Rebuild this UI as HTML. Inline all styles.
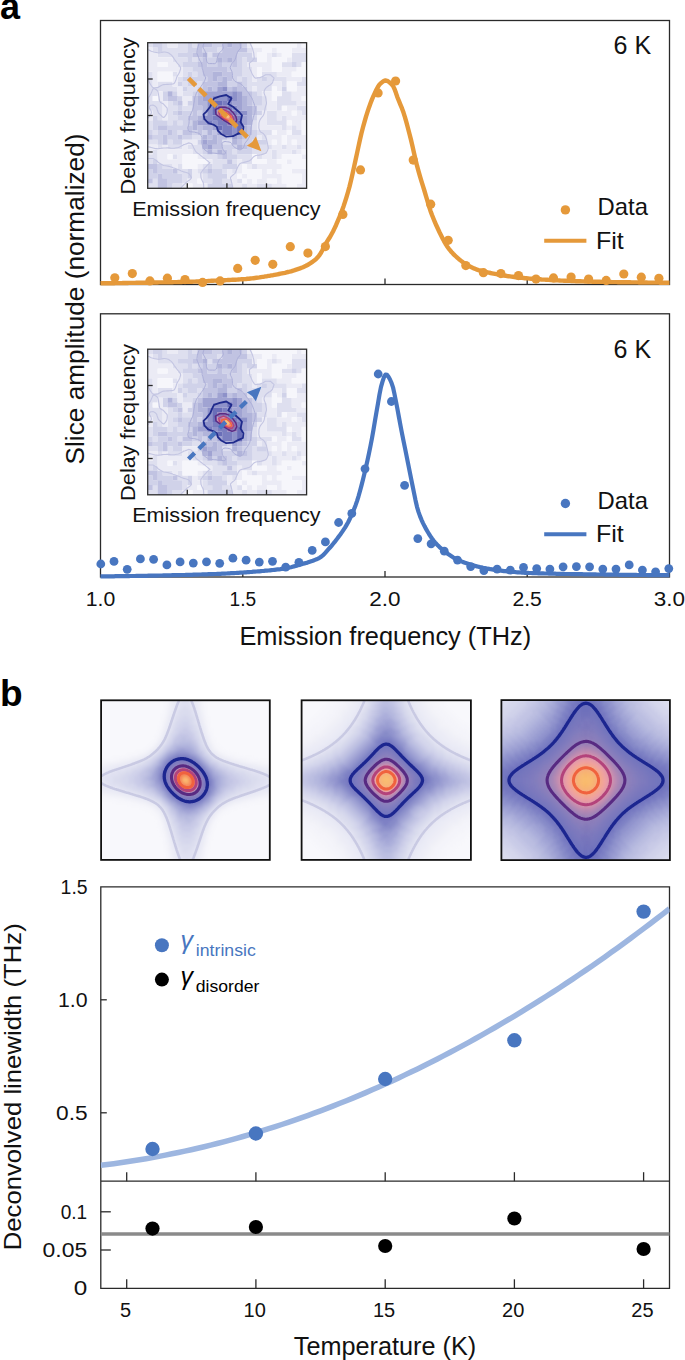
<!DOCTYPE html>
<html><head><meta charset="utf-8"><style>
html,body{margin:0;padding:0;background:#fff;}
svg{display:block;font-family:'Liberation Sans', sans-serif;}
</style></head><body>
<svg width="685" height="1360" viewBox="0 0 685 1360">
<defs>
<g id="hm">
<path d="M0.00 0.00h5.02v4.90h-5.02zM14.90 0.00h5.02v4.90h-5.02zM29.79 0.00h5.02v4.90h-5.02zM34.76 0.00h5.02v4.90h-5.02zM44.69 0.00h5.02v4.90h-5.02zM4.97 4.85h5.02v4.90h-5.02zM14.90 4.85h5.02v4.90h-5.02zM19.86 4.85h5.02v4.90h-5.02zM24.83 4.85h5.02v4.90h-5.02zM29.79 4.85h5.02v4.90h-5.02zM34.76 4.85h5.02v4.90h-5.02zM69.52 4.85h5.02v4.90h-5.02zM99.31 4.85h5.02v4.90h-5.02zM9.93 9.71h5.02v4.90h-5.02zM14.90 9.71h5.02v4.90h-5.02zM19.86 9.71h5.02v4.90h-5.02zM24.83 9.71h5.02v4.90h-5.02zM59.59 9.71h5.02v4.90h-5.02zM124.14 9.71h5.02v4.90h-5.02zM144.00 9.71h5.02v4.90h-5.02zM148.97 9.71h5.02v4.90h-5.02zM153.93 9.71h5.02v4.90h-5.02zM24.83 14.56h5.02v4.90h-5.02zM29.79 14.56h5.02v4.90h-5.02zM34.76 14.56h5.02v4.90h-5.02zM44.69 14.56h5.02v4.90h-5.02zM94.35 14.56h5.02v4.90h-5.02zM144.00 14.56h5.02v4.90h-5.02zM148.97 14.56h5.02v4.90h-5.02zM153.93 14.56h5.02v4.90h-5.02zM29.79 19.41h5.02v4.90h-5.02zM94.35 19.41h5.02v4.90h-5.02zM134.07 19.41h5.02v4.90h-5.02zM139.04 19.41h5.02v4.90h-5.02zM148.97 19.41h5.02v4.90h-5.02zM34.76 24.27h5.02v4.90h-5.02zM39.73 24.27h5.02v4.90h-5.02zM94.35 24.27h5.02v4.90h-5.02zM99.31 24.27h5.02v4.90h-5.02zM0.00 29.12h5.02v4.90h-5.02zM24.83 29.12h5.02v4.90h-5.02zM34.76 29.12h5.02v4.90h-5.02zM44.69 29.12h5.02v4.90h-5.02zM94.35 29.12h5.02v4.90h-5.02zM99.31 29.12h5.02v4.90h-5.02zM114.21 29.12h5.02v4.90h-5.02zM119.18 29.12h5.02v4.90h-5.02zM124.14 29.12h5.02v4.90h-5.02zM0.00 33.97h5.02v4.90h-5.02zM29.79 33.97h5.02v4.90h-5.02zM89.38 33.97h5.02v4.90h-5.02zM99.31 33.97h5.02v4.90h-5.02zM109.24 33.97h5.02v4.90h-5.02zM119.18 33.97h5.02v4.90h-5.02zM124.14 33.97h5.02v4.90h-5.02zM129.11 33.97h5.02v4.90h-5.02zM134.07 33.97h5.02v4.90h-5.02zM153.93 33.97h5.02v4.90h-5.02zM0.00 38.83h5.02v4.90h-5.02zM9.93 38.83h5.02v4.90h-5.02zM14.90 38.83h5.02v4.90h-5.02zM19.86 38.83h5.02v4.90h-5.02zM34.76 38.83h5.02v4.90h-5.02zM49.66 38.83h5.02v4.90h-5.02zM99.31 38.83h5.02v4.90h-5.02zM104.28 38.83h5.02v4.90h-5.02zM109.24 38.83h5.02v4.90h-5.02zM114.21 38.83h5.02v4.90h-5.02zM119.18 38.83h5.02v4.90h-5.02zM134.07 38.83h5.02v4.90h-5.02zM148.97 38.83h5.02v4.90h-5.02zM153.93 38.83h5.02v4.90h-5.02zM0.00 43.68h5.02v4.90h-5.02zM4.97 43.68h5.02v4.90h-5.02zM9.93 43.68h5.02v4.90h-5.02zM14.90 43.68h5.02v4.90h-5.02zM19.86 43.68h5.02v4.90h-5.02zM24.83 43.68h5.02v4.90h-5.02zM39.73 43.68h5.02v4.90h-5.02zM44.69 43.68h5.02v4.90h-5.02zM99.31 43.68h5.02v4.90h-5.02zM109.24 43.68h5.02v4.90h-5.02zM114.21 43.68h5.02v4.90h-5.02zM119.18 43.68h5.02v4.90h-5.02zM0.00 48.53h5.02v4.90h-5.02zM4.97 48.53h5.02v4.90h-5.02zM34.76 48.53h5.02v4.90h-5.02zM39.73 48.53h5.02v4.90h-5.02zM109.24 48.53h5.02v4.90h-5.02zM134.07 48.53h5.02v4.90h-5.02zM139.04 48.53h5.02v4.90h-5.02zM0.00 53.39h5.02v4.90h-5.02zM114.21 53.39h5.02v4.90h-5.02zM129.11 53.39h5.02v4.90h-5.02zM134.07 53.39h5.02v4.90h-5.02zM139.04 53.39h5.02v4.90h-5.02zM0.00 58.24h5.02v4.90h-5.02zM4.97 58.24h5.02v4.90h-5.02zM9.93 58.24h5.02v4.90h-5.02zM19.86 58.24h5.02v4.90h-5.02zM114.21 58.24h5.02v4.90h-5.02zM129.11 58.24h5.02v4.90h-5.02zM134.07 58.24h5.02v4.90h-5.02zM139.04 58.24h5.02v4.90h-5.02zM144.00 58.24h5.02v4.90h-5.02zM0.00 63.09h5.02v4.90h-5.02zM4.97 63.09h5.02v4.90h-5.02zM9.93 63.09h5.02v4.90h-5.02zM19.86 63.09h5.02v4.90h-5.02zM24.83 63.09h5.02v4.90h-5.02zM34.76 63.09h5.02v4.90h-5.02zM39.73 63.09h5.02v4.90h-5.02zM109.24 63.09h5.02v4.90h-5.02zM114.21 63.09h5.02v4.90h-5.02zM129.11 63.09h5.02v4.90h-5.02zM148.97 63.09h5.02v4.90h-5.02zM153.93 63.09h5.02v4.90h-5.02zM4.97 67.95h5.02v4.90h-5.02zM9.93 67.95h5.02v4.90h-5.02zM19.86 67.95h5.02v4.90h-5.02zM119.18 67.95h5.02v4.90h-5.02zM124.14 67.95h5.02v4.90h-5.02zM153.93 67.95h5.02v4.90h-5.02zM9.93 72.80h5.02v4.90h-5.02zM19.86 72.80h5.02v4.90h-5.02zM24.83 72.80h5.02v4.90h-5.02zM119.18 72.80h5.02v4.90h-5.02zM124.14 72.80h5.02v4.90h-5.02zM134.07 72.80h5.02v4.90h-5.02zM0.00 77.65h5.02v4.90h-5.02zM19.86 77.65h5.02v4.90h-5.02zM29.79 77.65h5.02v4.90h-5.02zM104.28 77.65h5.02v4.90h-5.02zM119.18 77.65h5.02v4.90h-5.02zM124.14 77.65h5.02v4.90h-5.02zM129.11 77.65h5.02v4.90h-5.02zM134.07 77.65h5.02v4.90h-5.02zM0.00 82.51h5.02v4.90h-5.02zM104.28 82.51h5.02v4.90h-5.02zM134.07 82.51h5.02v4.90h-5.02zM144.00 82.51h5.02v4.90h-5.02zM4.97 87.36h5.02v4.90h-5.02zM29.79 87.36h5.02v4.90h-5.02zM109.24 87.36h5.02v4.90h-5.02zM114.21 87.36h5.02v4.90h-5.02zM119.18 87.36h5.02v4.90h-5.02zM144.00 87.36h5.02v4.90h-5.02zM148.97 87.36h5.02v4.90h-5.02zM44.69 92.21h5.02v4.90h-5.02zM49.66 92.21h5.02v4.90h-5.02zM114.21 92.21h5.02v4.90h-5.02zM0.00 97.07h5.02v4.90h-5.02zM4.97 97.07h5.02v4.90h-5.02zM19.86 97.07h5.02v4.90h-5.02zM74.48 97.07h5.02v4.90h-5.02zM79.45 97.07h5.02v4.90h-5.02zM104.28 97.07h5.02v4.90h-5.02zM9.93 101.92h5.02v4.90h-5.02zM19.86 101.92h5.02v4.90h-5.02zM24.83 101.92h5.02v4.90h-5.02zM29.79 101.92h5.02v4.90h-5.02zM39.73 101.92h5.02v4.90h-5.02zM44.69 101.92h5.02v4.90h-5.02zM49.66 101.92h5.02v4.90h-5.02zM104.28 101.92h5.02v4.90h-5.02zM109.24 101.92h5.02v4.90h-5.02zM114.21 101.92h5.02v4.90h-5.02zM119.18 101.92h5.02v4.90h-5.02zM134.07 101.92h5.02v4.90h-5.02zM148.97 101.92h5.02v4.90h-5.02zM4.97 106.77h5.02v4.90h-5.02zM44.69 106.77h5.02v4.90h-5.02zM49.66 106.77h5.02v4.90h-5.02zM84.42 106.77h5.02v4.90h-5.02zM104.28 106.77h5.02v4.90h-5.02zM109.24 106.77h5.02v4.90h-5.02zM114.21 106.77h5.02v4.90h-5.02zM124.14 106.77h5.02v4.90h-5.02zM144.00 106.77h5.02v4.90h-5.02zM0.00 111.63h5.02v4.90h-5.02zM4.97 111.63h5.02v4.90h-5.02zM24.83 111.63h5.02v4.90h-5.02zM54.62 111.63h5.02v4.90h-5.02zM59.59 111.63h5.02v4.90h-5.02zM64.55 111.63h5.02v4.90h-5.02zM89.38 111.63h5.02v4.90h-5.02zM94.35 111.63h5.02v4.90h-5.02zM99.31 111.63h5.02v4.90h-5.02zM109.24 111.63h5.02v4.90h-5.02zM124.14 111.63h5.02v4.90h-5.02zM0.00 116.48h5.02v4.90h-5.02zM64.55 116.48h5.02v4.90h-5.02zM69.52 116.48h5.02v4.90h-5.02zM74.48 116.48h5.02v4.90h-5.02zM84.42 116.48h5.02v4.90h-5.02zM94.35 116.48h5.02v4.90h-5.02zM99.31 116.48h5.02v4.90h-5.02zM14.90 121.33h5.02v4.90h-5.02zM19.86 121.33h5.02v4.90h-5.02zM29.79 121.33h5.02v4.90h-5.02zM54.62 121.33h5.02v4.90h-5.02zM64.55 121.33h5.02v4.90h-5.02zM69.52 121.33h5.02v4.90h-5.02zM104.28 121.33h5.02v4.90h-5.02zM29.79 126.19h5.02v4.90h-5.02zM34.76 126.19h5.02v4.90h-5.02zM49.66 126.19h5.02v4.90h-5.02zM74.48 126.19h5.02v4.90h-5.02zM84.42 126.19h5.02v4.90h-5.02zM34.76 131.04h5.02v4.90h-5.02zM54.62 131.04h5.02v4.90h-5.02zM4.97 135.89h5.02v4.90h-5.02zM34.76 135.89h5.02v4.90h-5.02zM54.62 135.89h5.02v4.90h-5.02zM59.59 135.89h5.02v4.90h-5.02zM74.48 135.89h5.02v4.90h-5.02zM79.45 135.89h5.02v4.90h-5.02zM89.38 135.89h5.02v4.90h-5.02zM0.00 140.75h5.02v4.90h-5.02zM4.97 140.75h5.02v4.90h-5.02zM24.83 140.75h5.02v4.90h-5.02zM29.79 140.75h5.02v4.90h-5.02zM94.35 140.75h5.02v4.90h-5.02zM109.24 140.75h5.02v4.90h-5.02zM114.21 140.75h5.02v4.90h-5.02zM119.18 140.75h5.02v4.90h-5.02z" fill="#dedfef"/>
<path d="M4.97 0.00h5.02v4.90h-5.02zM9.93 0.00h5.02v4.90h-5.02zM39.73 0.00h5.02v4.90h-5.02zM64.55 0.00h5.02v4.90h-5.02zM69.52 0.00h5.02v4.90h-5.02zM94.35 0.00h5.02v4.90h-5.02zM9.93 4.85h5.02v4.90h-5.02zM39.73 4.85h5.02v4.90h-5.02zM44.69 4.85h5.02v4.90h-5.02zM54.62 4.85h5.02v4.90h-5.02zM59.59 4.85h5.02v4.90h-5.02zM64.55 4.85h5.02v4.90h-5.02zM29.79 9.71h5.02v4.90h-5.02zM34.76 9.71h5.02v4.90h-5.02zM39.73 9.71h5.02v4.90h-5.02zM89.38 9.71h5.02v4.90h-5.02zM94.35 9.71h5.02v4.90h-5.02zM99.31 9.71h5.02v4.90h-5.02zM39.73 14.56h5.02v4.90h-5.02zM49.66 14.56h5.02v4.90h-5.02zM59.59 14.56h5.02v4.90h-5.02zM64.55 14.56h5.02v4.90h-5.02zM89.38 14.56h5.02v4.90h-5.02zM99.31 14.56h5.02v4.90h-5.02zM104.28 14.56h5.02v4.90h-5.02zM34.76 19.41h5.02v4.90h-5.02zM39.73 19.41h5.02v4.90h-5.02zM44.69 19.41h5.02v4.90h-5.02zM59.59 19.41h5.02v4.90h-5.02zM64.55 19.41h5.02v4.90h-5.02zM74.48 19.41h5.02v4.90h-5.02zM79.45 19.41h5.02v4.90h-5.02zM89.38 19.41h5.02v4.90h-5.02zM144.00 19.41h5.02v4.90h-5.02zM44.69 24.27h5.02v4.90h-5.02zM49.66 24.27h5.02v4.90h-5.02zM79.45 24.27h5.02v4.90h-5.02zM84.42 24.27h5.02v4.90h-5.02zM89.38 24.27h5.02v4.90h-5.02zM39.73 29.12h5.02v4.90h-5.02zM49.66 29.12h5.02v4.90h-5.02zM84.42 29.12h5.02v4.90h-5.02zM89.38 29.12h5.02v4.90h-5.02zM34.76 33.97h5.02v4.90h-5.02zM39.73 33.97h5.02v4.90h-5.02zM44.69 33.97h5.02v4.90h-5.02zM49.66 33.97h5.02v4.90h-5.02zM54.62 33.97h5.02v4.90h-5.02zM84.42 33.97h5.02v4.90h-5.02zM94.35 33.97h5.02v4.90h-5.02zM114.21 33.97h5.02v4.90h-5.02zM29.79 38.83h5.02v4.90h-5.02zM39.73 38.83h5.02v4.90h-5.02zM44.69 38.83h5.02v4.90h-5.02zM79.45 38.83h5.02v4.90h-5.02zM84.42 38.83h5.02v4.90h-5.02zM94.35 38.83h5.02v4.90h-5.02zM34.76 43.68h5.02v4.90h-5.02zM49.66 43.68h5.02v4.90h-5.02zM134.07 43.68h5.02v4.90h-5.02zM14.90 48.53h5.02v4.90h-5.02zM24.83 48.53h5.02v4.90h-5.02zM44.69 48.53h5.02v4.90h-5.02zM104.28 48.53h5.02v4.90h-5.02zM14.90 53.39h5.02v4.90h-5.02zM29.79 53.39h5.02v4.90h-5.02zM104.28 53.39h5.02v4.90h-5.02zM109.24 53.39h5.02v4.90h-5.02zM24.83 58.24h5.02v4.90h-5.02zM39.73 58.24h5.02v4.90h-5.02zM104.28 58.24h5.02v4.90h-5.02zM109.24 58.24h5.02v4.90h-5.02zM29.79 63.09h5.02v4.90h-5.02zM24.83 67.95h5.02v4.90h-5.02zM34.76 67.95h5.02v4.90h-5.02zM39.73 67.95h5.02v4.90h-5.02zM49.66 67.95h5.02v4.90h-5.02zM109.24 67.95h5.02v4.90h-5.02zM4.97 72.80h5.02v4.90h-5.02zM29.79 72.80h5.02v4.90h-5.02zM34.76 72.80h5.02v4.90h-5.02zM104.28 72.80h5.02v4.90h-5.02zM4.97 77.65h5.02v4.90h-5.02zM9.93 77.65h5.02v4.90h-5.02zM14.90 77.65h5.02v4.90h-5.02zM24.83 77.65h5.02v4.90h-5.02zM34.76 77.65h5.02v4.90h-5.02zM39.73 77.65h5.02v4.90h-5.02zM4.97 82.51h5.02v4.90h-5.02zM19.86 82.51h5.02v4.90h-5.02zM24.83 82.51h5.02v4.90h-5.02zM29.79 82.51h5.02v4.90h-5.02zM34.76 82.51h5.02v4.90h-5.02zM0.00 87.36h5.02v4.90h-5.02zM9.93 87.36h5.02v4.90h-5.02zM14.90 87.36h5.02v4.90h-5.02zM24.83 87.36h5.02v4.90h-5.02zM44.69 87.36h5.02v4.90h-5.02zM54.62 87.36h5.02v4.90h-5.02zM104.28 87.36h5.02v4.90h-5.02zM4.97 92.21h5.02v4.90h-5.02zM9.93 92.21h5.02v4.90h-5.02zM19.86 92.21h5.02v4.90h-5.02zM24.83 92.21h5.02v4.90h-5.02zM34.76 92.21h5.02v4.90h-5.02zM39.73 92.21h5.02v4.90h-5.02zM79.45 92.21h5.02v4.90h-5.02zM99.31 92.21h5.02v4.90h-5.02zM104.28 92.21h5.02v4.90h-5.02zM9.93 97.07h5.02v4.90h-5.02zM24.83 97.07h5.02v4.90h-5.02zM29.79 97.07h5.02v4.90h-5.02zM49.66 97.07h5.02v4.90h-5.02zM94.35 97.07h5.02v4.90h-5.02zM99.31 97.07h5.02v4.90h-5.02zM109.24 97.07h5.02v4.90h-5.02zM114.21 97.07h5.02v4.90h-5.02zM74.48 101.92h5.02v4.90h-5.02zM79.45 101.92h5.02v4.90h-5.02zM84.42 101.92h5.02v4.90h-5.02zM99.31 101.92h5.02v4.90h-5.02zM54.62 106.77h5.02v4.90h-5.02zM64.55 106.77h5.02v4.90h-5.02zM79.45 106.77h5.02v4.90h-5.02zM89.38 106.77h5.02v4.90h-5.02zM94.35 106.77h5.02v4.90h-5.02zM99.31 106.77h5.02v4.90h-5.02zM69.52 111.63h5.02v4.90h-5.02zM79.45 111.63h5.02v4.90h-5.02zM84.42 111.63h5.02v4.90h-5.02zM4.97 116.48h5.02v4.90h-5.02zM9.93 121.33h5.02v4.90h-5.02zM59.59 121.33h5.02v4.90h-5.02zM74.48 121.33h5.02v4.90h-5.02zM79.45 121.33h5.02v4.90h-5.02zM84.42 121.33h5.02v4.90h-5.02zM0.00 126.19h5.02v4.90h-5.02zM9.93 126.19h5.02v4.90h-5.02zM14.90 126.19h5.02v4.90h-5.02zM19.86 126.19h5.02v4.90h-5.02zM39.73 126.19h5.02v4.90h-5.02zM54.62 126.19h5.02v4.90h-5.02zM64.55 126.19h5.02v4.90h-5.02zM69.52 126.19h5.02v4.90h-5.02zM0.00 131.04h5.02v4.90h-5.02zM4.97 131.04h5.02v4.90h-5.02zM14.90 131.04h5.02v4.90h-5.02zM19.86 131.04h5.02v4.90h-5.02zM24.83 131.04h5.02v4.90h-5.02zM29.79 131.04h5.02v4.90h-5.02zM39.73 131.04h5.02v4.90h-5.02zM59.59 131.04h5.02v4.90h-5.02zM64.55 131.04h5.02v4.90h-5.02zM69.52 131.04h5.02v4.90h-5.02zM74.48 131.04h5.02v4.90h-5.02zM19.86 135.89h5.02v4.90h-5.02zM24.83 135.89h5.02v4.90h-5.02zM29.79 135.89h5.02v4.90h-5.02zM64.55 135.89h5.02v4.90h-5.02zM69.52 135.89h5.02v4.90h-5.02zM19.86 140.75h5.02v4.90h-5.02zM59.59 140.75h5.02v4.90h-5.02zM64.55 140.75h5.02v4.90h-5.02zM69.52 140.75h5.02v4.90h-5.02zM74.48 140.75h5.02v4.90h-5.02zM79.45 140.75h5.02v4.90h-5.02z" fill="#d0d2e9"/>
<path d="M19.86 0.00h5.02v4.90h-5.02zM24.83 0.00h5.02v4.90h-5.02zM99.31 0.00h5.02v4.90h-5.02zM148.97 0.00h5.02v4.90h-5.02zM0.00 4.85h5.02v4.90h-5.02zM104.28 4.85h5.02v4.90h-5.02zM109.24 4.85h5.02v4.90h-5.02zM124.14 4.85h5.02v4.90h-5.02zM144.00 4.85h5.02v4.90h-5.02zM148.97 4.85h5.02v4.90h-5.02zM153.93 4.85h5.02v4.90h-5.02zM0.00 9.71h5.02v4.90h-5.02zM4.97 9.71h5.02v4.90h-5.02zM104.28 9.71h5.02v4.90h-5.02zM119.18 9.71h5.02v4.90h-5.02zM129.11 9.71h5.02v4.90h-5.02zM0.00 14.56h5.02v4.90h-5.02zM4.97 14.56h5.02v4.90h-5.02zM9.93 14.56h5.02v4.90h-5.02zM14.90 14.56h5.02v4.90h-5.02zM19.86 14.56h5.02v4.90h-5.02zM119.18 14.56h5.02v4.90h-5.02zM139.04 14.56h5.02v4.90h-5.02zM0.00 19.41h5.02v4.90h-5.02zM4.97 19.41h5.02v4.90h-5.02zM19.86 19.41h5.02v4.90h-5.02zM24.83 19.41h5.02v4.90h-5.02zM99.31 19.41h5.02v4.90h-5.02zM104.28 19.41h5.02v4.90h-5.02zM109.24 19.41h5.02v4.90h-5.02zM114.21 19.41h5.02v4.90h-5.02zM119.18 19.41h5.02v4.90h-5.02zM0.00 24.27h5.02v4.90h-5.02zM4.97 24.27h5.02v4.90h-5.02zM9.93 24.27h5.02v4.90h-5.02zM14.90 24.27h5.02v4.90h-5.02zM19.86 24.27h5.02v4.90h-5.02zM24.83 24.27h5.02v4.90h-5.02zM29.79 24.27h5.02v4.90h-5.02zM104.28 24.27h5.02v4.90h-5.02zM114.21 24.27h5.02v4.90h-5.02zM119.18 24.27h5.02v4.90h-5.02zM134.07 24.27h5.02v4.90h-5.02zM139.04 24.27h5.02v4.90h-5.02zM144.00 24.27h5.02v4.90h-5.02zM4.97 29.12h5.02v4.90h-5.02zM29.79 29.12h5.02v4.90h-5.02zM104.28 29.12h5.02v4.90h-5.02zM129.11 29.12h5.02v4.90h-5.02zM134.07 29.12h5.02v4.90h-5.02zM139.04 29.12h5.02v4.90h-5.02zM4.97 33.97h5.02v4.90h-5.02zM24.83 33.97h5.02v4.90h-5.02zM104.28 33.97h5.02v4.90h-5.02zM139.04 33.97h5.02v4.90h-5.02zM144.00 33.97h5.02v4.90h-5.02zM148.97 33.97h5.02v4.90h-5.02zM4.97 38.83h5.02v4.90h-5.02zM24.83 38.83h5.02v4.90h-5.02zM124.14 38.83h5.02v4.90h-5.02zM129.11 38.83h5.02v4.90h-5.02zM29.79 43.68h5.02v4.90h-5.02zM104.28 43.68h5.02v4.90h-5.02zM129.11 43.68h5.02v4.90h-5.02zM148.97 43.68h5.02v4.90h-5.02zM153.93 43.68h5.02v4.90h-5.02zM9.93 48.53h5.02v4.90h-5.02zM29.79 48.53h5.02v4.90h-5.02zM114.21 48.53h5.02v4.90h-5.02zM119.18 48.53h5.02v4.90h-5.02zM144.00 48.53h5.02v4.90h-5.02zM148.97 48.53h5.02v4.90h-5.02zM153.93 48.53h5.02v4.90h-5.02zM9.93 53.39h5.02v4.90h-5.02zM34.76 53.39h5.02v4.90h-5.02zM39.73 53.39h5.02v4.90h-5.02zM119.18 53.39h5.02v4.90h-5.02zM144.00 53.39h5.02v4.90h-5.02zM148.97 53.39h5.02v4.90h-5.02zM14.90 58.24h5.02v4.90h-5.02zM34.76 58.24h5.02v4.90h-5.02zM119.18 58.24h5.02v4.90h-5.02zM124.14 58.24h5.02v4.90h-5.02zM148.97 58.24h5.02v4.90h-5.02zM153.93 58.24h5.02v4.90h-5.02zM14.90 63.09h5.02v4.90h-5.02zM119.18 63.09h5.02v4.90h-5.02zM124.14 63.09h5.02v4.90h-5.02zM139.04 63.09h5.02v4.90h-5.02zM144.00 63.09h5.02v4.90h-5.02zM0.00 67.95h5.02v4.90h-5.02zM14.90 67.95h5.02v4.90h-5.02zM114.21 67.95h5.02v4.90h-5.02zM129.11 67.95h5.02v4.90h-5.02zM134.07 67.95h5.02v4.90h-5.02zM139.04 67.95h5.02v4.90h-5.02zM148.97 67.95h5.02v4.90h-5.02zM0.00 72.80h5.02v4.90h-5.02zM14.90 72.80h5.02v4.90h-5.02zM109.24 72.80h5.02v4.90h-5.02zM114.21 72.80h5.02v4.90h-5.02zM129.11 72.80h5.02v4.90h-5.02zM139.04 72.80h5.02v4.90h-5.02zM144.00 72.80h5.02v4.90h-5.02zM148.97 72.80h5.02v4.90h-5.02zM153.93 72.80h5.02v4.90h-5.02zM109.24 77.65h5.02v4.90h-5.02zM114.21 77.65h5.02v4.90h-5.02zM144.00 77.65h5.02v4.90h-5.02zM148.97 77.65h5.02v4.90h-5.02zM109.24 82.51h5.02v4.90h-5.02zM114.21 82.51h5.02v4.90h-5.02zM119.18 82.51h5.02v4.90h-5.02zM124.14 82.51h5.02v4.90h-5.02zM129.11 82.51h5.02v4.90h-5.02zM139.04 82.51h5.02v4.90h-5.02zM148.97 82.51h5.02v4.90h-5.02zM129.11 87.36h5.02v4.90h-5.02zM134.07 87.36h5.02v4.90h-5.02zM109.24 92.21h5.02v4.90h-5.02zM119.18 92.21h5.02v4.90h-5.02zM124.14 92.21h5.02v4.90h-5.02zM129.11 92.21h5.02v4.90h-5.02zM139.04 92.21h5.02v4.90h-5.02zM144.00 92.21h5.02v4.90h-5.02zM148.97 92.21h5.02v4.90h-5.02zM153.93 92.21h5.02v4.90h-5.02zM34.76 97.07h5.02v4.90h-5.02zM39.73 97.07h5.02v4.90h-5.02zM44.69 97.07h5.02v4.90h-5.02zM119.18 97.07h5.02v4.90h-5.02zM129.11 97.07h5.02v4.90h-5.02zM139.04 97.07h5.02v4.90h-5.02zM148.97 97.07h5.02v4.90h-5.02zM153.93 97.07h5.02v4.90h-5.02zM0.00 101.92h5.02v4.90h-5.02zM4.97 101.92h5.02v4.90h-5.02zM14.90 101.92h5.02v4.90h-5.02zM34.76 101.92h5.02v4.90h-5.02zM124.14 101.92h5.02v4.90h-5.02zM129.11 101.92h5.02v4.90h-5.02zM139.04 101.92h5.02v4.90h-5.02zM144.00 101.92h5.02v4.90h-5.02zM153.93 101.92h5.02v4.90h-5.02zM0.00 106.77h5.02v4.90h-5.02zM9.93 106.77h5.02v4.90h-5.02zM14.90 106.77h5.02v4.90h-5.02zM19.86 106.77h5.02v4.90h-5.02zM24.83 106.77h5.02v4.90h-5.02zM29.79 106.77h5.02v4.90h-5.02zM34.76 106.77h5.02v4.90h-5.02zM39.73 106.77h5.02v4.90h-5.02zM119.18 106.77h5.02v4.90h-5.02zM129.11 106.77h5.02v4.90h-5.02zM134.07 106.77h5.02v4.90h-5.02zM139.04 106.77h5.02v4.90h-5.02zM148.97 106.77h5.02v4.90h-5.02zM9.93 111.63h5.02v4.90h-5.02zM14.90 111.63h5.02v4.90h-5.02zM29.79 111.63h5.02v4.90h-5.02zM49.66 111.63h5.02v4.90h-5.02zM114.21 111.63h5.02v4.90h-5.02zM119.18 111.63h5.02v4.90h-5.02zM129.11 111.63h5.02v4.90h-5.02zM153.93 111.63h5.02v4.90h-5.02zM9.93 116.48h5.02v4.90h-5.02zM14.90 116.48h5.02v4.90h-5.02zM19.86 116.48h5.02v4.90h-5.02zM24.83 116.48h5.02v4.90h-5.02zM29.79 116.48h5.02v4.90h-5.02zM59.59 116.48h5.02v4.90h-5.02zM89.38 116.48h5.02v4.90h-5.02zM119.18 116.48h5.02v4.90h-5.02zM124.14 116.48h5.02v4.90h-5.02zM139.04 116.48h5.02v4.90h-5.02zM24.83 121.33h5.02v4.90h-5.02zM49.66 121.33h5.02v4.90h-5.02zM89.38 121.33h5.02v4.90h-5.02zM99.31 121.33h5.02v4.90h-5.02zM109.24 121.33h5.02v4.90h-5.02zM114.21 121.33h5.02v4.90h-5.02zM119.18 121.33h5.02v4.90h-5.02zM124.14 121.33h5.02v4.90h-5.02zM129.11 121.33h5.02v4.90h-5.02zM44.69 126.19h5.02v4.90h-5.02zM79.45 126.19h5.02v4.90h-5.02zM89.38 126.19h5.02v4.90h-5.02zM114.21 126.19h5.02v4.90h-5.02zM124.14 126.19h5.02v4.90h-5.02zM144.00 126.19h5.02v4.90h-5.02zM148.97 126.19h5.02v4.90h-5.02zM153.93 126.19h5.02v4.90h-5.02zM44.69 131.04h5.02v4.90h-5.02zM49.66 131.04h5.02v4.90h-5.02zM79.45 131.04h5.02v4.90h-5.02zM84.42 131.04h5.02v4.90h-5.02zM94.35 131.04h5.02v4.90h-5.02zM114.21 131.04h5.02v4.90h-5.02zM119.18 131.04h5.02v4.90h-5.02zM124.14 131.04h5.02v4.90h-5.02zM129.11 131.04h5.02v4.90h-5.02zM153.93 131.04h5.02v4.90h-5.02zM39.73 135.89h5.02v4.90h-5.02zM44.69 135.89h5.02v4.90h-5.02zM84.42 135.89h5.02v4.90h-5.02zM99.31 135.89h5.02v4.90h-5.02zM109.24 135.89h5.02v4.90h-5.02zM114.21 135.89h5.02v4.90h-5.02zM129.11 135.89h5.02v4.90h-5.02zM153.93 135.89h5.02v4.90h-5.02zM34.76 140.75h5.02v4.90h-5.02zM44.69 140.75h5.02v4.90h-5.02zM49.66 140.75h5.02v4.90h-5.02zM54.62 140.75h5.02v4.90h-5.02zM84.42 140.75h5.02v4.90h-5.02zM89.38 140.75h5.02v4.90h-5.02zM99.31 140.75h5.02v4.90h-5.02zM104.28 140.75h5.02v4.90h-5.02zM124.14 140.75h5.02v4.90h-5.02zM129.11 140.75h5.02v4.90h-5.02zM134.07 140.75h5.02v4.90h-5.02zM148.97 140.75h5.02v4.90h-5.02zM153.93 140.75h5.02v4.90h-5.02z" fill="#ebebf5"/>
<path d="M49.66 0.00h5.02v4.90h-5.02zM54.62 0.00h5.02v4.90h-5.02zM59.59 0.00h5.02v4.90h-5.02zM74.48 0.00h5.02v4.90h-5.02zM84.42 0.00h5.02v4.90h-5.02zM89.38 0.00h5.02v4.90h-5.02zM49.66 4.85h5.02v4.90h-5.02zM74.48 4.85h5.02v4.90h-5.02zM79.45 4.85h5.02v4.90h-5.02zM84.42 4.85h5.02v4.90h-5.02zM89.38 4.85h5.02v4.90h-5.02zM94.35 4.85h5.02v4.90h-5.02zM44.69 9.71h5.02v4.90h-5.02zM49.66 9.71h5.02v4.90h-5.02zM64.55 9.71h5.02v4.90h-5.02zM69.52 9.71h5.02v4.90h-5.02zM74.48 9.71h5.02v4.90h-5.02zM79.45 9.71h5.02v4.90h-5.02zM84.42 9.71h5.02v4.90h-5.02zM54.62 14.56h5.02v4.90h-5.02zM74.48 14.56h5.02v4.90h-5.02zM84.42 14.56h5.02v4.90h-5.02zM49.66 19.41h5.02v4.90h-5.02zM54.62 19.41h5.02v4.90h-5.02zM69.52 19.41h5.02v4.90h-5.02zM84.42 19.41h5.02v4.90h-5.02zM54.62 24.27h5.02v4.90h-5.02zM59.59 24.27h5.02v4.90h-5.02zM64.55 24.27h5.02v4.90h-5.02zM69.52 24.27h5.02v4.90h-5.02zM74.48 24.27h5.02v4.90h-5.02zM54.62 29.12h5.02v4.90h-5.02zM59.59 29.12h5.02v4.90h-5.02zM74.48 29.12h5.02v4.90h-5.02zM79.45 29.12h5.02v4.90h-5.02zM59.59 33.97h5.02v4.90h-5.02zM69.52 33.97h5.02v4.90h-5.02zM79.45 33.97h5.02v4.90h-5.02zM54.62 38.83h5.02v4.90h-5.02zM59.59 38.83h5.02v4.90h-5.02zM64.55 38.83h5.02v4.90h-5.02zM89.38 38.83h5.02v4.90h-5.02zM54.62 43.68h5.02v4.90h-5.02zM64.55 43.68h5.02v4.90h-5.02zM79.45 43.68h5.02v4.90h-5.02zM89.38 43.68h5.02v4.90h-5.02zM94.35 43.68h5.02v4.90h-5.02zM49.66 48.53h5.02v4.90h-5.02zM94.35 48.53h5.02v4.90h-5.02zM99.31 48.53h5.02v4.90h-5.02zM19.86 53.39h5.02v4.90h-5.02zM24.83 53.39h5.02v4.90h-5.02zM44.69 53.39h5.02v4.90h-5.02zM99.31 53.39h5.02v4.90h-5.02zM29.79 58.24h5.02v4.90h-5.02zM44.69 58.24h5.02v4.90h-5.02zM99.31 58.24h5.02v4.90h-5.02zM44.69 63.09h5.02v4.90h-5.02zM49.66 63.09h5.02v4.90h-5.02zM104.28 63.09h5.02v4.90h-5.02zM29.79 67.95h5.02v4.90h-5.02zM44.69 67.95h5.02v4.90h-5.02zM104.28 67.95h5.02v4.90h-5.02zM39.73 72.80h5.02v4.90h-5.02zM44.69 72.80h5.02v4.90h-5.02zM9.93 82.51h5.02v4.90h-5.02zM14.90 82.51h5.02v4.90h-5.02zM39.73 82.51h5.02v4.90h-5.02zM49.66 82.51h5.02v4.90h-5.02zM99.31 82.51h5.02v4.90h-5.02zM19.86 87.36h5.02v4.90h-5.02zM34.76 87.36h5.02v4.90h-5.02zM39.73 87.36h5.02v4.90h-5.02zM49.66 87.36h5.02v4.90h-5.02zM64.55 87.36h5.02v4.90h-5.02zM99.31 87.36h5.02v4.90h-5.02zM0.00 92.21h5.02v4.90h-5.02zM14.90 92.21h5.02v4.90h-5.02zM29.79 92.21h5.02v4.90h-5.02zM59.59 92.21h5.02v4.90h-5.02zM69.52 92.21h5.02v4.90h-5.02zM74.48 92.21h5.02v4.90h-5.02zM94.35 92.21h5.02v4.90h-5.02zM14.90 97.07h5.02v4.90h-5.02zM69.52 97.07h5.02v4.90h-5.02zM89.38 97.07h5.02v4.90h-5.02zM64.55 101.92h5.02v4.90h-5.02zM69.52 101.92h5.02v4.90h-5.02zM94.35 101.92h5.02v4.90h-5.02zM74.48 106.77h5.02v4.90h-5.02zM74.48 111.63h5.02v4.90h-5.02zM79.45 116.48h5.02v4.90h-5.02zM0.00 121.33h5.02v4.90h-5.02zM4.97 121.33h5.02v4.90h-5.02zM4.97 126.19h5.02v4.90h-5.02zM24.83 126.19h5.02v4.90h-5.02zM59.59 126.19h5.02v4.90h-5.02zM9.93 131.04h5.02v4.90h-5.02zM0.00 135.89h5.02v4.90h-5.02zM9.93 135.89h5.02v4.90h-5.02zM14.90 135.89h5.02v4.90h-5.02zM9.93 140.75h5.02v4.90h-5.02zM14.90 140.75h5.02v4.90h-5.02z" fill="#c1c3e2"/>
<path d="M79.45 0.00h5.02v4.90h-5.02zM54.62 9.71h5.02v4.90h-5.02zM69.52 14.56h5.02v4.90h-5.02zM79.45 14.56h5.02v4.90h-5.02zM64.55 29.12h5.02v4.90h-5.02zM69.52 29.12h5.02v4.90h-5.02zM64.55 33.97h5.02v4.90h-5.02zM74.48 33.97h5.02v4.90h-5.02zM69.52 38.83h5.02v4.90h-5.02zM74.48 38.83h5.02v4.90h-5.02zM59.59 43.68h5.02v4.90h-5.02zM84.42 43.68h5.02v4.90h-5.02zM19.86 48.53h5.02v4.90h-5.02zM49.66 53.39h5.02v4.90h-5.02zM94.35 53.39h5.02v4.90h-5.02zM49.66 58.24h5.02v4.90h-5.02zM54.62 58.24h5.02v4.90h-5.02zM94.35 58.24h5.02v4.90h-5.02zM54.62 63.09h5.02v4.90h-5.02zM94.35 63.09h5.02v4.90h-5.02zM99.31 63.09h5.02v4.90h-5.02zM54.62 67.95h5.02v4.90h-5.02zM99.31 67.95h5.02v4.90h-5.02zM49.66 72.80h5.02v4.90h-5.02zM99.31 72.80h5.02v4.90h-5.02zM44.69 77.65h5.02v4.90h-5.02zM99.31 77.65h5.02v4.90h-5.02zM44.69 82.51h5.02v4.90h-5.02zM54.62 82.51h5.02v4.90h-5.02zM59.59 82.51h5.02v4.90h-5.02zM94.35 82.51h5.02v4.90h-5.02zM59.59 87.36h5.02v4.90h-5.02zM94.35 87.36h5.02v4.90h-5.02zM54.62 92.21h5.02v4.90h-5.02zM64.55 92.21h5.02v4.90h-5.02zM89.38 92.21h5.02v4.90h-5.02zM59.59 97.07h5.02v4.90h-5.02zM64.55 97.07h5.02v4.90h-5.02zM84.42 97.07h5.02v4.90h-5.02zM54.62 101.92h5.02v4.90h-5.02zM89.38 101.92h5.02v4.90h-5.02zM59.59 106.77h5.02v4.90h-5.02zM69.52 106.77h5.02v4.90h-5.02z" fill="#b1b4da"/>
<path d="M104.28 0.00h5.02v4.90h-5.02zM109.24 0.00h5.02v4.90h-5.02zM114.21 0.00h5.02v4.90h-5.02zM119.18 0.00h5.02v4.90h-5.02zM124.14 0.00h5.02v4.90h-5.02zM129.11 0.00h5.02v4.90h-5.02zM134.07 0.00h5.02v4.90h-5.02zM139.04 0.00h5.02v4.90h-5.02zM144.00 0.00h5.02v4.90h-5.02zM153.93 0.00h5.02v4.90h-5.02zM114.21 4.85h5.02v4.90h-5.02zM119.18 4.85h5.02v4.90h-5.02zM129.11 4.85h5.02v4.90h-5.02zM134.07 4.85h5.02v4.90h-5.02zM139.04 4.85h5.02v4.90h-5.02zM109.24 9.71h5.02v4.90h-5.02zM114.21 9.71h5.02v4.90h-5.02zM134.07 9.71h5.02v4.90h-5.02zM139.04 9.71h5.02v4.90h-5.02zM109.24 14.56h5.02v4.90h-5.02zM114.21 14.56h5.02v4.90h-5.02zM124.14 14.56h5.02v4.90h-5.02zM129.11 14.56h5.02v4.90h-5.02zM134.07 14.56h5.02v4.90h-5.02zM9.93 19.41h5.02v4.90h-5.02zM14.90 19.41h5.02v4.90h-5.02zM124.14 19.41h5.02v4.90h-5.02zM129.11 19.41h5.02v4.90h-5.02zM153.93 19.41h5.02v4.90h-5.02zM109.24 24.27h5.02v4.90h-5.02zM124.14 24.27h5.02v4.90h-5.02zM129.11 24.27h5.02v4.90h-5.02zM148.97 24.27h5.02v4.90h-5.02zM153.93 24.27h5.02v4.90h-5.02zM9.93 29.12h5.02v4.90h-5.02zM14.90 29.12h5.02v4.90h-5.02zM19.86 29.12h5.02v4.90h-5.02zM109.24 29.12h5.02v4.90h-5.02zM144.00 29.12h5.02v4.90h-5.02zM148.97 29.12h5.02v4.90h-5.02zM153.93 29.12h5.02v4.90h-5.02zM9.93 33.97h5.02v4.90h-5.02zM14.90 33.97h5.02v4.90h-5.02zM19.86 33.97h5.02v4.90h-5.02zM139.04 38.83h5.02v4.90h-5.02zM144.00 38.83h5.02v4.90h-5.02zM124.14 43.68h5.02v4.90h-5.02zM139.04 43.68h5.02v4.90h-5.02zM144.00 43.68h5.02v4.90h-5.02zM124.14 48.53h5.02v4.90h-5.02zM129.11 48.53h5.02v4.90h-5.02zM4.97 53.39h5.02v4.90h-5.02zM124.14 53.39h5.02v4.90h-5.02zM153.93 53.39h5.02v4.90h-5.02zM134.07 63.09h5.02v4.90h-5.02zM144.00 67.95h5.02v4.90h-5.02zM139.04 77.65h5.02v4.90h-5.02zM153.93 77.65h5.02v4.90h-5.02zM153.93 82.51h5.02v4.90h-5.02zM124.14 87.36h5.02v4.90h-5.02zM139.04 87.36h5.02v4.90h-5.02zM153.93 87.36h5.02v4.90h-5.02zM134.07 92.21h5.02v4.90h-5.02zM124.14 97.07h5.02v4.90h-5.02zM134.07 97.07h5.02v4.90h-5.02zM144.00 97.07h5.02v4.90h-5.02zM153.93 106.77h5.02v4.90h-5.02zM19.86 111.63h5.02v4.90h-5.02zM34.76 111.63h5.02v4.90h-5.02zM39.73 111.63h5.02v4.90h-5.02zM44.69 111.63h5.02v4.90h-5.02zM104.28 111.63h5.02v4.90h-5.02zM134.07 111.63h5.02v4.90h-5.02zM139.04 111.63h5.02v4.90h-5.02zM144.00 111.63h5.02v4.90h-5.02zM148.97 111.63h5.02v4.90h-5.02zM34.76 116.48h5.02v4.90h-5.02zM39.73 116.48h5.02v4.90h-5.02zM44.69 116.48h5.02v4.90h-5.02zM49.66 116.48h5.02v4.90h-5.02zM54.62 116.48h5.02v4.90h-5.02zM104.28 116.48h5.02v4.90h-5.02zM109.24 116.48h5.02v4.90h-5.02zM114.21 116.48h5.02v4.90h-5.02zM129.11 116.48h5.02v4.90h-5.02zM134.07 116.48h5.02v4.90h-5.02zM144.00 116.48h5.02v4.90h-5.02zM148.97 116.48h5.02v4.90h-5.02zM153.93 116.48h5.02v4.90h-5.02zM34.76 121.33h5.02v4.90h-5.02zM39.73 121.33h5.02v4.90h-5.02zM44.69 121.33h5.02v4.90h-5.02zM94.35 121.33h5.02v4.90h-5.02zM134.07 121.33h5.02v4.90h-5.02zM139.04 121.33h5.02v4.90h-5.02zM144.00 121.33h5.02v4.90h-5.02zM148.97 121.33h5.02v4.90h-5.02zM153.93 121.33h5.02v4.90h-5.02zM94.35 126.19h5.02v4.90h-5.02zM99.31 126.19h5.02v4.90h-5.02zM104.28 126.19h5.02v4.90h-5.02zM109.24 126.19h5.02v4.90h-5.02zM119.18 126.19h5.02v4.90h-5.02zM129.11 126.19h5.02v4.90h-5.02zM134.07 126.19h5.02v4.90h-5.02zM139.04 126.19h5.02v4.90h-5.02zM89.38 131.04h5.02v4.90h-5.02zM99.31 131.04h5.02v4.90h-5.02zM104.28 131.04h5.02v4.90h-5.02zM109.24 131.04h5.02v4.90h-5.02zM134.07 131.04h5.02v4.90h-5.02zM139.04 131.04h5.02v4.90h-5.02zM144.00 131.04h5.02v4.90h-5.02zM148.97 131.04h5.02v4.90h-5.02zM49.66 135.89h5.02v4.90h-5.02zM94.35 135.89h5.02v4.90h-5.02zM104.28 135.89h5.02v4.90h-5.02zM119.18 135.89h5.02v4.90h-5.02zM124.14 135.89h5.02v4.90h-5.02zM134.07 135.89h5.02v4.90h-5.02zM139.04 135.89h5.02v4.90h-5.02zM144.00 135.89h5.02v4.90h-5.02zM148.97 135.89h5.02v4.90h-5.02zM39.73 140.75h5.02v4.90h-5.02zM139.04 140.75h5.02v4.90h-5.02zM144.00 140.75h5.02v4.90h-5.02z" fill="#f6f6fb"/>
<path d="M69.52 43.68h5.02v4.90h-5.02zM54.62 48.53h5.02v4.90h-5.02zM59.59 48.53h5.02v4.90h-5.02zM64.55 48.53h5.02v4.90h-5.02zM69.52 48.53h5.02v4.90h-5.02zM74.48 48.53h5.02v4.90h-5.02zM79.45 48.53h5.02v4.90h-5.02zM89.38 48.53h5.02v4.90h-5.02zM54.62 53.39h5.02v4.90h-5.02zM59.59 53.39h5.02v4.90h-5.02zM89.38 53.39h5.02v4.90h-5.02zM84.42 58.24h5.02v4.90h-5.02zM89.38 58.24h5.02v4.90h-5.02zM89.38 63.09h5.02v4.90h-5.02zM94.35 72.80h5.02v4.90h-5.02zM49.66 77.65h5.02v4.90h-5.02zM54.62 77.65h5.02v4.90h-5.02zM94.35 77.65h5.02v4.90h-5.02zM64.55 82.51h5.02v4.90h-5.02zM69.52 87.36h5.02v4.90h-5.02zM84.42 92.21h5.02v4.90h-5.02zM54.62 97.07h5.02v4.90h-5.02zM59.59 101.92h5.02v4.90h-5.02z" fill="#a0a3d2"/>
<path d="M74.48 43.68h5.02v4.90h-5.02zM84.42 48.53h5.02v4.90h-5.02zM64.55 53.39h5.02v4.90h-5.02zM69.52 53.39h5.02v4.90h-5.02zM74.48 53.39h5.02v4.90h-5.02zM84.42 53.39h5.02v4.90h-5.02zM59.59 58.24h5.02v4.90h-5.02zM79.45 58.24h5.02v4.90h-5.02zM59.59 63.09h5.02v4.90h-5.02zM84.42 63.09h5.02v4.90h-5.02zM59.59 67.95h5.02v4.90h-5.02zM89.38 67.95h5.02v4.90h-5.02zM94.35 67.95h5.02v4.90h-5.02zM54.62 72.80h5.02v4.90h-5.02zM59.59 72.80h5.02v4.90h-5.02zM64.55 77.65h5.02v4.90h-5.02zM84.42 82.51h5.02v4.90h-5.02zM84.42 87.36h5.02v4.90h-5.02z" fill="#8d91c9"/>
<path d="M79.45 53.39h5.02v4.90h-5.02zM64.55 58.24h5.02v4.90h-5.02zM69.52 58.24h5.02v4.90h-5.02zM64.55 63.09h5.02v4.90h-5.02zM64.55 67.95h5.02v4.90h-5.02zM89.38 77.65h5.02v4.90h-5.02zM69.52 82.51h5.02v4.90h-5.02zM89.38 82.51h5.02v4.90h-5.02zM89.38 87.36h5.02v4.90h-5.02z" fill="#6a6eb8"/>
<path d="M74.48 58.24h5.02v4.90h-5.02zM79.45 63.09h5.02v4.90h-5.02zM84.42 67.95h5.02v4.90h-5.02zM64.55 72.80h5.02v4.90h-5.02zM69.52 72.80h5.02v4.90h-5.02zM89.38 72.80h5.02v4.90h-5.02zM59.59 77.65h5.02v4.90h-5.02zM69.52 77.65h5.02v4.90h-5.02zM74.48 77.65h5.02v4.90h-5.02zM74.48 82.51h5.02v4.90h-5.02zM79.45 82.51h5.02v4.90h-5.02zM74.48 87.36h5.02v4.90h-5.02zM79.45 87.36h5.02v4.90h-5.02z" fill="#7a7ec0"/>
<path d="M69.52 63.09h5.02v4.90h-5.02zM74.48 63.09h5.02v4.90h-5.02zM79.45 67.95h5.02v4.90h-5.02zM84.42 72.80h5.02v4.90h-5.02zM79.45 77.65h5.02v4.90h-5.02zM84.42 77.65h5.02v4.90h-5.02z" fill="#8a76b4"/>
<path d="M69.52 67.95h5.02v4.90h-5.02zM74.48 67.95h5.02v4.90h-5.02z" fill="#c27a9c"/>
<path d="M74.48 72.80h5.02v4.90h-5.02zM79.45 72.80h5.02v4.90h-5.02z" fill="#ec8678"/>
<path d="M102.3 0.4L103.0 1.9L103.5 2.8L103.9 3.6L104.6 5.3L104.9 6.1L105.3 7.7L105.5 8.5L106.0 10.1L106.2 11.7L106.3 13.1L106.5 14.2L106.5 15.8L105.9 16.6L105.2 17.4L104.4 18.2L103.5 19.0L102.4 19.8L101.7 20.6L101.8 22.2L101.9 23.9L102.0 25.5L102.3 26.3L103.0 27.9L103.4 28.7L103.9 29.9L104.4 31.1L104.9 32.0L105.5 32.9L106.3 34.1L107.2 35.1L108.0 35.5L109.4 35.2L110.5 35.1L112.1 34.9L113.7 34.4L114.6 33.9L115.5 33.5L116.6 32.8L117.9 32.1L119.6 32.1L121.2 32.1L122.9 32.2L123.7 33.0L124.6 33.8L125.4 34.5L126.3 35.2L126.2 36.0L125.6 37.6L125.3 38.4L124.8 40.0L124.1 40.8L123.2 41.7L122.1 42.5L121.2 42.9L120.4 43.5L119.6 44.1L118.6 44.9L117.9 45.7L117.1 46.9L116.6 48.1L116.3 49.7L116.7 51.4L117.1 52.4L117.6 53.8L117.9 54.9L118.2 56.2L118.4 57.8L118.7 59.5L118.8 60.3L118.7 61.1L118.2 62.7L117.9 63.6L117.5 65.1L117.2 66.7L117.1 67.5L116.8 69.2L116.4 70.8L116.1 71.6L115.5 72.8L114.7 74.0L114.0 74.8L113.3 75.6L112.8 76.4L112.1 77.7L111.7 78.9L111.3 80.2L111.2 81.3L111.2 82.9L111.1 84.5L111.3 85.9L111.7 87.0L112.1 88.2L112.9 89.4L113.8 89.8L114.7 90.2L115.7 91.0L116.4 91.8L117.1 92.7L117.9 94.2L118.2 95.0L118.8 96.5L119.0 97.5L119.4 99.1L119.6 100.0L119.9 101.5L120.2 103.1L120.4 104.0L120.6 105.6L120.3 106.4L119.7 108.0L119.3 108.8L118.8 109.8L117.9 110.6L116.3 111.2L115.5 111.4L113.8 111.9L113.0 112.1L111.3 112.4L109.7 112.6L108.0 112.8L107.2 113.2L106.3 113.8L105.5 114.5L104.7 115.3L103.9 116.3L103.0 117.1L102.2 117.8L100.6 118.5L99.7 118.7L98.1 119.2L97.2 119.4L95.6 119.8L94.2 120.1L93.1 120.5L92.2 120.9L91.5 121.9L90.6 123.2L90.1 124.2L89.7 125.0L89.1 126.6L88.8 127.4L88.1 128.8L87.7 129.8L87.3 130.6L86.4 131.4L85.3 132.3L84.3 133.1L83.5 133.9L82.8 134.7L82.9 136.3L83.2 137.1L83.7 138.7L84.0 139.9L84.3 141.2L84.7 142.8L84.8 143.6L85.1 145.2" fill="none" stroke="#c3c5e2" stroke-width="1.1"/>
<path d="M0.4 36.1L0.8 37.6L1.2 38.7L1.9 40.0L2.3 40.8L2.9 41.9L3.7 43.1L4.5 44.1L5.3 44.9L6.2 45.4L7.9 45.0L9.1 44.9L10.3 44.8L11.4 44.1L12.6 43.3L13.7 42.7L14.5 42.4L16.1 41.9L17.8 41.8L19.4 41.7L20.3 41.7L21.9 41.6L23.6 41.4L25.2 41.3L26.3 40.8L27.0 40.0L27.7 38.6L28.1 37.6L28.6 36.1L28.8 35.2L29.4 33.7L29.9 32.8L30.4 32.0L31.0 31.1L31.8 29.5L32.1 28.7L32.6 27.1L32.9 26.3L32.8 24.7L32.3 23.9L31.8 23.1L31.0 21.9L30.2 21.1L29.4 20.1L28.6 19.1L27.9 18.2L27.3 17.4L26.7 16.6L26.1 15.5L25.2 14.2L24.6 13.3L23.8 12.5L22.9 11.7L21.9 11.0L21.1 10.3L20.3 10.0L18.6 9.6L17.0 9.3L16.1 9.3L15.3 9.4L13.7 9.8L12.0 10.1L11.2 10.2L10.0 10.1L8.7 9.8L7.0 9.5L5.9 9.3L4.6 8.9L3.5 8.5L2.1 7.8L1.2 7.4L0.4 6.9" fill="none" stroke="#c3c5e2" stroke-width="1.1"/>
<path d="M0.4 75.6L1.2 74.3L1.8 73.2L2.3 72.4L2.9 71.6L3.7 70.4L3.7 69.3L3.4 68.4L2.9 67.2L2.1 65.9L1.6 65.1L1.9 63.5L2.9 62.7L3.7 62.6L5.4 62.4L6.2 62.7L7.5 63.5L8.4 64.3L9.0 65.1L9.4 66.7L9.7 67.5L10.3 69.1L10.6 70.0L11.3 70.8L12.2 71.6L13.0 72.4L13.8 73.2L14.6 74.0L15.8 74.8L16.2 74.8L17.0 74.0L17.8 72.9L18.6 71.7L19.1 70.8L19.4 69.2L19.5 68.4L19.6 66.7L19.4 65.3L18.6 64.5L17.8 63.7L17.0 62.7L16.3 61.9L15.5 61.1L14.5 60.6L13.7 60.2L12.6 59.5L12.0 58.5L11.6 57.0L11.4 55.4L11.2 53.8L11.0 53.0L10.7 51.4L10.4 49.7L10.3 48.9L9.5 47.8L8.7 47.1L7.8 46.5L6.2 45.9L5.1 46.5L4.6 47.7L4.1 48.9L3.7 49.9L3.0 51.4L2.5 52.2L2.0 53.0L1.2 54.2L0.6 55.4L0.6 57.0L0.7 58.6L0.9 60.3L0.4 61.4" fill="none" stroke="#c3c5e2" stroke-width="1.1"/>
<path d="M56.1 145.2L56.0 143.6L55.9 142.2L55.8 141.2L55.4 139.5L54.9 138.7L54.2 137.2L53.8 136.3L53.4 135.4L53.2 133.9L53.1 132.3L53.1 130.6L53.4 129.8L54.2 128.8L55.0 127.7L55.9 126.6L56.5 125.8L57.3 125.0L58.1 124.2L58.8 123.4L59.6 122.5L60.5 121.7L61.3 120.9L62.2 120.1L61.1 119.3L60.2 118.5L59.3 117.7L58.3 116.9L57.5 116.2L56.7 115.5L55.9 115.0L55.0 114.4L54.0 113.6L52.9 112.8L52.0 112.0L51.1 111.2L50.1 110.6L49.2 110.0L48.4 109.1L47.6 108.0L47.1 107.2L46.7 106.4L45.9 105.0L45.5 103.9L45.1 103.1L44.3 101.7L43.4 100.7L42.6 100.5L41.0 100.2L39.5 100.7L38.5 101.2L37.5 101.5L36.0 101.9L35.2 102.5L34.1 103.1L32.7 103.9L31.9 104.3L30.7 104.8L29.4 105.0L27.7 105.3L26.5 105.6L25.2 105.6L24.4 105.5L22.8 105.4L21.1 105.2L19.4 105.2L17.8 105.3L16.1 105.3L14.5 105.4L13.4 105.6L12.0 105.8L10.3 106.1L8.7 105.9L7.0 105.7L6.2 105.5L4.6 105.1L3.5 104.8L2.1 104.4L0.4 104.0" fill="none" stroke="#c3c5e2" stroke-width="1.1"/>
<path d="M0.4 115.8L2.1 115.8L3.7 115.8L5.4 115.8L6.2 116.2L7.3 116.9L8.4 117.7L9.4 118.5L10.2 119.3L11.1 120.1L12.0 120.6L12.8 121.1L14.0 121.7L15.3 122.5L16.1 122.8L17.8 123.0L19.4 123.3L20.3 123.4L21.9 123.8L23.2 124.2L24.4 124.6L25.2 125.0L26.9 125.6L27.7 125.9L29.4 126.5L30.2 126.8L31.6 127.4L32.7 127.9L33.5 128.3L35.2 128.9L36.0 129.2L37.7 129.6L38.5 129.8L40.1 130.4L41.0 130.8L41.8 131.7L42.6 132.9L43.2 133.9L43.7 134.7L43.4 135.8L42.6 136.6L41.8 137.3L40.9 137.9L39.8 138.7L38.9 139.5L38.1 140.3L37.2 141.2L36.3 142.0L35.4 142.8L34.6 143.6L33.9 144.4L33.1 145.2" fill="none" stroke="#c3c5e2" stroke-width="1.1"/>
<path d="M92.5 0.4L92.6 2.0L92.7 3.6L92.9 5.3L92.3 6.3L91.5 7.0L90.6 8.1L89.9 9.3L89.6 10.1L89.0 11.6L88.7 12.5L88.2 14.2L88.0 15.0L87.5 16.6L87.1 17.4L86.5 18.3L85.7 19.2L84.8 19.9L84.0 21.0L83.5 22.2L83.2 23.1L82.5 24.7L82.9 26.3L83.4 27.1L84.0 28.5L84.4 29.5L84.7 31.1L84.7 32.8L84.8 34.4L84.8 35.2L85.7 36.6L86.4 37.6L87.2 38.4L88.1 39.1L89.0 39.5L90.0 40.0L91.5 40.5L92.4 40.8L93.6 41.7L94.6 42.5L95.5 43.3L96.2 44.1L96.8 44.9L97.4 45.7L98.1 46.6L98.9 47.7L99.7 48.8L100.5 49.7L101.1 50.6L101.6 51.4L102.2 52.5L103.0 53.7L103.7 54.6L104.2 55.4L104.7 56.6L105.2 57.8L105.5 58.8L106.1 60.3L106.4 61.1L106.9 62.7L107.2 63.5L107.6 65.1L107.5 66.7L107.3 68.4L107.2 69.8L106.9 70.8L106.3 72.4L106.1 73.2L105.6 74.8L105.4 75.6L105.0 77.2L104.7 78.4L104.4 79.7L104.1 81.3L103.9 82.4L103.6 83.7L103.3 85.3L103.2 87.0L103.1 88.6L103.0 89.4L102.8 91.0L102.2 92.6L102.0 93.4L101.4 94.7L100.7 95.9L100.2 96.7L99.7 97.5L98.9 98.5L98.1 99.5L97.2 100.7L97.0 101.5L96.6 103.1L96.2 103.9L95.6 105.1L94.8 105.9L93.9 106.4L92.4 107.2L92.2 107.2L90.6 106.6L89.8 106.2L88.6 105.6L87.3 104.9L86.5 104.3L85.7 103.6L84.8 102.5L84.2 101.5L83.9 100.7L83.1 99.9L81.5 99.3L79.9 99.1L79.0 99.0L77.4 98.8L76.1 99.1L74.9 99.8L74.3 100.7L74.4 102.3L74.5 103.9L74.8 105.6L75.1 106.4L75.7 107.6L76.6 108.3L77.4 109.1L78.1 110.4L77.2 111.2L75.7 111.4L74.1 111.3L73.0 111.2L71.6 111.1L69.9 110.9L68.3 110.6L66.6 110.5L65.8 110.4L64.1 110.3L62.5 110.2L60.8 109.7L60.0 109.1L59.2 108.6L58.3 108.0L57.2 107.2L56.3 106.4L55.6 105.6L55.0 104.0L54.8 103.1L54.4 101.5L54.2 100.7L54.1 99.1L54.2 97.5L54.2 96.7L54.3 95.0L54.0 94.2L53.4 92.9L52.7 91.8L51.9 91.0L50.9 90.5L49.9 90.2L48.4 89.9L46.8 89.4L45.9 89.3L44.3 89.2L42.6 89.0L41.3 88.6L40.7 87.8L40.2 86.1L39.9 85.3L40.2 84.5L40.7 82.9L41.0 82.0L41.3 80.5L41.4 78.9L41.5 77.2L41.6 75.6L41.8 74.8L42.3 73.2L42.6 72.4L43.3 70.8L43.6 70.0L44.3 68.7L44.8 67.5L45.1 66.5L45.5 65.1L45.8 63.5L45.9 62.5L46.1 61.1L46.4 59.5L46.7 57.8L46.8 57.0L47.0 55.4L47.5 53.8L47.8 53.0L48.3 51.4L48.6 50.6L49.2 49.4L50.1 48.1L50.7 47.3L51.3 46.5L52.0 45.7L52.6 44.9L53.4 43.5L54.1 42.5L54.7 41.7L55.4 40.8L56.0 40.0L56.7 38.4L57.1 37.6L57.5 36.6L58.0 35.2L57.5 34.1L56.9 32.8L56.5 32.0L55.9 30.6L55.6 29.5L55.2 27.9L55.0 27.1L54.5 25.5L54.4 23.9L54.2 22.2L54.1 21.4L53.4 19.8L53.0 19.0L52.4 18.2L51.7 17.2L51.3 15.8L50.9 14.9L50.3 13.3L49.9 12.5L49.3 10.9L49.2 10.1L49.3 9.3L49.5 7.7L49.7 6.1L50.1 4.6L50.4 3.6L50.9 2.0L51.3 1.2" fill="none" stroke="#abaed8" stroke-width="1.0"/>
<path d="M56.5 0.4L55.9 1.6L55.5 2.8L55.3 4.4L55.9 6.0L56.6 6.9L57.0 7.7L57.5 8.9L57.9 10.1L58.1 11.7L58.3 13.3L58.4 14.2L58.6 15.8L58.8 17.4L59.2 19.0L59.5 19.8L60.5 20.6L61.7 20.9L63.3 20.9L65.0 20.9L66.6 21.0L67.7 20.6L68.6 19.8L69.1 18.2L69.3 17.4L69.5 15.8L69.9 14.2L70.2 13.3L70.8 11.9L71.2 10.9L71.7 10.1L72.7 9.3L73.5 8.5L74.2 7.7L74.9 6.6L75.6 5.3L75.3 3.6L75.0 2.0L74.9 1.2" fill="none" stroke="#abaed8" stroke-width="1.0"/>
<path d="M77.7 71.2L80.0 71.7L81.5 74.1L80.5 75.5L78.6 74.1Z" fill="#fbc27a" stroke="#fbc27a" stroke-width="1" stroke-linejoin="round"/>
<path d="M73.9 70.8L78.6 69.8L82.4 72.7L84.3 76.5L81.5 78.4L76.7 76.0L74.3 73.6Z" fill="none" stroke="#f2643f" stroke-width="1.3" stroke-linejoin="round"/>
<path d="M71.0 68.9L75.8 67.0L80.5 68.9L84.3 72.7L86.2 76.5L84.3 79.3L79.6 78.4L74.8 75.5L72.0 72.7Z" fill="none" stroke="#b4417a" stroke-width="1.3" stroke-linejoin="round"/>
<path d="M67.7 67.0L72.0 64.6L77.7 64.6L81.5 66.0L85.3 69.8L88.1 73.6L89.1 77.4L87.2 81.2L84.3 82.2L80.5 80.3L75.8 77.4L72.0 74.6L68.2 71.7Z" fill="none" stroke="#5b2a84" stroke-width="1.4" stroke-linejoin="round"/>
<path d="M78.6 52.3L83.8 55.6L80.5 61.3L85.3 64.1L91.9 69.8L94.3 72.7L92.8 79.3L95.7 84.1L95.2 88.8L90.9 90.7L85.3 93.5L78.6 94.0L73.9 91.6L70.1 87.8L69.1 84.1L66.3 82.2L60.6 80.3L56.8 76.5L55.8 71.7L58.7 68.9L62.5 64.1L64.4 59.4L66.3 55.6L72.0 53.7Z" fill="none" stroke="#1f2a8c" stroke-width="1.8" stroke-linejoin="round"/>
</g>
</defs>
<rect x="100.5" y="20.5" width="569.0" height="264.0" fill="none" stroke="#2a2a2a" stroke-width="1.3"/>
<line x1="242.8" y1="284.5" x2="242.8" y2="278.5" stroke="#2a2a2a" stroke-width="1.3"/>
<line x1="385" y1="284.5" x2="385" y2="278.5" stroke="#2a2a2a" stroke-width="1.3"/>
<line x1="527.2" y1="284.5" x2="527.2" y2="278.5" stroke="#2a2a2a" stroke-width="1.3"/>
<rect x="100.5" y="313.8" width="569.0" height="263.2" fill="none" stroke="#2a2a2a" stroke-width="1.3"/>
<line x1="242.8" y1="577.0" x2="242.8" y2="571.0" stroke="#2a2a2a" stroke-width="1.3"/>
<line x1="385" y1="577.0" x2="385" y2="571.0" stroke="#2a2a2a" stroke-width="1.3"/>
<line x1="527.2" y1="577.0" x2="527.2" y2="571.0" stroke="#2a2a2a" stroke-width="1.3"/>
<path d="M100.5 283.3 L102 283.3 L103.5 283.3 L105 283.3 L106.5 283.2 L108 283.2 L109.5 283.2 L111 283.2 L112.5 283.2 L114 283.2 L115.5 283.1 L117 283.1 L118.5 283.1 L120 283.1 L121.5 283.1 L123 283 L124.5 283 L126 283 L127.5 283 L129 282.9 L130.5 282.9 L132 282.9 L133.5 282.9 L135 282.9 L136.5 282.8 L138 282.8 L139.5 282.8 L141 282.8 L142.5 282.7 L144 282.7 L145.5 282.7 L147 282.7 L148.5 282.6 L150 282.6 L151.5 282.6 L153 282.5 L154.5 282.5 L156 282.5 L157.5 282.5 L159 282.4 L160.5 282.4 L162 282.4 L163.5 282.4 L165 282.3 L166.5 282.3 L168 282.3 L169.5 282.2 L171 282.2 L172.5 282.2 L174 282.1 L175.5 282.1 L177 282.1 L178.5 282 L180 282 L181.5 282 L183 281.9 L184.5 281.9 L186 281.8 L187.5 281.8 L189 281.8 L190.5 281.7 L192 281.7 L193.5 281.6 L195 281.6 L196.5 281.5 L198 281.5 L199.5 281.4 L201 281.4 L202.5 281.3 L204 281.2 L205.5 281.1 L207 281.1 L208.5 281 L210 280.9 L211.5 280.8 L213 280.7 L214.5 280.6 L216 280.6 L217.5 280.5 L219 280.4 L220.5 280.3 L222 280.3 L223.5 280.2 L225 280.2 L226.5 280.1 L228 280 L229.5 280 L231 279.9 L232.5 279.8 L234 279.8 L235.5 279.7 L237 279.6 L238.5 279.5 L240 279.4 L241.5 279.3 L243 279.2 L244.5 279.1 L246 279 L247.5 278.8 L249 278.7 L250.5 278.5 L252 278.4 L253.5 278.2 L255 278 L256.5 277.8 L258 277.6 L259.5 277.4 L261 277.1 L262.5 276.9 L264 276.7 L265.5 276.4 L267 276.2 L268.5 275.9 L270 275.7 L271.5 275.4 L273 275.2 L274.5 274.9 L276 274.6 L277.5 274.3 L279 274 L280.5 273.7 L282 273.4 L283.5 273.1 L285 272.8 L286.5 272.4 L288 272 L289.5 271.7 L291 271.3 L292.5 270.8 L294 270.4 L295.5 269.9 L297 269.4 L298.5 268.9 L300 268.4 L301.5 267.8 L303 267.2 L304.5 266.5 L306 265.8 L307.5 265 L309 264.1 L310.5 263.2 L312 262.2 L313.5 261.1 L315 260 L316.5 258.6 L318 257 L319.5 255.1 L321 252.8 L322.5 250 L324 246.9 L325.5 244.1 L327 241.6 L328.5 239.3 L330 237 L331.5 234.3 L333 231.5 L334.5 228.4 L336 225.2 L337.5 221.7 L339 218.2 L340.5 214.4 L342 210.5 L343.5 206.4 L345 201.9 L346.5 197.1 L348 192 L349.5 186.6 L351 180.5 L352.5 174 L354 167.1 L355.5 160.2 L357 153.4 L358.5 146.4 L360 139.5 L361.5 133 L363 127.2 L364.5 121.8 L366 116.6 L367.5 111.9 L369 107.4 L370.5 103.3 L372 99.4 L373.5 95.9 L375 92.7 L376.5 89.5 L378 86.7 L379.5 84.5 L381 83.1 L382.5 81.8 L384 80.9 L385.5 80.5 L387 80.8 L388.5 81.6 L390 82.8 L391.5 84.2 L393 85.9 L394.5 89 L396 93.1 L397.5 97.5 L399 101.2 L400.5 104.8 L402 108.4 L403.5 112.6 L405 117.3 L406.5 122.6 L408 128.2 L409.5 134 L411 139.9 L412.5 146.2 L414 152.9 L415.5 159.6 L417 165.7 L418.5 171.2 L420 176.3 L421.5 181.3 L423 186.1 L424.5 191 L426 196.1 L427.5 201.2 L429 206.3 L430.5 210.9 L432 215 L433.5 218.8 L435 222.4 L436.5 225.8 L438 229 L439.5 232.2 L441 235.2 L442.5 238.2 L444 241.1 L445.5 243.8 L447 246.2 L448.5 248.3 L450 250.2 L451.5 252 L453 253.6 L454.5 255.1 L456 256.5 L457.5 257.9 L459 259.2 L460.5 260.4 L462 261.6 L463.5 262.7 L465 263.8 L466.5 264.7 L468 265.5 L469.5 266.3 L471 267 L472.5 267.7 L474 268.4 L475.5 269 L477 269.6 L478.5 270.1 L480 270.5 L481.5 270.9 L483 271.3 L484.5 271.6 L486 272 L487.5 272.3 L489 272.6 L490.5 273 L492 273.3 L493.5 273.6 L495 273.9 L496.5 274.2 L498 274.5 L499.5 274.7 L501 275 L502.5 275.3 L504 275.5 L505.5 275.7 L507 276 L508.5 276.2 L510 276.4 L511.5 276.6 L513 276.8 L514.5 277 L516 277.2 L517.5 277.4 L519 277.5 L520.5 277.7 L522 277.9 L523.5 278 L525 278.2 L526.5 278.3 L528 278.4 L529.5 278.6 L531 278.7 L532.5 278.8 L534 278.9 L535.5 279 L537 279.1 L538.5 279.2 L540 279.3 L541.5 279.5 L543 279.6 L544.5 279.6 L546 279.7 L547.5 279.8 L549 279.9 L550.5 280 L552 280.1 L553.5 280.2 L555 280.3 L556.5 280.3 L558 280.4 L559.5 280.5 L561 280.6 L562.5 280.6 L564 280.7 L565.5 280.8 L567 280.8 L568.5 280.9 L570 280.9 L571.5 281 L573 281.1 L574.5 281.1 L576 281.2 L577.5 281.2 L579 281.3 L580.5 281.3 L582 281.4 L583.5 281.4 L585 281.5 L586.5 281.5 L588 281.5 L589.5 281.6 L591 281.6 L592.5 281.7 L594 281.7 L595.5 281.7 L597 281.8 L598.5 281.8 L600 281.8 L601.5 281.9 L603 281.9 L604.5 281.9 L606 282 L607.5 282 L609 282 L610.5 282 L612 282.1 L613.5 282.1 L615 282.1 L616.5 282.1 L618 282.2 L619.5 282.2 L621 282.2 L622.5 282.2 L624 282.3 L625.5 282.3 L627 282.3 L628.5 282.3 L630 282.3 L631.5 282.4 L633 282.4 L634.5 282.4 L636 282.4 L637.5 282.4 L639 282.5 L640.5 282.5 L642 282.5 L643.5 282.5 L645 282.5 L646.5 282.5 L648 282.6 L649.5 282.6 L651 282.6 L652.5 282.6 L654 282.6 L655.5 282.6 L657 282.6 L658.5 282.6 L660 282.7 L661.5 282.7 L663 282.7 L664.5 282.7 L666 282.7 L667.5 282.7 L669 282.7 L669.5 282.7" fill="none" stroke="#E5993A" stroke-width="4.4" stroke-linejoin="round" stroke-linecap="butt" />
<circle cx="114.8" cy="277.8" r="4.6" fill="#E5993A"/>
<circle cx="132.3" cy="273.6" r="4.6" fill="#E5993A"/>
<circle cx="149.9" cy="280.9" r="4.6" fill="#E5993A"/>
<circle cx="167.4" cy="278.2" r="4.6" fill="#E5993A"/>
<circle cx="185" cy="279.6" r="4.6" fill="#E5993A"/>
<circle cx="202.6" cy="282.4" r="4.6" fill="#E5993A"/>
<circle cx="220.1" cy="280.9" r="4.6" fill="#E5993A"/>
<circle cx="237.7" cy="268.4" r="4.6" fill="#E5993A"/>
<circle cx="255.2" cy="260.3" r="4.6" fill="#E5993A"/>
<circle cx="272.8" cy="264.3" r="4.6" fill="#E5993A"/>
<circle cx="290.3" cy="246.7" r="4.6" fill="#E5993A"/>
<circle cx="307.9" cy="253.1" r="4.6" fill="#E5993A"/>
<circle cx="325.4" cy="246.6" r="4.6" fill="#E5993A"/>
<circle cx="342.9" cy="214.4" r="4.6" fill="#E5993A"/>
<circle cx="360.5" cy="169.9" r="4.6" fill="#E5993A"/>
<circle cx="378.1" cy="92.9" r="4.6" fill="#E5993A"/>
<circle cx="395.6" cy="81" r="4.6" fill="#E5993A"/>
<circle cx="413.2" cy="160.1" r="4.6" fill="#E5993A"/>
<circle cx="430.7" cy="204.2" r="4.6" fill="#E5993A"/>
<circle cx="448.2" cy="240.3" r="4.6" fill="#E5993A"/>
<circle cx="465.8" cy="265.6" r="4.6" fill="#E5993A"/>
<circle cx="483.4" cy="272.7" r="4.6" fill="#E5993A"/>
<circle cx="500.9" cy="273.6" r="4.6" fill="#E5993A"/>
<circle cx="518.5" cy="275.6" r="4.6" fill="#E5993A"/>
<circle cx="536" cy="279.1" r="4.6" fill="#E5993A"/>
<circle cx="553.5" cy="277.9" r="4.6" fill="#E5993A"/>
<circle cx="571.1" cy="277.1" r="4.6" fill="#E5993A"/>
<circle cx="588.6" cy="279.1" r="4.6" fill="#E5993A"/>
<circle cx="606.2" cy="280.4" r="4.6" fill="#E5993A"/>
<circle cx="623.8" cy="274" r="4.6" fill="#E5993A"/>
<circle cx="641.3" cy="277.2" r="4.6" fill="#E5993A"/>
<circle cx="658.9" cy="278.3" r="4.6" fill="#E5993A"/>
<path d="M100.5 576.4 L102 576.4 L103.5 576.4 L105 576.4 L106.5 576.3 L108 576.3 L109.5 576.3 L111 576.3 L112.5 576.3 L114 576.3 L115.5 576.2 L117 576.2 L118.5 576.2 L120 576.2 L121.5 576.2 L123 576.1 L124.5 576.1 L126 576.1 L127.5 576.1 L129 576.1 L130.5 576 L132 576 L133.5 576 L135 576 L136.5 575.9 L138 575.9 L139.5 575.9 L141 575.9 L142.5 575.8 L144 575.8 L145.5 575.8 L147 575.8 L148.5 575.7 L150 575.7 L151.5 575.7 L153 575.6 L154.5 575.6 L156 575.6 L157.5 575.6 L159 575.5 L160.5 575.5 L162 575.5 L163.5 575.4 L165 575.4 L166.5 575.4 L168 575.3 L169.5 575.3 L171 575.3 L172.5 575.2 L174 575.2 L175.5 575.2 L177 575.1 L178.5 575.1 L180 575.1 L181.5 575 L183 575 L184.5 575 L186 574.9 L187.5 574.9 L189 574.8 L190.5 574.8 L192 574.8 L193.5 574.7 L195 574.7 L196.5 574.6 L198 574.6 L199.5 574.5 L201 574.5 L202.5 574.4 L204 574.4 L205.5 574.3 L207 574.3 L208.5 574.2 L210 574.2 L211.5 574.1 L213 574.1 L214.5 574 L216 574 L217.5 573.9 L219 573.8 L220.5 573.8 L222 573.7 L223.5 573.6 L225 573.6 L226.5 573.5 L228 573.4 L229.5 573.3 L231 573.2 L232.5 573.2 L234 573.1 L235.5 573 L237 572.9 L238.5 572.8 L240 572.7 L241.5 572.6 L243 572.5 L244.5 572.4 L246 572.3 L247.5 572.2 L249 572.1 L250.5 572 L252 571.9 L253.5 571.7 L255 571.6 L256.5 571.5 L258 571.4 L259.5 571.3 L261 571.1 L262.5 571 L264 570.9 L265.5 570.7 L267 570.6 L268.5 570.5 L270 570.3 L271.5 570.1 L273 570 L274.5 569.8 L276 569.6 L277.5 569.4 L279 569.3 L280.5 569.1 L282 568.8 L283.5 568.6 L285 568.4 L286.5 568.1 L288 567.9 L289.5 567.5 L291 567.2 L292.5 566.8 L294 566.4 L295.5 566 L297 565.6 L298.5 565.1 L300 564.7 L301.5 564.3 L303 563.8 L304.5 563.4 L306 563 L307.5 562.6 L309 562.1 L310.5 561.6 L312 561.1 L313.5 560.5 L315 559.9 L316.5 559.3 L318 558.6 L319.5 557.8 L321 556.9 L322.5 555.7 L324 554.2 L325.5 552.6 L327 550.9 L328.5 549.2 L330 547.5 L331.5 545.8 L333 544 L334.5 542.2 L336 540.2 L337.5 538.3 L339 536.2 L340.5 534.2 L342 532.1 L343.5 529.9 L345 527.6 L346.5 525.1 L348 522.5 L349.5 519.5 L351 516.4 L352.5 513 L354 509.3 L355.5 505.4 L357 501.1 L358.5 496.3 L360 491 L361.5 485.4 L363 479.4 L364.5 473.3 L366 467 L367.5 460.3 L369 453.3 L370.5 445.9 L372 438.2 L373.5 429.6 L375 420.7 L376.5 411.9 L378 403.3 L379.5 394.4 L381 386.9 L382.5 381.6 L384 377.1 L385.5 374.5 L387 374.8 L388.5 376.7 L390 379.5 L391.5 382.8 L393 387.3 L394.5 394.1 L396 401.6 L397.5 409.3 L399 417.5 L400.5 425.7 L402 433.3 L403.5 440.8 L405 448.2 L406.5 455.6 L408 463.1 L409.5 470.7 L411 478.2 L412.5 485.5 L414 492.8 L415.5 500.2 L417 506.8 L418.5 511.9 L420 516.1 L421.5 519.8 L423 523.1 L424.5 526.1 L426 528.9 L427.5 531.5 L429 534 L430.5 536.3 L432 538.5 L433.5 540.5 L435 542.3 L436.5 544 L438 545.6 L439.5 547.1 L441 548.4 L442.5 549.7 L444 550.9 L445.5 552.1 L447 553.2 L448.5 554.3 L450 555.3 L451.5 556.3 L453 557.3 L454.5 558.1 L456 559 L457.5 559.7 L459 560.4 L460.5 561 L462 561.6 L463.5 562.2 L465 562.8 L466.5 563.3 L468 563.8 L469.5 564.3 L471 564.7 L472.5 565.1 L474 565.6 L475.5 566 L477 566.4 L478.5 566.7 L480 567.1 L481.5 567.4 L483 567.8 L484.5 568.1 L486 568.4 L487.5 568.7 L489 568.9 L490.5 569.2 L492 569.4 L493.5 569.7 L495 569.9 L496.5 570.1 L498 570.3 L499.5 570.5 L501 570.7 L502.5 570.9 L504 571.1 L505.5 571.2 L507 571.4 L508.5 571.5 L510 571.6 L511.5 571.8 L513 571.9 L514.5 572 L516 572.2 L517.5 572.3 L519 572.4 L520.5 572.5 L522 572.6 L523.5 572.7 L525 572.8 L526.5 572.8 L528 572.9 L529.5 573 L531 573 L532.5 573.1 L534 573.1 L535.5 573.2 L537 573.2 L538.5 573.3 L540 573.3 L541.5 573.4 L543 573.4 L544.5 573.5 L546 573.5 L547.5 573.5 L549 573.6 L550.5 573.6 L552 573.7 L553.5 573.7 L555 573.7 L556.5 573.8 L558 573.8 L559.5 573.8 L561 573.9 L562.5 573.9 L564 573.9 L565.5 574 L567 574 L568.5 574 L570 574 L571.5 574.1 L573 574.1 L574.5 574.1 L576 574.1 L577.5 574.2 L579 574.2 L580.5 574.2 L582 574.2 L583.5 574.3 L585 574.3 L586.5 574.3 L588 574.3 L589.5 574.4 L591 574.4 L592.5 574.4 L594 574.4 L595.5 574.4 L597 574.5 L598.5 574.5 L600 574.5 L601.5 574.5 L603 574.5 L604.5 574.6 L606 574.6 L607.5 574.6 L609 574.6 L610.5 574.6 L612 574.7 L613.5 574.7 L615 574.7 L616.5 574.7 L618 574.7 L619.5 574.8 L621 574.8 L622.5 574.8 L624 574.8 L625.5 574.8 L627 574.8 L628.5 574.9 L630 574.9 L631.5 574.9 L633 574.9 L634.5 574.9 L636 574.9 L637.5 575 L639 575 L640.5 575 L642 575 L643.5 575 L645 575 L646.5 575 L648 575.1 L649.5 575.1 L651 575.1 L652.5 575.1 L654 575.1 L655.5 575.1 L657 575.1 L658.5 575.1 L660 575.1 L661.5 575.2 L663 575.2 L664.5 575.2 L666 575.2 L667.5 575.2 L669 575.2 L669.5 575.2" fill="none" stroke="#4876C0" stroke-width="4.2" stroke-linejoin="round" stroke-linecap="butt" />
<circle cx="100.8" cy="564" r="4.4" fill="#4876C0"/>
<circle cx="114" cy="561.4" r="4.4" fill="#4876C0"/>
<circle cx="127.2" cy="569.3" r="4.4" fill="#4876C0"/>
<circle cx="140.4" cy="558.9" r="4.4" fill="#4876C0"/>
<circle cx="153.6" cy="559.3" r="4.4" fill="#4876C0"/>
<circle cx="166.9" cy="564.9" r="4.4" fill="#4876C0"/>
<circle cx="180.1" cy="561.9" r="4.4" fill="#4876C0"/>
<circle cx="193.3" cy="563.1" r="4.4" fill="#4876C0"/>
<circle cx="206.5" cy="561.8" r="4.4" fill="#4876C0"/>
<circle cx="219.7" cy="563.3" r="4.4" fill="#4876C0"/>
<circle cx="232.9" cy="558.2" r="4.4" fill="#4876C0"/>
<circle cx="246.1" cy="560.2" r="4.4" fill="#4876C0"/>
<circle cx="259.3" cy="562.1" r="4.4" fill="#4876C0"/>
<circle cx="272.5" cy="561.3" r="4.4" fill="#4876C0"/>
<circle cx="285.7" cy="567.2" r="4.4" fill="#4876C0"/>
<circle cx="298.9" cy="562.3" r="4.4" fill="#4876C0"/>
<circle cx="312.2" cy="550.4" r="4.4" fill="#4876C0"/>
<circle cx="325.4" cy="541.9" r="4.4" fill="#4876C0"/>
<circle cx="338.6" cy="522.5" r="4.4" fill="#4876C0"/>
<circle cx="351.8" cy="513.4" r="4.4" fill="#4876C0"/>
<circle cx="365" cy="468.8" r="4.4" fill="#4876C0"/>
<circle cx="378.2" cy="374" r="4.4" fill="#4876C0"/>
<circle cx="391.4" cy="401.5" r="4.4" fill="#4876C0"/>
<circle cx="404.6" cy="485.3" r="4.4" fill="#4876C0"/>
<circle cx="417.8" cy="538.6" r="4.4" fill="#4876C0"/>
<circle cx="431.1" cy="543.8" r="4.4" fill="#4876C0"/>
<circle cx="444.3" cy="551.2" r="4.4" fill="#4876C0"/>
<circle cx="457.5" cy="560.1" r="4.4" fill="#4876C0"/>
<circle cx="470.7" cy="566.6" r="4.4" fill="#4876C0"/>
<circle cx="483.9" cy="570.6" r="4.4" fill="#4876C0"/>
<circle cx="497.1" cy="569.2" r="4.4" fill="#4876C0"/>
<circle cx="510.3" cy="570.1" r="4.4" fill="#4876C0"/>
<circle cx="523.5" cy="567.4" r="4.4" fill="#4876C0"/>
<circle cx="536.7" cy="568.6" r="4.4" fill="#4876C0"/>
<circle cx="549.9" cy="569.1" r="4.4" fill="#4876C0"/>
<circle cx="563.1" cy="566.8" r="4.4" fill="#4876C0"/>
<circle cx="576.4" cy="566.6" r="4.4" fill="#4876C0"/>
<circle cx="589.6" cy="566.8" r="4.4" fill="#4876C0"/>
<circle cx="602.8" cy="569.1" r="4.4" fill="#4876C0"/>
<circle cx="616" cy="569.1" r="4.4" fill="#4876C0"/>
<circle cx="629.2" cy="564.9" r="4.4" fill="#4876C0"/>
<circle cx="642.4" cy="570.1" r="4.4" fill="#4876C0"/>
<circle cx="655.6" cy="571.8" r="4.4" fill="#4876C0"/>
<circle cx="668.8" cy="568.6" r="4.4" fill="#4876C0"/>
<g transform="translate(147.7 42.7)"><use href="#hm"/></g>
<rect x="147.7" y="42.7" width="158.9" height="145.6" fill="none" stroke="#2a2a2a" stroke-width="1.3"/>
<line x1="147.7" y1="79" x2="152.7" y2="79" stroke="#2a2a2a" stroke-width="1.3"/>
<line x1="147.7" y1="115.5" x2="152.7" y2="115.5" stroke="#2a2a2a" stroke-width="1.3"/>
<line x1="147.7" y1="152" x2="152.7" y2="152" stroke="#2a2a2a" stroke-width="1.3"/>
<line x1="187.3" y1="188.3" x2="187.3" y2="183.3" stroke="#2a2a2a" stroke-width="1.3"/>
<line x1="226.9" y1="188.3" x2="226.9" y2="183.3" stroke="#2a2a2a" stroke-width="1.3"/>
<line x1="266.5" y1="188.3" x2="266.5" y2="183.3" stroke="#2a2a2a" stroke-width="1.3"/>
<text transform="translate(135.2 115.9) rotate(-90)" font-size="21" text-anchor="middle" fill="#111" textLength="157" lengthAdjust="spacingAndGlyphs">Delay frequency</text>
<text x="226.4" y="215.6" font-size="20.5" text-anchor="middle" fill="#111" textLength="188.5" lengthAdjust="spacingAndGlyphs" >Emission frequency</text>
<line x1="188.5" y1="78.4" x2="247.9" y2="137.8" stroke="#E5993A" stroke-width="4.6" stroke-dasharray="10.2 4.4"/>
<path d="M261.4 151.2 L246.8 145.7 L252.1 141.9 L255.9 136.6Z" fill="#E5993A"/>
<g transform="translate(147.7 349.2)"><use href="#hm"/></g>
<rect x="147.7" y="349.2" width="158.9" height="145.6" fill="none" stroke="#2a2a2a" stroke-width="1.3"/>
<line x1="147.7" y1="385.5" x2="152.7" y2="385.5" stroke="#2a2a2a" stroke-width="1.3"/>
<line x1="147.7" y1="422" x2="152.7" y2="422" stroke="#2a2a2a" stroke-width="1.3"/>
<line x1="147.7" y1="458.5" x2="152.7" y2="458.5" stroke="#2a2a2a" stroke-width="1.3"/>
<line x1="187.3" y1="494.8" x2="187.3" y2="489.8" stroke="#2a2a2a" stroke-width="1.3"/>
<line x1="226.9" y1="494.8" x2="226.9" y2="489.8" stroke="#2a2a2a" stroke-width="1.3"/>
<line x1="266.5" y1="494.8" x2="266.5" y2="489.8" stroke="#2a2a2a" stroke-width="1.3"/>
<text transform="translate(135.2 422.4) rotate(-90)" font-size="21" text-anchor="middle" fill="#111" textLength="157" lengthAdjust="spacingAndGlyphs">Delay frequency</text>
<text x="226.4" y="522.1" font-size="20.5" text-anchor="middle" fill="#111" textLength="188.5" lengthAdjust="spacingAndGlyphs" >Emission frequency</text>
<line x1="188.5" y1="459" x2="248.1" y2="399.8" stroke="#4876C0" stroke-width="4.3" stroke-dasharray="8.6 6.0"/>
<path d="M261.4 386.7 L255.8 401.2 L252 396 L246.8 392.2Z" fill="#4876C0"/>
<text x="613.6" y="54.2" font-size="25" text-anchor="start" fill="#111" textLength="37.6" lengthAdjust="spacingAndGlyphs" >6 K</text>
<text x="613.6" y="358" font-size="25" text-anchor="start" fill="#111" textLength="37.6" lengthAdjust="spacingAndGlyphs" >6 K</text>
<circle cx="565.4" cy="209.9" r="4.7" fill="#E5993A"/>
<text x="597.6" y="215.4" font-size="24" text-anchor="start" fill="#111" textLength="50.3" lengthAdjust="spacingAndGlyphs" >Data</text>
<line x1="544.2" y1="240.7" x2="586.4" y2="240.7" stroke="#E5993A" stroke-width="4"/>
<text x="596" y="248.7" font-size="24" text-anchor="start" fill="#111" textLength="27.8" lengthAdjust="spacingAndGlyphs" >Fit</text>
<circle cx="565.4" cy="503.5" r="4.7" fill="#4876C0"/>
<text x="597.6" y="509" font-size="24" text-anchor="start" fill="#111" textLength="50.3" lengthAdjust="spacingAndGlyphs" >Data</text>
<line x1="544.2" y1="534.3" x2="586.4" y2="534.3" stroke="#4876C0" stroke-width="4"/>
<text x="596" y="542.3" font-size="24" text-anchor="start" fill="#111" textLength="27.8" lengthAdjust="spacingAndGlyphs" >Fit</text>
<text x="100.5" y="605.5" font-size="20" text-anchor="middle" fill="#111" textLength="29.5" lengthAdjust="spacingAndGlyphs" >1.0</text>
<text x="242.8" y="605.5" font-size="20" text-anchor="middle" fill="#111" textLength="26.6" lengthAdjust="spacingAndGlyphs" >1.5</text>
<text x="385" y="605.5" font-size="20" text-anchor="middle" fill="#111" textLength="31.3" lengthAdjust="spacingAndGlyphs" >2.0</text>
<text x="527.2" y="605.5" font-size="20" text-anchor="middle" fill="#111" textLength="29.3" lengthAdjust="spacingAndGlyphs" >2.5</text>
<text x="669.5" y="605.5" font-size="20" text-anchor="middle" fill="#111" textLength="31.3" lengthAdjust="spacingAndGlyphs" >3.0</text>
<text x="385.3" y="645.3" font-size="25" text-anchor="middle" fill="#111" textLength="291.8" lengthAdjust="spacingAndGlyphs" >Emission frequency (THz)</text>
<text transform="translate(84 299.0) rotate(-90)" font-size="26" text-anchor="middle" fill="#111" textLength="331" lengthAdjust="spacingAndGlyphs">Slice amplitude (normalized)</text>
<text x="0" y="18.6" font-size="36" font-weight="bold" fill="#000">a</text>
<text x="0" y="705.6" font-size="37" font-weight="bold" fill="#000">b</text>
<filter id="bbl" x="-5%" y="-5%" width="110%" height="110%"><feGaussianBlur stdDeviation="1.6"/></filter>
<clipPath id="bc0"><rect x="101.1" y="700.3" width="168.7" height="159.6"/></clipPath>
<g clip-path="url(#bc0)"><g filter="url(#bbl)" transform="translate(95.1 694.3)">
<path d="M0 0h72.3v3.3h-72.3zM108 0h75.3v3.3h-75.3zM0 3h69.3v3.3h-69.3zM111 3h72.3v3.3h-72.3zM0 6h69.3v3.3h-69.3zM111 6h72.3v3.3h-72.3zM0 9h69.3v3.3h-69.3zM111 9h72.3v3.3h-72.3zM0 12h69.3v3.3h-69.3zM111 12h72.3v3.3h-72.3zM0 15h69.3v3.3h-69.3zM111 15h72.3v3.3h-72.3zM0 18h66.3v3.3h-66.3zM111 18h72.3v3.3h-72.3zM0 21h66.3v3.3h-66.3zM114 21h69.3v3.3h-69.3zM0 24h66.3v3.3h-66.3zM114 24h69.3v3.3h-69.3zM0 27h66.3v3.3h-66.3zM114 27h69.3v3.3h-69.3zM0 30h63.3v3.3h-63.3zM114 30h69.3v3.3h-69.3zM0 33h63.3v3.3h-63.3zM117 33h66.3v3.3h-66.3zM0 36h63.3v3.3h-63.3zM117 36h66.3v3.3h-66.3zM0 39h60.3v3.3h-60.3zM117 39h66.3v3.3h-66.3zM0 42h60.3v3.3h-60.3zM120 42h63.3v3.3h-63.3zM0 45h57.3v3.3h-57.3zM120 45h63.3v3.3h-63.3zM0 48h54.3v3.3h-54.3zM123 48h60.3v3.3h-60.3zM0 51h51.3v3.3h-51.3zM126 51h57.3v3.3h-57.3zM0 54h48.3v3.3h-48.3zM129 54h54.3v3.3h-54.3zM0 57h39.3v3.3h-39.3zM135 57h48.3v3.3h-48.3zM0 60h30.3v3.3h-30.3zM144 60h39.3v3.3h-39.3zM0 63h15.3v3.3h-15.3zM159 63h24.3v3.3h-24.3zM177 66h6.3v3.3h-6.3zM0 105h18.3v3.3h-18.3zM171 105h12.3v3.3h-12.3zM0 108h33.3v3.3h-33.3zM156 108h27.3v3.3h-27.3zM0 111h45.3v3.3h-45.3zM144 111h39.3v3.3h-39.3zM0 114h51.3v3.3h-51.3zM135 114h48.3v3.3h-48.3zM0 117h57.3v3.3h-57.3zM132 117h51.3v3.3h-51.3zM0 120h60.3v3.3h-60.3zM126 120h57.3v3.3h-57.3zM0 123h60.3v3.3h-60.3zM123 123h60.3v3.3h-60.3zM0 126h63.3v3.3h-63.3zM123 126h60.3v3.3h-60.3zM0 129h63.3v3.3h-63.3zM120 129h63.3v3.3h-63.3zM0 132h63.3v3.3h-63.3zM120 132h63.3v3.3h-63.3zM0 135h66.3v3.3h-66.3zM117 135h66.3v3.3h-66.3zM0 138h66.3v3.3h-66.3zM117 138h66.3v3.3h-66.3zM0 141h66.3v3.3h-66.3zM117 141h66.3v3.3h-66.3zM0 144h69.3v3.3h-69.3zM117 144h66.3v3.3h-66.3zM0 147h69.3v3.3h-69.3zM114 147h69.3v3.3h-69.3zM0 150h69.3v3.3h-69.3zM114 150h69.3v3.3h-69.3zM0 153h69.3v3.3h-69.3zM114 153h69.3v3.3h-69.3zM0 156h69.3v3.3h-69.3zM114 156h69.3v3.3h-69.3zM0 159h72.3v3.3h-72.3zM111 159h72.3v3.3h-72.3zM0 162h72.3v3.3h-72.3zM111 162h72.3v3.3h-72.3zM0 165h72.3v3.3h-72.3zM111 165h72.3v3.3h-72.3zM0 168h72.3v3.3h-72.3zM111 168h72.3v3.3h-72.3zM0 171h72.3v3.3h-72.3zM111 171h72.3v3.3h-72.3z" fill="#f8f8fc"/>
<path d="M72 0h3.3v3.3h-3.3zM105 0h3.3v3.3h-3.3zM72 3h3.3v3.3h-3.3zM105 3h3.3v3.3h-3.3zM69 15h3.3v3.3h-3.3zM108 15h3.3v3.3h-3.3zM69 18h3.3v3.3h-3.3zM108 18h3.3v3.3h-3.3zM66 27h3.3v3.3h-3.3zM66 30h3.3v3.3h-3.3zM111 30h3.3v3.3h-3.3zM111 33h3.3v3.3h-3.3zM63 36h3.3v3.3h-3.3zM63 39h3.3v3.3h-3.3zM114 39h3.3v3.3h-3.3zM114 42h3.3v3.3h-3.3zM60 45h3.3v3.3h-3.3zM57 48h3.3v3.3h-3.3zM117 48h3.3v3.3h-3.3zM54 51h3.3v3.3h-3.3zM51 54h3.3v3.3h-3.3zM45 57h3.3v3.3h-3.3zM126 57h3.3v3.3h-3.3zM36 60h3.3v3.3h-3.3zM39 60h3.3v3.3h-3.3zM132 60h3.3v3.3h-3.3zM135 60h3.3v3.3h-3.3zM24 63h3.3v3.3h-3.3zM27 63h3.3v3.3h-3.3zM144 63h3.3v3.3h-3.3zM147 63h3.3v3.3h-3.3zM9 66h6.3v3.3h-6.3zM15 66h3.3v3.3h-3.3zM156 66h3.3v3.3h-3.3zM159 66h6.3v3.3h-6.3zM0 69h3.3v3.3h-3.3zM174 69h3.3v3.3h-3.3zM177 69h6.3v3.3h-6.3zM0 99h3.3v3.3h-3.3zM12 102h6.3v3.3h-6.3zM18 102h3.3v3.3h-3.3zM168 102h3.3v3.3h-3.3zM171 102h6.3v3.3h-6.3zM30 105h3.3v3.3h-3.3zM33 105h3.3v3.3h-3.3zM153 105h3.3v3.3h-3.3zM156 105h3.3v3.3h-3.3zM42 108h3.3v3.3h-3.3zM144 108h3.3v3.3h-3.3zM51 111h3.3v3.3h-3.3zM135 111h3.3v3.3h-3.3zM129 114h3.3v3.3h-3.3zM63 123h3.3v3.3h-3.3zM120 123h3.3v3.3h-3.3zM117 126h3.3v3.3h-3.3zM66 132h3.3v3.3h-3.3zM66 135h3.3v3.3h-3.3zM114 135h3.3v3.3h-3.3zM69 144h3.3v3.3h-3.3zM111 144h3.3v3.3h-3.3zM69 147h3.3v3.3h-3.3zM111 147h3.3v3.3h-3.3zM72 159h3.3v3.3h-3.3zM108 159h3.3v3.3h-3.3zM72 162h3.3v3.3h-3.3zM108 162h3.3v3.3h-3.3z" fill="#f4f4fa"/>
<path d="M75 0h3.3v3.3h-3.3zM102 0h3.3v3.3h-3.3zM72 12h3.3v3.3h-3.3zM72 15h3.3v3.3h-3.3zM105 15h3.3v3.3h-3.3zM108 27h3.3v3.3h-3.3zM66 36h3.3v3.3h-3.3zM111 39h3.3v3.3h-3.3zM60 48h3.3v3.3h-3.3zM54 54h3.3v3.3h-3.3zM135 63h3.3v3.3h-3.3zM24 66h3.3v3.3h-3.3zM147 66h3.3v3.3h-3.3zM9 69h3.3v3.3h-3.3zM162 69h3.3v3.3h-3.3zM177 72h3.3v3.3h-3.3zM12 99h3.3v3.3h-3.3zM171 99h3.3v3.3h-3.3zM27 102h3.3v3.3h-3.3zM159 102h3.3v3.3h-3.3zM39 105h3.3v3.3h-3.3zM147 105h3.3v3.3h-3.3zM117 123h3.3v3.3h-3.3zM66 126h3.3v3.3h-3.3zM114 129h3.3v3.3h-3.3zM69 135h3.3v3.3h-3.3zM111 138h3.3v3.3h-3.3zM72 147h3.3v3.3h-3.3zM108 150h3.3v3.3h-3.3zM75 162h3.3v3.3h-3.3zM105 162h3.3v3.3h-3.3z" fill="#f1f1f8"/>
<path d="M78 0h3.3v3.3h-3.3zM75 9h3.3v3.3h-3.3zM102 9h3.3v3.3h-3.3zM75 12h3.3v3.3h-3.3zM102 12h3.3v3.3h-3.3zM72 21h3.3v3.3h-3.3zM105 24h3.3v3.3h-3.3zM69 33h3.3v3.3h-3.3zM108 36h3.3v3.3h-3.3zM111 45h3.3v3.3h-3.3zM60 51h3.3v3.3h-3.3zM114 51h3.3v3.3h-3.3zM57 54h3.3v3.3h-3.3zM48 60h3.3v3.3h-3.3zM123 60h3.3v3.3h-3.3zM141 66h3.3v3.3h-3.3zM21 69h3.3v3.3h-3.3zM153 69h3.3v3.3h-3.3zM9 72h3.3v3.3h-3.3zM165 72h3.3v3.3h-3.3zM177 75h3.3v3.3h-3.3zM0 93h3.3v3.3h-3.3zM9 96h6.3v3.3h-6.3zM174 96h3.3v3.3h-3.3zM24 99h3.3v3.3h-3.3zM162 99h3.3v3.3h-3.3zM36 102h3.3v3.3h-3.3zM150 102h3.3v3.3h-3.3zM54 108h3.3v3.3h-3.3zM132 108h3.3v3.3h-3.3zM126 111h3.3v3.3h-3.3zM66 120h3.3v3.3h-3.3zM117 120h3.3v3.3h-3.3zM69 129h3.3v3.3h-3.3zM111 132h3.3v3.3h-3.3zM108 141h3.3v3.3h-3.3zM75 153h3.3v3.3h-3.3zM105 153h3.3v3.3h-3.3zM102 162h3.3v3.3h-3.3zM78 165h3.3v3.3h-3.3zM102 165h3.3v3.3h-3.3z" fill="#ececf6"/>
<path d="M81 0h3.3v3.3h-3.3zM96 0h3.3v3.3h-3.3zM78 9h3.3v3.3h-3.3zM99 9h3.3v3.3h-3.3zM75 21h3.3v3.3h-3.3zM102 21h3.3v3.3h-3.3zM72 30h3.3v3.3h-3.3zM105 33h3.3v3.3h-3.3zM69 39h3.3v3.3h-3.3zM108 42h3.3v3.3h-3.3zM66 45h3.3v3.3h-3.3zM39 66h3.3v3.3h-3.3zM30 69h3.3v3.3h-3.3zM144 69h3.3v3.3h-3.3zM18 72h3.3v3.3h-3.3zM153 72h3.3v3.3h-3.3zM9 75h3.3v3.3h-3.3zM165 75h3.3v3.3h-3.3zM0 78h3.3v3.3h-3.3zM174 78h3.3v3.3h-3.3zM180 81h3.3v3.3h-3.3zM0 90h6.3v3.3h-6.3zM180 90h3.3v3.3h-3.3zM9 93h6.3v3.3h-6.3zM171 93h3.3v3.3h-3.3zM21 96h3.3v3.3h-3.3zM162 96h3.3v3.3h-3.3zM33 99h3.3v3.3h-3.3zM153 99h3.3v3.3h-3.3zM42 102h3.3v3.3h-3.3zM51 105h3.3v3.3h-3.3zM135 105h3.3v3.3h-3.3zM120 114h3.3v3.3h-3.3zM66 117h3.3v3.3h-3.3zM117 117h3.3v3.3h-3.3zM69 123h3.3v3.3h-3.3zM72 132h3.3v3.3h-3.3zM108 135h3.3v3.3h-3.3zM75 144h3.3v3.3h-3.3zM105 144h3.3v3.3h-3.3zM78 153h3.3v3.3h-3.3zM102 153h3.3v3.3h-3.3zM99 162h3.3v3.3h-3.3zM81 165h3.3v3.3h-3.3zM99 165h3.3v3.3h-3.3zM84 171h3.3v3.3h-3.3zM96 171h3.3v3.3h-3.3z" fill="#e7e8f4"/>
<path d="M84 0h12.3v3.3h-12.3zM84 3h3.3v3.3h-3.3zM93 3h3.3v3.3h-3.3zM84 6h3.3v3.3h-3.3zM93 6h3.3v3.3h-3.3zM81 9h3.3v3.3h-3.3zM96 9h3.3v3.3h-3.3zM81 12h3.3v3.3h-3.3zM96 12h3.3v3.3h-3.3zM78 15h3.3v3.3h-3.3zM78 18h3.3v3.3h-3.3zM99 18h3.3v3.3h-3.3zM75 27h3.3v3.3h-3.3zM102 27h3.3v3.3h-3.3zM72 36h3.3v3.3h-3.3zM105 36h3.3v3.3h-3.3zM105 39h3.3v3.3h-3.3zM69 42h3.3v3.3h-3.3zM108 45h3.3v3.3h-3.3zM66 48h3.3v3.3h-3.3zM63 51h3.3v3.3h-3.3zM114 57h3.3v3.3h-3.3zM54 60h3.3v3.3h-3.3zM117 60h3.3v3.3h-3.3zM42 66h3.3v3.3h-3.3zM129 66h3.3v3.3h-3.3zM33 69h6.3v3.3h-6.3zM138 69h3.3v3.3h-3.3zM24 72h6.3v3.3h-6.3zM147 72h3.3v3.3h-3.3zM15 75h6.3v3.3h-6.3zM156 75h6.3v3.3h-6.3zM9 78h6.3v3.3h-6.3zM165 78h6.3v3.3h-6.3zM3 81h6.3v3.3h-6.3zM171 81h6.3v3.3h-6.3zM3 84h6.3v3.3h-6.3zM171 84h9.3v3.3h-9.3zM3 87h9.3v3.3h-9.3zM171 87h9.3v3.3h-9.3zM9 90h6.3v3.3h-6.3zM168 90h6.3v3.3h-6.3zM18 93h6.3v3.3h-6.3zM162 93h6.3v3.3h-6.3zM27 96h6.3v3.3h-6.3zM153 96h6.3v3.3h-6.3zM39 99h3.3v3.3h-3.3zM147 99h3.3v3.3h-3.3zM48 102h3.3v3.3h-3.3zM138 102h3.3v3.3h-3.3zM54 105h3.3v3.3h-3.3zM60 108h3.3v3.3h-3.3zM126 108h3.3v3.3h-3.3zM63 111h3.3v3.3h-3.3zM66 114h3.3v3.3h-3.3zM69 120h3.3v3.3h-3.3zM111 123h3.3v3.3h-3.3zM72 126h3.3v3.3h-3.3zM108 129h3.3v3.3h-3.3zM75 135h3.3v3.3h-3.3zM75 138h3.3v3.3h-3.3zM105 138h3.3v3.3h-3.3zM78 144h3.3v3.3h-3.3zM78 147h3.3v3.3h-3.3zM102 147h3.3v3.3h-3.3zM81 153h3.3v3.3h-3.3zM99 153h3.3v3.3h-3.3zM81 156h3.3v3.3h-3.3zM99 156h3.3v3.3h-3.3zM84 162h3.3v3.3h-3.3zM96 162h3.3v3.3h-3.3zM84 165h6.3v3.3h-6.3zM93 165h6.3v3.3h-6.3zM87 168h9.3v3.3h-9.3zM87 171h9.3v3.3h-9.3z" fill="#e4e5f3"/>
<path d="M99 0h3.3v3.3h-3.3zM78 3h3.3v3.3h-3.3zM99 3h3.3v3.3h-3.3zM75 15h3.3v3.3h-3.3zM102 15h3.3v3.3h-3.3zM72 24h3.3v3.3h-3.3zM105 27h3.3v3.3h-3.3zM66 42h3.3v3.3h-3.3zM63 48h3.3v3.3h-3.3zM54 57h3.3v3.3h-3.3zM42 63h3.3v3.3h-3.3zM129 63h3.3v3.3h-3.3zM33 66h3.3v3.3h-3.3zM138 66h3.3v3.3h-3.3zM24 69h3.3v3.3h-3.3zM150 69h3.3v3.3h-3.3zM12 72h3.3v3.3h-3.3zM162 72h3.3v3.3h-3.3zM0 75h6.3v3.3h-6.3zM174 75h3.3v3.3h-3.3zM3 93h3.3v3.3h-3.3zM180 93h3.3v3.3h-3.3zM15 96h3.3v3.3h-3.3zM168 96h6.3v3.3h-6.3zM27 99h3.3v3.3h-3.3zM159 99h3.3v3.3h-3.3zM39 102h3.3v3.3h-3.3zM147 102h3.3v3.3h-3.3zM48 105h3.3v3.3h-3.3zM138 105h3.3v3.3h-3.3zM60 111h3.3v3.3h-3.3zM63 114h3.3v3.3h-3.3zM114 123h3.3v3.3h-3.3zM69 126h3.3v3.3h-3.3zM72 138h3.3v3.3h-3.3zM108 138h3.3v3.3h-3.3zM75 150h3.3v3.3h-3.3zM105 150h3.3v3.3h-3.3zM102 159h3.3v3.3h-3.3zM78 162h3.3v3.3h-3.3zM81 171h3.3v3.3h-3.3zM99 171h3.3v3.3h-3.3z" fill="#eaebf6"/>
<path d="M69 3h3.3v3.3h-3.3zM108 3h3.3v3.3h-3.3zM69 6h3.3v3.3h-3.3zM66 18h3.3v3.3h-3.3zM111 21h3.3v3.3h-3.3zM63 30h3.3v3.3h-3.3zM114 33h3.3v3.3h-3.3zM60 39h3.3v3.3h-3.3zM117 42h3.3v3.3h-3.3zM57 45h3.3v3.3h-3.3zM54 48h3.3v3.3h-3.3zM120 48h3.3v3.3h-3.3zM51 51h3.3v3.3h-3.3zM123 51h3.3v3.3h-3.3zM126 54h3.3v3.3h-3.3zM39 57h3.3v3.3h-3.3zM132 57h3.3v3.3h-3.3zM30 60h3.3v3.3h-3.3zM141 60h3.3v3.3h-3.3zM15 63h3.3v3.3h-3.3zM156 63h3.3v3.3h-3.3zM0 66h3.3v3.3h-3.3zM171 66h6.3v3.3h-6.3zM0 102h6.3v3.3h-6.3zM18 105h3.3v3.3h-3.3zM168 105h3.3v3.3h-3.3zM33 108h3.3v3.3h-3.3zM153 108h3.3v3.3h-3.3zM141 111h3.3v3.3h-3.3zM51 114h3.3v3.3h-3.3zM129 117h3.3v3.3h-3.3zM60 123h3.3v3.3h-3.3zM120 126h3.3v3.3h-3.3zM63 132h3.3v3.3h-3.3zM66 141h3.3v3.3h-3.3zM114 144h3.3v3.3h-3.3zM69 156h3.3v3.3h-3.3zM111 156h3.3v3.3h-3.3zM108 171h3.3v3.3h-3.3z" fill="#f7f7fc"/>
<path d="M75 3h3.3v3.3h-3.3zM102 3h3.3v3.3h-3.3zM72 18h3.3v3.3h-3.3zM105 18h3.3v3.3h-3.3zM69 27h3.3v3.3h-3.3zM108 30h3.3v3.3h-3.3zM114 48h3.3v3.3h-3.3zM117 54h3.3v3.3h-3.3zM51 57h3.3v3.3h-3.3zM45 60h3.3v3.3h-3.3zM126 60h3.3v3.3h-3.3zM36 63h3.3v3.3h-3.3zM27 66h3.3v3.3h-3.3zM144 66h3.3v3.3h-3.3zM12 69h6.3v3.3h-6.3zM159 69h3.3v3.3h-3.3zM0 72h3.3v3.3h-3.3zM171 72h6.3v3.3h-6.3zM0 96h6.3v3.3h-6.3zM180 96h3.3v3.3h-3.3zM15 99h6.3v3.3h-6.3zM168 99h3.3v3.3h-3.3zM30 102h3.3v3.3h-3.3zM156 102h3.3v3.3h-3.3zM42 105h3.3v3.3h-3.3zM144 105h3.3v3.3h-3.3zM51 108h3.3v3.3h-3.3zM135 108h3.3v3.3h-3.3zM57 111h3.3v3.3h-3.3zM129 111h3.3v3.3h-3.3zM60 114h3.3v3.3h-3.3zM63 117h3.3v3.3h-3.3zM66 123h3.3v3.3h-3.3zM111 135h3.3v3.3h-3.3zM72 144h3.3v3.3h-3.3zM108 147h3.3v3.3h-3.3zM75 159h3.3v3.3h-3.3zM105 159h3.3v3.3h-3.3zM102 171h3.3v3.3h-3.3z" fill="#eff0f7"/>
<path d="M81 3h3.3v3.3h-3.3zM96 3h3.3v3.3h-3.3zM81 6h3.3v3.3h-3.3zM96 6h3.3v3.3h-3.3zM78 12h3.3v3.3h-3.3zM99 12h3.3v3.3h-3.3zM99 15h3.3v3.3h-3.3zM75 24h3.3v3.3h-3.3zM102 24h3.3v3.3h-3.3zM72 33h3.3v3.3h-3.3zM111 51h3.3v3.3h-3.3zM60 54h3.3v3.3h-3.3zM57 57h3.3v3.3h-3.3zM48 63h3.3v3.3h-3.3zM123 63h3.3v3.3h-3.3zM132 66h3.3v3.3h-3.3zM141 69h3.3v3.3h-3.3zM21 72h3.3v3.3h-3.3zM150 72h3.3v3.3h-3.3zM12 75h3.3v3.3h-3.3zM162 75h3.3v3.3h-3.3zM3 78h6.3v3.3h-6.3zM171 78h3.3v3.3h-3.3zM0 81h3.3v3.3h-3.3zM177 81h3.3v3.3h-3.3zM0 84h3.3v3.3h-3.3zM180 84h3.3v3.3h-3.3zM0 87h3.3v3.3h-3.3zM180 87h3.3v3.3h-3.3zM6 90h3.3v3.3h-3.3zM174 90h6.3v3.3h-6.3zM15 93h3.3v3.3h-3.3zM168 93h3.3v3.3h-3.3zM24 96h3.3v3.3h-3.3zM159 96h3.3v3.3h-3.3zM36 99h3.3v3.3h-3.3zM150 99h3.3v3.3h-3.3zM45 102h3.3v3.3h-3.3zM141 102h3.3v3.3h-3.3zM132 105h3.3v3.3h-3.3zM123 111h3.3v3.3h-3.3zM114 120h3.3v3.3h-3.3zM111 126h3.3v3.3h-3.3zM72 129h3.3v3.3h-3.3zM108 132h3.3v3.3h-3.3zM75 141h3.3v3.3h-3.3zM105 141h3.3v3.3h-3.3zM78 150h3.3v3.3h-3.3zM102 150h3.3v3.3h-3.3zM81 159h3.3v3.3h-3.3zM99 159h3.3v3.3h-3.3zM81 162h3.3v3.3h-3.3zM84 168h3.3v3.3h-3.3zM96 168h3.3v3.3h-3.3z" fill="#e6e6f4"/>
<path d="M87 3h6.3v3.3h-6.3zM87 6h6.3v3.3h-6.3zM84 9h12.3v3.3h-12.3zM84 12h3.3v3.3h-3.3zM93 12h3.3v3.3h-3.3zM81 15h3.3v3.3h-3.3zM96 15h3.3v3.3h-3.3zM81 18h3.3v3.3h-3.3zM96 18h3.3v3.3h-3.3zM78 21h3.3v3.3h-3.3zM99 21h3.3v3.3h-3.3zM78 24h3.3v3.3h-3.3zM99 24h3.3v3.3h-3.3zM99 27h3.3v3.3h-3.3zM75 30h3.3v3.3h-3.3zM102 30h3.3v3.3h-3.3zM75 33h3.3v3.3h-3.3zM102 33h3.3v3.3h-3.3zM72 39h3.3v3.3h-3.3zM105 42h3.3v3.3h-3.3zM69 45h3.3v3.3h-3.3zM108 48h3.3v3.3h-3.3zM111 54h3.3v3.3h-3.3zM51 63h3.3v3.3h-3.3zM120 63h3.3v3.3h-3.3zM45 66h3.3v3.3h-3.3zM126 66h3.3v3.3h-3.3zM39 69h3.3v3.3h-3.3zM132 69h6.3v3.3h-6.3zM30 72h6.3v3.3h-6.3zM141 72h6.3v3.3h-6.3zM21 75h9.3v3.3h-9.3zM150 75h6.3v3.3h-6.3zM15 78h9.3v3.3h-9.3zM156 78h9.3v3.3h-9.3zM9 81h9.3v3.3h-9.3zM162 81h9.3v3.3h-9.3zM9 84h9.3v3.3h-9.3zM165 84h6.3v3.3h-6.3zM12 87h6.3v3.3h-6.3zM162 87h9.3v3.3h-9.3zM15 90h9.3v3.3h-9.3zM159 90h9.3v3.3h-9.3zM24 93h6.3v3.3h-6.3zM156 93h6.3v3.3h-6.3zM33 96h6.3v3.3h-6.3zM147 96h6.3v3.3h-6.3zM42 99h6.3v3.3h-6.3zM141 99h6.3v3.3h-6.3zM51 102h3.3v3.3h-3.3zM135 102h3.3v3.3h-3.3zM57 105h3.3v3.3h-3.3zM129 105h3.3v3.3h-3.3zM63 108h3.3v3.3h-3.3zM123 108h3.3v3.3h-3.3zM120 111h3.3v3.3h-3.3zM117 114h3.3v3.3h-3.3zM69 117h3.3v3.3h-3.3zM114 117h3.3v3.3h-3.3zM72 123h3.3v3.3h-3.3zM108 126h3.3v3.3h-3.3zM75 132h3.3v3.3h-3.3zM105 132h3.3v3.3h-3.3zM105 135h3.3v3.3h-3.3zM78 138h3.3v3.3h-3.3zM78 141h3.3v3.3h-3.3zM102 141h3.3v3.3h-3.3zM102 144h3.3v3.3h-3.3zM81 147h3.3v3.3h-3.3zM99 147h3.3v3.3h-3.3zM81 150h3.3v3.3h-3.3zM99 150h3.3v3.3h-3.3zM84 153h3.3v3.3h-3.3zM96 153h3.3v3.3h-3.3zM84 156h3.3v3.3h-3.3zM93 156h6.3v3.3h-6.3zM84 159h15.3v3.3h-15.3zM87 162h9.3v3.3h-9.3zM90 165h3.3v3.3h-3.3z" fill="#dfe0f1"/>
<path d="M72 6h3.3v3.3h-3.3zM105 6h3.3v3.3h-3.3zM69 21h3.3v3.3h-3.3zM108 21h3.3v3.3h-3.3zM120 54h3.3v3.3h-3.3zM48 57h3.3v3.3h-3.3zM30 63h3.3v3.3h-3.3zM141 63h3.3v3.3h-3.3zM18 66h3.3v3.3h-3.3zM153 66h3.3v3.3h-3.3zM3 69h3.3v3.3h-3.3zM168 69h6.3v3.3h-6.3zM3 99h6.3v3.3h-6.3zM180 99h3.3v3.3h-3.3zM21 102h3.3v3.3h-3.3zM165 102h3.3v3.3h-3.3zM45 108h3.3v3.3h-3.3zM141 108h3.3v3.3h-3.3zM132 111h3.3v3.3h-3.3zM57 114h3.3v3.3h-3.3zM60 117h3.3v3.3h-3.3zM123 117h3.3v3.3h-3.3zM66 129h3.3v3.3h-3.3zM114 132h3.3v3.3h-3.3zM69 141h3.3v3.3h-3.3zM111 141h3.3v3.3h-3.3zM108 153h3.3v3.3h-3.3zM72 156h3.3v3.3h-3.3zM108 156h3.3v3.3h-3.3zM105 168h3.3v3.3h-3.3zM75 171h3.3v3.3h-3.3zM105 171h3.3v3.3h-3.3z" fill="#f3f3f9"/>
<path d="M75 6h3.3v3.3h-3.3zM102 6h3.3v3.3h-3.3zM105 21h3.3v3.3h-3.3zM69 30h3.3v3.3h-3.3zM108 33h3.3v3.3h-3.3zM66 39h3.3v3.3h-3.3zM111 42h3.3v3.3h-3.3zM63 45h3.3v3.3h-3.3zM120 57h3.3v3.3h-3.3zM39 63h3.3v3.3h-3.3zM132 63h3.3v3.3h-3.3zM30 66h3.3v3.3h-3.3zM18 69h3.3v3.3h-3.3zM156 69h3.3v3.3h-3.3zM3 72h6.3v3.3h-6.3zM168 72h3.3v3.3h-3.3zM180 75h3.3v3.3h-3.3zM6 96h3.3v3.3h-3.3zM177 96h3.3v3.3h-3.3zM21 99h3.3v3.3h-3.3zM165 99h3.3v3.3h-3.3zM33 102h3.3v3.3h-3.3zM153 102h3.3v3.3h-3.3zM45 105h3.3v3.3h-3.3zM141 105h3.3v3.3h-3.3zM123 114h3.3v3.3h-3.3zM120 117h3.3v3.3h-3.3zM114 126h3.3v3.3h-3.3zM69 132h3.3v3.3h-3.3zM72 141h3.3v3.3h-3.3zM108 144h3.3v3.3h-3.3zM75 156h3.3v3.3h-3.3zM105 156h3.3v3.3h-3.3zM78 168h3.3v3.3h-3.3zM102 168h3.3v3.3h-3.3zM78 171h3.3v3.3h-3.3z" fill="#eeeef7"/>
<path d="M78 6h3.3v3.3h-3.3zM99 6h3.3v3.3h-3.3zM75 18h3.3v3.3h-3.3zM102 18h3.3v3.3h-3.3zM72 27h3.3v3.3h-3.3zM105 30h3.3v3.3h-3.3zM69 36h3.3v3.3h-3.3zM108 39h3.3v3.3h-3.3zM111 48h3.3v3.3h-3.3zM114 54h3.3v3.3h-3.3zM117 57h3.3v3.3h-3.3zM51 60h3.3v3.3h-3.3zM120 60h3.3v3.3h-3.3zM45 63h3.3v3.3h-3.3zM126 63h3.3v3.3h-3.3zM36 66h3.3v3.3h-3.3zM135 66h3.3v3.3h-3.3zM27 69h3.3v3.3h-3.3zM147 69h3.3v3.3h-3.3zM15 72h3.3v3.3h-3.3zM156 72h6.3v3.3h-6.3zM6 75h3.3v3.3h-3.3zM168 75h6.3v3.3h-6.3zM177 78h6.3v3.3h-6.3zM6 93h3.3v3.3h-3.3zM174 93h6.3v3.3h-6.3zM18 96h3.3v3.3h-3.3zM165 96h3.3v3.3h-3.3zM30 99h3.3v3.3h-3.3zM156 99h3.3v3.3h-3.3zM144 102h3.3v3.3h-3.3zM57 108h3.3v3.3h-3.3zM129 108h3.3v3.3h-3.3zM111 129h3.3v3.3h-3.3zM72 135h3.3v3.3h-3.3zM75 147h3.3v3.3h-3.3zM105 147h3.3v3.3h-3.3zM78 156h3.3v3.3h-3.3zM102 156h3.3v3.3h-3.3zM78 159h3.3v3.3h-3.3zM81 168h3.3v3.3h-3.3zM99 168h3.3v3.3h-3.3z" fill="#e9eaf5"/>
<path d="M108 6h3.3v3.3h-3.3zM69 9h3.3v3.3h-3.3zM108 9h3.3v3.3h-3.3zM66 21h3.3v3.3h-3.3zM111 24h3.3v3.3h-3.3zM63 33h3.3v3.3h-3.3zM114 36h3.3v3.3h-3.3zM48 54h3.3v3.3h-3.3zM18 63h3.3v3.3h-3.3zM153 63h3.3v3.3h-3.3zM3 66h3.3v3.3h-3.3zM168 66h3.3v3.3h-3.3zM6 102h3.3v3.3h-3.3zM180 102h3.3v3.3h-3.3zM21 105h3.3v3.3h-3.3zM162 105h6.3v3.3h-6.3zM36 108h3.3v3.3h-3.3zM150 108h3.3v3.3h-3.3zM45 111h3.3v3.3h-3.3zM132 114h3.3v3.3h-3.3zM63 129h3.3v3.3h-3.3zM117 132h3.3v3.3h-3.3zM66 138h3.3v3.3h-3.3zM114 141h3.3v3.3h-3.3zM69 153h3.3v3.3h-3.3zM111 153h3.3v3.3h-3.3zM108 168h3.3v3.3h-3.3zM72 171h3.3v3.3h-3.3z" fill="#f6f6fb"/>
<path d="M72 9h3.3v3.3h-3.3zM105 9h3.3v3.3h-3.3zM105 12h3.3v3.3h-3.3zM69 24h3.3v3.3h-3.3zM108 24h3.3v3.3h-3.3zM66 33h3.3v3.3h-3.3zM111 36h3.3v3.3h-3.3zM63 42h3.3v3.3h-3.3zM114 45h3.3v3.3h-3.3zM57 51h3.3v3.3h-3.3zM117 51h3.3v3.3h-3.3zM123 57h3.3v3.3h-3.3zM42 60h3.3v3.3h-3.3zM129 60h3.3v3.3h-3.3zM33 63h3.3v3.3h-3.3zM138 63h3.3v3.3h-3.3zM21 66h3.3v3.3h-3.3zM150 66h3.3v3.3h-3.3zM6 69h3.3v3.3h-3.3zM165 69h3.3v3.3h-3.3zM180 72h3.3v3.3h-3.3zM9 99h3.3v3.3h-3.3zM174 99h6.3v3.3h-6.3zM24 102h3.3v3.3h-3.3zM162 102h3.3v3.3h-3.3zM36 105h3.3v3.3h-3.3zM150 105h3.3v3.3h-3.3zM48 108h3.3v3.3h-3.3zM138 108h3.3v3.3h-3.3zM54 111h3.3v3.3h-3.3zM126 114h3.3v3.3h-3.3zM63 120h3.3v3.3h-3.3zM120 120h3.3v3.3h-3.3zM69 138h3.3v3.3h-3.3zM72 150h3.3v3.3h-3.3zM72 153h3.3v3.3h-3.3zM75 165h3.3v3.3h-3.3zM105 165h3.3v3.3h-3.3zM75 168h3.3v3.3h-3.3z" fill="#f2f2f8"/>
<path d="M69 12h3.3v3.3h-3.3zM108 12h3.3v3.3h-3.3zM66 24h3.3v3.3h-3.3zM111 27h3.3v3.3h-3.3zM60 42h3.3v3.3h-3.3zM117 45h3.3v3.3h-3.3zM120 51h3.3v3.3h-3.3zM123 54h3.3v3.3h-3.3zM42 57h3.3v3.3h-3.3zM129 57h3.3v3.3h-3.3zM33 60h3.3v3.3h-3.3zM138 60h3.3v3.3h-3.3zM21 63h3.3v3.3h-3.3zM150 63h3.3v3.3h-3.3zM6 66h3.3v3.3h-3.3zM165 66h3.3v3.3h-3.3zM9 102h3.3v3.3h-3.3zM177 102h3.3v3.3h-3.3zM24 105h6.3v3.3h-6.3zM159 105h3.3v3.3h-3.3zM39 108h3.3v3.3h-3.3zM147 108h3.3v3.3h-3.3zM48 111h3.3v3.3h-3.3zM138 111h3.3v3.3h-3.3zM54 114h3.3v3.3h-3.3zM57 117h3.3v3.3h-3.3zM126 117h3.3v3.3h-3.3zM60 120h3.3v3.3h-3.3zM123 120h3.3v3.3h-3.3zM63 126h3.3v3.3h-3.3zM117 129h3.3v3.3h-3.3zM114 138h3.3v3.3h-3.3zM69 150h3.3v3.3h-3.3zM111 150h3.3v3.3h-3.3zM72 165h3.3v3.3h-3.3zM108 165h3.3v3.3h-3.3zM72 168h3.3v3.3h-3.3z" fill="#f5f5fa"/>
<path d="M87 12h6.3v3.3h-6.3zM84 15h12.3v3.3h-12.3zM84 18h12.3v3.3h-12.3zM81 21h6.3v3.3h-6.3zM93 21h6.3v3.3h-6.3zM81 24h3.3v3.3h-3.3zM96 24h3.3v3.3h-3.3zM78 27h3.3v3.3h-3.3zM96 27h3.3v3.3h-3.3zM78 30h3.3v3.3h-3.3zM99 30h3.3v3.3h-3.3zM99 33h3.3v3.3h-3.3zM75 36h3.3v3.3h-3.3zM102 36h3.3v3.3h-3.3zM102 39h3.3v3.3h-3.3zM72 42h3.3v3.3h-3.3zM105 45h3.3v3.3h-3.3zM69 48h3.3v3.3h-3.3zM105 48h3.3v3.3h-3.3zM66 51h3.3v3.3h-3.3zM108 51h3.3v3.3h-3.3zM63 54h3.3v3.3h-3.3zM60 57h3.3v3.3h-3.3zM111 57h3.3v3.3h-3.3zM57 60h3.3v3.3h-3.3zM114 60h3.3v3.3h-3.3zM54 63h3.3v3.3h-3.3zM117 63h3.3v3.3h-3.3zM48 66h3.3v3.3h-3.3zM123 66h3.3v3.3h-3.3zM42 69h6.3v3.3h-6.3zM129 69h3.3v3.3h-3.3zM36 72h6.3v3.3h-6.3zM135 72h6.3v3.3h-6.3zM30 75h6.3v3.3h-6.3zM141 75h9.3v3.3h-9.3zM24 78h6.3v3.3h-6.3zM150 78h6.3v3.3h-6.3zM18 81h9.3v3.3h-9.3zM153 81h9.3v3.3h-9.3zM18 84h6.3v3.3h-6.3zM156 84h9.3v3.3h-9.3zM18 87h9.3v3.3h-9.3zM156 87h6.3v3.3h-6.3zM24 90h6.3v3.3h-6.3zM153 90h6.3v3.3h-6.3zM30 93h6.3v3.3h-6.3zM147 93h9.3v3.3h-9.3zM39 96h6.3v3.3h-6.3zM141 96h6.3v3.3h-6.3zM48 99h3.3v3.3h-3.3zM135 99h6.3v3.3h-6.3zM54 102h3.3v3.3h-3.3zM129 102h6.3v3.3h-6.3zM60 105h3.3v3.3h-3.3zM126 105h3.3v3.3h-3.3zM66 111h3.3v3.3h-3.3zM69 114h3.3v3.3h-3.3zM72 120h3.3v3.3h-3.3zM111 120h3.3v3.3h-3.3zM108 123h3.3v3.3h-3.3zM75 126h3.3v3.3h-3.3zM75 129h3.3v3.3h-3.3zM105 129h3.3v3.3h-3.3zM78 132h3.3v3.3h-3.3zM78 135h3.3v3.3h-3.3zM102 135h3.3v3.3h-3.3zM102 138h3.3v3.3h-3.3zM81 141h3.3v3.3h-3.3zM99 141h3.3v3.3h-3.3zM81 144h3.3v3.3h-3.3zM99 144h3.3v3.3h-3.3zM84 147h3.3v3.3h-3.3zM96 147h3.3v3.3h-3.3zM84 150h15.3v3.3h-15.3zM87 153h9.3v3.3h-9.3zM87 156h6.3v3.3h-6.3z" fill="#dadcee"/>
<path d="M87 21h6.3v3.3h-6.3zM84 24h12.3v3.3h-12.3zM81 27h6.3v3.3h-6.3zM93 27h3.3v3.3h-3.3zM81 30h3.3v3.3h-3.3zM96 30h3.3v3.3h-3.3zM78 33h3.3v3.3h-3.3zM96 33h3.3v3.3h-3.3zM78 36h3.3v3.3h-3.3zM99 36h3.3v3.3h-3.3zM75 39h3.3v3.3h-3.3zM99 39h3.3v3.3h-3.3zM75 42h3.3v3.3h-3.3zM102 42h3.3v3.3h-3.3zM72 45h3.3v3.3h-3.3zM102 45h3.3v3.3h-3.3zM105 51h3.3v3.3h-3.3zM66 54h3.3v3.3h-3.3zM108 54h3.3v3.3h-3.3zM63 57h3.3v3.3h-3.3zM60 60h3.3v3.3h-3.3zM51 66h3.3v3.3h-3.3zM120 66h3.3v3.3h-3.3zM48 69h3.3v3.3h-3.3zM123 69h6.3v3.3h-6.3zM42 72h3.3v3.3h-3.3zM132 72h3.3v3.3h-3.3zM36 75h3.3v3.3h-3.3zM138 75h3.3v3.3h-3.3zM30 78h6.3v3.3h-6.3zM144 78h6.3v3.3h-6.3zM27 81h6.3v3.3h-6.3zM147 81h6.3v3.3h-6.3zM24 84h9.3v3.3h-9.3zM150 84h6.3v3.3h-6.3zM27 87h6.3v3.3h-6.3zM150 87h6.3v3.3h-6.3zM30 90h9.3v3.3h-9.3zM147 90h6.3v3.3h-6.3zM36 93h6.3v3.3h-6.3zM141 93h6.3v3.3h-6.3zM45 96h3.3v3.3h-3.3zM138 96h3.3v3.3h-3.3zM51 99h3.3v3.3h-3.3zM132 99h3.3v3.3h-3.3zM57 102h3.3v3.3h-3.3zM63 105h3.3v3.3h-3.3zM123 105h3.3v3.3h-3.3zM66 108h3.3v3.3h-3.3zM120 108h3.3v3.3h-3.3zM69 111h3.3v3.3h-3.3zM117 111h3.3v3.3h-3.3zM114 114h3.3v3.3h-3.3zM72 117h3.3v3.3h-3.3zM111 117h3.3v3.3h-3.3zM108 120h3.3v3.3h-3.3zM75 123h3.3v3.3h-3.3zM105 126h3.3v3.3h-3.3zM78 129h3.3v3.3h-3.3zM102 132h3.3v3.3h-3.3zM81 135h3.3v3.3h-3.3zM99 135h3.3v3.3h-3.3zM81 138h3.3v3.3h-3.3zM99 138h3.3v3.3h-3.3zM84 141h3.3v3.3h-3.3zM96 141h3.3v3.3h-3.3zM84 144h15.3v3.3h-15.3zM87 147h9.3v3.3h-9.3z" fill="#d5d7ec"/>
<path d="M87 27h6.3v3.3h-6.3zM84 30h12.3v3.3h-12.3zM81 33h6.3v3.3h-6.3zM93 33h3.3v3.3h-3.3zM81 36h3.3v3.3h-3.3zM96 36h3.3v3.3h-3.3zM78 39h3.3v3.3h-3.3zM99 42h3.3v3.3h-3.3zM75 45h3.3v3.3h-3.3zM72 48h3.3v3.3h-3.3zM102 48h3.3v3.3h-3.3zM69 51h3.3v3.3h-3.3zM105 54h3.3v3.3h-3.3zM108 57h3.3v3.3h-3.3zM111 60h3.3v3.3h-3.3zM57 63h3.3v3.3h-3.3zM114 63h3.3v3.3h-3.3zM54 66h3.3v3.3h-3.3zM117 66h3.3v3.3h-3.3zM51 69h3.3v3.3h-3.3zM45 72h3.3v3.3h-3.3zM126 72h6.3v3.3h-6.3zM39 75h6.3v3.3h-6.3zM132 75h6.3v3.3h-6.3zM36 78h6.3v3.3h-6.3zM138 78h6.3v3.3h-6.3zM33 81h6.3v3.3h-6.3zM141 81h6.3v3.3h-6.3zM33 84h6.3v3.3h-6.3zM144 84h6.3v3.3h-6.3zM33 87h6.3v3.3h-6.3zM144 87h6.3v3.3h-6.3zM39 90h3.3v3.3h-3.3zM141 90h6.3v3.3h-6.3zM42 93h6.3v3.3h-6.3zM138 93h3.3v3.3h-3.3zM48 96h6.3v3.3h-6.3zM132 96h6.3v3.3h-6.3zM54 99h6.3v3.3h-6.3zM129 99h3.3v3.3h-3.3zM60 102h3.3v3.3h-3.3zM126 102h3.3v3.3h-3.3zM72 114h3.3v3.3h-3.3zM75 120h3.3v3.3h-3.3zM78 123h3.3v3.3h-3.3zM105 123h3.3v3.3h-3.3zM78 126h3.3v3.3h-3.3zM102 126h3.3v3.3h-3.3zM81 129h3.3v3.3h-3.3zM102 129h3.3v3.3h-3.3zM81 132h3.3v3.3h-3.3zM99 132h3.3v3.3h-3.3zM84 135h3.3v3.3h-3.3zM96 135h3.3v3.3h-3.3zM84 138h15.3v3.3h-15.3zM87 141h9.3v3.3h-9.3z" fill="#d0d2ea"/>
<path d="M87 33h6.3v3.3h-6.3zM84 36h12.3v3.3h-12.3zM81 39h3.3v3.3h-3.3zM93 39h6.3v3.3h-6.3zM78 42h3.3v3.3h-3.3zM96 42h3.3v3.3h-3.3zM99 45h3.3v3.3h-3.3zM75 48h3.3v3.3h-3.3zM72 51h3.3v3.3h-3.3zM102 51h3.3v3.3h-3.3zM69 54h3.3v3.3h-3.3zM66 57h3.3v3.3h-3.3zM63 60h3.3v3.3h-3.3zM108 60h3.3v3.3h-3.3zM60 63h3.3v3.3h-3.3zM111 63h3.3v3.3h-3.3zM57 66h3.3v3.3h-3.3zM114 66h3.3v3.3h-3.3zM54 69h3.3v3.3h-3.3zM120 69h3.3v3.3h-3.3zM48 72h3.3v3.3h-3.3zM123 72h3.3v3.3h-3.3zM45 75h3.3v3.3h-3.3zM129 75h3.3v3.3h-3.3zM42 78h3.3v3.3h-3.3zM132 78h6.3v3.3h-6.3zM39 81h6.3v3.3h-6.3zM135 81h6.3v3.3h-6.3zM39 84h6.3v3.3h-6.3zM138 84h6.3v3.3h-6.3zM39 87h6.3v3.3h-6.3zM138 87h6.3v3.3h-6.3zM42 90h6.3v3.3h-6.3zM135 90h6.3v3.3h-6.3zM48 93h3.3v3.3h-3.3zM132 93h6.3v3.3h-6.3zM54 96h3.3v3.3h-3.3zM129 96h3.3v3.3h-3.3zM126 99h3.3v3.3h-3.3zM63 102h3.3v3.3h-3.3zM123 102h3.3v3.3h-3.3zM66 105h3.3v3.3h-3.3zM120 105h3.3v3.3h-3.3zM69 108h3.3v3.3h-3.3zM117 108h3.3v3.3h-3.3zM72 111h3.3v3.3h-3.3zM114 111h3.3v3.3h-3.3zM111 114h3.3v3.3h-3.3zM75 117h3.3v3.3h-3.3zM108 117h3.3v3.3h-3.3zM78 120h3.3v3.3h-3.3zM105 120h3.3v3.3h-3.3zM102 123h3.3v3.3h-3.3zM81 126h3.3v3.3h-3.3zM99 126h3.3v3.3h-3.3zM84 129h3.3v3.3h-3.3zM96 129h6.3v3.3h-6.3zM84 132h15.3v3.3h-15.3zM87 135h9.3v3.3h-9.3z" fill="#c9cbe7"/>
<path d="M84 39h9.3v3.3h-9.3zM81 42h6.3v3.3h-6.3zM90 42h6.3v3.3h-6.3zM78 45h6.3v3.3h-6.3zM96 45h3.3v3.3h-3.3zM99 48h3.3v3.3h-3.3zM102 54h3.3v3.3h-3.3zM105 57h3.3v3.3h-3.3zM117 69h3.3v3.3h-3.3zM51 72h3.3v3.3h-3.3zM120 72h3.3v3.3h-3.3zM48 75h3.3v3.3h-3.3zM126 75h3.3v3.3h-3.3zM45 78h6.3v3.3h-6.3zM129 78h3.3v3.3h-3.3zM45 81h3.3v3.3h-3.3zM132 81h3.3v3.3h-3.3zM45 84h3.3v3.3h-3.3zM132 84h6.3v3.3h-6.3zM45 87h3.3v3.3h-3.3zM132 87h6.3v3.3h-6.3zM48 90h3.3v3.3h-3.3zM132 90h3.3v3.3h-3.3zM51 93h6.3v3.3h-6.3zM129 93h3.3v3.3h-3.3zM57 96h3.3v3.3h-3.3zM126 96h3.3v3.3h-3.3zM60 99h3.3v3.3h-3.3zM123 99h3.3v3.3h-3.3zM120 102h3.3v3.3h-3.3zM75 114h3.3v3.3h-3.3zM78 117h3.3v3.3h-3.3zM105 117h3.3v3.3h-3.3zM102 120h3.3v3.3h-3.3zM81 123h3.3v3.3h-3.3zM99 123h3.3v3.3h-3.3zM84 126h6.3v3.3h-6.3zM96 126h3.3v3.3h-3.3zM87 129h9.3v3.3h-9.3z" fill="#c2c4e4"/>
<path d="M87 42h3.3v3.3h-3.3zM84 45h12.3v3.3h-12.3zM78 48h6.3v3.3h-6.3zM96 48h3.3v3.3h-3.3zM75 51h3.3v3.3h-3.3zM99 51h3.3v3.3h-3.3zM72 54h3.3v3.3h-3.3zM69 57h3.3v3.3h-3.3zM102 57h3.3v3.3h-3.3zM66 60h3.3v3.3h-3.3zM105 60h3.3v3.3h-3.3zM63 63h3.3v3.3h-3.3zM108 63h3.3v3.3h-3.3zM60 66h3.3v3.3h-3.3zM111 66h3.3v3.3h-3.3zM57 69h3.3v3.3h-3.3zM114 69h3.3v3.3h-3.3zM54 72h3.3v3.3h-3.3zM51 75h3.3v3.3h-3.3zM123 75h3.3v3.3h-3.3zM51 78h3.3v3.3h-3.3zM126 78h3.3v3.3h-3.3zM48 81h3.3v3.3h-3.3zM129 81h3.3v3.3h-3.3zM48 84h3.3v3.3h-3.3zM129 84h3.3v3.3h-3.3zM48 87h6.3v3.3h-6.3zM129 87h3.3v3.3h-3.3zM51 90h3.3v3.3h-3.3zM129 90h3.3v3.3h-3.3zM57 93h3.3v3.3h-3.3zM126 93h3.3v3.3h-3.3zM60 96h3.3v3.3h-3.3zM63 99h3.3v3.3h-3.3zM66 102h3.3v3.3h-3.3zM69 105h3.3v3.3h-3.3zM117 105h3.3v3.3h-3.3zM72 108h3.3v3.3h-3.3zM114 108h3.3v3.3h-3.3zM75 111h3.3v3.3h-3.3zM111 111h3.3v3.3h-3.3zM78 114h3.3v3.3h-3.3zM108 114h3.3v3.3h-3.3zM81 120h3.3v3.3h-3.3zM99 120h3.3v3.3h-3.3zM84 123h6.3v3.3h-6.3zM93 123h6.3v3.3h-6.3zM90 126h6.3v3.3h-6.3z" fill="#bbbee1"/>
<path d="M84 48h12.3v3.3h-12.3zM78 51h3.3v3.3h-3.3zM96 51h3.3v3.3h-3.3zM75 54h3.3v3.3h-3.3zM99 54h3.3v3.3h-3.3zM60 69h3.3v3.3h-3.3zM57 72h3.3v3.3h-3.3zM117 72h3.3v3.3h-3.3zM54 75h3.3v3.3h-3.3zM120 75h3.3v3.3h-3.3zM54 78h3.3v3.3h-3.3zM123 78h3.3v3.3h-3.3zM51 81h3.3v3.3h-3.3zM126 81h3.3v3.3h-3.3zM51 84h3.3v3.3h-3.3zM126 84h3.3v3.3h-3.3zM54 87h3.3v3.3h-3.3zM126 87h3.3v3.3h-3.3zM54 90h3.3v3.3h-3.3zM126 90h3.3v3.3h-3.3zM123 93h3.3v3.3h-3.3zM123 96h3.3v3.3h-3.3zM120 99h3.3v3.3h-3.3zM117 102h3.3v3.3h-3.3zM108 111h3.3v3.3h-3.3zM105 114h3.3v3.3h-3.3zM81 117h3.3v3.3h-3.3zM102 117h3.3v3.3h-3.3zM84 120h15.3v3.3h-15.3zM90 123h3.3v3.3h-3.3z" fill="#b4b7de"/>
<path d="M81 51h15.3v3.3h-15.3zM78 54h3.3v3.3h-3.3zM96 54h3.3v3.3h-3.3zM72 57h3.3v3.3h-3.3zM99 57h3.3v3.3h-3.3zM69 60h3.3v3.3h-3.3zM102 60h3.3v3.3h-3.3zM66 63h3.3v3.3h-3.3zM105 63h3.3v3.3h-3.3zM63 66h3.3v3.3h-3.3zM108 66h3.3v3.3h-3.3zM111 69h3.3v3.3h-3.3zM114 72h3.3v3.3h-3.3zM57 75h3.3v3.3h-3.3zM117 75h3.3v3.3h-3.3zM120 78h3.3v3.3h-3.3zM54 81h3.3v3.3h-3.3zM123 81h3.3v3.3h-3.3zM54 84h3.3v3.3h-3.3zM123 84h3.3v3.3h-3.3zM57 87h3.3v3.3h-3.3zM123 87h3.3v3.3h-3.3zM57 90h3.3v3.3h-3.3zM123 90h3.3v3.3h-3.3zM60 93h3.3v3.3h-3.3zM63 96h3.3v3.3h-3.3zM120 96h3.3v3.3h-3.3zM66 99h3.3v3.3h-3.3zM69 102h3.3v3.3h-3.3zM72 105h3.3v3.3h-3.3zM114 105h3.3v3.3h-3.3zM75 108h3.3v3.3h-3.3zM111 108h3.3v3.3h-3.3zM78 111h3.3v3.3h-3.3zM81 114h3.3v3.3h-3.3zM102 114h3.3v3.3h-3.3zM84 117h6.3v3.3h-6.3zM96 117h6.3v3.3h-6.3z" fill="#abaeda"/>
<path d="M81 54h3.3v3.3h-3.3zM90 54h6.3v3.3h-6.3zM75 57h3.3v3.3h-3.3zM96 57h3.3v3.3h-3.3zM63 69h3.3v3.3h-3.3zM60 72h3.3v3.3h-3.3zM57 78h3.3v3.3h-3.3zM117 78h3.3v3.3h-3.3zM57 81h3.3v3.3h-3.3zM120 81h3.3v3.3h-3.3zM57 84h3.3v3.3h-3.3zM120 84h3.3v3.3h-3.3zM120 87h3.3v3.3h-3.3zM60 90h3.3v3.3h-3.3zM120 90h3.3v3.3h-3.3zM63 93h3.3v3.3h-3.3zM120 93h3.3v3.3h-3.3zM66 96h3.3v3.3h-3.3zM117 99h3.3v3.3h-3.3zM114 102h3.3v3.3h-3.3zM78 108h3.3v3.3h-3.3zM108 108h3.3v3.3h-3.3zM81 111h3.3v3.3h-3.3zM105 111h3.3v3.3h-3.3zM84 114h3.3v3.3h-3.3zM99 114h3.3v3.3h-3.3zM90 117h6.3v3.3h-6.3z" fill="#a2a5d6"/>
<path d="M84 54h6.3v3.3h-6.3zM78 57h3.3v3.3h-3.3zM93 57h3.3v3.3h-3.3zM72 60h3.3v3.3h-3.3zM99 60h3.3v3.3h-3.3zM69 63h3.3v3.3h-3.3zM102 63h3.3v3.3h-3.3zM66 66h3.3v3.3h-3.3zM105 66h3.3v3.3h-3.3zM108 69h3.3v3.3h-3.3zM111 72h3.3v3.3h-3.3zM60 75h3.3v3.3h-3.3zM114 75h3.3v3.3h-3.3zM60 78h3.3v3.3h-3.3zM60 81h3.3v3.3h-3.3zM117 81h3.3v3.3h-3.3zM60 84h3.3v3.3h-3.3zM60 87h3.3v3.3h-3.3zM63 90h3.3v3.3h-3.3zM117 96h3.3v3.3h-3.3zM69 99h3.3v3.3h-3.3zM72 102h3.3v3.3h-3.3zM75 105h3.3v3.3h-3.3zM111 105h3.3v3.3h-3.3zM84 111h3.3v3.3h-3.3zM102 111h3.3v3.3h-3.3zM87 114h12.3v3.3h-12.3z" fill="#999cd1"/>
<path d="M81 57h12.3v3.3h-12.3zM75 60h3.3v3.3h-3.3zM96 60h3.3v3.3h-3.3zM66 69h3.3v3.3h-3.3zM63 72h3.3v3.3h-3.3zM63 75h3.3v3.3h-3.3zM111 75h3.3v3.3h-3.3zM114 78h3.3v3.3h-3.3zM117 84h3.3v3.3h-3.3zM63 87h3.3v3.3h-3.3zM117 87h3.3v3.3h-3.3zM117 90h3.3v3.3h-3.3zM66 93h3.3v3.3h-3.3zM117 93h3.3v3.3h-3.3zM69 96h3.3v3.3h-3.3zM114 99h3.3v3.3h-3.3zM111 102h3.3v3.3h-3.3zM78 105h3.3v3.3h-3.3zM108 105h3.3v3.3h-3.3zM81 108h3.3v3.3h-3.3zM105 108h3.3v3.3h-3.3zM87 111h3.3v3.3h-3.3zM99 111h3.3v3.3h-3.3z" fill="#9093cd"/>
<path d="M78 60h3.3v3.3h-3.3zM93 60h3.3v3.3h-3.3zM72 63h3.3v3.3h-3.3zM99 63h3.3v3.3h-3.3zM69 66h3.3v3.3h-3.3zM102 66h3.3v3.3h-3.3zM105 69h3.3v3.3h-3.3zM66 72h3.3v3.3h-3.3zM108 72h3.3v3.3h-3.3zM63 78h3.3v3.3h-3.3zM63 81h3.3v3.3h-3.3zM114 81h3.3v3.3h-3.3zM63 84h3.3v3.3h-3.3zM66 90h3.3v3.3h-3.3zM114 93h3.3v3.3h-3.3zM114 96h3.3v3.3h-3.3zM72 99h3.3v3.3h-3.3zM75 102h3.3v3.3h-3.3zM84 108h3.3v3.3h-3.3zM102 108h3.3v3.3h-3.3zM90 111h9.3v3.3h-9.3z" fill="#868ac8"/>
<path d="M81 60h12.3v3.3h-12.3zM75 63h3.3v3.3h-3.3zM96 63h3.3v3.3h-3.3zM72 66h3.3v3.3h-3.3zM99 66h3.3v3.3h-3.3zM69 69h3.3v3.3h-3.3zM66 75h3.3v3.3h-3.3zM108 75h3.3v3.3h-3.3zM111 78h3.3v3.3h-3.3zM114 84h3.3v3.3h-3.3zM66 87h3.3v3.3h-3.3zM114 87h3.3v3.3h-3.3zM114 90h3.3v3.3h-3.3zM69 93h3.3v3.3h-3.3zM72 96h3.3v3.3h-3.3zM75 99h3.3v3.3h-3.3zM111 99h3.3v3.3h-3.3zM78 102h3.3v3.3h-3.3zM108 102h3.3v3.3h-3.3zM81 105h3.3v3.3h-3.3zM105 105h3.3v3.3h-3.3zM87 108h6.3v3.3h-6.3zM96 108h6.3v3.3h-6.3z" fill="#7d80c4"/>
<path d="M78 63h3.3v3.3h-3.3zM93 63h3.3v3.3h-3.3zM102 69h3.3v3.3h-3.3zM69 72h3.3v3.3h-3.3zM105 72h3.3v3.3h-3.3zM66 78h3.3v3.3h-3.3zM66 81h3.3v3.3h-3.3zM111 81h3.3v3.3h-3.3zM66 84h3.3v3.3h-3.3zM111 84h3.3v3.3h-3.3zM69 90h3.3v3.3h-3.3zM111 93h3.3v3.3h-3.3zM111 96h3.3v3.3h-3.3zM108 99h3.3v3.3h-3.3zM84 105h3.3v3.3h-3.3zM102 105h3.3v3.3h-3.3zM93 108h3.3v3.3h-3.3z" fill="#7477c0"/>
<path d="M81 63h12.3v3.3h-12.3zM75 66h3.3v3.3h-3.3zM96 66h3.3v3.3h-3.3zM72 69h3.3v3.3h-3.3zM108 78h3.3v3.3h-3.3zM69 87h3.3v3.3h-3.3zM111 87h3.3v3.3h-3.3zM111 90h3.3v3.3h-3.3zM72 93h3.3v3.3h-3.3zM81 102h3.3v3.3h-3.3zM105 102h3.3v3.3h-3.3zM87 105h3.3v3.3h-3.3zM99 105h3.3v3.3h-3.3z" fill="#6a6ebb"/>
<path d="M78 66h3.3v3.3h-3.3zM93 66h3.3v3.3h-3.3zM69 78h3.3v3.3h-3.3zM69 81h3.3v3.3h-3.3zM108 81h3.3v3.3h-3.3zM102 102h3.3v3.3h-3.3z" fill="#7071bb"/>
<path d="M81 66h3.3v3.3h-3.3zM90 66h3.3v3.3h-3.3zM96 69h3.3v3.3h-3.3zM105 78h3.3v3.3h-3.3zM108 87h3.3v3.3h-3.3zM108 90h3.3v3.3h-3.3zM75 93h3.3v3.3h-3.3zM81 99h3.3v3.3h-3.3zM99 102h3.3v3.3h-3.3z" fill="#7674bb"/>
<path d="M84 66h6.3v3.3h-6.3zM72 87h3.3v3.3h-3.3zM78 96h3.3v3.3h-3.3zM87 102h3.3v3.3h-3.3z" fill="#7875bb"/>
<path d="M75 69h3.3v3.3h-3.3zM108 84h3.3v3.3h-3.3zM108 93h3.3v3.3h-3.3z" fill="#7473bb"/>
<path d="M78 69h3.3v3.3h-3.3zM72 78h3.3v3.3h-3.3zM72 84h3.3v3.3h-3.3zM102 99h3.3v3.3h-3.3zM90 102h6.3v3.3h-6.3z" fill="#7c77bb"/>
<path d="M81 69h3.3v3.3h-3.3zM102 78h3.3v3.3h-3.3zM105 84h3.3v3.3h-3.3zM78 93h3.3v3.3h-3.3zM81 96h3.3v3.3h-3.3zM99 99h3.3v3.3h-3.3z" fill="#847aba"/>
<path d="M84 69h6.3v3.3h-6.3zM78 72h3.3v3.3h-3.3zM75 87h3.3v3.3h-3.3zM96 99h3.3v3.3h-3.3z" fill="#897bb9"/>
<path d="M90 69h3.3v3.3h-3.3zM96 72h3.3v3.3h-3.3zM75 75h3.3v3.3h-3.3zM99 75h3.3v3.3h-3.3zM105 87h3.3v3.3h-3.3zM105 90h3.3v3.3h-3.3zM102 96h3.3v3.3h-3.3zM87 99h3.3v3.3h-3.3z" fill="#867ab9"/>
<path d="M93 69h3.3v3.3h-3.3zM75 72h3.3v3.3h-3.3zM72 81h3.3v3.3h-3.3zM105 81h3.3v3.3h-3.3zM84 99h3.3v3.3h-3.3z" fill="#7f78ba"/>
<path d="M99 69h3.3v3.3h-3.3zM69 75h3.3v3.3h-3.3zM105 75h3.3v3.3h-3.3zM75 96h3.3v3.3h-3.3zM78 99h3.3v3.3h-3.3z" fill="#6c6fbb"/>
<path d="M72 72h3.3v3.3h-3.3zM72 90h3.3v3.3h-3.3zM105 99h3.3v3.3h-3.3zM84 102h3.3v3.3h-3.3z" fill="#7272bb"/>
<path d="M81 72h3.3v3.3h-3.3zM81 93h3.3v3.3h-3.3z" fill="#9a80b5"/>
<path d="M84 72h3.3v3.3h-3.3zM102 87h3.3v3.3h-3.3zM87 96h3.3v3.3h-3.3z" fill="#aa83b2"/>
<path d="M87 72h3.3v3.3h-3.3zM78 87h3.3v3.3h-3.3zM96 96h3.3v3.3h-3.3z" fill="#ae84b1"/>
<path d="M90 72h3.3v3.3h-3.3z" fill="#a682b3"/>
<path d="M93 72h3.3v3.3h-3.3zM75 81h3.3v3.3h-3.3zM78 90h3.3v3.3h-3.3zM102 93h3.3v3.3h-3.3zM84 96h3.3v3.3h-3.3z" fill="#927eb7"/>
<path d="M99 72h3.3v3.3h-3.3zM72 75h3.3v3.3h-3.3zM102 75h3.3v3.3h-3.3zM105 96h3.3v3.3h-3.3zM96 102h3.3v3.3h-3.3z" fill="#7a76bb"/>
<path d="M102 72h3.3v3.3h-3.3zM69 84h3.3v3.3h-3.3zM108 96h3.3v3.3h-3.3zM90 105h9.3v3.3h-9.3z" fill="#6e70bb"/>
<path d="M78 75h3.3v3.3h-3.3zM96 75h3.3v3.3h-3.3zM99 78h3.3v3.3h-3.3zM102 84h3.3v3.3h-3.3zM102 90h3.3v3.3h-3.3z" fill="#a281b4"/>
<path d="M81 75h3.3v3.3h-3.3zM93 75h3.3v3.3h-3.3zM78 81h3.3v3.3h-3.3zM81 90h3.3v3.3h-3.3z" fill="#c78cad"/>
<path d="M84 75h3.3v3.3h-3.3zM90 75h3.3v3.3h-3.3zM96 93h3.3v3.3h-3.3z" fill="#df95a6"/>
<path d="M87 75h3.3v3.3h-3.3zM81 78h3.3v3.3h-3.3zM81 87h3.3v3.3h-3.3z" fill="#e89aa2"/>
<path d="M75 78h3.3v3.3h-3.3zM90 99h6.3v3.3h-6.3z" fill="#8c7cb8"/>
<path d="M78 78h3.3v3.3h-3.3z" fill="#b887af"/>
<path d="M84 78h3.3v3.3h-3.3z" fill="#f06840"/>
<path d="M87 78h3.3v3.3h-3.3zM84 87h3.3v3.3h-3.3z" fill="#f26f43"/>
<path d="M90 78h3.3v3.3h-3.3zM96 87h3.3v3.3h-3.3z" fill="#f16c42"/>
<path d="M93 78h3.3v3.3h-3.3zM96 81h3.3v3.3h-3.3z" fill="#ef8a7c"/>
<path d="M96 78h3.3v3.3h-3.3z" fill="#d18eab"/>
<path d="M81 81h3.3v3.3h-3.3zM81 84h3.3v3.3h-3.3z" fill="#ef8370"/>
<path d="M84 81h3.3v3.3h-3.3zM90 90h3.3v3.3h-3.3z" fill="#f37445"/>
<path d="M87 81h6.3v3.3h-6.3zM87 87h3.3v3.3h-3.3z" fill="#f7995c"/>
<path d="M93 81h3.3v3.3h-3.3z" fill="#f27244"/>
<path d="M99 81h3.3v3.3h-3.3zM78 84h3.3v3.3h-3.3zM84 93h3.3v3.3h-3.3z" fill="#c28aae"/>
<path d="M102 81h3.3v3.3h-3.3zM75 84h3.3v3.3h-3.3z" fill="#8e7db8"/>
<path d="M84 84h3.3v3.3h-3.3z" fill="#f37646"/>
<path d="M87 84h3.3v3.3h-3.3z" fill="#fab66b"/>
<path d="M90 84h3.3v3.3h-3.3z" fill="#fbc070"/>
<path d="M93 84h3.3v3.3h-3.3zM93 87h3.3v3.3h-3.3z" fill="#f69056"/>
<path d="M96 84h3.3v3.3h-3.3z" fill="#f06a41"/>
<path d="M99 84h3.3v3.3h-3.3z" fill="#dc94a8"/>
<path d="M90 87h3.3v3.3h-3.3z" fill="#f9ac66"/>
<path d="M99 87h3.3v3.3h-3.3z" fill="#e297a5"/>
<path d="M75 90h3.3v3.3h-3.3zM105 93h3.3v3.3h-3.3z" fill="#8279ba"/>
<path d="M84 90h3.3v3.3h-3.3zM90 93h3.3v3.3h-3.3z" fill="#ee9088"/>
<path d="M87 90h3.3v3.3h-3.3z" fill="#f16d42"/>
<path d="M93 90h3.3v3.3h-3.3z" fill="#f27144"/>
<path d="M96 90h3.3v3.3h-3.3z" fill="#f07658"/>
<path d="M99 90h3.3v3.3h-3.3z" fill="#d690aa"/>
<path d="M87 93h3.3v3.3h-3.3z" fill="#e599a4"/>
<path d="M93 93h3.3v3.3h-3.3z" fill="#ee9794"/>
<path d="M99 93h3.3v3.3h-3.3zM90 96h6.3v3.3h-6.3z" fill="#bd88ae"/>
<path d="M99 96h3.3v3.3h-3.3z" fill="#967fb6"/>
</g>
<path d="M99.1 778.9L99.3 778.3L99.6 777.8L100.1 777.2L100.6 776.8L101.1 776.3L101.8 775.8L102.6 775.3L103.1 775.0L103.6 774.7L104.3 774.3L105.1 773.9L105.6 773.7L106.4 773.3L107.1 773.0L107.6 772.8L108.6 772.4L109.1 772.1L110.0 771.8L110.6 771.6L111.3 771.3L112.1 771.0L112.6 770.8L113.6 770.4L114.1 770.3L115.1 769.9L115.6 769.7L116.6 769.4L117.1 769.2L118.1 768.9L118.6 768.7L119.6 768.4L120.1 768.2L121.1 767.9L121.6 767.7L122.6 767.4L123.1 767.2L124.1 766.9L124.6 766.7L125.6 766.4L126.1 766.2L127.1 765.9L127.6 765.7L128.6 765.4L129.1 765.2L130.1 764.9L130.6 764.7L131.6 764.4L132.1 764.2L133.1 763.8L133.6 763.7L134.6 763.3L135.1 763.1L136.0 762.8L136.6 762.6L137.3 762.3L138.1 762.0L138.6 761.8L139.6 761.4L140.1 761.2L141.1 760.8L141.6 760.6L142.2 760.3L143.1 759.9L143.6 759.7L144.4 759.3L145.1 758.9L145.6 758.7L146.3 758.3L147.1 757.8L147.6 757.5L148.1 757.2L148.8 756.8L149.6 756.3L150.1 755.9L150.6 755.6L151.1 755.2L151.6 754.8L152.2 754.3L152.9 753.8L153.4 753.3L154.0 752.8L154.6 752.3L155.1 751.8L155.6 751.3L156.1 750.8L156.6 750.3L157.1 749.8L157.6 749.3L158.1 748.8L158.5 748.3L158.9 747.8L159.4 747.3L159.8 746.8L160.2 746.3L160.6 745.8L161.1 745.1L161.6 744.4L162.0 743.8L162.3 743.3L162.7 742.8L163.1 742.1L163.6 741.3L163.8 740.8L164.1 740.3L164.6 739.4L164.9 738.8L165.1 738.3L165.6 737.3L165.8 736.8L166.1 736.2L166.5 735.3L166.7 734.8L167.1 733.8L167.3 733.3L167.6 732.5L167.9 731.8L168.1 731.2L168.4 730.3L168.6 729.8L169.0 728.8L169.2 728.3L169.5 727.3L169.7 726.8L170.0 725.8L170.2 725.3L170.5 724.3L170.7 723.8L171.0 722.8L171.2 722.3L171.5 721.3L171.7 720.8L172.0 719.8L172.2 719.3L172.5 718.3L172.7 717.8L173.0 716.8L173.2 716.3L173.5 715.3L173.7 714.8L174.0 713.8L174.2 713.3L174.5 712.3L174.7 711.8L175.1 710.8L175.2 710.3L175.6 709.3L175.8 708.8L176.1 707.8L176.3 707.3L176.6 706.5L176.8 705.8L177.1 705.1L177.4 704.3L177.6 703.8L178.0 702.8L178.2 702.3L178.6 701.5L178.9 700.8L179.1 700.3L179.6 699.3L179.9 698.8L180.1 698.3" fill="none" stroke="#c9cae3" stroke-width="2.6" stroke-linejoin="round"/>
<path d="M190.2 698.3L190.6 699.1L190.9 699.8L191.2 700.3L191.6 701.3L191.8 701.8L192.1 702.5L192.4 703.3L192.6 703.8L193.0 704.8L193.2 705.3L193.5 706.3L193.7 706.8L194.1 707.8L194.2 708.3L194.6 709.3L194.7 709.8L195.0 710.8L195.2 711.3L195.5 712.3L195.7 712.8L196.0 713.8L196.1 714.3L196.4 715.3L196.6 715.8L196.9 716.8L197.1 717.5L197.3 718.3L197.6 719.2L197.8 719.8L198.1 720.8L198.2 721.3L198.5 722.3L198.7 722.8L199.0 723.8L199.1 724.3L199.4 725.3L199.6 725.9L199.9 726.8L200.1 727.6L200.3 728.3L200.6 729.3L200.8 729.8L201.1 730.8L201.2 731.3L201.5 732.3L201.7 732.8L202.0 733.8L202.2 734.3L202.5 735.3L202.7 735.8L203.0 736.8L203.2 737.3L203.5 738.3L203.7 738.8L204.0 739.8L204.2 740.3L204.6 741.3L204.8 741.8L205.1 742.6L205.4 743.3L205.6 743.8L206.0 744.8L206.3 745.3L206.6 746.0L207.0 746.8L207.3 747.3L207.6 747.9L208.1 748.8L208.4 749.3L208.7 749.8L209.1 750.4L209.6 751.1L210.1 751.8L210.5 752.3L210.9 752.8L211.4 753.3L211.9 753.8L212.4 754.3L212.9 754.8L213.5 755.3L214.1 755.8L214.6 756.2L215.1 756.6L215.6 756.9L216.2 757.3L217.0 757.8L217.6 758.1L218.1 758.4L218.8 758.8L219.6 759.2L220.1 759.4L220.9 759.8L221.6 760.1L222.1 760.3L223.1 760.8L223.6 761.0L224.5 761.3L225.1 761.5L225.8 761.8L226.6 762.1L227.2 762.3L228.1 762.6L228.6 762.8L229.6 763.1L230.1 763.3L231.1 763.6L231.6 763.8L232.6 764.1L233.2 764.3L234.1 764.6L234.8 764.8L235.6 765.0L236.4 765.3L237.1 765.5L238.1 765.8L238.6 766.0L239.6 766.3L240.1 766.4L241.1 766.7L241.6 766.9L242.6 767.1L243.1 767.3L244.1 767.6L244.8 767.8L245.6 768.0L246.5 768.3L247.1 768.5L248.1 768.8L248.6 768.9L249.6 769.2L250.1 769.4L251.1 769.7L251.6 769.8L252.6 770.1L253.1 770.3L254.1 770.6L254.7 770.8L255.6 771.1L256.3 771.3L257.1 771.6L257.8 771.8L258.6 772.1L259.2 772.3L260.1 772.6L260.6 772.8L261.6 773.2L262.1 773.3L263.1 773.7L263.6 773.9L264.5 774.3L265.1 774.6L265.7 774.8L266.6 775.2L267.1 775.5L267.7 775.8L268.6 776.3L269.1 776.6L269.6 776.9L270.2 777.3L270.8 777.8L271.4 778.3L271.8 778.8" fill="none" stroke="#c9cae3" stroke-width="2.6" stroke-linejoin="round"/>
<path d="M181.5 862.3L181.1 861.5L180.7 860.8L180.5 860.3L180.1 859.4L179.9 858.8L179.6 858.2L179.2 857.3L179.1 856.8L178.7 855.8L178.5 855.3L178.1 854.3L178.0 853.8L177.6 852.8L177.4 852.3L177.1 851.3L176.9 850.8L176.6 849.8L176.5 849.3L176.1 848.3L176.0 847.8L175.7 846.8L175.5 846.3L175.2 845.3L175.1 844.8L174.8 843.8L174.6 843.2L174.3 842.3L174.1 841.6L173.9 840.8L173.6 839.9L173.4 839.3L173.1 838.3L173.0 837.8L172.7 836.8L172.5 836.3L172.2 835.3L172.1 834.8L171.8 833.8L171.6 833.1L171.3 832.3L171.1 831.5L170.9 830.8L170.6 829.8L170.4 829.3L170.1 828.3L170.0 827.8L169.6 826.8L169.5 826.3L169.2 825.3L169.0 824.8L168.7 823.8L168.5 823.3L168.2 822.3L168.0 821.8L167.6 820.8L167.4 820.3L167.1 819.4L166.9 818.8L166.6 818.1L166.3 817.3L166.1 816.8L165.6 815.8L165.4 815.3L165.1 814.6L164.7 813.8L164.4 813.3L164.1 812.6L163.6 811.8L163.3 811.3L163.0 810.8L162.6 810.1L162.1 809.4L161.6 808.8L161.2 808.3L160.8 807.8L160.4 807.3L159.9 806.8L159.4 806.3L158.9 805.8L158.4 805.3L157.8 804.8L157.1 804.3L156.6 803.9L156.1 803.6L155.6 803.2L154.9 802.8L154.1 802.3L153.6 802.0L153.1 801.8L152.2 801.3L151.6 801.0L151.1 800.8L150.1 800.3L149.6 800.1L148.9 799.8L148.1 799.5L147.6 799.3L146.6 798.9L146.1 798.7L145.1 798.3L144.6 798.2L143.6 797.8L143.1 797.6L142.1 797.3L141.6 797.1L140.6 796.8L140.1 796.6L139.1 796.3L138.6 796.2L137.6 795.8L137.1 795.7L136.1 795.4L135.6 795.2L134.6 794.9L134.1 794.8L133.1 794.5L132.5 794.3L131.6 794.0L130.8 793.8L130.1 793.6L129.2 793.3L128.6 793.1L127.6 792.8L127.1 792.7L126.1 792.4L125.6 792.2L124.6 792.0L124.1 791.8L123.1 791.5L122.4 791.3L121.6 791.1L120.8 790.8L120.1 790.6L119.1 790.3L118.6 790.1L117.6 789.8L117.1 789.7L116.1 789.3L115.6 789.2L114.6 788.9L114.1 788.7L113.1 788.4L112.6 788.2L111.6 787.8L111.1 787.7L110.1 787.3L109.6 787.1L108.8 786.8L108.1 786.5L107.6 786.3L106.6 785.9L106.1 785.7L105.3 785.3L104.6 785.0L104.1 784.7L103.3 784.3L102.6 783.9L102.1 783.6L101.6 783.2L101.0 782.8L100.4 782.3L99.9 781.8L99.6 781.3L99.1 780.3" fill="none" stroke="#c9cae3" stroke-width="2.6" stroke-linejoin="round"/>
<path d="M272.1 782.4L271.6 783.0L271.1 783.6L270.6 784.0L270.1 784.4L269.5 784.8L268.7 785.3L268.1 785.6L267.6 785.9L266.9 786.3L266.1 786.7L265.6 786.9L264.8 787.3L264.1 787.6L263.6 787.8L262.6 788.2L262.1 788.4L261.1 788.8L260.6 789.0L259.8 789.3L259.1 789.6L258.5 789.8L257.6 790.1L257.1 790.3L256.1 790.6L255.6 790.8L254.6 791.2L254.1 791.3L253.1 791.7L252.6 791.8L251.6 792.2L251.1 792.3L250.1 792.7L249.6 792.8L248.6 793.2L248.1 793.3L247.1 793.7L246.6 793.8L245.6 794.2L245.1 794.3L244.1 794.7L243.6 794.8L242.6 795.2L242.1 795.3L241.1 795.7L240.6 795.8L239.6 796.2L239.1 796.4L238.1 796.7L237.6 796.9L236.6 797.2L236.1 797.4L235.1 797.8L234.6 798.0L233.8 798.3L233.1 798.6L232.5 798.8L231.6 799.2L231.1 799.4L230.1 799.8L229.6 800.0L228.9 800.3L228.1 800.7L227.6 800.9L226.8 801.3L226.1 801.7L225.6 801.9L225.0 802.3L224.1 802.8L223.6 803.1L223.1 803.4L222.5 803.8L221.8 804.3L221.1 804.8L220.6 805.1L220.1 805.5L219.6 805.9L219.1 806.3L218.5 806.8L217.9 807.3L217.4 807.8L216.8 808.3L216.3 808.8L215.8 809.3L215.3 809.8L214.8 810.3L214.3 810.8L213.8 811.3L213.4 811.8L212.9 812.3L212.5 812.8L212.1 813.3L211.6 813.9L211.1 814.5L210.6 815.2L210.1 815.8L209.8 816.3L209.5 816.8L209.1 817.3L208.6 818.2L208.2 818.8L207.9 819.3L207.6 819.9L207.1 820.8L206.9 821.3L206.6 821.8L206.1 822.8L205.9 823.3L205.6 824.0L205.3 824.8L205.0 825.3L204.6 826.3L204.4 826.8L204.1 827.6L203.8 828.3L203.6 828.9L203.3 829.8L203.1 830.3L202.7 831.3L202.6 831.8L202.2 832.8L202.0 833.3L201.7 834.3L201.5 834.8L201.2 835.8L201.0 836.3L200.7 837.3L200.5 837.8L200.2 838.8L200.0 839.3L199.7 840.3L199.5 840.8L199.2 841.8L199.0 842.3L198.7 843.3L198.5 843.8L198.2 844.8L198.0 845.3L197.7 846.3L197.5 846.8L197.2 847.8L197.0 848.3L196.7 849.3L196.5 849.8L196.1 850.8L196.0 851.3L195.6 852.3L195.4 852.8L195.1 853.7L194.9 854.3L194.6 855.0L194.3 855.8L194.1 856.3L193.7 857.3L193.5 857.8L193.1 858.7L192.8 859.3L192.6 859.8L192.1 860.8L191.9 861.3L191.6 861.9" fill="none" stroke="#c9cae3" stroke-width="2.6" stroke-linejoin="round"/>
<path d="M193.1 801.4L192.1 801.6L191.1 801.7L190.1 801.8L189.1 801.8L188.1 801.7L187.1 801.6L186.1 801.4L185.6 801.3L184.6 801.0L184.0 800.8L183.1 800.5L182.6 800.3L181.6 799.8L181.1 799.6L180.6 799.3L179.7 798.8L179.1 798.4L178.6 798.1L178.1 797.8L177.4 797.3L176.7 796.8L176.1 796.3L175.6 795.9L175.1 795.5L174.6 795.1L174.1 794.6L173.6 794.1L173.1 793.7L172.6 793.2L172.1 792.7L171.6 792.1L171.1 791.6L170.6 791.0L170.1 790.4L169.6 789.8L169.2 789.3L168.9 788.8L168.5 788.3L168.1 787.7L167.6 786.9L167.2 786.3L166.9 785.8L166.6 785.2L166.2 784.3L165.9 783.8L165.6 783.0L165.3 782.3L165.1 781.7L164.8 780.8L164.6 779.8L164.5 779.3L164.3 778.3L164.3 777.3L164.2 776.3L164.3 775.3L164.3 774.3L164.5 773.3L164.6 772.8L164.9 771.8L165.1 771.0L165.4 770.3L165.6 769.7L166.0 768.8L166.3 768.3L166.6 767.7L167.1 766.9L167.5 766.3L167.9 765.8L168.3 765.3L168.7 764.8L169.1 764.3L169.6 763.8L170.2 763.3L170.7 762.8L171.4 762.3L172.0 761.8L172.6 761.4L173.1 761.1L173.7 760.8L174.6 760.3L175.1 760.1L175.8 759.8L176.6 759.5L177.3 759.3L178.1 759.1L179.1 758.9L179.6 758.8L180.6 758.7L181.6 758.6L182.6 758.6L183.6 758.7L184.2 758.8L185.1 758.9L186.1 759.2L186.6 759.3L187.6 759.6L188.1 759.8L189.1 760.2L189.6 760.4L190.4 760.8L191.1 761.2L191.6 761.4L192.2 761.8L193.0 762.3L193.6 762.7L194.1 763.0L194.6 763.4L195.1 763.8L195.8 764.3L196.4 764.8L196.9 765.3L197.5 765.8L198.0 766.3L198.6 766.8L199.1 767.3L199.6 767.8L200.0 768.3L200.5 768.8L200.9 769.3L201.3 769.8L201.7 770.3L202.1 770.8L202.6 771.4L203.1 772.1L203.6 772.8L203.9 773.3L204.2 773.8L204.6 774.5L205.0 775.3L205.3 775.8L205.6 776.4L206.0 777.3L206.2 777.8L206.5 778.8L206.7 779.3L206.9 780.3L207.1 781.1L207.2 781.8L207.3 782.8L207.4 783.8L207.4 784.8L207.3 785.8L207.1 786.8L207.1 787.3L206.8 788.3L206.6 789.1L206.4 789.8L206.1 790.5L205.7 791.3L205.5 791.8L205.1 792.5L204.6 793.3L204.3 793.8L204.0 794.3L203.6 794.8L203.1 795.4L202.6 795.9L202.1 796.5L201.6 797.0L201.1 797.4L200.6 797.8L200.0 798.3L199.3 798.8L198.6 799.2L198.1 799.5L197.6 799.8L196.6 800.3L196.1 800.5L195.3 800.8L194.6 801.0L193.6 801.3L193.1 801.4Z" fill="none" stroke="#1c2690" stroke-width="3.3" stroke-linejoin="round"/>
<path d="M191.1 794.3L190.1 794.5L189.1 794.5L188.1 794.5L187.1 794.4L186.5 794.3L185.6 794.1L184.6 793.8L184.1 793.6L183.2 793.3L182.6 793.0L182.1 792.8L181.2 792.3L180.6 791.9L180.1 791.6L179.6 791.2L179.0 790.8L178.4 790.3L177.8 789.8L177.3 789.3L176.8 788.8L176.3 788.3L175.9 787.8L175.4 787.3L175.1 786.8L174.6 786.2L174.1 785.4L173.7 784.8L173.4 784.3L173.1 783.6L172.7 782.8L172.5 782.3L172.1 781.3L172.0 780.8L171.8 779.8L171.6 778.9L171.5 778.3L171.5 777.3L171.5 776.3L171.6 775.3L171.7 774.8L171.9 773.8L172.1 773.2L172.5 772.3L172.7 771.8L173.1 771.1L173.6 770.3L174.0 769.8L174.5 769.3L175.0 768.8L175.5 768.3L176.1 767.9L176.6 767.6L177.1 767.3L178.0 766.8L178.6 766.6L179.5 766.3L180.1 766.1L181.1 766.0L182.1 765.9L183.1 765.9L184.1 765.9L185.1 766.1L186.0 766.3L186.6 766.5L187.6 766.8L188.1 767.0L188.8 767.3L189.6 767.7L190.1 767.9L190.7 768.3L191.5 768.8L192.1 769.2L192.6 769.6L193.1 770.0L193.6 770.4L194.1 770.9L194.6 771.4L195.1 771.9L195.6 772.4L196.1 773.0L196.6 773.7L197.0 774.3L197.4 774.8L197.7 775.3L198.1 776.0L198.5 776.8L198.8 777.3L199.1 778.1L199.4 778.8L199.6 779.6L199.8 780.3L200.0 781.3L200.1 782.3L200.1 782.8L200.1 783.8L200.1 784.3L200.0 785.3L199.8 786.3L199.6 786.9L199.3 787.8L199.0 788.3L198.6 789.1L198.2 789.8L197.8 790.3L197.4 790.8L196.9 791.3L196.4 791.8L195.8 792.3L195.1 792.8L194.6 793.1L194.1 793.3L193.1 793.8L192.6 794.0L191.6 794.2L191.1 794.3Z" fill="none" stroke="#582a82" stroke-width="3.1" stroke-linejoin="round"/>
<path d="M190.6 790.3L189.6 790.5L188.6 790.6L187.6 790.6L186.6 790.5L185.6 790.3L185.1 790.2L184.1 789.8L183.6 789.6L183.0 789.3L182.1 788.8L181.6 788.5L181.1 788.1L180.6 787.7L180.1 787.3L179.5 786.8L179.1 786.3L178.6 785.8L178.1 785.2L177.6 784.5L177.2 783.8L176.9 783.3L176.6 782.8L176.2 781.8L176.0 781.3L175.7 780.3L175.6 779.8L175.4 778.8L175.4 777.8L175.4 776.8L175.6 775.8L175.7 775.3L176.1 774.3L176.3 773.8L176.6 773.3L177.1 772.7L177.6 772.1L178.1 771.6L178.6 771.2L179.3 770.8L180.1 770.4L180.6 770.2L181.6 770.0L182.6 769.8L183.1 769.8L184.1 769.8L184.6 769.8L185.6 770.0L186.6 770.3L187.1 770.4L188.0 770.8L188.6 771.1L189.1 771.4L189.8 771.8L190.5 772.3L191.1 772.8L191.6 773.2L192.1 773.6L192.6 774.2L193.1 774.7L193.6 775.3L193.9 775.8L194.3 776.3L194.6 776.9L195.1 777.8L195.3 778.3L195.6 779.0L195.8 779.8L196.1 780.8L196.1 781.3L196.2 782.3L196.2 783.3L196.1 784.1L196.0 784.8L195.6 785.8L195.4 786.3L195.1 786.9L194.6 787.6L194.1 788.2L193.6 788.7L193.1 789.1L192.6 789.4L191.9 789.8L191.1 790.1L190.6 790.3Z" fill="none" stroke="#b3437b" stroke-width="3.0" stroke-linejoin="round"/>
<path d="M189.1 787.4L188.1 787.6L187.1 787.6L186.1 787.5L185.3 787.3L184.6 787.0L184.0 786.8L183.1 786.3L182.6 786.0L182.1 785.6L181.6 785.2L181.1 784.7L180.6 784.1L180.1 783.5L179.7 782.8L179.4 782.3L179.1 781.7L178.7 780.8L178.6 780.3L178.4 779.3L178.4 778.3L178.5 777.3L178.6 776.7L179.0 775.8L179.2 775.3L179.6 774.8L180.1 774.2L180.6 773.8L181.5 773.3L182.1 773.1L183.1 772.8L183.6 772.8L184.6 772.8L185.1 772.8L186.1 773.1L186.9 773.3L187.6 773.6L188.1 773.9L188.8 774.3L189.5 774.8L190.1 775.3L190.6 775.8L191.0 776.3L191.4 776.8L191.8 777.3L192.1 777.9L192.6 778.8L192.8 779.3L193.1 780.3L193.1 780.8L193.2 781.8L193.2 782.8L193.1 783.3L192.8 784.3L192.5 784.8L192.1 785.5L191.6 786.1L191.1 786.5L190.6 786.8L189.6 787.3L189.1 787.4Z" fill="none" stroke="#f0623e" stroke-width="3.0" stroke-linejoin="round"/>
</g>
<rect x="101.1" y="700.3" width="168.7" height="159.6" fill="none" stroke="#111" stroke-width="1.8"/>
<clipPath id="bc1"><rect x="301.6" y="700.3" width="169.3" height="159.6"/></clipPath>
<g clip-path="url(#bc1)"><g filter="url(#bbl)" transform="translate(295.6 694.3)">
<path d="M0 0h36.3v3.3h-36.3zM144 0h39.3v3.3h-39.3zM0 3h36.3v3.3h-36.3zM147 3h36.3v3.3h-36.3zM0 6h33.3v3.3h-33.3zM150 6h33.3v3.3h-33.3zM0 9h30.3v3.3h-30.3zM150 9h33.3v3.3h-33.3zM0 12h27.3v3.3h-27.3zM153 12h30.3v3.3h-30.3zM0 15h24.3v3.3h-24.3zM156 15h27.3v3.3h-27.3zM0 18h21.3v3.3h-21.3zM159 18h24.3v3.3h-24.3zM0 21h18.3v3.3h-18.3zM162 21h21.3v3.3h-21.3zM0 24h15.3v3.3h-15.3zM165 24h18.3v3.3h-18.3zM0 27h12.3v3.3h-12.3zM171 27h12.3v3.3h-12.3zM0 30h6.3v3.3h-6.3zM174 30h9.3v3.3h-9.3zM0 33h3.3v3.3h-3.3zM180 33h3.3v3.3h-3.3zM180 135h3.3v3.3h-3.3zM0 138h6.3v3.3h-6.3zM177 138h6.3v3.3h-6.3zM0 141h9.3v3.3h-9.3zM171 141h12.3v3.3h-12.3zM0 144h15.3v3.3h-15.3zM168 144h15.3v3.3h-15.3zM0 147h18.3v3.3h-18.3zM165 147h18.3v3.3h-18.3zM0 150h21.3v3.3h-21.3zM162 150h21.3v3.3h-21.3zM0 153h24.3v3.3h-24.3zM159 153h24.3v3.3h-24.3zM0 156h27.3v3.3h-27.3zM156 156h27.3v3.3h-27.3zM0 159h30.3v3.3h-30.3zM153 159h30.3v3.3h-30.3zM0 162h33.3v3.3h-33.3zM150 162h33.3v3.3h-33.3zM0 165h33.3v3.3h-33.3zM147 165h36.3v3.3h-36.3zM0 168h36.3v3.3h-36.3zM144 168h39.3v3.3h-39.3zM0 171h39.3v3.3h-39.3zM144 171h39.3v3.3h-39.3z" fill="#f8f8fc"/>
<path d="M36 0h3.3v3.3h-3.3zM141 0h3.3v3.3h-3.3zM36 3h3.3v3.3h-3.3zM144 3h3.3v3.3h-3.3zM33 6h3.3v3.3h-3.3zM147 6h3.3v3.3h-3.3zM30 9h3.3v3.3h-3.3zM147 9h3.3v3.3h-3.3zM27 12h3.3v3.3h-3.3zM150 12h3.3v3.3h-3.3zM24 15h3.3v3.3h-3.3zM153 15h3.3v3.3h-3.3zM21 18h3.3v3.3h-3.3zM156 18h3.3v3.3h-3.3zM18 21h3.3v3.3h-3.3zM159 21h3.3v3.3h-3.3zM15 24h3.3v3.3h-3.3zM162 24h3.3v3.3h-3.3zM12 27h3.3v3.3h-3.3zM165 27h6.3v3.3h-6.3zM6 30h6.3v3.3h-6.3zM171 30h3.3v3.3h-3.3zM3 33h3.3v3.3h-3.3zM174 33h6.3v3.3h-6.3zM0 36h3.3v3.3h-3.3zM180 36h3.3v3.3h-3.3zM180 132h3.3v3.3h-3.3zM0 135h6.3v3.3h-6.3zM177 135h3.3v3.3h-3.3zM6 138h3.3v3.3h-3.3zM171 138h6.3v3.3h-6.3zM9 141h6.3v3.3h-6.3zM168 141h3.3v3.3h-3.3zM15 144h3.3v3.3h-3.3zM165 144h3.3v3.3h-3.3zM18 147h3.3v3.3h-3.3zM159 147h6.3v3.3h-6.3zM21 150h3.3v3.3h-3.3zM156 150h6.3v3.3h-6.3zM24 153h3.3v3.3h-3.3zM153 153h6.3v3.3h-6.3zM27 156h3.3v3.3h-3.3zM150 156h6.3v3.3h-6.3zM30 159h3.3v3.3h-3.3zM150 159h3.3v3.3h-3.3zM33 162h3.3v3.3h-3.3zM147 162h3.3v3.3h-3.3zM33 165h3.3v3.3h-3.3zM144 165h3.3v3.3h-3.3zM36 168h3.3v3.3h-3.3zM141 168h3.3v3.3h-3.3zM39 171h3.3v3.3h-3.3zM141 171h3.3v3.3h-3.3z" fill="#f7f7fc"/>
<path d="M39 0h3.3v3.3h-3.3zM138 0h3.3v3.3h-3.3zM39 3h3.3v3.3h-3.3zM141 3h3.3v3.3h-3.3zM36 6h3.3v3.3h-3.3zM144 6h3.3v3.3h-3.3zM33 9h3.3v3.3h-3.3zM144 9h3.3v3.3h-3.3zM30 12h3.3v3.3h-3.3zM147 12h3.3v3.3h-3.3zM27 15h6.3v3.3h-6.3zM150 15h3.3v3.3h-3.3zM24 18h6.3v3.3h-6.3zM153 18h3.3v3.3h-3.3zM21 21h6.3v3.3h-6.3zM156 21h3.3v3.3h-3.3zM18 24h6.3v3.3h-6.3zM159 24h3.3v3.3h-3.3zM15 27h3.3v3.3h-3.3zM162 27h3.3v3.3h-3.3zM12 30h3.3v3.3h-3.3zM165 30h6.3v3.3h-6.3zM6 33h6.3v3.3h-6.3zM171 33h3.3v3.3h-3.3zM3 36h3.3v3.3h-3.3zM174 36h6.3v3.3h-6.3zM0 39h3.3v3.3h-3.3zM180 39h3.3v3.3h-3.3zM0 132h6.3v3.3h-6.3zM177 132h3.3v3.3h-3.3zM6 135h3.3v3.3h-3.3zM171 135h6.3v3.3h-6.3zM9 138h6.3v3.3h-6.3zM168 138h3.3v3.3h-3.3zM15 141h3.3v3.3h-3.3zM162 141h6.3v3.3h-6.3zM18 144h3.3v3.3h-3.3zM159 144h6.3v3.3h-6.3zM21 147h3.3v3.3h-3.3zM156 147h3.3v3.3h-3.3zM24 150h3.3v3.3h-3.3zM153 150h3.3v3.3h-3.3zM27 153h3.3v3.3h-3.3zM150 153h3.3v3.3h-3.3zM30 156h3.3v3.3h-3.3zM147 156h3.3v3.3h-3.3zM33 159h3.3v3.3h-3.3zM147 159h3.3v3.3h-3.3zM36 162h3.3v3.3h-3.3zM144 162h3.3v3.3h-3.3zM36 165h3.3v3.3h-3.3zM141 165h3.3v3.3h-3.3zM39 168h3.3v3.3h-3.3zM42 171h3.3v3.3h-3.3zM138 171h3.3v3.3h-3.3z" fill="#f6f6fb"/>
<path d="M42 0h3.3v3.3h-3.3zM135 0h3.3v3.3h-3.3zM138 3h3.3v3.3h-3.3zM39 6h3.3v3.3h-3.3zM141 6h3.3v3.3h-3.3zM36 9h3.3v3.3h-3.3zM141 9h3.3v3.3h-3.3zM33 12h3.3v3.3h-3.3zM144 12h3.3v3.3h-3.3zM33 15h3.3v3.3h-3.3zM147 15h3.3v3.3h-3.3zM30 18h3.3v3.3h-3.3zM150 18h3.3v3.3h-3.3zM27 21h3.3v3.3h-3.3zM153 21h3.3v3.3h-3.3zM24 24h3.3v3.3h-3.3zM156 24h3.3v3.3h-3.3zM18 27h6.3v3.3h-6.3zM159 27h3.3v3.3h-3.3zM15 30h3.3v3.3h-3.3zM162 30h3.3v3.3h-3.3zM12 33h3.3v3.3h-3.3zM165 33h6.3v3.3h-6.3zM6 36h6.3v3.3h-6.3zM171 36h3.3v3.3h-3.3zM3 39h3.3v3.3h-3.3zM174 39h6.3v3.3h-6.3zM180 42h3.3v3.3h-3.3zM0 129h3.3v3.3h-3.3zM177 129h6.3v3.3h-6.3zM6 132h3.3v3.3h-3.3zM171 132h6.3v3.3h-6.3zM9 135h6.3v3.3h-6.3zM168 135h3.3v3.3h-3.3zM15 138h3.3v3.3h-3.3zM162 138h6.3v3.3h-6.3zM18 141h3.3v3.3h-3.3zM159 141h3.3v3.3h-3.3zM21 144h3.3v3.3h-3.3zM156 144h3.3v3.3h-3.3zM24 147h3.3v3.3h-3.3zM153 147h3.3v3.3h-3.3zM27 150h3.3v3.3h-3.3zM150 150h3.3v3.3h-3.3zM30 153h3.3v3.3h-3.3zM147 153h3.3v3.3h-3.3zM33 156h3.3v3.3h-3.3zM144 156h3.3v3.3h-3.3zM36 159h3.3v3.3h-3.3zM144 159h3.3v3.3h-3.3zM39 162h3.3v3.3h-3.3zM141 162h3.3v3.3h-3.3zM39 165h3.3v3.3h-3.3zM138 165h3.3v3.3h-3.3zM42 168h3.3v3.3h-3.3zM138 168h3.3v3.3h-3.3zM135 171h3.3v3.3h-3.3z" fill="#f5f5fa"/>
<path d="M45 0h3.3v3.3h-3.3zM48 0h3.3v3.3h-3.3zM132 0h3.3v3.3h-3.3zM42 3h3.3v3.3h-3.3zM45 3h3.3v3.3h-3.3zM132 3h3.3v3.3h-3.3zM135 3h3.3v3.3h-3.3zM42 6h3.3v3.3h-3.3zM45 6h3.3v3.3h-3.3zM135 6h3.3v3.3h-3.3zM138 6h3.3v3.3h-3.3zM39 9h3.3v3.3h-3.3zM42 9h3.3v3.3h-3.3zM138 9h3.3v3.3h-3.3zM36 12h3.3v3.3h-3.3zM39 12h3.3v3.3h-3.3zM138 12h3.3v3.3h-3.3zM141 12h3.3v3.3h-3.3zM36 15h3.3v3.3h-3.3zM141 15h3.3v3.3h-3.3zM144 15h3.3v3.3h-3.3zM33 18h3.3v3.3h-3.3zM36 18h3.3v3.3h-3.3zM144 18h3.3v3.3h-3.3zM147 18h3.3v3.3h-3.3zM30 21h3.3v3.3h-3.3zM33 21h3.3v3.3h-3.3zM147 21h3.3v3.3h-3.3zM150 21h3.3v3.3h-3.3zM27 24h3.3v3.3h-3.3zM30 24h3.3v3.3h-3.3zM150 24h3.3v3.3h-3.3zM153 24h3.3v3.3h-3.3zM24 27h3.3v3.3h-3.3zM27 27h3.3v3.3h-3.3zM153 27h3.3v3.3h-3.3zM156 27h3.3v3.3h-3.3zM18 30h6.3v3.3h-6.3zM24 30h3.3v3.3h-3.3zM156 30h3.3v3.3h-3.3zM159 30h3.3v3.3h-3.3zM15 33h3.3v3.3h-3.3zM18 33h6.3v3.3h-6.3zM159 33h3.3v3.3h-3.3zM162 33h3.3v3.3h-3.3zM12 36h3.3v3.3h-3.3zM15 36h3.3v3.3h-3.3zM162 36h3.3v3.3h-3.3zM165 36h6.3v3.3h-6.3zM6 39h3.3v3.3h-3.3zM9 39h6.3v3.3h-6.3zM168 39h3.3v3.3h-3.3zM171 39h3.3v3.3h-3.3zM0 42h6.3v3.3h-6.3zM6 42h3.3v3.3h-3.3zM171 42h6.3v3.3h-6.3zM177 42h3.3v3.3h-3.3zM0 45h3.3v3.3h-3.3zM177 45h6.3v3.3h-6.3zM0 123h3.3v3.3h-3.3zM180 123h3.3v3.3h-3.3zM0 126h3.3v3.3h-3.3zM3 126h6.3v3.3h-6.3zM174 126h3.3v3.3h-3.3zM177 126h6.3v3.3h-6.3zM3 129h6.3v3.3h-6.3zM9 129h3.3v3.3h-3.3zM168 129h6.3v3.3h-6.3zM174 129h3.3v3.3h-3.3zM9 132h3.3v3.3h-3.3zM12 132h6.3v3.3h-6.3zM165 132h3.3v3.3h-3.3zM168 132h3.3v3.3h-3.3zM15 135h3.3v3.3h-3.3zM18 135h3.3v3.3h-3.3zM159 135h6.3v3.3h-6.3zM165 135h3.3v3.3h-3.3zM18 138h3.3v3.3h-3.3zM21 138h3.3v3.3h-3.3zM156 138h3.3v3.3h-3.3zM159 138h3.3v3.3h-3.3zM21 141h3.3v3.3h-3.3zM24 141h6.3v3.3h-6.3zM153 141h3.3v3.3h-3.3zM156 141h3.3v3.3h-3.3zM24 144h6.3v3.3h-6.3zM30 144h3.3v3.3h-3.3zM150 144h3.3v3.3h-3.3zM153 144h3.3v3.3h-3.3zM27 147h6.3v3.3h-6.3zM33 147h3.3v3.3h-3.3zM147 147h3.3v3.3h-3.3zM150 147h3.3v3.3h-3.3zM30 150h3.3v3.3h-3.3zM33 150h3.3v3.3h-3.3zM144 150h3.3v3.3h-3.3zM147 150h3.3v3.3h-3.3zM33 153h3.3v3.3h-3.3zM36 153h3.3v3.3h-3.3zM141 153h3.3v3.3h-3.3zM144 153h3.3v3.3h-3.3zM36 156h3.3v3.3h-3.3zM39 156h3.3v3.3h-3.3zM138 156h3.3v3.3h-3.3zM141 156h3.3v3.3h-3.3zM39 159h3.3v3.3h-3.3zM42 159h3.3v3.3h-3.3zM138 159h3.3v3.3h-3.3zM141 159h3.3v3.3h-3.3zM42 162h3.3v3.3h-3.3zM135 162h3.3v3.3h-3.3zM138 162h3.3v3.3h-3.3zM42 165h3.3v3.3h-3.3zM45 165h3.3v3.3h-3.3zM135 165h3.3v3.3h-3.3zM45 168h3.3v3.3h-3.3zM48 168h3.3v3.3h-3.3zM132 168h3.3v3.3h-3.3zM135 168h3.3v3.3h-3.3zM45 171h3.3v3.3h-3.3zM48 171h3.3v3.3h-3.3zM129 171h3.3v3.3h-3.3zM132 171h3.3v3.3h-3.3z" fill="#f4f4fa"/>
<path d="M51 0h3.3v3.3h-3.3zM126 0h3.3v3.3h-3.3zM51 3h3.3v3.3h-3.3zM129 3h3.3v3.3h-3.3zM48 6h3.3v3.3h-3.3zM129 6h3.3v3.3h-3.3zM48 9h3.3v3.3h-3.3zM132 9h3.3v3.3h-3.3zM45 12h3.3v3.3h-3.3zM42 15h3.3v3.3h-3.3zM135 15h3.3v3.3h-3.3zM42 18h3.3v3.3h-3.3zM138 18h3.3v3.3h-3.3zM39 21h3.3v3.3h-3.3zM141 21h3.3v3.3h-3.3zM36 24h3.3v3.3h-3.3zM144 24h3.3v3.3h-3.3zM33 27h3.3v3.3h-3.3zM144 27h3.3v3.3h-3.3zM30 30h3.3v3.3h-3.3zM147 30h6.3v3.3h-6.3zM27 33h3.3v3.3h-3.3zM153 33h3.3v3.3h-3.3zM24 36h3.3v3.3h-3.3zM156 36h3.3v3.3h-3.3zM18 39h3.3v3.3h-3.3zM159 39h3.3v3.3h-3.3zM15 42h3.3v3.3h-3.3zM165 42h3.3v3.3h-3.3zM9 45h3.3v3.3h-3.3zM168 45h6.3v3.3h-6.3zM3 48h3.3v3.3h-3.3zM174 48h6.3v3.3h-6.3zM180 51h3.3v3.3h-3.3zM0 120h6.3v3.3h-6.3zM177 120h3.3v3.3h-3.3zM6 123h6.3v3.3h-6.3zM171 123h3.3v3.3h-3.3zM12 126h3.3v3.3h-3.3zM165 126h3.3v3.3h-3.3zM18 129h3.3v3.3h-3.3zM162 129h3.3v3.3h-3.3zM21 132h3.3v3.3h-3.3zM156 132h3.3v3.3h-3.3zM24 135h6.3v3.3h-6.3zM153 135h3.3v3.3h-3.3zM30 138h3.3v3.3h-3.3zM150 138h3.3v3.3h-3.3zM33 141h3.3v3.3h-3.3zM147 141h3.3v3.3h-3.3zM36 144h3.3v3.3h-3.3zM144 144h3.3v3.3h-3.3zM141 147h3.3v3.3h-3.3zM39 150h3.3v3.3h-3.3zM138 150h3.3v3.3h-3.3zM42 153h3.3v3.3h-3.3zM135 153h3.3v3.3h-3.3zM45 156h3.3v3.3h-3.3zM135 156h3.3v3.3h-3.3zM132 159h3.3v3.3h-3.3zM48 162h3.3v3.3h-3.3zM51 165h3.3v3.3h-3.3zM129 165h3.3v3.3h-3.3zM51 168h3.3v3.3h-3.3zM126 168h3.3v3.3h-3.3zM54 171h3.3v3.3h-3.3zM126 171h3.3v3.3h-3.3z" fill="#f2f2f8"/>
<path d="M54 0h3.3v3.3h-3.3zM126 3h3.3v3.3h-3.3zM51 6h3.3v3.3h-3.3zM129 9h3.3v3.3h-3.3zM48 12h3.3v3.3h-3.3zM132 12h3.3v3.3h-3.3zM45 15h3.3v3.3h-3.3zM132 15h3.3v3.3h-3.3zM135 18h3.3v3.3h-3.3zM42 21h3.3v3.3h-3.3zM138 21h3.3v3.3h-3.3zM39 24h3.3v3.3h-3.3zM141 24h3.3v3.3h-3.3zM36 27h3.3v3.3h-3.3zM141 27h3.3v3.3h-3.3zM33 30h3.3v3.3h-3.3zM144 30h3.3v3.3h-3.3zM30 33h3.3v3.3h-3.3zM147 33h6.3v3.3h-6.3zM27 36h3.3v3.3h-3.3zM153 36h3.3v3.3h-3.3zM21 39h6.3v3.3h-6.3zM156 39h3.3v3.3h-3.3zM18 42h3.3v3.3h-3.3zM159 42h6.3v3.3h-6.3zM12 45h6.3v3.3h-6.3zM165 45h3.3v3.3h-3.3zM6 48h6.3v3.3h-6.3zM171 48h3.3v3.3h-3.3zM0 51h6.3v3.3h-6.3zM177 51h3.3v3.3h-3.3zM0 117h3.3v3.3h-3.3zM177 117h6.3v3.3h-6.3zM6 120h3.3v3.3h-3.3zM171 120h6.3v3.3h-6.3zM12 123h3.3v3.3h-3.3zM165 123h6.3v3.3h-6.3zM15 126h6.3v3.3h-6.3zM162 126h3.3v3.3h-3.3zM21 129h3.3v3.3h-3.3zM156 129h6.3v3.3h-6.3zM24 132h3.3v3.3h-3.3zM153 132h3.3v3.3h-3.3zM30 135h3.3v3.3h-3.3zM150 135h3.3v3.3h-3.3zM33 138h3.3v3.3h-3.3zM147 138h3.3v3.3h-3.3zM36 141h3.3v3.3h-3.3zM144 141h3.3v3.3h-3.3zM39 144h3.3v3.3h-3.3zM141 144h3.3v3.3h-3.3zM39 147h3.3v3.3h-3.3zM138 147h3.3v3.3h-3.3zM42 150h3.3v3.3h-3.3zM135 150h3.3v3.3h-3.3zM45 153h3.3v3.3h-3.3zM48 156h3.3v3.3h-3.3zM132 156h3.3v3.3h-3.3zM48 159h3.3v3.3h-3.3zM129 159h3.3v3.3h-3.3zM51 162h3.3v3.3h-3.3zM129 162h3.3v3.3h-3.3zM126 165h3.3v3.3h-3.3zM54 168h3.3v3.3h-3.3zM123 171h3.3v3.3h-3.3z" fill="#f1f1f8"/>
<path d="M57 0h3.3v3.3h-3.3zM123 0h3.3v3.3h-3.3zM54 3h3.3v3.3h-3.3zM123 3h3.3v3.3h-3.3zM54 6h3.3v3.3h-3.3zM126 6h3.3v3.3h-3.3zM51 9h3.3v3.3h-3.3zM126 9h3.3v3.3h-3.3zM51 12h3.3v3.3h-3.3zM129 12h3.3v3.3h-3.3zM48 15h3.3v3.3h-3.3zM45 18h3.3v3.3h-3.3zM132 18h3.3v3.3h-3.3zM45 21h3.3v3.3h-3.3zM135 21h3.3v3.3h-3.3zM42 24h3.3v3.3h-3.3zM138 24h3.3v3.3h-3.3zM39 27h3.3v3.3h-3.3zM36 30h3.3v3.3h-3.3zM141 30h3.3v3.3h-3.3zM33 33h3.3v3.3h-3.3zM144 33h3.3v3.3h-3.3zM30 36h3.3v3.3h-3.3zM150 36h3.3v3.3h-3.3zM27 39h3.3v3.3h-3.3zM153 39h3.3v3.3h-3.3zM21 42h3.3v3.3h-3.3zM156 42h3.3v3.3h-3.3zM18 45h3.3v3.3h-3.3zM162 45h3.3v3.3h-3.3zM12 48h3.3v3.3h-3.3zM165 48h6.3v3.3h-6.3zM6 51h3.3v3.3h-3.3zM171 51h6.3v3.3h-6.3zM0 54h3.3v3.3h-3.3zM177 54h6.3v3.3h-6.3zM180 114h3.3v3.3h-3.3zM3 117h6.3v3.3h-6.3zM174 117h3.3v3.3h-3.3zM9 120h6.3v3.3h-6.3zM168 120h3.3v3.3h-3.3zM15 123h3.3v3.3h-3.3zM162 123h3.3v3.3h-3.3zM21 126h3.3v3.3h-3.3zM159 126h3.3v3.3h-3.3zM24 129h3.3v3.3h-3.3zM153 129h3.3v3.3h-3.3zM27 132h6.3v3.3h-6.3zM150 132h3.3v3.3h-3.3zM33 135h3.3v3.3h-3.3zM147 135h3.3v3.3h-3.3zM36 138h3.3v3.3h-3.3zM144 138h3.3v3.3h-3.3zM39 141h3.3v3.3h-3.3zM141 141h3.3v3.3h-3.3zM138 144h3.3v3.3h-3.3zM42 147h3.3v3.3h-3.3zM135 147h3.3v3.3h-3.3zM45 150h3.3v3.3h-3.3zM132 150h3.3v3.3h-3.3zM48 153h3.3v3.3h-3.3zM132 153h3.3v3.3h-3.3zM129 156h3.3v3.3h-3.3zM51 159h3.3v3.3h-3.3zM126 162h3.3v3.3h-3.3zM54 165h3.3v3.3h-3.3zM123 165h3.3v3.3h-3.3zM123 168h3.3v3.3h-3.3zM57 171h3.3v3.3h-3.3z" fill="#eff0f7"/>
<path d="M60 0h3.3v3.3h-3.3zM120 3h3.3v3.3h-3.3zM57 6h3.3v3.3h-3.3zM120 6h3.3v3.3h-3.3zM57 9h3.3v3.3h-3.3zM123 9h3.3v3.3h-3.3zM54 12h3.3v3.3h-3.3zM123 12h3.3v3.3h-3.3zM126 15h3.3v3.3h-3.3zM51 18h3.3v3.3h-3.3zM48 21h3.3v3.3h-3.3zM129 21h3.3v3.3h-3.3zM132 24h3.3v3.3h-3.3zM45 27h3.3v3.3h-3.3zM135 27h3.3v3.3h-3.3zM42 30h3.3v3.3h-3.3zM138 30h3.3v3.3h-3.3zM39 33h3.3v3.3h-3.3zM36 36h3.3v3.3h-3.3zM144 36h3.3v3.3h-3.3zM33 39h3.3v3.3h-3.3zM147 39h3.3v3.3h-3.3zM27 42h6.3v3.3h-6.3zM150 42h3.3v3.3h-3.3zM24 45h3.3v3.3h-3.3zM153 45h3.3v3.3h-3.3zM18 48h6.3v3.3h-6.3zM159 48h3.3v3.3h-3.3zM15 51h3.3v3.3h-3.3zM165 51h3.3v3.3h-3.3zM9 54h3.3v3.3h-3.3zM168 54h6.3v3.3h-6.3zM0 57h6.3v3.3h-6.3zM177 57h3.3v3.3h-3.3zM0 111h3.3v3.3h-3.3zM180 111h3.3v3.3h-3.3zM6 114h3.3v3.3h-3.3zM171 114h6.3v3.3h-6.3zM12 117h3.3v3.3h-3.3zM165 117h6.3v3.3h-6.3zM18 120h3.3v3.3h-3.3zM159 120h6.3v3.3h-6.3zM24 123h3.3v3.3h-3.3zM156 123h3.3v3.3h-3.3zM27 126h3.3v3.3h-3.3zM150 126h3.3v3.3h-3.3zM30 129h3.3v3.3h-3.3zM147 129h3.3v3.3h-3.3zM36 132h3.3v3.3h-3.3zM144 132h3.3v3.3h-3.3zM39 135h3.3v3.3h-3.3zM141 135h3.3v3.3h-3.3zM42 138h3.3v3.3h-3.3zM138 138h3.3v3.3h-3.3zM135 141h3.3v3.3h-3.3zM45 144h3.3v3.3h-3.3zM132 144h3.3v3.3h-3.3zM48 147h3.3v3.3h-3.3zM51 150h3.3v3.3h-3.3zM129 150h3.3v3.3h-3.3zM51 153h3.3v3.3h-3.3zM126 153h3.3v3.3h-3.3zM54 156h3.3v3.3h-3.3zM123 159h3.3v3.3h-3.3zM57 162h3.3v3.3h-3.3zM120 165h3.3v3.3h-3.3zM60 168h3.3v3.3h-3.3zM117 171h3.3v3.3h-3.3z" fill="#ececf6"/>
<path d="M63 0h3.3v3.3h-3.3zM117 0h3.3v3.3h-3.3zM60 3h3.3v3.3h-3.3zM117 3h3.3v3.3h-3.3zM60 6h3.3v3.3h-3.3zM120 9h3.3v3.3h-3.3zM57 12h3.3v3.3h-3.3zM54 15h3.3v3.3h-3.3zM123 15h3.3v3.3h-3.3zM54 18h3.3v3.3h-3.3zM126 18h3.3v3.3h-3.3zM51 21h3.3v3.3h-3.3zM48 24h3.3v3.3h-3.3zM129 24h3.3v3.3h-3.3zM132 27h3.3v3.3h-3.3zM45 30h3.3v3.3h-3.3zM135 30h3.3v3.3h-3.3zM42 33h3.3v3.3h-3.3zM138 33h3.3v3.3h-3.3zM39 36h3.3v3.3h-3.3zM141 36h3.3v3.3h-3.3zM36 39h3.3v3.3h-3.3zM144 39h3.3v3.3h-3.3zM33 42h3.3v3.3h-3.3zM147 42h3.3v3.3h-3.3zM27 45h3.3v3.3h-3.3zM150 45h3.3v3.3h-3.3zM24 48h3.3v3.3h-3.3zM156 48h3.3v3.3h-3.3zM18 51h3.3v3.3h-3.3zM159 51h6.3v3.3h-6.3zM12 54h3.3v3.3h-3.3zM165 54h3.3v3.3h-3.3zM6 57h3.3v3.3h-3.3zM171 57h6.3v3.3h-6.3zM0 60h3.3v3.3h-3.3zM180 60h3.3v3.3h-3.3zM3 111h3.3v3.3h-3.3zM174 111h6.3v3.3h-6.3zM9 114h6.3v3.3h-6.3zM168 114h3.3v3.3h-3.3zM15 117h6.3v3.3h-6.3zM162 117h3.3v3.3h-3.3zM21 120h3.3v3.3h-3.3zM156 120h3.3v3.3h-3.3zM27 123h3.3v3.3h-3.3zM153 123h3.3v3.3h-3.3zM30 126h3.3v3.3h-3.3zM147 126h3.3v3.3h-3.3zM33 129h3.3v3.3h-3.3zM144 129h3.3v3.3h-3.3zM141 132h3.3v3.3h-3.3zM138 135h3.3v3.3h-3.3zM135 138h3.3v3.3h-3.3zM45 141h3.3v3.3h-3.3zM132 141h3.3v3.3h-3.3zM48 144h3.3v3.3h-3.3zM129 144h3.3v3.3h-3.3zM51 147h3.3v3.3h-3.3zM129 147h3.3v3.3h-3.3zM126 150h3.3v3.3h-3.3zM54 153h3.3v3.3h-3.3zM123 156h3.3v3.3h-3.3zM57 159h3.3v3.3h-3.3zM120 159h3.3v3.3h-3.3zM60 162h3.3v3.3h-3.3zM120 162h3.3v3.3h-3.3zM60 165h3.3v3.3h-3.3zM117 165h3.3v3.3h-3.3zM117 168h3.3v3.3h-3.3zM63 171h3.3v3.3h-3.3z" fill="#eaebf6"/>
<path d="M66 0h3.3v3.3h-3.3zM114 3h3.3v3.3h-3.3zM63 6h3.3v3.3h-3.3zM117 9h3.3v3.3h-3.3zM60 12h3.3v3.3h-3.3zM117 12h3.3v3.3h-3.3zM120 15h3.3v3.3h-3.3zM57 18h3.3v3.3h-3.3zM123 21h3.3v3.3h-3.3zM54 24h3.3v3.3h-3.3zM51 27h3.3v3.3h-3.3zM126 27h3.3v3.3h-3.3zM48 30h3.3v3.3h-3.3zM129 30h3.3v3.3h-3.3zM132 33h3.3v3.3h-3.3zM45 36h3.3v3.3h-3.3zM135 36h3.3v3.3h-3.3zM42 39h3.3v3.3h-3.3zM138 39h3.3v3.3h-3.3zM39 42h3.3v3.3h-3.3zM141 42h3.3v3.3h-3.3zM33 45h3.3v3.3h-3.3zM144 45h3.3v3.3h-3.3zM30 48h3.3v3.3h-3.3zM147 48h6.3v3.3h-6.3zM24 51h3.3v3.3h-3.3zM153 51h3.3v3.3h-3.3zM21 54h3.3v3.3h-3.3zM159 54h3.3v3.3h-3.3zM15 57h3.3v3.3h-3.3zM165 57h3.3v3.3h-3.3zM6 60h6.3v3.3h-6.3zM171 60h3.3v3.3h-3.3zM0 63h3.3v3.3h-3.3zM177 63h6.3v3.3h-6.3zM180 105h3.3v3.3h-3.3zM3 108h6.3v3.3h-6.3zM174 108h3.3v3.3h-3.3zM12 111h3.3v3.3h-3.3zM165 111h6.3v3.3h-6.3zM18 114h3.3v3.3h-3.3zM159 114h6.3v3.3h-6.3zM24 117h3.3v3.3h-3.3zM156 117h3.3v3.3h-3.3zM27 120h6.3v3.3h-6.3zM150 120h3.3v3.3h-3.3zM33 123h3.3v3.3h-3.3zM147 123h3.3v3.3h-3.3zM36 126h3.3v3.3h-3.3zM141 126h3.3v3.3h-3.3zM39 129h3.3v3.3h-3.3zM138 129h3.3v3.3h-3.3zM42 132h3.3v3.3h-3.3zM135 132h3.3v3.3h-3.3zM45 135h3.3v3.3h-3.3zM132 135h3.3v3.3h-3.3zM48 138h3.3v3.3h-3.3zM129 138h3.3v3.3h-3.3zM51 141h3.3v3.3h-3.3zM126 144h3.3v3.3h-3.3zM54 147h3.3v3.3h-3.3zM123 147h3.3v3.3h-3.3zM57 150h3.3v3.3h-3.3zM120 153h3.3v3.3h-3.3zM60 156h3.3v3.3h-3.3zM117 159h3.3v3.3h-3.3zM63 162h3.3v3.3h-3.3zM114 165h3.3v3.3h-3.3zM66 168h3.3v3.3h-3.3zM66 171h3.3v3.3h-3.3zM111 171h3.3v3.3h-3.3z" fill="#e7e8f4"/>
<path d="M69 0h3.3v3.3h-3.3zM108 0h3.3v3.3h-3.3zM69 3h3.3v3.3h-3.3zM111 3h3.3v3.3h-3.3zM111 6h3.3v3.3h-3.3zM66 9h3.3v3.3h-3.3zM114 12h3.3v3.3h-3.3zM63 15h3.3v3.3h-3.3zM117 18h3.3v3.3h-3.3zM60 21h3.3v3.3h-3.3zM57 24h3.3v3.3h-3.3zM120 24h3.3v3.3h-3.3zM57 27h3.3v3.3h-3.3zM123 27h3.3v3.3h-3.3zM54 30h3.3v3.3h-3.3zM51 33h3.3v3.3h-3.3zM126 33h3.3v3.3h-3.3zM48 36h3.3v3.3h-3.3zM129 36h3.3v3.3h-3.3zM45 39h6.3v3.3h-6.3zM132 39h3.3v3.3h-3.3zM42 42h6.3v3.3h-6.3zM135 42h3.3v3.3h-3.3zM39 45h3.3v3.3h-3.3zM138 45h3.3v3.3h-3.3zM36 48h3.3v3.3h-3.3zM141 48h3.3v3.3h-3.3zM33 51h3.3v3.3h-3.3zM147 51h3.3v3.3h-3.3zM27 54h3.3v3.3h-3.3zM150 54h3.3v3.3h-3.3zM21 57h6.3v3.3h-6.3zM156 57h3.3v3.3h-3.3zM15 60h6.3v3.3h-6.3zM162 60h3.3v3.3h-3.3zM9 63h3.3v3.3h-3.3zM168 63h6.3v3.3h-6.3zM0 66h6.3v3.3h-6.3zM174 66h6.3v3.3h-6.3zM0 102h3.3v3.3h-3.3zM177 102h6.3v3.3h-6.3zM6 105h6.3v3.3h-6.3zM171 105h6.3v3.3h-6.3zM12 108h6.3v3.3h-6.3zM162 108h6.3v3.3h-6.3zM18 111h6.3v3.3h-6.3zM156 111h6.3v3.3h-6.3zM24 114h6.3v3.3h-6.3zM153 114h3.3v3.3h-3.3zM30 117h3.3v3.3h-3.3zM147 117h3.3v3.3h-3.3zM36 120h3.3v3.3h-3.3zM144 120h3.3v3.3h-3.3zM39 123h3.3v3.3h-3.3zM138 123h6.3v3.3h-6.3zM42 126h3.3v3.3h-3.3zM135 126h3.3v3.3h-3.3zM45 129h3.3v3.3h-3.3zM132 129h3.3v3.3h-3.3zM48 132h3.3v3.3h-3.3zM129 132h3.3v3.3h-3.3zM51 135h3.3v3.3h-3.3zM54 138h3.3v3.3h-3.3zM126 138h3.3v3.3h-3.3zM123 141h3.3v3.3h-3.3zM57 144h3.3v3.3h-3.3zM120 144h3.3v3.3h-3.3zM60 147h3.3v3.3h-3.3zM120 147h3.3v3.3h-3.3zM60 150h3.3v3.3h-3.3zM117 150h3.3v3.3h-3.3zM63 153h3.3v3.3h-3.3zM117 153h3.3v3.3h-3.3zM63 156h3.3v3.3h-3.3zM114 156h3.3v3.3h-3.3zM66 159h3.3v3.3h-3.3zM114 159h3.3v3.3h-3.3zM66 162h3.3v3.3h-3.3zM111 162h3.3v3.3h-3.3zM69 165h3.3v3.3h-3.3zM111 165h3.3v3.3h-3.3zM69 168h3.3v3.3h-3.3zM108 171h3.3v3.3h-3.3z" fill="#e4e5f3"/>
<path d="M72 0h3.3v3.3h-3.3zM108 3h3.3v3.3h-3.3zM69 6h3.3v3.3h-3.3zM108 6h3.3v3.3h-3.3zM69 9h3.3v3.3h-3.3zM111 9h3.3v3.3h-3.3zM66 12h3.3v3.3h-3.3zM111 12h3.3v3.3h-3.3zM66 15h3.3v3.3h-3.3zM114 15h3.3v3.3h-3.3zM63 18h3.3v3.3h-3.3zM114 18h3.3v3.3h-3.3zM63 21h3.3v3.3h-3.3zM117 21h3.3v3.3h-3.3zM60 24h3.3v3.3h-3.3zM117 24h3.3v3.3h-3.3zM60 27h3.3v3.3h-3.3zM120 27h3.3v3.3h-3.3zM57 30h3.3v3.3h-3.3zM120 30h6.3v3.3h-6.3zM54 33h3.3v3.3h-3.3zM123 33h3.3v3.3h-3.3zM51 36h6.3v3.3h-6.3zM126 36h3.3v3.3h-3.3zM51 39h3.3v3.3h-3.3zM129 39h3.3v3.3h-3.3zM48 42h3.3v3.3h-3.3zM132 42h3.3v3.3h-3.3zM42 45h6.3v3.3h-6.3zM135 45h3.3v3.3h-3.3zM39 48h6.3v3.3h-6.3zM138 48h3.3v3.3h-3.3zM36 51h3.3v3.3h-3.3zM141 51h6.3v3.3h-6.3zM30 54h6.3v3.3h-6.3zM147 54h3.3v3.3h-3.3zM27 57h3.3v3.3h-3.3zM150 57h6.3v3.3h-6.3zM21 60h3.3v3.3h-3.3zM156 60h6.3v3.3h-6.3zM12 63h6.3v3.3h-6.3zM162 63h6.3v3.3h-6.3zM6 66h6.3v3.3h-6.3zM168 66h6.3v3.3h-6.3zM0 69h6.3v3.3h-6.3zM177 69h6.3v3.3h-6.3zM0 99h3.3v3.3h-3.3zM180 99h3.3v3.3h-3.3zM3 102h6.3v3.3h-6.3zM171 102h6.3v3.3h-6.3zM12 105h6.3v3.3h-6.3zM165 105h6.3v3.3h-6.3zM18 108h6.3v3.3h-6.3zM159 108h3.3v3.3h-3.3zM24 111h6.3v3.3h-6.3zM153 111h3.3v3.3h-3.3zM30 114h3.3v3.3h-3.3zM147 114h6.3v3.3h-6.3zM33 117h6.3v3.3h-6.3zM144 117h3.3v3.3h-3.3zM39 120h3.3v3.3h-3.3zM138 120h6.3v3.3h-6.3zM42 123h3.3v3.3h-3.3zM135 123h3.3v3.3h-3.3zM45 126h3.3v3.3h-3.3zM132 126h3.3v3.3h-3.3zM48 129h3.3v3.3h-3.3zM129 129h3.3v3.3h-3.3zM51 132h3.3v3.3h-3.3zM126 132h3.3v3.3h-3.3zM54 135h3.3v3.3h-3.3zM123 135h6.3v3.3h-6.3zM57 138h3.3v3.3h-3.3zM123 138h3.3v3.3h-3.3zM57 141h3.3v3.3h-3.3zM120 141h3.3v3.3h-3.3zM60 144h3.3v3.3h-3.3zM117 144h3.3v3.3h-3.3zM63 147h3.3v3.3h-3.3zM117 147h3.3v3.3h-3.3zM63 150h3.3v3.3h-3.3zM114 150h3.3v3.3h-3.3zM66 153h3.3v3.3h-3.3zM114 153h3.3v3.3h-3.3zM66 156h3.3v3.3h-3.3zM111 156h3.3v3.3h-3.3zM69 159h3.3v3.3h-3.3zM111 159h3.3v3.3h-3.3zM69 162h3.3v3.3h-3.3zM108 165h3.3v3.3h-3.3zM72 168h3.3v3.3h-3.3zM108 168h3.3v3.3h-3.3zM72 171h3.3v3.3h-3.3zM105 171h3.3v3.3h-3.3z" fill="#dfe0f1"/>
<path d="M75 0h3.3v3.3h-3.3zM105 0h3.3v3.3h-3.3zM72 3h3.3v3.3h-3.3zM105 3h3.3v3.3h-3.3zM72 6h3.3v3.3h-3.3zM72 9h3.3v3.3h-3.3zM108 9h3.3v3.3h-3.3zM69 12h3.3v3.3h-3.3zM108 12h3.3v3.3h-3.3zM69 15h3.3v3.3h-3.3zM111 15h3.3v3.3h-3.3zM66 18h3.3v3.3h-3.3zM111 18h3.3v3.3h-3.3zM66 21h3.3v3.3h-3.3zM114 21h3.3v3.3h-3.3zM63 24h3.3v3.3h-3.3zM114 24h3.3v3.3h-3.3zM63 27h3.3v3.3h-3.3zM117 27h3.3v3.3h-3.3zM60 30h3.3v3.3h-3.3zM57 33h3.3v3.3h-3.3zM120 33h3.3v3.3h-3.3zM57 36h3.3v3.3h-3.3zM123 36h3.3v3.3h-3.3zM54 39h3.3v3.3h-3.3zM126 39h3.3v3.3h-3.3zM51 42h3.3v3.3h-3.3zM129 42h3.3v3.3h-3.3zM48 45h3.3v3.3h-3.3zM132 45h3.3v3.3h-3.3zM45 48h3.3v3.3h-3.3zM135 48h3.3v3.3h-3.3zM39 51h6.3v3.3h-6.3zM138 51h3.3v3.3h-3.3zM36 54h3.3v3.3h-3.3zM141 54h6.3v3.3h-6.3zM30 57h6.3v3.3h-6.3zM147 57h3.3v3.3h-3.3zM24 60h6.3v3.3h-6.3zM150 60h6.3v3.3h-6.3zM18 63h6.3v3.3h-6.3zM156 63h6.3v3.3h-6.3zM12 66h6.3v3.3h-6.3zM162 66h6.3v3.3h-6.3zM6 69h6.3v3.3h-6.3zM171 69h6.3v3.3h-6.3zM0 72h3.3v3.3h-3.3zM177 72h6.3v3.3h-6.3zM180 96h3.3v3.3h-3.3zM3 99h6.3v3.3h-6.3zM174 99h6.3v3.3h-6.3zM9 102h6.3v3.3h-6.3zM165 102h6.3v3.3h-6.3zM18 105h6.3v3.3h-6.3zM159 105h6.3v3.3h-6.3zM24 108h6.3v3.3h-6.3zM153 108h6.3v3.3h-6.3zM30 111h3.3v3.3h-3.3zM147 111h6.3v3.3h-6.3zM33 114h6.3v3.3h-6.3zM144 114h3.3v3.3h-3.3zM39 117h3.3v3.3h-3.3zM138 117h6.3v3.3h-6.3zM42 120h6.3v3.3h-6.3zM135 120h3.3v3.3h-3.3zM45 123h6.3v3.3h-6.3zM132 123h3.3v3.3h-3.3zM48 126h6.3v3.3h-6.3zM129 126h3.3v3.3h-3.3zM51 129h6.3v3.3h-6.3zM126 129h3.3v3.3h-3.3zM54 132h3.3v3.3h-3.3zM123 132h3.3v3.3h-3.3zM57 135h3.3v3.3h-3.3zM120 135h3.3v3.3h-3.3zM60 138h3.3v3.3h-3.3zM120 138h3.3v3.3h-3.3zM60 141h3.3v3.3h-3.3zM117 141h3.3v3.3h-3.3zM63 144h3.3v3.3h-3.3zM114 147h3.3v3.3h-3.3zM66 150h3.3v3.3h-3.3zM111 150h3.3v3.3h-3.3zM111 153h3.3v3.3h-3.3zM69 156h3.3v3.3h-3.3zM108 159h3.3v3.3h-3.3zM72 162h3.3v3.3h-3.3zM108 162h3.3v3.3h-3.3zM72 165h3.3v3.3h-3.3zM105 165h3.3v3.3h-3.3zM75 168h3.3v3.3h-3.3zM105 168h3.3v3.3h-3.3zM75 171h3.3v3.3h-3.3zM102 171h3.3v3.3h-3.3z" fill="#dadcee"/>
<path d="M78 0h3.3v3.3h-3.3zM102 0h3.3v3.3h-3.3zM75 3h3.3v3.3h-3.3zM102 3h3.3v3.3h-3.3zM75 6h3.3v3.3h-3.3zM105 6h3.3v3.3h-3.3zM105 9h3.3v3.3h-3.3zM72 12h3.3v3.3h-3.3zM108 15h3.3v3.3h-3.3zM69 18h3.3v3.3h-3.3zM108 18h3.3v3.3h-3.3zM69 21h3.3v3.3h-3.3zM111 21h3.3v3.3h-3.3zM66 24h3.3v3.3h-3.3zM111 24h3.3v3.3h-3.3zM114 27h3.3v3.3h-3.3zM63 30h3.3v3.3h-3.3zM117 30h3.3v3.3h-3.3zM60 33h3.3v3.3h-3.3zM117 33h3.3v3.3h-3.3zM60 36h3.3v3.3h-3.3zM120 36h3.3v3.3h-3.3zM57 39h3.3v3.3h-3.3zM123 39h3.3v3.3h-3.3zM54 42h3.3v3.3h-3.3zM123 42h6.3v3.3h-6.3zM51 45h3.3v3.3h-3.3zM126 45h6.3v3.3h-6.3zM48 48h3.3v3.3h-3.3zM129 48h6.3v3.3h-6.3zM45 51h3.3v3.3h-3.3zM132 51h6.3v3.3h-6.3zM39 54h6.3v3.3h-6.3zM138 54h3.3v3.3h-3.3zM36 57h3.3v3.3h-3.3zM141 57h6.3v3.3h-6.3zM30 60h6.3v3.3h-6.3zM147 60h3.3v3.3h-3.3zM24 63h6.3v3.3h-6.3zM150 63h6.3v3.3h-6.3zM18 66h6.3v3.3h-6.3zM156 66h6.3v3.3h-6.3zM12 69h6.3v3.3h-6.3zM165 69h6.3v3.3h-6.3zM3 72h6.3v3.3h-6.3zM171 72h6.3v3.3h-6.3zM0 75h3.3v3.3h-3.3zM177 75h6.3v3.3h-6.3zM180 93h3.3v3.3h-3.3zM0 96h9.3v3.3h-9.3zM174 96h6.3v3.3h-6.3zM9 99h6.3v3.3h-6.3zM165 99h9.3v3.3h-9.3zM15 102h6.3v3.3h-6.3zM159 102h6.3v3.3h-6.3zM24 105h3.3v3.3h-3.3zM153 105h6.3v3.3h-6.3zM30 108h3.3v3.3h-3.3zM147 108h6.3v3.3h-6.3zM33 111h6.3v3.3h-6.3zM144 111h3.3v3.3h-3.3zM39 114h3.3v3.3h-3.3zM138 114h6.3v3.3h-6.3zM42 117h6.3v3.3h-6.3zM135 117h3.3v3.3h-3.3zM48 120h3.3v3.3h-3.3zM132 120h3.3v3.3h-3.3zM51 123h3.3v3.3h-3.3zM129 123h3.3v3.3h-3.3zM54 126h3.3v3.3h-3.3zM126 126h3.3v3.3h-3.3zM57 129h3.3v3.3h-3.3zM123 129h3.3v3.3h-3.3zM57 132h3.3v3.3h-3.3zM120 132h3.3v3.3h-3.3zM60 135h3.3v3.3h-3.3zM117 135h3.3v3.3h-3.3zM63 138h3.3v3.3h-3.3zM117 138h3.3v3.3h-3.3zM63 141h3.3v3.3h-3.3zM114 141h3.3v3.3h-3.3zM66 144h3.3v3.3h-3.3zM114 144h3.3v3.3h-3.3zM66 147h3.3v3.3h-3.3zM111 147h3.3v3.3h-3.3zM69 150h3.3v3.3h-3.3zM69 153h3.3v3.3h-3.3zM108 153h3.3v3.3h-3.3zM72 156h3.3v3.3h-3.3zM108 156h3.3v3.3h-3.3zM72 159h3.3v3.3h-3.3zM105 159h3.3v3.3h-3.3zM75 162h3.3v3.3h-3.3zM105 162h3.3v3.3h-3.3zM75 165h3.3v3.3h-3.3zM102 165h3.3v3.3h-3.3zM102 168h3.3v3.3h-3.3zM78 171h3.3v3.3h-3.3z" fill="#d5d7ec"/>
<path d="M81 0h3.3v3.3h-3.3zM99 0h3.3v3.3h-3.3zM78 3h3.3v3.3h-3.3zM99 3h3.3v3.3h-3.3zM78 6h3.3v3.3h-3.3zM102 6h3.3v3.3h-3.3zM75 9h3.3v3.3h-3.3zM102 9h3.3v3.3h-3.3zM75 12h3.3v3.3h-3.3zM105 12h3.3v3.3h-3.3zM72 15h3.3v3.3h-3.3zM105 15h3.3v3.3h-3.3zM72 18h3.3v3.3h-3.3zM108 21h3.3v3.3h-3.3zM69 24h3.3v3.3h-3.3zM66 27h3.3v3.3h-3.3zM111 27h3.3v3.3h-3.3zM66 30h3.3v3.3h-3.3zM114 30h3.3v3.3h-3.3zM63 33h3.3v3.3h-3.3zM114 33h3.3v3.3h-3.3zM63 36h3.3v3.3h-3.3zM117 36h3.3v3.3h-3.3zM60 39h3.3v3.3h-3.3zM120 39h3.3v3.3h-3.3zM57 42h3.3v3.3h-3.3zM120 42h3.3v3.3h-3.3zM54 45h3.3v3.3h-3.3zM123 45h3.3v3.3h-3.3zM51 48h3.3v3.3h-3.3zM126 48h3.3v3.3h-3.3zM48 51h3.3v3.3h-3.3zM129 51h3.3v3.3h-3.3zM45 54h3.3v3.3h-3.3zM132 54h6.3v3.3h-6.3zM39 57h6.3v3.3h-6.3zM138 57h3.3v3.3h-3.3zM36 60h3.3v3.3h-3.3zM141 60h6.3v3.3h-6.3zM30 63h6.3v3.3h-6.3zM147 63h3.3v3.3h-3.3zM24 66h6.3v3.3h-6.3zM153 66h3.3v3.3h-3.3zM18 69h6.3v3.3h-6.3zM159 69h6.3v3.3h-6.3zM9 72h6.3v3.3h-6.3zM165 72h6.3v3.3h-6.3zM3 75h6.3v3.3h-6.3zM171 75h6.3v3.3h-6.3zM0 78h3.3v3.3h-3.3zM177 78h6.3v3.3h-6.3zM0 90h3.3v3.3h-3.3zM180 90h3.3v3.3h-3.3zM0 93h9.3v3.3h-9.3zM174 93h6.3v3.3h-6.3zM9 96h6.3v3.3h-6.3zM168 96h6.3v3.3h-6.3zM15 99h6.3v3.3h-6.3zM162 99h3.3v3.3h-3.3zM21 102h6.3v3.3h-6.3zM153 102h6.3v3.3h-6.3zM27 105h6.3v3.3h-6.3zM147 105h6.3v3.3h-6.3zM33 108h6.3v3.3h-6.3zM144 108h3.3v3.3h-3.3zM39 111h3.3v3.3h-3.3zM138 111h6.3v3.3h-6.3zM42 114h6.3v3.3h-6.3zM135 114h3.3v3.3h-3.3zM48 117h3.3v3.3h-3.3zM132 117h3.3v3.3h-3.3zM51 120h3.3v3.3h-3.3zM129 120h3.3v3.3h-3.3zM54 123h3.3v3.3h-3.3zM126 123h3.3v3.3h-3.3zM57 126h3.3v3.3h-3.3zM123 126h3.3v3.3h-3.3zM60 129h3.3v3.3h-3.3zM120 129h3.3v3.3h-3.3zM60 132h3.3v3.3h-3.3zM117 132h3.3v3.3h-3.3zM63 135h3.3v3.3h-3.3zM66 138h3.3v3.3h-3.3zM114 138h3.3v3.3h-3.3zM66 141h3.3v3.3h-3.3zM111 141h3.3v3.3h-3.3zM69 144h3.3v3.3h-3.3zM111 144h3.3v3.3h-3.3zM69 147h3.3v3.3h-3.3zM108 147h3.3v3.3h-3.3zM72 150h3.3v3.3h-3.3zM108 150h3.3v3.3h-3.3zM72 153h3.3v3.3h-3.3zM105 153h3.3v3.3h-3.3zM75 156h3.3v3.3h-3.3zM105 156h3.3v3.3h-3.3zM75 159h3.3v3.3h-3.3zM102 159h3.3v3.3h-3.3zM78 162h3.3v3.3h-3.3zM102 162h3.3v3.3h-3.3zM78 165h3.3v3.3h-3.3zM99 165h3.3v3.3h-3.3zM78 168h3.3v3.3h-3.3zM99 168h3.3v3.3h-3.3zM81 171h3.3v3.3h-3.3zM96 171h6.3v3.3h-6.3z" fill="#d0d2ea"/>
<path d="M84 0h3.3v3.3h-3.3zM93 0h6.3v3.3h-6.3zM81 3h3.3v3.3h-3.3zM96 3h3.3v3.3h-3.3zM81 6h3.3v3.3h-3.3zM99 6h3.3v3.3h-3.3zM78 9h3.3v3.3h-3.3zM99 9h3.3v3.3h-3.3zM78 12h3.3v3.3h-3.3zM102 12h3.3v3.3h-3.3zM75 15h3.3v3.3h-3.3zM102 15h3.3v3.3h-3.3zM75 18h3.3v3.3h-3.3zM105 18h3.3v3.3h-3.3zM72 21h3.3v3.3h-3.3zM105 21h3.3v3.3h-3.3zM72 24h3.3v3.3h-3.3zM108 24h3.3v3.3h-3.3zM69 27h3.3v3.3h-3.3zM108 27h3.3v3.3h-3.3zM69 30h3.3v3.3h-3.3zM111 30h3.3v3.3h-3.3zM66 33h3.3v3.3h-3.3zM111 33h3.3v3.3h-3.3zM114 36h3.3v3.3h-3.3zM63 39h3.3v3.3h-3.3zM117 39h3.3v3.3h-3.3zM60 42h3.3v3.3h-3.3zM117 42h3.3v3.3h-3.3zM57 45h3.3v3.3h-3.3zM120 45h3.3v3.3h-3.3zM54 48h3.3v3.3h-3.3zM123 48h3.3v3.3h-3.3zM51 51h3.3v3.3h-3.3zM126 51h3.3v3.3h-3.3zM48 54h3.3v3.3h-3.3zM129 54h3.3v3.3h-3.3zM45 57h3.3v3.3h-3.3zM132 57h6.3v3.3h-6.3zM39 60h6.3v3.3h-6.3zM138 60h3.3v3.3h-3.3zM36 63h3.3v3.3h-3.3zM141 63h6.3v3.3h-6.3zM30 66h3.3v3.3h-3.3zM147 66h6.3v3.3h-6.3zM24 69h3.3v3.3h-3.3zM153 69h6.3v3.3h-6.3zM15 72h6.3v3.3h-6.3zM159 72h6.3v3.3h-6.3zM9 75h6.3v3.3h-6.3zM165 75h6.3v3.3h-6.3zM3 78h6.3v3.3h-6.3zM171 78h6.3v3.3h-6.3zM0 81h6.3v3.3h-6.3zM174 81h9.3v3.3h-9.3zM0 84h3.3v3.3h-3.3zM177 84h6.3v3.3h-6.3zM0 87h6.3v3.3h-6.3zM177 87h6.3v3.3h-6.3zM3 90h6.3v3.3h-6.3zM174 90h6.3v3.3h-6.3zM9 93h6.3v3.3h-6.3zM168 93h6.3v3.3h-6.3zM15 96h6.3v3.3h-6.3zM162 96h6.3v3.3h-6.3zM21 99h6.3v3.3h-6.3zM156 99h6.3v3.3h-6.3zM27 102h6.3v3.3h-6.3zM150 102h3.3v3.3h-3.3zM33 105h3.3v3.3h-3.3zM144 105h3.3v3.3h-3.3zM39 108h3.3v3.3h-3.3zM138 108h6.3v3.3h-6.3zM42 111h6.3v3.3h-6.3zM135 111h3.3v3.3h-3.3zM48 114h3.3v3.3h-3.3zM132 114h3.3v3.3h-3.3zM51 117h3.3v3.3h-3.3zM126 117h6.3v3.3h-6.3zM54 120h3.3v3.3h-3.3zM123 120h6.3v3.3h-6.3zM57 123h3.3v3.3h-3.3zM123 123h3.3v3.3h-3.3zM60 126h3.3v3.3h-3.3zM120 126h3.3v3.3h-3.3zM63 129h3.3v3.3h-3.3zM117 129h3.3v3.3h-3.3zM63 132h3.3v3.3h-3.3zM114 132h3.3v3.3h-3.3zM66 135h3.3v3.3h-3.3zM114 135h3.3v3.3h-3.3zM111 138h3.3v3.3h-3.3zM69 141h3.3v3.3h-3.3zM108 141h3.3v3.3h-3.3zM72 144h3.3v3.3h-3.3zM108 144h3.3v3.3h-3.3zM72 147h3.3v3.3h-3.3zM105 147h3.3v3.3h-3.3zM75 150h3.3v3.3h-3.3zM105 150h3.3v3.3h-3.3zM75 153h3.3v3.3h-3.3zM102 153h3.3v3.3h-3.3zM78 156h3.3v3.3h-3.3zM102 156h3.3v3.3h-3.3zM78 159h3.3v3.3h-3.3zM99 159h3.3v3.3h-3.3zM81 162h3.3v3.3h-3.3zM99 162h3.3v3.3h-3.3zM81 165h3.3v3.3h-3.3zM96 165h3.3v3.3h-3.3zM81 168h6.3v3.3h-6.3zM96 168h3.3v3.3h-3.3zM84 171h12.3v3.3h-12.3z" fill="#c9cbe7"/>
<path d="M87 0h6.3v3.3h-6.3zM84 3h12.3v3.3h-12.3zM84 6h3.3v3.3h-3.3zM93 6h6.3v3.3h-6.3zM81 9h3.3v3.3h-3.3zM96 9h3.3v3.3h-3.3zM81 12h3.3v3.3h-3.3zM99 12h3.3v3.3h-3.3zM78 15h3.3v3.3h-3.3zM99 15h3.3v3.3h-3.3zM78 18h3.3v3.3h-3.3zM102 18h3.3v3.3h-3.3zM75 21h3.3v3.3h-3.3zM102 21h3.3v3.3h-3.3zM75 24h3.3v3.3h-3.3zM105 24h3.3v3.3h-3.3zM72 27h3.3v3.3h-3.3zM105 27h3.3v3.3h-3.3zM108 30h3.3v3.3h-3.3zM69 33h3.3v3.3h-3.3zM66 36h3.3v3.3h-3.3zM111 36h3.3v3.3h-3.3zM66 39h3.3v3.3h-3.3zM114 39h3.3v3.3h-3.3zM63 42h3.3v3.3h-3.3zM60 45h3.3v3.3h-3.3zM117 45h3.3v3.3h-3.3zM57 48h3.3v3.3h-3.3zM120 48h3.3v3.3h-3.3zM54 51h3.3v3.3h-3.3zM123 51h3.3v3.3h-3.3zM51 54h3.3v3.3h-3.3zM126 54h3.3v3.3h-3.3zM48 57h3.3v3.3h-3.3zM129 57h3.3v3.3h-3.3zM45 60h3.3v3.3h-3.3zM135 60h3.3v3.3h-3.3zM39 63h3.3v3.3h-3.3zM138 63h3.3v3.3h-3.3zM33 66h6.3v3.3h-6.3zM144 66h3.3v3.3h-3.3zM27 69h6.3v3.3h-6.3zM147 69h6.3v3.3h-6.3zM21 72h6.3v3.3h-6.3zM153 72h6.3v3.3h-6.3zM15 75h6.3v3.3h-6.3zM159 75h6.3v3.3h-6.3zM9 78h6.3v3.3h-6.3zM165 78h6.3v3.3h-6.3zM6 81h6.3v3.3h-6.3zM168 81h6.3v3.3h-6.3zM3 84h9.3v3.3h-9.3zM171 84h6.3v3.3h-6.3zM6 87h6.3v3.3h-6.3zM171 87h6.3v3.3h-6.3zM9 90h6.3v3.3h-6.3zM165 90h9.3v3.3h-9.3zM15 93h6.3v3.3h-6.3zM162 93h6.3v3.3h-6.3zM21 96h3.3v3.3h-3.3zM156 96h6.3v3.3h-6.3zM27 99h3.3v3.3h-3.3zM150 99h6.3v3.3h-6.3zM33 102h3.3v3.3h-3.3zM144 102h6.3v3.3h-6.3zM36 105h6.3v3.3h-6.3zM141 105h3.3v3.3h-3.3zM42 108h3.3v3.3h-3.3zM135 108h3.3v3.3h-3.3zM48 111h3.3v3.3h-3.3zM132 111h3.3v3.3h-3.3zM51 114h3.3v3.3h-3.3zM126 114h6.3v3.3h-6.3zM54 117h3.3v3.3h-3.3zM123 117h3.3v3.3h-3.3zM57 120h3.3v3.3h-3.3zM120 120h3.3v3.3h-3.3zM60 123h3.3v3.3h-3.3zM120 123h3.3v3.3h-3.3zM63 126h3.3v3.3h-3.3zM117 126h3.3v3.3h-3.3zM114 129h3.3v3.3h-3.3zM66 132h3.3v3.3h-3.3zM111 132h3.3v3.3h-3.3zM69 135h3.3v3.3h-3.3zM111 135h3.3v3.3h-3.3zM69 138h3.3v3.3h-3.3zM108 138h3.3v3.3h-3.3zM72 141h3.3v3.3h-3.3zM105 144h3.3v3.3h-3.3zM75 147h3.3v3.3h-3.3zM102 150h3.3v3.3h-3.3zM78 153h3.3v3.3h-3.3zM81 156h3.3v3.3h-3.3zM99 156h3.3v3.3h-3.3zM81 159h3.3v3.3h-3.3zM96 159h3.3v3.3h-3.3zM84 162h3.3v3.3h-3.3zM96 162h3.3v3.3h-3.3zM84 165h12.3v3.3h-12.3zM87 168h9.3v3.3h-9.3z" fill="#c2c4e4"/>
<path d="M111 0h3.3v3.3h-3.3zM66 3h3.3v3.3h-3.3zM66 6h3.3v3.3h-3.3zM114 6h3.3v3.3h-3.3zM63 9h3.3v3.3h-3.3zM114 9h3.3v3.3h-3.3zM63 12h3.3v3.3h-3.3zM60 15h3.3v3.3h-3.3zM117 15h3.3v3.3h-3.3zM60 18h3.3v3.3h-3.3zM120 18h3.3v3.3h-3.3zM57 21h3.3v3.3h-3.3zM120 21h3.3v3.3h-3.3zM123 24h3.3v3.3h-3.3zM54 27h3.3v3.3h-3.3zM51 30h3.3v3.3h-3.3zM126 30h3.3v3.3h-3.3zM48 33h3.3v3.3h-3.3zM129 33h3.3v3.3h-3.3zM132 36h3.3v3.3h-3.3zM135 39h3.3v3.3h-3.3zM138 42h3.3v3.3h-3.3zM36 45h3.3v3.3h-3.3zM141 45h3.3v3.3h-3.3zM33 48h3.3v3.3h-3.3zM144 48h3.3v3.3h-3.3zM27 51h6.3v3.3h-6.3zM150 51h3.3v3.3h-3.3zM24 54h3.3v3.3h-3.3zM153 54h6.3v3.3h-6.3zM18 57h3.3v3.3h-3.3zM159 57h6.3v3.3h-6.3zM12 60h3.3v3.3h-3.3zM165 60h6.3v3.3h-6.3zM3 63h6.3v3.3h-6.3zM174 63h3.3v3.3h-3.3zM180 66h3.3v3.3h-3.3zM0 105h6.3v3.3h-6.3zM177 105h3.3v3.3h-3.3zM9 108h3.3v3.3h-3.3zM168 108h6.3v3.3h-6.3zM15 111h3.3v3.3h-3.3zM162 111h3.3v3.3h-3.3zM21 114h3.3v3.3h-3.3zM156 114h3.3v3.3h-3.3zM27 117h3.3v3.3h-3.3zM150 117h6.3v3.3h-6.3zM33 120h3.3v3.3h-3.3zM147 120h3.3v3.3h-3.3zM36 123h3.3v3.3h-3.3zM144 123h3.3v3.3h-3.3zM39 126h3.3v3.3h-3.3zM138 126h3.3v3.3h-3.3zM42 129h3.3v3.3h-3.3zM135 129h3.3v3.3h-3.3zM45 132h3.3v3.3h-3.3zM132 132h3.3v3.3h-3.3zM48 135h3.3v3.3h-3.3zM129 135h3.3v3.3h-3.3zM51 138h3.3v3.3h-3.3zM54 141h3.3v3.3h-3.3zM126 141h3.3v3.3h-3.3zM54 144h3.3v3.3h-3.3zM123 144h3.3v3.3h-3.3zM57 147h3.3v3.3h-3.3zM120 150h3.3v3.3h-3.3zM60 153h3.3v3.3h-3.3zM117 156h3.3v3.3h-3.3zM63 159h3.3v3.3h-3.3zM114 162h3.3v3.3h-3.3zM66 165h3.3v3.3h-3.3zM111 168h3.3v3.3h-3.3zM69 171h3.3v3.3h-3.3z" fill="#e6e6f4"/>
<path d="M114 0h3.3v3.3h-3.3zM63 3h3.3v3.3h-3.3zM117 6h3.3v3.3h-3.3zM60 9h3.3v3.3h-3.3zM120 12h3.3v3.3h-3.3zM57 15h3.3v3.3h-3.3zM123 18h3.3v3.3h-3.3zM54 21h3.3v3.3h-3.3zM126 21h3.3v3.3h-3.3zM51 24h3.3v3.3h-3.3zM126 24h3.3v3.3h-3.3zM48 27h3.3v3.3h-3.3zM129 27h3.3v3.3h-3.3zM132 30h3.3v3.3h-3.3zM45 33h3.3v3.3h-3.3zM135 33h3.3v3.3h-3.3zM42 36h3.3v3.3h-3.3zM138 36h3.3v3.3h-3.3zM39 39h3.3v3.3h-3.3zM141 39h3.3v3.3h-3.3zM36 42h3.3v3.3h-3.3zM144 42h3.3v3.3h-3.3zM30 45h3.3v3.3h-3.3zM147 45h3.3v3.3h-3.3zM27 48h3.3v3.3h-3.3zM153 48h3.3v3.3h-3.3zM21 51h3.3v3.3h-3.3zM156 51h3.3v3.3h-3.3zM15 54h6.3v3.3h-6.3zM162 54h3.3v3.3h-3.3zM9 57h6.3v3.3h-6.3zM168 57h3.3v3.3h-3.3zM3 60h3.3v3.3h-3.3zM174 60h6.3v3.3h-6.3zM0 108h3.3v3.3h-3.3zM177 108h6.3v3.3h-6.3zM6 111h6.3v3.3h-6.3zM171 111h3.3v3.3h-3.3zM15 114h3.3v3.3h-3.3zM165 114h3.3v3.3h-3.3zM21 117h3.3v3.3h-3.3zM159 117h3.3v3.3h-3.3zM24 120h3.3v3.3h-3.3zM153 120h3.3v3.3h-3.3zM30 123h3.3v3.3h-3.3zM150 123h3.3v3.3h-3.3zM33 126h3.3v3.3h-3.3zM144 126h3.3v3.3h-3.3zM36 129h3.3v3.3h-3.3zM141 129h3.3v3.3h-3.3zM39 132h3.3v3.3h-3.3zM138 132h3.3v3.3h-3.3zM42 135h3.3v3.3h-3.3zM135 135h3.3v3.3h-3.3zM45 138h3.3v3.3h-3.3zM132 138h3.3v3.3h-3.3zM48 141h3.3v3.3h-3.3zM129 141h3.3v3.3h-3.3zM51 144h3.3v3.3h-3.3zM126 147h3.3v3.3h-3.3zM54 150h3.3v3.3h-3.3zM123 150h3.3v3.3h-3.3zM57 153h3.3v3.3h-3.3zM123 153h3.3v3.3h-3.3zM57 156h3.3v3.3h-3.3zM120 156h3.3v3.3h-3.3zM60 159h3.3v3.3h-3.3zM117 162h3.3v3.3h-3.3zM63 165h3.3v3.3h-3.3zM63 168h3.3v3.3h-3.3zM114 168h3.3v3.3h-3.3zM114 171h3.3v3.3h-3.3z" fill="#e9eaf5"/>
<path d="M120 0h3.3v3.3h-3.3zM57 3h3.3v3.3h-3.3zM123 6h3.3v3.3h-3.3zM54 9h3.3v3.3h-3.3zM126 12h3.3v3.3h-3.3zM51 15h3.3v3.3h-3.3zM129 15h3.3v3.3h-3.3zM48 18h3.3v3.3h-3.3zM129 18h3.3v3.3h-3.3zM132 21h3.3v3.3h-3.3zM45 24h3.3v3.3h-3.3zM135 24h3.3v3.3h-3.3zM42 27h3.3v3.3h-3.3zM138 27h3.3v3.3h-3.3zM39 30h3.3v3.3h-3.3zM36 33h3.3v3.3h-3.3zM141 33h3.3v3.3h-3.3zM33 36h3.3v3.3h-3.3zM147 36h3.3v3.3h-3.3zM30 39h3.3v3.3h-3.3zM150 39h3.3v3.3h-3.3zM24 42h3.3v3.3h-3.3zM153 42h3.3v3.3h-3.3zM21 45h3.3v3.3h-3.3zM156 45h6.3v3.3h-6.3zM15 48h3.3v3.3h-3.3zM162 48h3.3v3.3h-3.3zM9 51h6.3v3.3h-6.3zM168 51h3.3v3.3h-3.3zM3 54h6.3v3.3h-6.3zM174 54h3.3v3.3h-3.3zM180 57h3.3v3.3h-3.3zM0 114h6.3v3.3h-6.3zM177 114h3.3v3.3h-3.3zM9 117h3.3v3.3h-3.3zM171 117h3.3v3.3h-3.3zM15 120h3.3v3.3h-3.3zM165 120h3.3v3.3h-3.3zM18 123h6.3v3.3h-6.3zM159 123h3.3v3.3h-3.3zM24 126h3.3v3.3h-3.3zM153 126h6.3v3.3h-6.3zM27 129h3.3v3.3h-3.3zM150 129h3.3v3.3h-3.3zM33 132h3.3v3.3h-3.3zM147 132h3.3v3.3h-3.3zM36 135h3.3v3.3h-3.3zM144 135h3.3v3.3h-3.3zM39 138h3.3v3.3h-3.3zM141 138h3.3v3.3h-3.3zM42 141h3.3v3.3h-3.3zM138 141h3.3v3.3h-3.3zM42 144h3.3v3.3h-3.3zM135 144h3.3v3.3h-3.3zM45 147h3.3v3.3h-3.3zM132 147h3.3v3.3h-3.3zM48 150h3.3v3.3h-3.3zM129 153h3.3v3.3h-3.3zM51 156h3.3v3.3h-3.3zM126 156h3.3v3.3h-3.3zM54 159h3.3v3.3h-3.3zM126 159h3.3v3.3h-3.3zM54 162h3.3v3.3h-3.3zM123 162h3.3v3.3h-3.3zM57 165h3.3v3.3h-3.3zM57 168h3.3v3.3h-3.3zM120 168h3.3v3.3h-3.3zM60 171h3.3v3.3h-3.3zM120 171h3.3v3.3h-3.3z" fill="#eeeef7"/>
<path d="M129 0h3.3v3.3h-3.3zM48 3h3.3v3.3h-3.3zM132 6h3.3v3.3h-3.3zM45 9h3.3v3.3h-3.3zM135 9h3.3v3.3h-3.3zM42 12h3.3v3.3h-3.3zM135 12h3.3v3.3h-3.3zM39 15h3.3v3.3h-3.3zM138 15h3.3v3.3h-3.3zM39 18h3.3v3.3h-3.3zM141 18h3.3v3.3h-3.3zM36 21h3.3v3.3h-3.3zM144 21h3.3v3.3h-3.3zM33 24h3.3v3.3h-3.3zM147 24h3.3v3.3h-3.3zM30 27h3.3v3.3h-3.3zM147 27h6.3v3.3h-6.3zM27 30h3.3v3.3h-3.3zM153 30h3.3v3.3h-3.3zM24 33h3.3v3.3h-3.3zM156 33h3.3v3.3h-3.3zM18 36h6.3v3.3h-6.3zM159 36h3.3v3.3h-3.3zM15 39h3.3v3.3h-3.3zM162 39h6.3v3.3h-6.3zM9 42h6.3v3.3h-6.3zM168 42h3.3v3.3h-3.3zM3 45h6.3v3.3h-6.3zM174 45h3.3v3.3h-3.3zM0 48h3.3v3.3h-3.3zM180 48h3.3v3.3h-3.3zM180 120h3.3v3.3h-3.3zM3 123h3.3v3.3h-3.3zM174 123h6.3v3.3h-6.3zM9 126h3.3v3.3h-3.3zM168 126h6.3v3.3h-6.3zM12 129h6.3v3.3h-6.3zM165 129h3.3v3.3h-3.3zM18 132h3.3v3.3h-3.3zM159 132h6.3v3.3h-6.3zM21 135h3.3v3.3h-3.3zM156 135h3.3v3.3h-3.3zM24 138h6.3v3.3h-6.3zM153 138h3.3v3.3h-3.3zM30 141h3.3v3.3h-3.3zM150 141h3.3v3.3h-3.3zM33 144h3.3v3.3h-3.3zM147 144h3.3v3.3h-3.3zM36 147h3.3v3.3h-3.3zM144 147h3.3v3.3h-3.3zM36 150h3.3v3.3h-3.3zM141 150h3.3v3.3h-3.3zM39 153h3.3v3.3h-3.3zM138 153h3.3v3.3h-3.3zM42 156h3.3v3.3h-3.3zM45 159h3.3v3.3h-3.3zM135 159h3.3v3.3h-3.3zM45 162h3.3v3.3h-3.3zM132 162h3.3v3.3h-3.3zM48 165h3.3v3.3h-3.3zM132 165h3.3v3.3h-3.3zM129 168h3.3v3.3h-3.3zM51 171h3.3v3.3h-3.3z" fill="#f3f3f9"/>
<path d="M87 6h6.3v3.3h-6.3zM84 9h12.3v3.3h-12.3zM84 12h3.3v3.3h-3.3zM93 12h6.3v3.3h-6.3zM81 15h3.3v3.3h-3.3zM96 15h3.3v3.3h-3.3zM81 18h3.3v3.3h-3.3zM99 18h3.3v3.3h-3.3zM78 21h3.3v3.3h-3.3zM99 21h3.3v3.3h-3.3zM102 24h3.3v3.3h-3.3zM75 27h3.3v3.3h-3.3zM72 30h3.3v3.3h-3.3zM105 30h3.3v3.3h-3.3zM72 33h3.3v3.3h-3.3zM108 33h3.3v3.3h-3.3zM69 36h3.3v3.3h-3.3zM108 36h3.3v3.3h-3.3zM69 39h3.3v3.3h-3.3zM111 39h3.3v3.3h-3.3zM66 42h3.3v3.3h-3.3zM114 42h3.3v3.3h-3.3zM63 45h3.3v3.3h-3.3zM114 45h3.3v3.3h-3.3zM60 48h3.3v3.3h-3.3zM117 48h3.3v3.3h-3.3zM57 51h3.3v3.3h-3.3zM120 51h3.3v3.3h-3.3zM54 54h3.3v3.3h-3.3zM123 54h3.3v3.3h-3.3zM51 57h3.3v3.3h-3.3zM126 57h3.3v3.3h-3.3zM48 60h3.3v3.3h-3.3zM129 60h6.3v3.3h-6.3zM42 63h6.3v3.3h-6.3zM135 63h3.3v3.3h-3.3zM39 66h3.3v3.3h-3.3zM138 66h6.3v3.3h-6.3zM33 69h6.3v3.3h-6.3zM144 69h3.3v3.3h-3.3zM27 72h6.3v3.3h-6.3zM150 72h3.3v3.3h-3.3zM21 75h6.3v3.3h-6.3zM153 75h6.3v3.3h-6.3zM15 78h6.3v3.3h-6.3zM159 78h6.3v3.3h-6.3zM12 81h6.3v3.3h-6.3zM162 81h6.3v3.3h-6.3zM12 84h6.3v3.3h-6.3zM165 84h6.3v3.3h-6.3zM12 87h6.3v3.3h-6.3zM165 87h6.3v3.3h-6.3zM15 90h6.3v3.3h-6.3zM162 90h3.3v3.3h-3.3zM21 93h3.3v3.3h-3.3zM156 93h6.3v3.3h-6.3zM24 96h6.3v3.3h-6.3zM150 96h6.3v3.3h-6.3zM30 99h6.3v3.3h-6.3zM147 99h3.3v3.3h-3.3zM36 102h6.3v3.3h-6.3zM141 102h3.3v3.3h-3.3zM42 105h3.3v3.3h-3.3zM135 105h6.3v3.3h-6.3zM45 108h6.3v3.3h-6.3zM132 108h3.3v3.3h-3.3zM51 111h3.3v3.3h-3.3zM129 111h3.3v3.3h-3.3zM54 114h3.3v3.3h-3.3zM123 114h3.3v3.3h-3.3zM57 117h3.3v3.3h-3.3zM120 117h3.3v3.3h-3.3zM60 120h3.3v3.3h-3.3zM117 120h3.3v3.3h-3.3zM63 123h3.3v3.3h-3.3zM117 123h3.3v3.3h-3.3zM66 126h3.3v3.3h-3.3zM114 126h3.3v3.3h-3.3zM66 129h3.3v3.3h-3.3zM111 129h3.3v3.3h-3.3zM69 132h3.3v3.3h-3.3zM72 135h3.3v3.3h-3.3zM108 135h3.3v3.3h-3.3zM72 138h3.3v3.3h-3.3zM105 138h3.3v3.3h-3.3zM75 141h3.3v3.3h-3.3zM105 141h3.3v3.3h-3.3zM75 144h3.3v3.3h-3.3zM102 144h3.3v3.3h-3.3zM78 147h3.3v3.3h-3.3zM102 147h3.3v3.3h-3.3zM78 150h3.3v3.3h-3.3zM99 150h3.3v3.3h-3.3zM81 153h3.3v3.3h-3.3zM96 153h6.3v3.3h-6.3zM84 156h3.3v3.3h-3.3zM96 156h3.3v3.3h-3.3zM84 159h12.3v3.3h-12.3zM87 162h9.3v3.3h-9.3z" fill="#bbbee1"/>
<path d="M87 12h6.3v3.3h-6.3zM84 15h12.3v3.3h-12.3zM84 18h3.3v3.3h-3.3zM93 18h6.3v3.3h-6.3zM81 21h3.3v3.3h-3.3zM96 21h3.3v3.3h-3.3zM78 24h3.3v3.3h-3.3zM99 24h3.3v3.3h-3.3zM78 27h3.3v3.3h-3.3zM102 27h3.3v3.3h-3.3zM75 30h3.3v3.3h-3.3zM102 30h3.3v3.3h-3.3zM75 33h3.3v3.3h-3.3zM105 33h3.3v3.3h-3.3zM72 36h3.3v3.3h-3.3zM105 36h3.3v3.3h-3.3zM108 39h3.3v3.3h-3.3zM69 42h3.3v3.3h-3.3zM111 42h3.3v3.3h-3.3zM66 45h3.3v3.3h-3.3zM111 45h3.3v3.3h-3.3zM63 48h3.3v3.3h-3.3zM114 48h3.3v3.3h-3.3zM60 51h3.3v3.3h-3.3zM117 51h3.3v3.3h-3.3zM57 54h3.3v3.3h-3.3zM120 54h3.3v3.3h-3.3zM54 57h3.3v3.3h-3.3zM123 57h3.3v3.3h-3.3zM51 60h3.3v3.3h-3.3zM126 60h3.3v3.3h-3.3zM48 63h3.3v3.3h-3.3zM132 63h3.3v3.3h-3.3zM42 66h6.3v3.3h-6.3zM135 66h3.3v3.3h-3.3zM39 69h3.3v3.3h-3.3zM138 69h6.3v3.3h-6.3zM33 72h3.3v3.3h-3.3zM144 72h6.3v3.3h-6.3zM27 75h6.3v3.3h-6.3zM150 75h3.3v3.3h-3.3zM21 78h6.3v3.3h-6.3zM153 78h6.3v3.3h-6.3zM18 81h6.3v3.3h-6.3zM156 81h6.3v3.3h-6.3zM18 84h6.3v3.3h-6.3zM159 84h6.3v3.3h-6.3zM18 87h6.3v3.3h-6.3zM159 87h6.3v3.3h-6.3zM21 90h6.3v3.3h-6.3zM156 90h6.3v3.3h-6.3zM24 93h6.3v3.3h-6.3zM150 93h6.3v3.3h-6.3zM30 96h6.3v3.3h-6.3zM147 96h3.3v3.3h-3.3zM36 99h3.3v3.3h-3.3zM141 99h6.3v3.3h-6.3zM42 102h3.3v3.3h-3.3zM135 102h6.3v3.3h-6.3zM45 105h3.3v3.3h-3.3zM132 105h3.3v3.3h-3.3zM51 108h3.3v3.3h-3.3zM129 108h3.3v3.3h-3.3zM54 111h3.3v3.3h-3.3zM123 111h6.3v3.3h-6.3zM57 114h3.3v3.3h-3.3zM120 114h3.3v3.3h-3.3zM60 117h3.3v3.3h-3.3zM117 117h3.3v3.3h-3.3zM63 120h3.3v3.3h-3.3zM66 123h3.3v3.3h-3.3zM114 123h3.3v3.3h-3.3zM111 126h3.3v3.3h-3.3zM69 129h3.3v3.3h-3.3zM108 129h3.3v3.3h-3.3zM72 132h3.3v3.3h-3.3zM108 132h3.3v3.3h-3.3zM105 135h3.3v3.3h-3.3zM75 138h3.3v3.3h-3.3zM102 138h3.3v3.3h-3.3zM78 141h3.3v3.3h-3.3zM102 141h3.3v3.3h-3.3zM78 144h3.3v3.3h-3.3zM99 144h3.3v3.3h-3.3zM81 147h3.3v3.3h-3.3zM99 147h3.3v3.3h-3.3zM81 150h6.3v3.3h-6.3zM96 150h3.3v3.3h-3.3zM84 153h12.3v3.3h-12.3zM87 156h9.3v3.3h-9.3z" fill="#b4b7de"/>
<path d="M87 18h6.3v3.3h-6.3zM84 21h12.3v3.3h-12.3zM81 24h6.3v3.3h-6.3zM96 24h3.3v3.3h-3.3zM81 27h3.3v3.3h-3.3zM99 27h3.3v3.3h-3.3zM78 30h3.3v3.3h-3.3zM99 30h3.3v3.3h-3.3zM102 33h3.3v3.3h-3.3zM75 36h3.3v3.3h-3.3zM72 39h3.3v3.3h-3.3zM105 39h3.3v3.3h-3.3zM72 42h3.3v3.3h-3.3zM108 42h3.3v3.3h-3.3zM69 45h3.3v3.3h-3.3zM66 48h3.3v3.3h-3.3zM111 48h3.3v3.3h-3.3zM63 51h3.3v3.3h-3.3zM114 51h3.3v3.3h-3.3zM60 54h3.3v3.3h-3.3zM117 54h3.3v3.3h-3.3zM57 57h3.3v3.3h-3.3zM120 57h3.3v3.3h-3.3zM54 60h3.3v3.3h-3.3zM123 60h3.3v3.3h-3.3zM51 63h3.3v3.3h-3.3zM126 63h6.3v3.3h-6.3zM48 66h3.3v3.3h-3.3zM132 66h3.3v3.3h-3.3zM42 69h3.3v3.3h-3.3zM135 69h3.3v3.3h-3.3zM36 72h6.3v3.3h-6.3zM141 72h3.3v3.3h-3.3zM33 75h3.3v3.3h-3.3zM144 75h6.3v3.3h-6.3zM27 78h6.3v3.3h-6.3zM150 78h3.3v3.3h-3.3zM24 81h6.3v3.3h-6.3zM153 81h3.3v3.3h-3.3zM24 84h3.3v3.3h-3.3zM153 84h6.3v3.3h-6.3zM24 87h6.3v3.3h-6.3zM153 87h6.3v3.3h-6.3zM27 90h3.3v3.3h-3.3zM150 90h6.3v3.3h-6.3zM30 93h6.3v3.3h-6.3zM147 93h3.3v3.3h-3.3zM36 96h3.3v3.3h-3.3zM141 96h6.3v3.3h-6.3zM39 99h6.3v3.3h-6.3zM138 99h3.3v3.3h-3.3zM45 102h3.3v3.3h-3.3zM132 102h3.3v3.3h-3.3zM48 105h6.3v3.3h-6.3zM129 105h3.3v3.3h-3.3zM54 108h3.3v3.3h-3.3zM126 108h3.3v3.3h-3.3zM57 111h3.3v3.3h-3.3zM120 111h3.3v3.3h-3.3zM60 114h3.3v3.3h-3.3zM117 114h3.3v3.3h-3.3zM63 117h3.3v3.3h-3.3zM114 117h3.3v3.3h-3.3zM66 120h3.3v3.3h-3.3zM114 120h3.3v3.3h-3.3zM69 123h3.3v3.3h-3.3zM111 123h3.3v3.3h-3.3zM69 126h3.3v3.3h-3.3zM108 126h3.3v3.3h-3.3zM72 129h3.3v3.3h-3.3zM105 129h3.3v3.3h-3.3zM75 132h3.3v3.3h-3.3zM105 132h3.3v3.3h-3.3zM75 135h3.3v3.3h-3.3zM102 135h3.3v3.3h-3.3zM78 138h3.3v3.3h-3.3zM81 141h3.3v3.3h-3.3zM99 141h3.3v3.3h-3.3zM81 144h3.3v3.3h-3.3zM96 144h3.3v3.3h-3.3zM84 147h6.3v3.3h-6.3zM93 147h6.3v3.3h-6.3zM87 150h9.3v3.3h-9.3z" fill="#abaeda"/>
<path d="M87 24h9.3v3.3h-9.3zM84 27h6.3v3.3h-6.3zM93 27h6.3v3.3h-6.3zM81 30h3.3v3.3h-3.3zM96 30h3.3v3.3h-3.3zM78 33h3.3v3.3h-3.3zM99 33h3.3v3.3h-3.3zM78 36h3.3v3.3h-3.3zM102 36h3.3v3.3h-3.3zM75 39h3.3v3.3h-3.3zM102 39h3.3v3.3h-3.3zM105 42h3.3v3.3h-3.3zM72 45h3.3v3.3h-3.3zM108 45h3.3v3.3h-3.3zM69 48h3.3v3.3h-3.3zM66 51h3.3v3.3h-3.3zM111 51h3.3v3.3h-3.3zM63 54h3.3v3.3h-3.3zM114 54h3.3v3.3h-3.3zM60 57h3.3v3.3h-3.3zM117 57h3.3v3.3h-3.3zM57 60h3.3v3.3h-3.3zM120 60h3.3v3.3h-3.3zM54 63h3.3v3.3h-3.3zM123 63h3.3v3.3h-3.3zM51 66h3.3v3.3h-3.3zM129 66h3.3v3.3h-3.3zM45 69h6.3v3.3h-6.3zM132 69h3.3v3.3h-3.3zM42 72h3.3v3.3h-3.3zM135 72h6.3v3.3h-6.3zM36 75h6.3v3.3h-6.3zM141 75h3.3v3.3h-3.3zM33 78h3.3v3.3h-3.3zM144 78h6.3v3.3h-6.3zM30 81h3.3v3.3h-3.3zM147 81h6.3v3.3h-6.3zM27 84h6.3v3.3h-6.3zM150 84h3.3v3.3h-3.3zM30 87h3.3v3.3h-3.3zM147 87h6.3v3.3h-6.3zM30 90h6.3v3.3h-6.3zM147 90h3.3v3.3h-3.3zM36 93h3.3v3.3h-3.3zM141 93h6.3v3.3h-6.3zM39 96h6.3v3.3h-6.3zM138 96h3.3v3.3h-3.3zM45 99h3.3v3.3h-3.3zM132 99h6.3v3.3h-6.3zM48 102h3.3v3.3h-3.3zM129 102h3.3v3.3h-3.3zM54 105h3.3v3.3h-3.3zM126 105h3.3v3.3h-3.3zM57 108h3.3v3.3h-3.3zM123 108h3.3v3.3h-3.3zM60 111h3.3v3.3h-3.3zM117 111h3.3v3.3h-3.3zM63 114h3.3v3.3h-3.3zM114 114h3.3v3.3h-3.3zM66 117h3.3v3.3h-3.3zM69 120h3.3v3.3h-3.3zM111 120h3.3v3.3h-3.3zM108 123h3.3v3.3h-3.3zM72 126h3.3v3.3h-3.3zM105 126h3.3v3.3h-3.3zM75 129h3.3v3.3h-3.3zM78 132h3.3v3.3h-3.3zM102 132h3.3v3.3h-3.3zM78 135h3.3v3.3h-3.3zM99 135h3.3v3.3h-3.3zM81 138h3.3v3.3h-3.3zM96 138h6.3v3.3h-6.3zM84 141h3.3v3.3h-3.3zM93 141h6.3v3.3h-6.3zM84 144h12.3v3.3h-12.3zM90 147h3.3v3.3h-3.3z" fill="#a2a5d6"/>
<path d="M90 27h3.3v3.3h-3.3zM84 30h12.3v3.3h-12.3zM81 33h6.3v3.3h-6.3zM96 33h3.3v3.3h-3.3zM81 36h3.3v3.3h-3.3zM99 36h3.3v3.3h-3.3zM78 39h3.3v3.3h-3.3zM99 39h3.3v3.3h-3.3zM75 42h3.3v3.3h-3.3zM102 42h3.3v3.3h-3.3zM75 45h3.3v3.3h-3.3zM105 45h3.3v3.3h-3.3zM72 48h3.3v3.3h-3.3zM108 48h3.3v3.3h-3.3zM69 51h3.3v3.3h-3.3zM108 51h3.3v3.3h-3.3zM66 54h3.3v3.3h-3.3zM111 54h3.3v3.3h-3.3zM63 57h3.3v3.3h-3.3zM114 57h3.3v3.3h-3.3zM60 60h3.3v3.3h-3.3zM117 60h3.3v3.3h-3.3zM57 63h3.3v3.3h-3.3zM120 63h3.3v3.3h-3.3zM54 66h3.3v3.3h-3.3zM123 66h6.3v3.3h-6.3zM51 69h3.3v3.3h-3.3zM129 69h3.3v3.3h-3.3zM45 72h3.3v3.3h-3.3zM132 72h3.3v3.3h-3.3zM42 75h3.3v3.3h-3.3zM135 75h6.3v3.3h-6.3zM36 78h6.3v3.3h-6.3zM141 78h3.3v3.3h-3.3zM33 81h6.3v3.3h-6.3zM144 81h3.3v3.3h-3.3zM33 84h3.3v3.3h-3.3zM144 84h6.3v3.3h-6.3zM33 87h6.3v3.3h-6.3zM144 87h3.3v3.3h-3.3zM36 90h3.3v3.3h-3.3zM141 90h6.3v3.3h-6.3zM39 93h6.3v3.3h-6.3zM138 93h3.3v3.3h-3.3zM45 96h3.3v3.3h-3.3zM135 96h3.3v3.3h-3.3zM48 99h3.3v3.3h-3.3zM129 99h3.3v3.3h-3.3zM51 102h6.3v3.3h-6.3zM126 102h3.3v3.3h-3.3zM57 105h3.3v3.3h-3.3zM123 105h3.3v3.3h-3.3zM60 108h3.3v3.3h-3.3zM120 108h3.3v3.3h-3.3zM63 111h3.3v3.3h-3.3zM66 114h3.3v3.3h-3.3zM69 117h3.3v3.3h-3.3zM111 117h3.3v3.3h-3.3zM72 120h3.3v3.3h-3.3zM108 120h3.3v3.3h-3.3zM72 123h3.3v3.3h-3.3zM105 123h3.3v3.3h-3.3zM75 126h3.3v3.3h-3.3zM102 126h3.3v3.3h-3.3zM78 129h3.3v3.3h-3.3zM102 129h3.3v3.3h-3.3zM81 132h3.3v3.3h-3.3zM99 132h3.3v3.3h-3.3zM81 135h3.3v3.3h-3.3zM96 135h3.3v3.3h-3.3zM84 138h12.3v3.3h-12.3zM87 141h6.3v3.3h-6.3z" fill="#999cd1"/>
<path d="M87 33h9.3v3.3h-9.3zM84 36h3.3v3.3h-3.3zM93 36h6.3v3.3h-6.3zM81 39h3.3v3.3h-3.3zM96 39h3.3v3.3h-3.3zM78 42h3.3v3.3h-3.3zM99 42h3.3v3.3h-3.3zM102 45h3.3v3.3h-3.3zM75 48h3.3v3.3h-3.3zM105 48h3.3v3.3h-3.3zM72 51h3.3v3.3h-3.3zM69 54h3.3v3.3h-3.3zM108 54h3.3v3.3h-3.3zM66 57h3.3v3.3h-3.3zM111 57h3.3v3.3h-3.3zM63 60h3.3v3.3h-3.3zM114 60h3.3v3.3h-3.3zM60 63h3.3v3.3h-3.3zM117 63h3.3v3.3h-3.3zM57 66h3.3v3.3h-3.3zM120 66h3.3v3.3h-3.3zM54 69h3.3v3.3h-3.3zM126 69h3.3v3.3h-3.3zM48 72h6.3v3.3h-6.3zM129 72h3.3v3.3h-3.3zM45 75h3.3v3.3h-3.3zM132 75h3.3v3.3h-3.3zM42 78h3.3v3.3h-3.3zM135 78h6.3v3.3h-6.3zM39 81h3.3v3.3h-3.3zM138 81h6.3v3.3h-6.3zM36 84h6.3v3.3h-6.3zM141 84h3.3v3.3h-3.3zM39 87h3.3v3.3h-3.3zM138 87h6.3v3.3h-6.3zM39 90h6.3v3.3h-6.3zM138 90h3.3v3.3h-3.3zM45 93h3.3v3.3h-3.3zM135 93h3.3v3.3h-3.3zM48 96h3.3v3.3h-3.3zM129 96h6.3v3.3h-6.3zM51 99h3.3v3.3h-3.3zM126 99h3.3v3.3h-3.3zM57 102h3.3v3.3h-3.3zM123 102h3.3v3.3h-3.3zM60 105h3.3v3.3h-3.3zM120 105h3.3v3.3h-3.3zM63 108h3.3v3.3h-3.3zM117 108h3.3v3.3h-3.3zM66 111h3.3v3.3h-3.3zM114 111h3.3v3.3h-3.3zM69 114h3.3v3.3h-3.3zM111 114h3.3v3.3h-3.3zM72 117h3.3v3.3h-3.3zM108 117h3.3v3.3h-3.3zM105 120h3.3v3.3h-3.3zM75 123h3.3v3.3h-3.3zM102 123h3.3v3.3h-3.3zM78 126h3.3v3.3h-3.3zM81 129h3.3v3.3h-3.3zM99 129h3.3v3.3h-3.3zM84 132h3.3v3.3h-3.3zM96 132h3.3v3.3h-3.3zM84 135h12.3v3.3h-12.3z" fill="#9093cd"/>
<path d="M87 36h6.3v3.3h-6.3zM84 39h12.3v3.3h-12.3zM81 42h3.3v3.3h-3.3zM96 42h3.3v3.3h-3.3zM78 45h3.3v3.3h-3.3zM99 45h3.3v3.3h-3.3zM78 48h3.3v3.3h-3.3zM102 48h3.3v3.3h-3.3zM75 51h3.3v3.3h-3.3zM105 51h3.3v3.3h-3.3zM72 54h3.3v3.3h-3.3zM69 57h3.3v3.3h-3.3zM108 57h3.3v3.3h-3.3zM66 60h3.3v3.3h-3.3zM111 60h3.3v3.3h-3.3zM63 63h3.3v3.3h-3.3zM114 63h3.3v3.3h-3.3zM60 66h3.3v3.3h-3.3zM117 66h3.3v3.3h-3.3zM57 69h3.3v3.3h-3.3zM123 69h3.3v3.3h-3.3zM54 72h3.3v3.3h-3.3zM126 72h3.3v3.3h-3.3zM48 75h3.3v3.3h-3.3zM129 75h3.3v3.3h-3.3zM45 78h3.3v3.3h-3.3zM132 78h3.3v3.3h-3.3zM42 81h6.3v3.3h-6.3zM135 81h3.3v3.3h-3.3zM42 84h3.3v3.3h-3.3zM135 84h6.3v3.3h-6.3zM42 87h3.3v3.3h-3.3zM135 87h3.3v3.3h-3.3zM45 90h3.3v3.3h-3.3zM132 90h6.3v3.3h-6.3zM48 93h3.3v3.3h-3.3zM129 93h6.3v3.3h-6.3zM51 96h3.3v3.3h-3.3zM126 96h3.3v3.3h-3.3zM54 99h3.3v3.3h-3.3zM123 99h3.3v3.3h-3.3zM60 102h3.3v3.3h-3.3zM120 102h3.3v3.3h-3.3zM63 105h3.3v3.3h-3.3zM117 105h3.3v3.3h-3.3zM66 108h3.3v3.3h-3.3zM114 108h3.3v3.3h-3.3zM69 111h3.3v3.3h-3.3zM111 111h3.3v3.3h-3.3zM72 114h3.3v3.3h-3.3zM108 114h3.3v3.3h-3.3zM105 117h3.3v3.3h-3.3zM75 120h3.3v3.3h-3.3zM102 120h3.3v3.3h-3.3zM78 123h3.3v3.3h-3.3zM99 123h3.3v3.3h-3.3zM81 126h3.3v3.3h-3.3zM96 126h6.3v3.3h-6.3zM84 129h3.3v3.3h-3.3zM93 129h6.3v3.3h-6.3zM87 132h9.3v3.3h-9.3z" fill="#868ac8"/>
<path d="M84 42h12.3v3.3h-12.3zM81 45h6.3v3.3h-6.3zM96 45h3.3v3.3h-3.3zM81 48h3.3v3.3h-3.3zM99 48h3.3v3.3h-3.3zM78 51h3.3v3.3h-3.3zM102 51h3.3v3.3h-3.3zM75 54h3.3v3.3h-3.3zM105 54h3.3v3.3h-3.3zM72 57h3.3v3.3h-3.3zM69 60h3.3v3.3h-3.3zM66 63h3.3v3.3h-3.3zM111 63h3.3v3.3h-3.3zM63 66h3.3v3.3h-3.3zM60 69h3.3v3.3h-3.3zM120 69h3.3v3.3h-3.3zM57 72h3.3v3.3h-3.3zM123 72h3.3v3.3h-3.3zM51 75h6.3v3.3h-6.3zM126 75h3.3v3.3h-3.3zM48 78h6.3v3.3h-6.3zM129 78h3.3v3.3h-3.3zM48 81h3.3v3.3h-3.3zM132 81h3.3v3.3h-3.3zM45 84h3.3v3.3h-3.3zM132 84h3.3v3.3h-3.3zM45 87h6.3v3.3h-6.3zM132 87h3.3v3.3h-3.3zM48 90h3.3v3.3h-3.3zM129 90h3.3v3.3h-3.3zM51 93h3.3v3.3h-3.3zM126 93h3.3v3.3h-3.3zM54 96h3.3v3.3h-3.3zM123 96h3.3v3.3h-3.3zM57 99h3.3v3.3h-3.3zM120 99h3.3v3.3h-3.3zM63 102h3.3v3.3h-3.3zM117 102h3.3v3.3h-3.3zM66 105h3.3v3.3h-3.3zM114 105h3.3v3.3h-3.3zM69 108h3.3v3.3h-3.3zM111 108h3.3v3.3h-3.3zM72 111h3.3v3.3h-3.3zM108 111h3.3v3.3h-3.3zM105 114h3.3v3.3h-3.3zM75 117h3.3v3.3h-3.3zM102 117h3.3v3.3h-3.3zM78 120h3.3v3.3h-3.3zM99 120h3.3v3.3h-3.3zM81 123h3.3v3.3h-3.3zM96 123h3.3v3.3h-3.3zM84 126h12.3v3.3h-12.3zM87 129h6.3v3.3h-6.3z" fill="#7d80c4"/>
<path d="M87 45h9.3v3.3h-9.3zM84 48h3.3v3.3h-3.3zM96 48h3.3v3.3h-3.3zM81 51h3.3v3.3h-3.3zM99 51h3.3v3.3h-3.3zM78 54h3.3v3.3h-3.3zM102 54h3.3v3.3h-3.3zM75 57h3.3v3.3h-3.3zM105 57h3.3v3.3h-3.3zM72 60h3.3v3.3h-3.3zM108 60h3.3v3.3h-3.3zM69 63h3.3v3.3h-3.3zM66 66h3.3v3.3h-3.3zM114 66h3.3v3.3h-3.3zM63 69h3.3v3.3h-3.3zM117 69h3.3v3.3h-3.3zM60 72h3.3v3.3h-3.3zM120 72h3.3v3.3h-3.3zM57 75h3.3v3.3h-3.3zM123 75h3.3v3.3h-3.3zM54 78h3.3v3.3h-3.3zM126 78h3.3v3.3h-3.3zM51 81h3.3v3.3h-3.3zM129 81h3.3v3.3h-3.3zM48 84h6.3v3.3h-6.3zM129 84h3.3v3.3h-3.3zM51 87h3.3v3.3h-3.3zM129 87h3.3v3.3h-3.3zM51 90h3.3v3.3h-3.3zM126 90h3.3v3.3h-3.3zM54 93h3.3v3.3h-3.3zM123 93h3.3v3.3h-3.3zM57 96h3.3v3.3h-3.3zM120 96h3.3v3.3h-3.3zM60 99h3.3v3.3h-3.3zM117 99h3.3v3.3h-3.3zM114 102h3.3v3.3h-3.3zM69 105h3.3v3.3h-3.3zM111 105h3.3v3.3h-3.3zM108 108h3.3v3.3h-3.3zM105 111h3.3v3.3h-3.3zM75 114h3.3v3.3h-3.3zM102 114h3.3v3.3h-3.3zM78 117h3.3v3.3h-3.3zM99 117h3.3v3.3h-3.3zM81 120h3.3v3.3h-3.3zM96 120h3.3v3.3h-3.3zM84 123h12.3v3.3h-12.3z" fill="#7477c0"/>
<path d="M87 48h9.3v3.3h-9.3zM96 51h3.3v3.3h-3.3zM99 54h3.3v3.3h-3.3zM102 57h3.3v3.3h-3.3zM105 60h3.3v3.3h-3.3zM108 63h3.3v3.3h-3.3zM111 66h3.3v3.3h-3.3zM114 69h3.3v3.3h-3.3zM117 72h3.3v3.3h-3.3zM120 75h3.3v3.3h-3.3zM123 78h3.3v3.3h-3.3zM54 81h3.3v3.3h-3.3zM126 81h3.3v3.3h-3.3zM126 84h3.3v3.3h-3.3zM54 87h3.3v3.3h-3.3zM126 87h3.3v3.3h-3.3zM54 90h3.3v3.3h-3.3zM123 90h3.3v3.3h-3.3zM57 93h3.3v3.3h-3.3zM60 96h3.3v3.3h-3.3zM63 99h3.3v3.3h-3.3zM114 99h3.3v3.3h-3.3zM66 102h3.3v3.3h-3.3zM111 102h3.3v3.3h-3.3zM108 105h3.3v3.3h-3.3zM72 108h3.3v3.3h-3.3zM105 108h3.3v3.3h-3.3zM75 111h3.3v3.3h-3.3zM102 111h3.3v3.3h-3.3zM78 114h3.3v3.3h-3.3zM81 117h3.3v3.3h-3.3zM96 117h3.3v3.3h-3.3zM84 120h6.3v3.3h-6.3zM93 120h3.3v3.3h-3.3z" fill="#6a6ebb"/>
<path d="M84 51h3.3v3.3h-3.3zM81 54h3.3v3.3h-3.3zM78 57h3.3v3.3h-3.3zM75 60h3.3v3.3h-3.3zM72 63h3.3v3.3h-3.3zM69 66h3.3v3.3h-3.3zM66 69h3.3v3.3h-3.3zM63 72h3.3v3.3h-3.3zM60 75h3.3v3.3h-3.3zM57 78h3.3v3.3h-3.3zM123 81h3.3v3.3h-3.3zM54 84h3.3v3.3h-3.3zM120 93h3.3v3.3h-3.3zM117 96h3.3v3.3h-3.3zM99 114h3.3v3.3h-3.3zM90 120h3.3v3.3h-3.3z" fill="#6c6fbb"/>
<path d="M87 51h9.3v3.3h-9.3zM96 54h3.3v3.3h-3.3zM108 66h3.3v3.3h-3.3zM120 78h3.3v3.3h-3.3zM123 84h3.3v3.3h-3.3zM123 87h3.3v3.3h-3.3zM57 90h3.3v3.3h-3.3zM60 93h3.3v3.3h-3.3zM63 96h3.3v3.3h-3.3zM66 99h3.3v3.3h-3.3zM69 102h3.3v3.3h-3.3zM72 105h3.3v3.3h-3.3zM75 108h3.3v3.3h-3.3zM78 111h3.3v3.3h-3.3zM81 114h3.3v3.3h-3.3zM84 117h3.3v3.3h-3.3zM93 117h3.3v3.3h-3.3z" fill="#6e70bb"/>
<path d="M84 54h3.3v3.3h-3.3zM93 54h3.3v3.3h-3.3zM81 57h3.3v3.3h-3.3zM78 60h3.3v3.3h-3.3zM75 63h3.3v3.3h-3.3zM72 66h3.3v3.3h-3.3zM69 69h3.3v3.3h-3.3zM66 72h3.3v3.3h-3.3zM63 75h3.3v3.3h-3.3zM60 78h3.3v3.3h-3.3zM120 81h3.3v3.3h-3.3zM57 84h3.3v3.3h-3.3zM117 93h3.3v3.3h-3.3zM114 96h3.3v3.3h-3.3zM111 99h3.3v3.3h-3.3zM108 102h3.3v3.3h-3.3zM105 105h3.3v3.3h-3.3zM102 108h3.3v3.3h-3.3zM99 111h3.3v3.3h-3.3z" fill="#7272bb"/>
<path d="M87 54h6.3v3.3h-6.3zM120 84h3.3v3.3h-3.3zM120 87h3.3v3.3h-3.3zM60 90h3.3v3.3h-3.3zM63 93h3.3v3.3h-3.3zM81 111h3.3v3.3h-3.3zM84 114h3.3v3.3h-3.3z" fill="#7473bb"/>
<path d="M84 57h3.3v3.3h-3.3zM63 78h3.3v3.3h-3.3zM117 81h3.3v3.3h-3.3zM60 84h3.3v3.3h-3.3zM114 93h3.3v3.3h-3.3zM111 96h3.3v3.3h-3.3zM108 99h3.3v3.3h-3.3zM105 102h3.3v3.3h-3.3zM102 105h3.3v3.3h-3.3zM99 108h3.3v3.3h-3.3zM96 111h3.3v3.3h-3.3zM90 114h3.3v3.3h-3.3z" fill="#7875bb"/>
<path d="M87 57h3.3v3.3h-3.3zM93 57h3.3v3.3h-3.3zM81 60h3.3v3.3h-3.3zM78 63h3.3v3.3h-3.3zM75 66h3.3v3.3h-3.3zM72 69h3.3v3.3h-3.3zM69 72h3.3v3.3h-3.3zM66 75h3.3v3.3h-3.3zM117 84h3.3v3.3h-3.3zM117 87h3.3v3.3h-3.3zM63 90h3.3v3.3h-3.3zM84 111h3.3v3.3h-3.3z" fill="#7a76bb"/>
<path d="M90 57h3.3v3.3h-3.3zM96 60h3.3v3.3h-3.3zM99 63h3.3v3.3h-3.3zM111 75h3.3v3.3h-3.3zM114 78h3.3v3.3h-3.3zM63 81h3.3v3.3h-3.3zM66 93h3.3v3.3h-3.3zM69 96h3.3v3.3h-3.3zM72 99h3.3v3.3h-3.3zM75 102h3.3v3.3h-3.3zM78 105h3.3v3.3h-3.3zM81 108h3.3v3.3h-3.3zM87 111h3.3v3.3h-3.3zM93 111h3.3v3.3h-3.3z" fill="#7c77bb"/>
<path d="M96 57h3.3v3.3h-3.3zM99 60h3.3v3.3h-3.3zM102 63h3.3v3.3h-3.3zM105 66h3.3v3.3h-3.3zM108 69h3.3v3.3h-3.3zM111 72h3.3v3.3h-3.3zM114 75h3.3v3.3h-3.3zM117 78h3.3v3.3h-3.3zM60 81h3.3v3.3h-3.3zM60 87h3.3v3.3h-3.3zM117 90h3.3v3.3h-3.3zM66 96h3.3v3.3h-3.3zM69 99h3.3v3.3h-3.3zM72 102h3.3v3.3h-3.3zM75 105h3.3v3.3h-3.3zM78 108h3.3v3.3h-3.3zM87 114h3.3v3.3h-3.3zM93 114h3.3v3.3h-3.3z" fill="#7674bb"/>
<path d="M99 57h3.3v3.3h-3.3zM102 60h3.3v3.3h-3.3zM105 63h3.3v3.3h-3.3zM111 69h3.3v3.3h-3.3zM114 72h3.3v3.3h-3.3zM117 75h3.3v3.3h-3.3zM57 81h3.3v3.3h-3.3zM57 87h3.3v3.3h-3.3zM120 90h3.3v3.3h-3.3zM96 114h3.3v3.3h-3.3zM87 117h6.3v3.3h-6.3z" fill="#7071bb"/>
<path d="M84 60h3.3v3.3h-3.3zM102 66h3.3v3.3h-3.3zM105 69h3.3v3.3h-3.3zM108 72h3.3v3.3h-3.3zM63 84h3.3v3.3h-3.3zM63 87h3.3v3.3h-3.3zM114 90h3.3v3.3h-3.3zM111 93h3.3v3.3h-3.3zM96 108h3.3v3.3h-3.3zM90 111h3.3v3.3h-3.3z" fill="#7f78ba"/>
<path d="M87 60h6.3v3.3h-6.3zM96 63h3.3v3.3h-3.3zM78 66h3.3v3.3h-3.3zM75 69h3.3v3.3h-3.3zM72 72h3.3v3.3h-3.3zM111 78h3.3v3.3h-3.3zM114 84h3.3v3.3h-3.3zM69 93h3.3v3.3h-3.3zM81 105h3.3v3.3h-3.3zM93 108h3.3v3.3h-3.3z" fill="#847aba"/>
<path d="M93 60h3.3v3.3h-3.3zM81 63h3.3v3.3h-3.3zM69 75h3.3v3.3h-3.3zM66 78h3.3v3.3h-3.3zM114 81h3.3v3.3h-3.3zM114 87h3.3v3.3h-3.3zM66 90h3.3v3.3h-3.3zM108 96h3.3v3.3h-3.3zM105 99h3.3v3.3h-3.3zM102 102h3.3v3.3h-3.3zM99 105h3.3v3.3h-3.3zM84 108h3.3v3.3h-3.3z" fill="#8279ba"/>
<path d="M84 63h3.3v3.3h-3.3zM93 63h3.3v3.3h-3.3zM69 78h3.3v3.3h-3.3zM111 81h3.3v3.3h-3.3zM108 93h3.3v3.3h-3.3zM105 96h3.3v3.3h-3.3zM99 102h3.3v3.3h-3.3zM96 105h3.3v3.3h-3.3z" fill="#897bb9"/>
<path d="M87 63h6.3v3.3h-6.3zM81 66h3.3v3.3h-3.3zM78 69h3.3v3.3h-3.3zM75 72h3.3v3.3h-3.3zM72 75h3.3v3.3h-3.3zM111 84h3.3v3.3h-3.3zM111 87h3.3v3.3h-3.3zM69 90h3.3v3.3h-3.3zM102 99h3.3v3.3h-3.3zM84 105h3.3v3.3h-3.3z" fill="#8c7cb8"/>
<path d="M84 66h3.3v3.3h-3.3zM102 72h3.3v3.3h-3.3zM69 84h3.3v3.3h-3.3zM96 102h3.3v3.3h-3.3z" fill="#967fb6"/>
<path d="M87 66h6.3v3.3h-6.3zM78 72h3.3v3.3h-3.3zM75 75h3.3v3.3h-3.3zM108 84h3.3v3.3h-3.3z" fill="#a281b4"/>
<path d="M93 66h3.3v3.3h-3.3zM81 69h3.3v3.3h-3.3zM108 87h3.3v3.3h-3.3zM72 90h3.3v3.3h-3.3zM102 96h3.3v3.3h-3.3zM84 102h3.3v3.3h-3.3z" fill="#9e80b4"/>
<path d="M96 66h3.3v3.3h-3.3zM108 78h3.3v3.3h-3.3zM69 81h3.3v3.3h-3.3zM72 93h3.3v3.3h-3.3zM81 102h3.3v3.3h-3.3zM93 105h3.3v3.3h-3.3z" fill="#8e7db8"/>
<path d="M99 66h3.3v3.3h-3.3zM102 69h3.3v3.3h-3.3zM105 72h3.3v3.3h-3.3zM108 75h3.3v3.3h-3.3zM66 81h3.3v3.3h-3.3zM66 84h3.3v3.3h-3.3zM66 87h3.3v3.3h-3.3zM111 90h3.3v3.3h-3.3zM72 96h3.3v3.3h-3.3zM75 99h3.3v3.3h-3.3zM78 102h3.3v3.3h-3.3zM87 108h6.3v3.3h-6.3z" fill="#867ab9"/>
<path d="M84 69h3.3v3.3h-3.3zM99 72h3.3v3.3h-3.3zM72 84h3.3v3.3h-3.3zM96 99h3.3v3.3h-3.3z" fill="#ae84b1"/>
<path d="M87 69h3.3v3.3h-3.3zM78 75h3.3v3.3h-3.3zM105 84h3.3v3.3h-3.3zM75 90h3.3v3.3h-3.3zM84 99h3.3v3.3h-3.3z" fill="#bd88ae"/>
<path d="M90 69h3.3v3.3h-3.3zM102 78h3.3v3.3h-3.3zM78 93h3.3v3.3h-3.3zM81 96h3.3v3.3h-3.3zM93 99h3.3v3.3h-3.3z" fill="#c28aae"/>
<path d="M93 69h3.3v3.3h-3.3zM81 72h3.3v3.3h-3.3zM105 81h3.3v3.3h-3.3zM105 87h3.3v3.3h-3.3zM99 96h3.3v3.3h-3.3z" fill="#b887af"/>
<path d="M96 69h3.3v3.3h-3.3zM105 78h3.3v3.3h-3.3zM75 93h3.3v3.3h-3.3zM81 99h3.3v3.3h-3.3zM93 102h3.3v3.3h-3.3z" fill="#a682b3"/>
<path d="M99 69h3.3v3.3h-3.3zM105 75h3.3v3.3h-3.3zM69 87h3.3v3.3h-3.3zM108 90h3.3v3.3h-3.3zM75 96h3.3v3.3h-3.3zM78 99h3.3v3.3h-3.3zM87 105h6.3v3.3h-6.3z" fill="#927eb7"/>
<path d="M84 72h3.3v3.3h-3.3zM99 93h3.3v3.3h-3.3zM96 96h3.3v3.3h-3.3z" fill="#d18eab"/>
<path d="M87 72h3.3v3.3h-3.3zM102 84h3.3v3.3h-3.3zM78 90h3.3v3.3h-3.3z" fill="#dc94a8"/>
<path d="M90 72h3.3v3.3h-3.3zM81 93h3.3v3.3h-3.3z" fill="#df95a6"/>
<path d="M93 72h3.3v3.3h-3.3zM81 75h3.3v3.3h-3.3zM78 78h3.3v3.3h-3.3zM102 81h3.3v3.3h-3.3z" fill="#d690aa"/>
<path d="M96 72h3.3v3.3h-3.3zM99 75h3.3v3.3h-3.3zM75 81h3.3v3.3h-3.3zM87 99h3.3v3.3h-3.3z" fill="#c78cad"/>
<path d="M84 75h3.3v3.3h-3.3zM78 84h3.3v3.3h-3.3z" fill="#ee9ea0"/>
<path d="M87 75h3.3v3.3h-3.3zM96 78h3.3v3.3h-3.3zM99 84h3.3v3.3h-3.3z" fill="#f2a38c"/>
<path d="M90 75h3.3v3.3h-3.3zM93 93h3.3v3.3h-3.3z" fill="#f3a488"/>
<path d="M93 75h3.3v3.3h-3.3zM99 87h3.3v3.3h-3.3zM81 90h3.3v3.3h-3.3zM84 93h3.3v3.3h-3.3z" fill="#f1a194"/>
<path d="M96 75h3.3v3.3h-3.3zM99 78h3.3v3.3h-3.3zM93 96h3.3v3.3h-3.3z" fill="#e297a5"/>
<path d="M102 75h3.3v3.3h-3.3zM72 81h3.3v3.3h-3.3zM72 87h3.3v3.3h-3.3zM105 90h3.3v3.3h-3.3zM78 96h3.3v3.3h-3.3zM87 102h6.3v3.3h-6.3z" fill="#aa83b2"/>
<path d="M72 78h3.3v3.3h-3.3zM108 81h3.3v3.3h-3.3zM105 93h3.3v3.3h-3.3zM99 99h3.3v3.3h-3.3z" fill="#9a80b5"/>
<path d="M75 78h3.3v3.3h-3.3zM102 93h3.3v3.3h-3.3z" fill="#b386b0"/>
<path d="M81 78h3.3v3.3h-3.3z" fill="#ef9f9c"/>
<path d="M84 78h3.3v3.3h-3.3zM90 93h3.3v3.3h-3.3z" fill="#f5a77e"/>
<path d="M87 78h3.3v3.3h-3.3zM96 84h3.3v3.3h-3.3zM93 90h3.3v3.3h-3.3z" fill="#f6ae74"/>
<path d="M90 78h3.3v3.3h-3.3zM84 81h3.3v3.3h-3.3z" fill="#f7af72"/>
<path d="M93 78h3.3v3.3h-3.3zM96 81h3.3v3.3h-3.3zM84 90h3.3v3.3h-3.3z" fill="#f6aa7a"/>
<path d="M78 81h3.3v3.3h-3.3z" fill="#e599a4"/>
<path d="M81 81h3.3v3.3h-3.3zM96 90h3.3v3.3h-3.3z" fill="#f4a584"/>
<path d="M87 81h3.3v3.3h-3.3z" fill="#f8b56d"/>
<path d="M90 81h3.3v3.3h-3.3zM93 84h3.3v3.3h-3.3zM87 87h3.3v3.3h-3.3z" fill="#f8b66c"/>
<path d="M93 81h3.3v3.3h-3.3zM84 84h3.3v3.3h-3.3z" fill="#f8b26e"/>
<path d="M99 81h3.3v3.3h-3.3z" fill="#f0a098"/>
<path d="M75 84h3.3v3.3h-3.3zM75 87h3.3v3.3h-3.3zM102 90h3.3v3.3h-3.3zM90 99h3.3v3.3h-3.3z" fill="#cc8dac"/>
<path d="M81 84h3.3v3.3h-3.3z" fill="#f6a87c"/>
<path d="M87 84h3.3v3.3h-3.3z" fill="#f9b96b"/>
<path d="M90 84h3.3v3.3h-3.3z" fill="#f9ba6a"/>
<path d="M78 87h3.3v3.3h-3.3zM96 93h3.3v3.3h-3.3zM90 96h3.3v3.3h-3.3z" fill="#eb9ca1"/>
<path d="M81 87h3.3v3.3h-3.3zM87 93h3.3v3.3h-3.3z" fill="#f5a680"/>
<path d="M84 87h3.3v3.3h-3.3zM87 90h3.3v3.3h-3.3z" fill="#f7b070"/>
<path d="M90 87h3.3v3.3h-3.3z" fill="#f8b86c"/>
<path d="M93 87h3.3v3.3h-3.3z" fill="#f8b46e"/>
<path d="M96 87h3.3v3.3h-3.3z" fill="#f6ab78"/>
<path d="M102 87h3.3v3.3h-3.3zM84 96h3.3v3.3h-3.3z" fill="#d992a9"/>
<path d="M90 90h3.3v3.3h-3.3z" fill="#f7b16f"/>
<path d="M99 90h3.3v3.3h-3.3zM87 96h3.3v3.3h-3.3z" fill="#e89aa2"/>
</g>
<path d="M299.6 761.3L300.6 760.9L301.1 760.7L302.1 760.3L302.6 760.1L303.5 759.8L304.1 759.5L304.7 759.3L305.6 758.9L306.1 758.7L307.1 758.3L307.6 758.1L308.3 757.8L309.1 757.5L309.6 757.2L310.6 756.8L311.1 756.6L311.7 756.3L312.6 755.9L313.1 755.6L313.8 755.3L314.6 754.9L315.1 754.7L315.9 754.3L316.6 753.9L317.1 753.7L317.9 753.3L318.6 752.9L319.1 752.7L319.8 752.3L320.6 751.9L321.1 751.6L321.6 751.3L322.5 750.8L323.1 750.4L323.6 750.1L324.2 749.8L325.0 749.3L325.6 748.9L326.1 748.6L326.6 748.3L327.4 747.8L328.1 747.4L328.6 747.0L329.1 746.7L329.7 746.3L330.4 745.8L331.1 745.3L331.6 744.9L332.1 744.6L332.6 744.2L333.1 743.8L333.8 743.3L334.4 742.8L335.1 742.3L335.6 741.9L336.1 741.5L336.6 741.0L337.1 740.6L337.6 740.2L338.1 739.8L338.6 739.3L339.2 738.8L339.7 738.3L340.2 737.8L340.8 737.3L341.3 736.8L341.8 736.3L342.3 735.8L342.8 735.3L343.3 734.8L343.7 734.3L344.2 733.8L344.7 733.3L345.1 732.8L345.6 732.3L346.1 731.7L346.6 731.1L347.1 730.5L347.6 729.9L348.1 729.3L348.5 728.8L348.9 728.3L349.3 727.8L349.7 727.3L350.1 726.7L350.6 726.1L351.1 725.4L351.5 724.8L351.9 724.3L352.2 723.8L352.6 723.2L353.1 722.5L353.5 721.8L353.9 721.3L354.2 720.8L354.6 720.2L355.1 719.4L355.4 718.8L355.7 718.3L356.1 717.7L356.6 716.8L356.9 716.3L357.2 715.8L357.6 715.1L358.0 714.3L358.3 713.8L358.6 713.2L359.1 712.3L359.3 711.8L359.6 711.3L360.1 710.3L360.3 709.8L360.6 709.3L361.1 708.3L361.3 707.8L361.6 707.2L362.0 706.3L362.2 705.8L362.6 705.0L362.9 704.3L363.1 703.8L363.6 702.8L363.8 702.3L364.1 701.6L364.4 700.8L364.6 700.3L365.1 699.3L365.3 698.8" fill="none" stroke="#c9cae3" stroke-width="2.6" stroke-linejoin="round"/>
<path d="M407.1 698.3L407.5 699.3L407.8 699.8L408.1 700.6L408.4 701.3L408.6 701.8L409.0 702.8L409.2 703.3L409.6 704.1L409.9 704.8L410.1 705.3L410.6 706.3L410.8 706.8L411.1 707.4L411.5 708.3L411.8 708.8L412.1 709.5L412.5 710.3L412.8 710.8L413.1 711.5L413.5 712.3L413.8 712.8L414.1 713.4L414.6 714.3L414.9 714.8L415.1 715.3L415.6 716.1L416.0 716.8L416.3 717.3L416.6 717.9L417.1 718.7L417.5 719.3L417.8 719.8L418.1 720.3L418.6 721.1L419.1 721.8L419.4 722.3L419.7 722.8L420.1 723.4L420.6 724.1L421.1 724.8L421.4 725.3L421.8 725.8L422.2 726.3L422.6 726.9L423.1 727.5L423.6 728.2L424.1 728.8L424.5 729.3L424.9 729.8L425.3 730.3L425.7 730.8L426.2 731.3L426.6 731.8L427.1 732.4L427.6 732.9L428.1 733.5L428.6 734.0L429.1 734.6L429.6 735.1L430.1 735.6L430.6 736.1L431.1 736.6L431.6 737.1L432.1 737.6L432.6 738.0L433.1 738.5L433.6 739.0L434.1 739.4L434.6 739.8L435.1 740.3L435.7 740.8L436.3 741.3L436.9 741.8L437.5 742.3L438.1 742.7L438.6 743.1L439.1 743.5L439.6 743.9L440.1 744.3L440.8 744.8L441.5 745.3L442.1 745.7L442.6 746.1L443.1 746.4L443.7 746.8L444.4 747.3L445.1 747.7L445.6 748.1L446.1 748.4L446.8 748.8L447.6 749.3L448.1 749.6L448.6 749.9L449.3 750.3L450.1 750.8L450.6 751.1L451.1 751.4L451.9 751.8L452.6 752.2L453.1 752.4L453.8 752.8L454.6 753.2L455.1 753.5L455.7 753.8L456.6 754.3L457.1 754.5L457.7 754.8L458.6 755.2L459.1 755.5L459.8 755.8L460.6 756.2L461.1 756.4L462.0 756.8L462.6 757.1L463.1 757.3L464.1 757.7L464.6 757.9L465.5 758.3L466.1 758.6L466.7 758.8L467.6 759.2L468.1 759.4L469.1 759.8L469.6 760.0L470.4 760.3L471.1 760.6L471.7 760.8L472.6 761.1L473.1 761.3" fill="none" stroke="#c9cae3" stroke-width="2.6" stroke-linejoin="round"/>
<path d="M473.1 799.3L472.6 799.5L471.7 799.8L471.1 800.0L470.4 800.3L469.6 800.6L469.1 800.8L468.1 801.2L467.6 801.4L466.7 801.8L466.1 802.0L465.5 802.3L464.6 802.7L464.1 802.9L463.1 803.3L462.6 803.5L462.0 803.8L461.1 804.2L460.6 804.4L459.8 804.8L459.1 805.1L458.6 805.4L457.7 805.8L457.1 806.1L456.6 806.3L455.7 806.8L455.1 807.1L454.6 807.4L453.8 807.8L453.1 808.2L452.6 808.4L451.9 808.8L451.1 809.2L450.6 809.5L450.1 809.8L449.3 810.3L448.6 810.7L448.1 811.0L447.6 811.3L446.8 811.8L446.1 812.2L445.6 812.5L445.1 812.9L444.4 813.3L443.7 813.8L443.1 814.2L442.6 814.5L442.1 814.9L441.5 815.3L440.8 815.8L440.1 816.3L439.6 816.7L439.1 817.1L438.6 817.5L438.1 817.9L437.5 818.3L436.9 818.8L436.3 819.3L435.7 819.8L435.1 820.3L434.6 820.8L434.1 821.2L433.6 821.7L433.1 822.1L432.6 822.6L432.1 823.0L431.6 823.5L431.1 824.0L430.6 824.5L430.1 825.0L429.6 825.5L429.1 826.0L428.6 826.6L428.1 827.1L427.6 827.7L427.1 828.2L426.6 828.8L426.2 829.3L425.7 829.8L425.3 830.3L424.9 830.8L424.5 831.3L424.1 831.8L423.6 832.4L423.1 833.1L422.6 833.7L422.2 834.3L421.8 834.8L421.4 835.3L421.1 835.8L420.6 836.5L420.1 837.2L419.7 837.8L419.4 838.3L419.1 838.8L418.6 839.5L418.1 840.3L417.8 840.8L417.5 841.3L417.1 841.9L416.6 842.7L416.3 843.3L416.0 843.8L415.6 844.5L415.1 845.3L414.9 845.8L414.6 846.3L414.1 847.2L413.8 847.8L413.5 848.3L413.1 849.1L412.8 849.8L412.5 850.3L412.1 851.1L411.8 851.8L411.5 852.3L411.1 853.2L410.8 853.8L410.6 854.3L410.1 855.3L409.9 855.8L409.6 856.5L409.2 857.3L409.0 857.8L408.6 858.8L408.4 859.3L408.1 860.0L407.8 860.8L407.5 861.3L407.1 862.3" fill="none" stroke="#c9cae3" stroke-width="2.6" stroke-linejoin="round"/>
<path d="M365.5 862.3L365.1 861.4L364.8 860.8L364.6 860.2L364.2 859.3L364.0 858.8L363.6 857.8L363.4 857.3L363.1 856.7L362.7 855.8L362.5 855.3L362.1 854.5L361.8 853.8L361.6 853.3L361.1 852.3L360.8 851.8L360.6 851.3L360.1 850.3L359.8 849.8L359.6 849.3L359.1 848.3L358.8 847.8L358.6 847.3L358.1 846.5L357.7 845.8L357.5 845.3L357.1 844.6L356.6 843.8L356.3 843.3L356.0 842.8L355.6 842.1L355.1 841.3L354.8 840.8L354.5 840.3L354.1 839.7L353.6 838.9L353.2 838.3L352.9 837.8L352.5 837.3L352.1 836.6L351.6 835.9L351.2 835.3L350.8 834.8L350.4 834.3L350.1 833.8L349.6 833.2L349.1 832.6L348.6 831.9L348.1 831.3L347.7 830.8L347.3 830.3L346.9 829.8L346.4 829.3L346.0 828.8L345.6 828.3L345.1 827.8L344.6 827.2L344.1 826.7L343.6 826.1L343.1 825.6L342.6 825.1L342.1 824.6L341.6 824.1L341.1 823.6L340.6 823.1L340.1 822.7L339.6 822.2L339.1 821.7L338.6 821.3L338.0 820.8L337.5 820.3L336.9 819.8L336.3 819.3L335.7 818.8L335.1 818.3L334.6 817.9L334.1 817.5L333.6 817.2L333.1 816.8L332.5 816.3L331.8 815.8L331.1 815.3L330.6 815.0L330.1 814.6L329.6 814.3L328.9 813.8L328.2 813.3L327.6 812.9L327.1 812.6L326.6 812.3L325.8 811.8L325.1 811.3L324.6 811.0L324.1 810.7L323.3 810.3L322.6 809.9L322.1 809.6L321.6 809.3L320.7 808.8L320.1 808.5L319.6 808.2L318.8 807.8L318.1 807.4L317.6 807.2L316.9 806.8L316.1 806.4L315.6 806.2L314.9 805.8L314.1 805.4L313.6 805.2L312.8 804.8L312.1 804.5L311.6 804.3L310.6 803.8L310.1 803.6L309.5 803.3L308.6 802.9L308.1 802.7L307.1 802.3L306.6 802.1L305.9 801.8L305.1 801.5L304.6 801.3L303.6 800.9L303.1 800.7L302.2 800.3L301.6 800.1L300.9 799.8L300.1 799.5" fill="none" stroke="#c9cae3" stroke-width="2.6" stroke-linejoin="round"/>
<path d="M387.6 816.3L386.6 816.4L385.6 816.4L384.9 816.3L384.1 816.1L383.4 815.8L382.6 815.4L382.1 815.1L381.6 814.8L380.9 814.3L380.2 813.8L379.6 813.3L379.1 812.9L378.6 812.4L378.1 811.9L377.6 811.5L377.1 811.0L376.6 810.5L376.1 809.9L375.6 809.4L375.1 808.9L374.6 808.4L374.1 807.8L373.6 807.3L373.1 806.8L372.7 806.3L372.2 805.8L371.7 805.3L371.3 804.8L370.8 804.3L370.3 803.8L369.8 803.3L369.4 802.8L368.9 802.3L368.4 801.8L367.9 801.3L367.4 800.8L366.9 800.3L366.4 799.8L365.9 799.3L365.4 798.8L364.9 798.3L364.4 797.8L363.9 797.3L363.3 796.8L362.8 796.3L362.3 795.8L361.8 795.3L361.2 794.8L360.7 794.3L360.2 793.8L359.6 793.3L359.1 792.8L358.6 792.3L358.1 791.9L357.6 791.4L357.1 790.9L356.6 790.4L356.1 790.0L355.6 789.5L355.1 789.0L354.6 788.4L354.1 787.9L353.6 787.3L353.1 786.8L352.7 786.3L352.3 785.8L352.0 785.3L351.6 784.7L351.1 783.8L350.8 783.3L350.6 782.7L350.3 781.8L350.2 780.8L350.2 779.8L350.3 778.8L350.6 777.9L350.8 777.3L351.1 776.8L351.6 775.9L352.0 775.3L352.3 774.8L352.7 774.3L353.1 773.8L353.6 773.3L354.1 772.7L354.6 772.2L355.1 771.6L355.6 771.1L356.1 770.6L356.6 770.2L357.1 769.7L357.6 769.2L358.1 768.7L358.6 768.3L359.1 767.8L359.6 767.3L360.2 766.8L360.7 766.3L361.2 765.8L361.8 765.3L362.3 764.8L362.8 764.3L363.3 763.8L363.9 763.3L364.4 762.8L364.9 762.3L365.4 761.8L365.9 761.3L366.4 760.8L366.9 760.3L367.4 759.8L367.9 759.3L368.4 758.8L368.9 758.3L369.4 757.8L369.8 757.3L370.3 756.8L370.8 756.3L371.3 755.8L371.7 755.3L372.2 754.8L372.7 754.3L373.1 753.8L373.6 753.3L374.1 752.8L374.6 752.2L375.1 751.7L375.6 751.2L376.1 750.7L376.6 750.1L377.1 749.6L377.6 749.1L378.1 748.7L378.6 748.2L379.1 747.7L379.6 747.3L380.2 746.8L380.9 746.3L381.6 745.8L382.1 745.5L382.6 745.2L383.4 744.8L384.1 744.5L384.9 744.3L385.6 744.2L386.6 744.2L387.6 744.3L388.1 744.4L389.1 744.7L389.6 745.0L390.2 745.3L391.0 745.8L391.6 746.2L392.1 746.6L392.6 747.0L393.1 747.4L393.6 747.8L394.1 748.3L394.6 748.8L395.2 749.3L395.7 749.8L396.2 750.3L396.6 750.8L397.1 751.3L397.6 751.8L398.1 752.3L398.6 752.9L399.1 753.4L399.6 753.9L400.1 754.5L400.6 755.0L401.1 755.5L401.6 756.1L402.1 756.6L402.6 757.1L403.1 757.7L403.6 758.2L404.1 758.7L404.6 759.2L405.1 759.7L405.6 760.2L406.1 760.7L406.6 761.2L407.1 761.7L407.6 762.2L408.1 762.7L408.6 763.2L409.1 763.7L409.6 764.1L410.1 764.6L410.6 765.1L411.1 765.5L411.6 766.0L412.1 766.5L412.6 766.9L413.1 767.4L413.6 767.9L414.1 768.3L414.6 768.8L415.1 769.3L415.6 769.8L416.2 770.3L416.7 770.8L417.2 771.3L417.7 771.8L418.1 772.3L418.6 772.8L419.1 773.4L419.6 774.0L420.1 774.6L420.6 775.3L420.9 775.8L421.3 776.3L421.6 777.0L422.0 777.8L422.1 778.3L422.4 779.3L422.5 780.3L422.4 781.3L422.1 782.3L422.0 782.8L421.6 783.6L421.3 784.3L420.9 784.8L420.6 785.3L420.1 786.0L419.6 786.6L419.1 787.2L418.6 787.8L418.1 788.3L417.7 788.8L417.2 789.3L416.7 789.8L416.2 790.3L415.6 790.8L415.1 791.3L414.6 791.8L414.1 792.3L413.6 792.7L413.1 793.2L412.6 793.7L412.1 794.1L411.6 794.6L411.1 795.1L410.6 795.5L410.1 796.0L409.6 796.5L409.1 796.9L408.6 797.4L408.1 797.9L407.6 798.4L407.1 798.9L406.6 799.4L406.1 799.9L405.6 800.4L405.1 800.9L404.6 801.4L404.1 801.9L403.6 802.4L403.1 802.9L402.6 803.5L402.1 804.0L401.6 804.5L401.1 805.1L400.6 805.6L400.1 806.1L399.6 806.7L399.1 807.2L398.6 807.7L398.1 808.3L397.6 808.8L397.1 809.3L396.6 809.8L396.2 810.3L395.7 810.8L395.2 811.3L394.6 811.8L394.1 812.3L393.6 812.8L393.1 813.2L392.6 813.6L392.1 814.0L391.6 814.4L391.0 814.8L390.2 815.3L389.6 815.6L389.1 815.9L388.1 816.2L387.6 816.3Z" fill="none" stroke="#1c2690" stroke-width="3.3" stroke-linejoin="round"/>
<path d="M387.1 801.3L386.1 801.3L385.4 801.3L384.6 801.2L383.6 800.9L383.1 800.7L382.1 800.3L381.6 800.1L381.1 799.8L380.3 799.3L379.6 798.8L379.1 798.5L378.6 798.1L378.1 797.7L377.6 797.3L377.0 796.8L376.4 796.3L375.8 795.8L375.3 795.3L374.7 794.8L374.2 794.3L373.7 793.8L373.2 793.3L372.7 792.8L372.2 792.3L371.7 791.8L371.3 791.3L370.8 790.8L370.4 790.3L369.9 789.8L369.5 789.3L369.1 788.8L368.6 788.1L368.1 787.5L367.6 786.8L367.3 786.3L367.0 785.8L366.6 785.1L366.2 784.3L366.0 783.8L365.6 782.8L365.5 782.3L365.3 781.3L365.2 780.3L365.3 779.3L365.5 778.3L365.6 777.8L366.0 776.8L366.2 776.3L366.6 775.5L367.0 774.8L367.3 774.3L367.6 773.8L368.1 773.1L368.6 772.5L369.1 771.8L369.5 771.3L369.9 770.8L370.4 770.3L370.8 769.8L371.3 769.3L371.7 768.8L372.2 768.3L372.7 767.8L373.2 767.3L373.7 766.8L374.2 766.3L374.7 765.8L375.3 765.3L375.8 764.8L376.4 764.3L377.0 763.8L377.6 763.3L378.1 762.9L378.6 762.5L379.1 762.1L379.6 761.8L380.3 761.3L381.1 760.8L381.6 760.5L382.1 760.3L383.1 759.9L383.6 759.7L384.6 759.4L385.4 759.3L386.1 759.3L387.1 759.3L387.6 759.4L388.6 759.6L389.3 759.8L390.1 760.1L390.6 760.3L391.5 760.8L392.1 761.2L392.6 761.5L393.1 761.8L393.7 762.3L394.4 762.8L395.0 763.3L395.6 763.8L396.1 764.2L396.6 764.6L397.1 765.1L397.6 765.6L398.1 766.0L398.6 766.5L399.1 767.0L399.6 767.5L400.1 768.0L400.6 768.5L401.1 769.1L401.6 769.6L402.1 770.2L402.6 770.7L403.1 771.3L403.5 771.8L403.9 772.3L404.3 772.8L404.6 773.3L405.1 774.0L405.6 774.8L405.9 775.3L406.2 775.8L406.6 776.8L406.8 777.3L407.1 778.3L407.2 778.8L407.3 779.8L407.3 780.8L407.2 781.8L407.1 782.3L406.8 783.3L406.6 783.8L406.2 784.8L405.9 785.3L405.6 785.8L405.1 786.6L404.6 787.3L404.3 787.8L403.9 788.3L403.5 788.8L403.1 789.3L402.6 789.9L402.1 790.4L401.6 791.0L401.1 791.5L400.6 792.1L400.1 792.6L399.6 793.1L399.1 793.6L398.6 794.1L398.1 794.6L397.6 795.0L397.1 795.5L396.6 796.0L396.1 796.4L395.6 796.8L395.0 797.3L394.4 797.8L393.7 798.3L393.1 798.8L392.6 799.1L392.1 799.4L391.5 799.8L390.6 800.3L390.1 800.5L389.3 800.8L388.6 801.0L387.6 801.2L387.1 801.3Z" fill="none" stroke="#582a82" stroke-width="3.1" stroke-linejoin="round"/>
<path d="M388.6 793.4L387.6 793.6L386.6 793.7L385.6 793.7L384.6 793.6L383.6 793.3L383.1 793.1L382.3 792.8L381.6 792.4L381.1 792.2L380.5 791.8L379.8 791.3L379.2 790.8L378.6 790.3L378.1 789.9L377.6 789.4L377.1 788.9L376.6 788.4L376.1 787.8L375.7 787.3L375.3 786.8L375.0 786.3L374.6 785.7L374.1 784.9L373.8 784.3L373.6 783.8L373.2 782.8L373.1 782.3L372.9 781.3L372.8 780.3L372.9 779.3L373.1 778.3L373.2 777.8L373.6 776.8L373.8 776.3L374.1 775.7L374.6 774.9L375.0 774.3L375.3 773.8L375.7 773.3L376.1 772.8L376.6 772.2L377.1 771.7L377.6 771.2L378.1 770.7L378.6 770.3L379.2 769.8L379.8 769.3L380.5 768.8L381.1 768.4L381.6 768.2L382.3 767.8L383.1 767.5L383.6 767.3L384.6 767.0L385.6 766.9L386.6 766.9L387.6 767.0L388.6 767.2L389.1 767.3L390.1 767.7L390.6 768.0L391.2 768.3L392.1 768.8L392.6 769.2L393.1 769.5L393.6 769.9L394.1 770.4L394.6 770.8L395.1 771.3L395.6 771.8L396.1 772.3L396.6 772.9L397.1 773.6L397.6 774.2L398.0 774.8L398.3 775.3L398.6 775.9L399.0 776.8L399.2 777.3L399.5 778.3L399.6 778.8L399.7 779.8L399.7 780.8L399.6 781.8L399.5 782.3L399.2 783.3L399.0 783.8L398.6 784.7L398.3 785.3L398.0 785.8L397.6 786.4L397.1 787.0L396.6 787.7L396.1 788.3L395.6 788.8L395.1 789.3L394.6 789.8L394.1 790.2L393.6 790.7L393.1 791.1L392.6 791.4L392.1 791.8L391.2 792.3L390.6 792.6L390.1 792.9L389.1 793.3L388.6 793.4Z" fill="none" stroke="#b3437b" stroke-width="3.0" stroke-linejoin="round"/>
<path d="M388.1 788.8L387.1 789.0L386.1 789.1L385.1 789.0L384.4 788.8L383.6 788.5L383.0 788.3L382.1 787.8L381.6 787.4L381.1 787.1L380.6 786.6L380.1 786.1L379.6 785.6L379.1 784.9L378.7 784.3L378.4 783.8L378.1 783.1L377.8 782.3L377.6 781.3L377.5 780.8L377.5 779.8L377.6 779.3L377.8 778.3L378.1 777.5L378.4 776.8L378.7 776.3L379.1 775.7L379.6 775.0L380.1 774.5L380.6 774.0L381.1 773.5L381.6 773.2L382.1 772.8L383.0 772.3L383.6 772.1L384.4 771.8L385.1 771.6L386.1 771.5L387.1 771.6L388.1 771.8L388.6 771.9L389.6 772.3L390.1 772.6L390.6 772.9L391.2 773.3L391.8 773.8L392.3 774.3L392.8 774.8L393.2 775.3L393.6 775.8L394.1 776.7L394.4 777.3L394.6 777.8L394.9 778.8L395.1 779.8L395.1 780.8L394.9 781.8L394.6 782.8L394.4 783.3L394.1 783.9L393.6 784.8L393.2 785.3L392.8 785.8L392.3 786.3L391.8 786.8L391.2 787.3L390.6 787.7L390.1 788.0L389.6 788.3L388.6 788.7L388.1 788.8Z" fill="none" stroke="#f0623e" stroke-width="3.0" stroke-linejoin="round"/>
</g>
<rect x="301.6" y="700.3" width="169.3" height="159.6" fill="none" stroke="#111" stroke-width="1.8"/>
<clipPath id="bc2"><rect x="501.4" y="700.1" width="168.5" height="160.0"/></clipPath>
<g clip-path="url(#bc2)"><g filter="url(#bbl)" transform="translate(495.4 694.1)">
<path d="M0 0h3.3v3.3h-3.3zM180 0h3.3v3.3h-3.3zM180 168h3.3v3.3h-3.3zM0 171h3.3v3.3h-3.3zM177 171h6.3v3.3h-6.3z" fill="#e4e5f3"/>
<path d="M3 0h9.3v3.3h-9.3zM168 0h12.3v3.3h-12.3zM0 3h9.3v3.3h-9.3zM171 3h12.3v3.3h-12.3zM0 6h6.3v3.3h-6.3zM174 6h9.3v3.3h-9.3zM0 9h3.3v3.3h-3.3zM177 9h6.3v3.3h-6.3zM180 159h3.3v3.3h-3.3zM0 162h6.3v3.3h-6.3zM177 162h6.3v3.3h-6.3zM0 165h9.3v3.3h-9.3zM174 165h9.3v3.3h-9.3zM0 168h12.3v3.3h-12.3zM171 168h9.3v3.3h-9.3zM3 171h12.3v3.3h-12.3zM168 171h9.3v3.3h-9.3z" fill="#dfe0f1"/>
<path d="M12 0h9.3v3.3h-9.3zM159 0h9.3v3.3h-9.3zM9 3h9.3v3.3h-9.3zM162 3h9.3v3.3h-9.3zM6 6h9.3v3.3h-9.3zM165 6h9.3v3.3h-9.3zM3 9h9.3v3.3h-9.3zM168 9h9.3v3.3h-9.3zM0 12h9.3v3.3h-9.3zM171 12h12.3v3.3h-12.3zM0 15h6.3v3.3h-6.3zM174 15h9.3v3.3h-9.3zM0 18h3.3v3.3h-3.3zM180 18h3.3v3.3h-3.3zM180 150h3.3v3.3h-3.3zM0 153h3.3v3.3h-3.3zM177 153h6.3v3.3h-6.3zM0 156h9.3v3.3h-9.3zM174 156h9.3v3.3h-9.3zM0 159h12.3v3.3h-12.3zM171 159h9.3v3.3h-9.3zM6 162h9.3v3.3h-9.3zM168 162h9.3v3.3h-9.3zM9 165h9.3v3.3h-9.3zM165 165h9.3v3.3h-9.3zM12 168h9.3v3.3h-9.3zM162 168h9.3v3.3h-9.3zM15 171h6.3v3.3h-6.3zM159 171h9.3v3.3h-9.3z" fill="#dadcee"/>
<path d="M21 0h6.3v3.3h-6.3zM153 0h6.3v3.3h-6.3zM18 3h9.3v3.3h-9.3zM156 3h6.3v3.3h-6.3zM15 6h9.3v3.3h-9.3zM156 6h9.3v3.3h-9.3zM12 9h9.3v3.3h-9.3zM159 9h9.3v3.3h-9.3zM9 12h9.3v3.3h-9.3zM162 12h9.3v3.3h-9.3zM6 15h9.3v3.3h-9.3zM165 15h9.3v3.3h-9.3zM3 18h9.3v3.3h-9.3zM168 18h12.3v3.3h-12.3zM0 21h9.3v3.3h-9.3zM174 21h9.3v3.3h-9.3zM0 24h3.3v3.3h-3.3zM177 24h6.3v3.3h-6.3zM0 144h3.3v3.3h-3.3zM180 144h3.3v3.3h-3.3zM0 147h6.3v3.3h-6.3zM174 147h9.3v3.3h-9.3zM0 150h9.3v3.3h-9.3zM171 150h9.3v3.3h-9.3zM3 153h12.3v3.3h-12.3zM168 153h9.3v3.3h-9.3zM9 156h9.3v3.3h-9.3zM165 156h9.3v3.3h-9.3zM12 159h9.3v3.3h-9.3zM162 159h9.3v3.3h-9.3zM15 162h9.3v3.3h-9.3zM159 162h9.3v3.3h-9.3zM18 165h6.3v3.3h-6.3zM156 165h9.3v3.3h-9.3zM21 168h6.3v3.3h-6.3zM153 168h9.3v3.3h-9.3zM21 171h9.3v3.3h-9.3zM153 171h6.3v3.3h-6.3z" fill="#d5d7ec"/>
<path d="M27 0h9.3v3.3h-9.3zM147 0h6.3v3.3h-6.3zM27 3h6.3v3.3h-6.3zM147 3h9.3v3.3h-9.3zM24 6h6.3v3.3h-6.3zM150 6h6.3v3.3h-6.3zM21 9h9.3v3.3h-9.3zM153 9h6.3v3.3h-6.3zM18 12h9.3v3.3h-9.3zM156 12h6.3v3.3h-6.3zM15 15h9.3v3.3h-9.3zM159 15h6.3v3.3h-6.3zM12 18h9.3v3.3h-9.3zM162 18h6.3v3.3h-6.3zM9 21h9.3v3.3h-9.3zM165 21h9.3v3.3h-9.3zM3 24h9.3v3.3h-9.3zM168 24h9.3v3.3h-9.3zM0 27h9.3v3.3h-9.3zM171 27h12.3v3.3h-12.3zM0 30h6.3v3.3h-6.3zM177 30h6.3v3.3h-6.3zM180 33h3.3v3.3h-3.3zM0 138h3.3v3.3h-3.3zM180 138h3.3v3.3h-3.3zM0 141h6.3v3.3h-6.3zM174 141h9.3v3.3h-9.3zM3 144h9.3v3.3h-9.3zM171 144h9.3v3.3h-9.3zM6 147h9.3v3.3h-9.3zM165 147h9.3v3.3h-9.3zM9 150h9.3v3.3h-9.3zM162 150h9.3v3.3h-9.3zM15 153h6.3v3.3h-6.3zM159 153h9.3v3.3h-9.3zM18 156h6.3v3.3h-6.3zM156 156h9.3v3.3h-9.3zM21 159h6.3v3.3h-6.3zM153 159h9.3v3.3h-9.3zM24 162h6.3v3.3h-6.3zM150 162h9.3v3.3h-9.3zM24 165h9.3v3.3h-9.3zM150 165h6.3v3.3h-6.3zM27 168h6.3v3.3h-6.3zM147 168h6.3v3.3h-6.3zM30 171h6.3v3.3h-6.3zM144 171h9.3v3.3h-9.3z" fill="#d0d2ea"/>
<path d="M36 0h6.3v3.3h-6.3zM141 0h6.3v3.3h-6.3zM33 3h6.3v3.3h-6.3zM141 3h6.3v3.3h-6.3zM30 6h9.3v3.3h-9.3zM144 6h6.3v3.3h-6.3zM30 9h6.3v3.3h-6.3zM147 9h6.3v3.3h-6.3zM27 12h6.3v3.3h-6.3zM147 12h9.3v3.3h-9.3zM24 15h6.3v3.3h-6.3zM150 15h9.3v3.3h-9.3zM21 18h6.3v3.3h-6.3zM153 18h9.3v3.3h-9.3zM18 21h6.3v3.3h-6.3zM156 21h9.3v3.3h-9.3zM12 24h9.3v3.3h-9.3zM159 24h9.3v3.3h-9.3zM9 27h9.3v3.3h-9.3zM162 27h9.3v3.3h-9.3zM6 30h9.3v3.3h-9.3zM168 30h9.3v3.3h-9.3zM0 33h9.3v3.3h-9.3zM171 33h9.3v3.3h-9.3zM0 36h6.3v3.3h-6.3zM177 36h6.3v3.3h-6.3zM0 132h3.3v3.3h-3.3zM180 132h3.3v3.3h-3.3zM0 135h9.3v3.3h-9.3zM174 135h9.3v3.3h-9.3zM3 138h9.3v3.3h-9.3zM168 138h12.3v3.3h-12.3zM6 141h12.3v3.3h-12.3zM165 141h9.3v3.3h-9.3zM12 144h9.3v3.3h-9.3zM162 144h9.3v3.3h-9.3zM15 147h9.3v3.3h-9.3zM156 147h9.3v3.3h-9.3zM18 150h9.3v3.3h-9.3zM153 150h9.3v3.3h-9.3zM21 153h9.3v3.3h-9.3zM153 153h6.3v3.3h-6.3zM24 156h9.3v3.3h-9.3zM150 156h6.3v3.3h-6.3zM27 159h9.3v3.3h-9.3zM147 159h6.3v3.3h-6.3zM30 162h6.3v3.3h-6.3zM144 162h6.3v3.3h-6.3zM33 165h6.3v3.3h-6.3zM144 165h6.3v3.3h-6.3zM33 168h9.3v3.3h-9.3zM141 168h6.3v3.3h-6.3zM36 171h6.3v3.3h-6.3zM138 171h6.3v3.3h-6.3z" fill="#c9cbe7"/>
<path d="M42 0h6.3v3.3h-6.3zM135 0h6.3v3.3h-6.3zM39 3h6.3v3.3h-6.3zM135 3h6.3v3.3h-6.3zM39 6h3.3v3.3h-3.3zM138 6h6.3v3.3h-6.3zM36 9h6.3v3.3h-6.3zM141 9h6.3v3.3h-6.3zM33 12h6.3v3.3h-6.3zM141 12h6.3v3.3h-6.3zM30 15h6.3v3.3h-6.3zM144 15h6.3v3.3h-6.3zM27 18h9.3v3.3h-9.3zM147 18h6.3v3.3h-6.3zM24 21h9.3v3.3h-9.3zM150 21h6.3v3.3h-6.3zM21 24h9.3v3.3h-9.3zM153 24h6.3v3.3h-6.3zM18 27h9.3v3.3h-9.3zM156 27h6.3v3.3h-6.3zM15 30h9.3v3.3h-9.3zM159 30h9.3v3.3h-9.3zM9 33h9.3v3.3h-9.3zM162 33h9.3v3.3h-9.3zM6 36h9.3v3.3h-9.3zM168 36h9.3v3.3h-9.3zM0 39h9.3v3.3h-9.3zM171 39h12.3v3.3h-12.3zM0 42h3.3v3.3h-3.3zM177 42h6.3v3.3h-6.3zM180 126h3.3v3.3h-3.3zM0 129h6.3v3.3h-6.3zM174 129h9.3v3.3h-9.3zM3 132h9.3v3.3h-9.3zM168 132h12.3v3.3h-12.3zM9 135h9.3v3.3h-9.3zM165 135h9.3v3.3h-9.3zM12 138h9.3v3.3h-9.3zM159 138h9.3v3.3h-9.3zM18 141h6.3v3.3h-6.3zM156 141h9.3v3.3h-9.3zM21 144h6.3v3.3h-6.3zM153 144h9.3v3.3h-9.3zM24 147h6.3v3.3h-6.3zM150 147h6.3v3.3h-6.3zM27 150h6.3v3.3h-6.3zM147 150h6.3v3.3h-6.3zM30 153h6.3v3.3h-6.3zM144 153h9.3v3.3h-9.3zM33 156h6.3v3.3h-6.3zM144 156h6.3v3.3h-6.3zM36 159h6.3v3.3h-6.3zM141 159h6.3v3.3h-6.3zM36 162h6.3v3.3h-6.3zM138 162h6.3v3.3h-6.3zM39 165h6.3v3.3h-6.3zM138 165h6.3v3.3h-6.3zM42 168h3.3v3.3h-3.3zM135 168h6.3v3.3h-6.3zM42 171h6.3v3.3h-6.3zM135 171h3.3v3.3h-3.3z" fill="#c2c4e4"/>
<path d="M48 0h3.3v3.3h-3.3zM129 0h6.3v3.3h-6.3zM45 3h6.3v3.3h-6.3zM132 3h3.3v3.3h-3.3zM42 6h6.3v3.3h-6.3zM132 6h6.3v3.3h-6.3zM42 9h6.3v3.3h-6.3zM135 9h6.3v3.3h-6.3zM39 12h6.3v3.3h-6.3zM135 12h6.3v3.3h-6.3zM36 15h6.3v3.3h-6.3zM138 15h6.3v3.3h-6.3zM36 18h6.3v3.3h-6.3zM141 18h6.3v3.3h-6.3zM33 21h6.3v3.3h-6.3zM141 21h9.3v3.3h-9.3zM30 24h6.3v3.3h-6.3zM144 24h9.3v3.3h-9.3zM27 27h6.3v3.3h-6.3zM147 27h9.3v3.3h-9.3zM24 30h6.3v3.3h-6.3zM150 30h9.3v3.3h-9.3zM18 33h9.3v3.3h-9.3zM153 33h9.3v3.3h-9.3zM15 36h9.3v3.3h-9.3zM159 36h9.3v3.3h-9.3zM9 39h9.3v3.3h-9.3zM162 39h9.3v3.3h-9.3zM3 42h9.3v3.3h-9.3zM168 42h9.3v3.3h-9.3zM0 45h6.3v3.3h-6.3zM174 45h9.3v3.3h-9.3zM180 48h3.3v3.3h-3.3zM0 123h3.3v3.3h-3.3zM177 123h6.3v3.3h-6.3zM0 126h9.3v3.3h-9.3zM171 126h9.3v3.3h-9.3zM6 129h9.3v3.3h-9.3zM165 129h9.3v3.3h-9.3zM12 132h9.3v3.3h-9.3zM159 132h9.3v3.3h-9.3zM18 135h6.3v3.3h-6.3zM156 135h9.3v3.3h-9.3zM21 138h9.3v3.3h-9.3zM153 138h6.3v3.3h-6.3zM24 141h9.3v3.3h-9.3zM150 141h6.3v3.3h-6.3zM27 144h9.3v3.3h-9.3zM147 144h6.3v3.3h-6.3zM30 147h9.3v3.3h-9.3zM144 147h6.3v3.3h-6.3zM33 150h6.3v3.3h-6.3zM141 150h6.3v3.3h-6.3zM36 153h6.3v3.3h-6.3zM138 153h6.3v3.3h-6.3zM39 156h6.3v3.3h-6.3zM138 156h6.3v3.3h-6.3zM42 159h3.3v3.3h-3.3zM135 159h6.3v3.3h-6.3zM42 162h6.3v3.3h-6.3zM132 162h6.3v3.3h-6.3zM45 165h3.3v3.3h-3.3zM132 165h6.3v3.3h-6.3zM45 168h6.3v3.3h-6.3zM129 168h6.3v3.3h-6.3zM48 171h3.3v3.3h-3.3zM129 171h6.3v3.3h-6.3z" fill="#bbbee1"/>
<path d="M51 0h6.3v3.3h-6.3zM126 0h3.3v3.3h-3.3zM51 3h3.3v3.3h-3.3zM126 3h6.3v3.3h-6.3zM48 6h6.3v3.3h-6.3zM129 6h3.3v3.3h-3.3zM48 9h3.3v3.3h-3.3zM129 9h6.3v3.3h-6.3zM45 12h6.3v3.3h-6.3zM132 12h3.3v3.3h-3.3zM42 15h6.3v3.3h-6.3zM132 15h6.3v3.3h-6.3zM42 18h3.3v3.3h-3.3zM135 18h6.3v3.3h-6.3zM39 21h6.3v3.3h-6.3zM138 21h3.3v3.3h-3.3zM36 24h6.3v3.3h-6.3zM138 24h6.3v3.3h-6.3zM33 27h6.3v3.3h-6.3zM141 27h6.3v3.3h-6.3zM30 30h6.3v3.3h-6.3zM144 30h6.3v3.3h-6.3zM27 33h6.3v3.3h-6.3zM147 33h6.3v3.3h-6.3zM24 36h6.3v3.3h-6.3zM150 36h9.3v3.3h-9.3zM18 39h9.3v3.3h-9.3zM156 39h6.3v3.3h-6.3zM12 42h9.3v3.3h-9.3zM159 42h9.3v3.3h-9.3zM6 45h9.3v3.3h-9.3zM165 45h9.3v3.3h-9.3zM0 48h9.3v3.3h-9.3zM171 48h9.3v3.3h-9.3zM0 51h3.3v3.3h-3.3zM177 51h6.3v3.3h-6.3zM180 117h3.3v3.3h-3.3zM0 120h6.3v3.3h-6.3zM174 120h9.3v3.3h-9.3zM3 123h12.3v3.3h-12.3zM168 123h9.3v3.3h-9.3zM9 126h9.3v3.3h-9.3zM162 126h9.3v3.3h-9.3zM15 129h9.3v3.3h-9.3zM156 129h9.3v3.3h-9.3zM21 132h6.3v3.3h-6.3zM153 132h6.3v3.3h-6.3zM24 135h9.3v3.3h-9.3zM150 135h6.3v3.3h-6.3zM30 138h6.3v3.3h-6.3zM147 138h6.3v3.3h-6.3zM33 141h6.3v3.3h-6.3zM144 141h6.3v3.3h-6.3zM36 144h6.3v3.3h-6.3zM141 144h6.3v3.3h-6.3zM39 147h3.3v3.3h-3.3zM138 147h6.3v3.3h-6.3zM39 150h6.3v3.3h-6.3zM135 150h6.3v3.3h-6.3zM42 153h6.3v3.3h-6.3zM135 153h3.3v3.3h-3.3zM45 156h3.3v3.3h-3.3zM132 156h6.3v3.3h-6.3zM45 159h6.3v3.3h-6.3zM129 159h6.3v3.3h-6.3zM48 162h6.3v3.3h-6.3zM129 162h3.3v3.3h-3.3zM48 165h6.3v3.3h-6.3zM126 165h6.3v3.3h-6.3zM51 168h3.3v3.3h-3.3zM126 168h3.3v3.3h-3.3zM51 171h6.3v3.3h-6.3zM126 171h3.3v3.3h-3.3z" fill="#b4b7de"/>
<path d="M57 0h3.3v3.3h-3.3zM120 0h6.3v3.3h-6.3zM54 3h6.3v3.3h-6.3zM123 3h3.3v3.3h-3.3zM54 6h3.3v3.3h-3.3zM123 6h6.3v3.3h-6.3zM51 9h6.3v3.3h-6.3zM126 9h3.3v3.3h-3.3zM51 12h3.3v3.3h-3.3zM126 12h6.3v3.3h-6.3zM48 15h6.3v3.3h-6.3zM129 15h3.3v3.3h-3.3zM45 18h6.3v3.3h-6.3zM129 18h6.3v3.3h-6.3zM45 21h3.3v3.3h-3.3zM132 21h6.3v3.3h-6.3zM42 24h6.3v3.3h-6.3zM135 24h3.3v3.3h-3.3zM39 27h6.3v3.3h-6.3zM135 27h6.3v3.3h-6.3zM36 30h6.3v3.3h-6.3zM138 30h6.3v3.3h-6.3zM33 33h6.3v3.3h-6.3zM141 33h6.3v3.3h-6.3zM30 36h6.3v3.3h-6.3zM144 36h6.3v3.3h-6.3zM27 39h6.3v3.3h-6.3zM147 39h9.3v3.3h-9.3zM21 42h9.3v3.3h-9.3zM153 42h6.3v3.3h-6.3zM15 45h9.3v3.3h-9.3zM156 45h9.3v3.3h-9.3zM9 48h9.3v3.3h-9.3zM162 48h9.3v3.3h-9.3zM3 51h9.3v3.3h-9.3zM168 51h9.3v3.3h-9.3zM0 54h6.3v3.3h-6.3zM174 54h9.3v3.3h-9.3zM0 114h3.3v3.3h-3.3zM180 114h3.3v3.3h-3.3zM0 117h9.3v3.3h-9.3zM171 117h9.3v3.3h-9.3zM6 120h12.3v3.3h-12.3zM165 120h9.3v3.3h-9.3zM15 123h6.3v3.3h-6.3zM159 123h9.3v3.3h-9.3zM18 126h9.3v3.3h-9.3zM153 126h9.3v3.3h-9.3zM24 129h6.3v3.3h-6.3zM150 129h6.3v3.3h-6.3zM27 132h9.3v3.3h-9.3zM147 132h6.3v3.3h-6.3zM33 135h6.3v3.3h-6.3zM144 135h6.3v3.3h-6.3zM36 138h6.3v3.3h-6.3zM141 138h6.3v3.3h-6.3zM39 141h6.3v3.3h-6.3zM138 141h6.3v3.3h-6.3zM42 144h3.3v3.3h-3.3zM135 144h6.3v3.3h-6.3zM42 147h6.3v3.3h-6.3zM132 147h6.3v3.3h-6.3zM45 150h6.3v3.3h-6.3zM132 150h3.3v3.3h-3.3zM48 153h3.3v3.3h-3.3zM129 153h6.3v3.3h-6.3zM48 156h6.3v3.3h-6.3zM126 156h6.3v3.3h-6.3zM51 159h3.3v3.3h-3.3zM126 159h3.3v3.3h-3.3zM54 162h3.3v3.3h-3.3zM123 162h6.3v3.3h-6.3zM54 165h3.3v3.3h-3.3zM123 165h3.3v3.3h-3.3zM54 168h6.3v3.3h-6.3zM123 168h3.3v3.3h-3.3zM57 171h3.3v3.3h-3.3zM120 171h6.3v3.3h-6.3z" fill="#abaeda"/>
<path d="M60 0h3.3v3.3h-3.3zM117 0h3.3v3.3h-3.3zM60 3h3.3v3.3h-3.3zM120 3h3.3v3.3h-3.3zM57 6h3.3v3.3h-3.3zM120 6h3.3v3.3h-3.3zM57 9h3.3v3.3h-3.3zM120 9h6.3v3.3h-6.3zM54 12h6.3v3.3h-6.3zM123 12h3.3v3.3h-3.3zM54 15h3.3v3.3h-3.3zM123 15h6.3v3.3h-6.3zM51 18h6.3v3.3h-6.3zM126 18h3.3v3.3h-3.3zM48 21h6.3v3.3h-6.3zM126 21h6.3v3.3h-6.3zM48 24h3.3v3.3h-3.3zM129 24h6.3v3.3h-6.3zM45 27h6.3v3.3h-6.3zM132 27h3.3v3.3h-3.3zM42 30h6.3v3.3h-6.3zM132 30h6.3v3.3h-6.3zM39 33h6.3v3.3h-6.3zM135 33h6.3v3.3h-6.3zM36 36h6.3v3.3h-6.3zM138 36h6.3v3.3h-6.3zM33 39h6.3v3.3h-6.3zM141 39h6.3v3.3h-6.3zM30 42h6.3v3.3h-6.3zM144 42h9.3v3.3h-9.3zM24 45h9.3v3.3h-9.3zM150 45h6.3v3.3h-6.3zM18 48h9.3v3.3h-9.3zM153 48h9.3v3.3h-9.3zM12 51h9.3v3.3h-9.3zM159 51h9.3v3.3h-9.3zM6 54h9.3v3.3h-9.3zM165 54h9.3v3.3h-9.3zM0 57h9.3v3.3h-9.3zM174 57h9.3v3.3h-9.3zM180 60h3.3v3.3h-3.3zM0 111h6.3v3.3h-6.3zM177 111h6.3v3.3h-6.3zM3 114h9.3v3.3h-9.3zM168 114h12.3v3.3h-12.3zM9 117h9.3v3.3h-9.3zM162 117h9.3v3.3h-9.3zM18 120h6.3v3.3h-6.3zM156 120h9.3v3.3h-9.3zM21 123h9.3v3.3h-9.3zM150 123h9.3v3.3h-9.3zM27 126h6.3v3.3h-6.3zM147 126h6.3v3.3h-6.3zM30 129h9.3v3.3h-9.3zM144 129h6.3v3.3h-6.3zM36 132h6.3v3.3h-6.3zM141 132h6.3v3.3h-6.3zM39 135h6.3v3.3h-6.3zM138 135h6.3v3.3h-6.3zM42 138h6.3v3.3h-6.3zM135 138h6.3v3.3h-6.3zM45 141h3.3v3.3h-3.3zM132 141h6.3v3.3h-6.3zM45 144h6.3v3.3h-6.3zM129 144h6.3v3.3h-6.3zM48 147h6.3v3.3h-6.3zM129 147h3.3v3.3h-3.3zM51 150h3.3v3.3h-3.3zM126 150h6.3v3.3h-6.3zM51 153h6.3v3.3h-6.3zM126 153h3.3v3.3h-3.3zM54 156h3.3v3.3h-3.3zM123 156h3.3v3.3h-3.3zM54 159h6.3v3.3h-6.3zM123 159h3.3v3.3h-3.3zM57 162h3.3v3.3h-3.3zM120 162h3.3v3.3h-3.3zM57 165h6.3v3.3h-6.3zM120 165h3.3v3.3h-3.3zM60 168h3.3v3.3h-3.3zM117 168h6.3v3.3h-6.3zM60 171h3.3v3.3h-3.3zM117 171h3.3v3.3h-3.3z" fill="#a2a5d6"/>
<path d="M63 0h6.3v3.3h-6.3zM114 0h3.3v3.3h-3.3zM63 3h3.3v3.3h-3.3zM114 3h6.3v3.3h-6.3zM60 6h6.3v3.3h-6.3zM117 6h3.3v3.3h-3.3zM60 9h3.3v3.3h-3.3zM117 9h3.3v3.3h-3.3zM60 12h3.3v3.3h-3.3zM120 12h3.3v3.3h-3.3zM57 15h3.3v3.3h-3.3zM120 15h3.3v3.3h-3.3zM57 18h3.3v3.3h-3.3zM120 18h6.3v3.3h-6.3zM54 21h3.3v3.3h-3.3zM123 21h3.3v3.3h-3.3zM51 24h6.3v3.3h-6.3zM126 24h3.3v3.3h-3.3zM51 27h3.3v3.3h-3.3zM126 27h6.3v3.3h-6.3zM48 30h6.3v3.3h-6.3zM129 30h3.3v3.3h-3.3zM45 33h6.3v3.3h-6.3zM132 33h3.3v3.3h-3.3zM42 36h6.3v3.3h-6.3zM132 36h6.3v3.3h-6.3zM39 39h6.3v3.3h-6.3zM135 39h6.3v3.3h-6.3zM36 42h6.3v3.3h-6.3zM138 42h6.3v3.3h-6.3zM33 45h6.3v3.3h-6.3zM144 45h6.3v3.3h-6.3zM27 48h6.3v3.3h-6.3zM147 48h6.3v3.3h-6.3zM21 51h9.3v3.3h-9.3zM153 51h6.3v3.3h-6.3zM15 54h9.3v3.3h-9.3zM156 54h9.3v3.3h-9.3zM9 57h9.3v3.3h-9.3zM165 57h9.3v3.3h-9.3zM0 60h9.3v3.3h-9.3zM171 60h9.3v3.3h-9.3zM0 63h3.3v3.3h-3.3zM180 63h3.3v3.3h-3.3zM0 108h6.3v3.3h-6.3zM174 108h9.3v3.3h-9.3zM6 111h9.3v3.3h-9.3zM168 111h9.3v3.3h-9.3zM12 114h9.3v3.3h-9.3zM159 114h9.3v3.3h-9.3zM18 117h9.3v3.3h-9.3zM153 117h9.3v3.3h-9.3zM24 120h9.3v3.3h-9.3zM150 120h6.3v3.3h-6.3zM30 123h6.3v3.3h-6.3zM144 123h6.3v3.3h-6.3zM33 126h6.3v3.3h-6.3zM141 126h6.3v3.3h-6.3zM39 129h6.3v3.3h-6.3zM138 129h6.3v3.3h-6.3zM42 132h6.3v3.3h-6.3zM135 132h6.3v3.3h-6.3zM45 135h3.3v3.3h-3.3zM132 135h6.3v3.3h-6.3zM48 138h3.3v3.3h-3.3zM129 138h6.3v3.3h-6.3zM48 141h6.3v3.3h-6.3zM126 141h6.3v3.3h-6.3zM51 144h6.3v3.3h-6.3zM126 144h3.3v3.3h-3.3zM54 147h3.3v3.3h-3.3zM123 147h6.3v3.3h-6.3zM54 150h6.3v3.3h-6.3zM123 150h3.3v3.3h-3.3zM57 153h3.3v3.3h-3.3zM120 153h6.3v3.3h-6.3zM57 156h6.3v3.3h-6.3zM120 156h3.3v3.3h-3.3zM60 159h3.3v3.3h-3.3zM117 159h6.3v3.3h-6.3zM60 162h6.3v3.3h-6.3zM117 162h3.3v3.3h-3.3zM63 165h3.3v3.3h-3.3zM114 165h6.3v3.3h-6.3zM63 168h3.3v3.3h-3.3zM114 168h3.3v3.3h-3.3zM63 171h6.3v3.3h-6.3zM114 171h3.3v3.3h-3.3z" fill="#999cd1"/>
<path d="M69 0h3.3v3.3h-3.3zM111 0h3.3v3.3h-3.3zM66 3h3.3v3.3h-3.3zM111 3h3.3v3.3h-3.3zM66 6h3.3v3.3h-3.3zM111 6h6.3v3.3h-6.3zM63 9h6.3v3.3h-6.3zM114 9h3.3v3.3h-3.3zM63 12h3.3v3.3h-3.3zM114 12h6.3v3.3h-6.3zM60 15h6.3v3.3h-6.3zM117 15h3.3v3.3h-3.3zM60 18h3.3v3.3h-3.3zM117 18h3.3v3.3h-3.3zM57 21h6.3v3.3h-6.3zM120 21h3.3v3.3h-3.3zM57 24h3.3v3.3h-3.3zM120 24h6.3v3.3h-6.3zM54 27h6.3v3.3h-6.3zM123 27h3.3v3.3h-3.3zM54 30h3.3v3.3h-3.3zM123 30h6.3v3.3h-6.3zM51 33h3.3v3.3h-3.3zM126 33h6.3v3.3h-6.3zM48 36h6.3v3.3h-6.3zM129 36h3.3v3.3h-3.3zM45 39h6.3v3.3h-6.3zM132 39h3.3v3.3h-3.3zM42 42h6.3v3.3h-6.3zM135 42h3.3v3.3h-3.3zM39 45h6.3v3.3h-6.3zM138 45h6.3v3.3h-6.3zM33 48h6.3v3.3h-6.3zM141 48h6.3v3.3h-6.3zM30 51h6.3v3.3h-6.3zM144 51h9.3v3.3h-9.3zM24 54h6.3v3.3h-6.3zM150 54h6.3v3.3h-6.3zM18 57h6.3v3.3h-6.3zM156 57h9.3v3.3h-9.3zM9 60h9.3v3.3h-9.3zM162 60h9.3v3.3h-9.3zM3 63h9.3v3.3h-9.3zM168 63h12.3v3.3h-12.3zM0 66h6.3v3.3h-6.3zM177 66h6.3v3.3h-6.3zM0 102h3.3v3.3h-3.3zM180 102h3.3v3.3h-3.3zM0 105h9.3v3.3h-9.3zM171 105h12.3v3.3h-12.3zM6 108h9.3v3.3h-9.3zM165 108h9.3v3.3h-9.3zM15 111h9.3v3.3h-9.3zM159 111h9.3v3.3h-9.3zM21 114h9.3v3.3h-9.3zM153 114h6.3v3.3h-6.3zM27 117h6.3v3.3h-6.3zM147 117h6.3v3.3h-6.3zM33 120h6.3v3.3h-6.3zM144 120h6.3v3.3h-6.3zM36 123h6.3v3.3h-6.3zM138 123h6.3v3.3h-6.3zM39 126h6.3v3.3h-6.3zM135 126h6.3v3.3h-6.3zM45 129h3.3v3.3h-3.3zM132 129h6.3v3.3h-6.3zM48 132h3.3v3.3h-3.3zM129 132h6.3v3.3h-6.3zM48 135h6.3v3.3h-6.3zM126 135h6.3v3.3h-6.3zM51 138h6.3v3.3h-6.3zM126 138h3.3v3.3h-3.3zM54 141h3.3v3.3h-3.3zM123 141h3.3v3.3h-3.3zM57 144h3.3v3.3h-3.3zM120 144h6.3v3.3h-6.3zM57 147h3.3v3.3h-3.3zM120 147h3.3v3.3h-3.3zM60 150h3.3v3.3h-3.3zM117 150h6.3v3.3h-6.3zM60 153h3.3v3.3h-3.3zM117 153h3.3v3.3h-3.3zM63 156h3.3v3.3h-3.3zM114 156h6.3v3.3h-6.3zM63 159h3.3v3.3h-3.3zM114 159h3.3v3.3h-3.3zM66 162h3.3v3.3h-3.3zM114 162h3.3v3.3h-3.3zM66 165h3.3v3.3h-3.3zM111 165h3.3v3.3h-3.3zM66 168h6.3v3.3h-6.3zM111 168h3.3v3.3h-3.3zM69 171h3.3v3.3h-3.3zM108 171h6.3v3.3h-6.3z" fill="#9093cd"/>
<path d="M72 0h3.3v3.3h-3.3zM105 0h6.3v3.3h-6.3zM69 3h6.3v3.3h-6.3zM108 3h3.3v3.3h-3.3zM69 6h3.3v3.3h-3.3zM108 6h3.3v3.3h-3.3zM69 9h3.3v3.3h-3.3zM108 9h6.3v3.3h-6.3zM66 12h3.3v3.3h-3.3zM111 12h3.3v3.3h-3.3zM66 15h3.3v3.3h-3.3zM111 15h6.3v3.3h-6.3zM63 18h3.3v3.3h-3.3zM114 18h3.3v3.3h-3.3zM63 21h3.3v3.3h-3.3zM114 21h6.3v3.3h-6.3zM60 24h3.3v3.3h-3.3zM117 24h3.3v3.3h-3.3zM60 27h3.3v3.3h-3.3zM117 27h6.3v3.3h-6.3zM57 30h3.3v3.3h-3.3zM120 30h3.3v3.3h-3.3zM54 33h6.3v3.3h-6.3zM123 33h3.3v3.3h-3.3zM54 36h3.3v3.3h-3.3zM123 36h6.3v3.3h-6.3zM51 39h3.3v3.3h-3.3zM126 39h6.3v3.3h-6.3zM48 42h3.3v3.3h-3.3zM129 42h6.3v3.3h-6.3zM45 45h3.3v3.3h-3.3zM132 45h6.3v3.3h-6.3zM39 48h6.3v3.3h-6.3zM135 48h6.3v3.3h-6.3zM36 51h6.3v3.3h-6.3zM138 51h6.3v3.3h-6.3zM30 54h9.3v3.3h-9.3zM144 54h6.3v3.3h-6.3zM24 57h9.3v3.3h-9.3zM150 57h6.3v3.3h-6.3zM18 60h9.3v3.3h-9.3zM153 60h9.3v3.3h-9.3zM12 63h9.3v3.3h-9.3zM159 63h9.3v3.3h-9.3zM6 66h9.3v3.3h-9.3zM168 66h9.3v3.3h-9.3zM0 69h9.3v3.3h-9.3zM174 69h9.3v3.3h-9.3zM0 72h3.3v3.3h-3.3zM180 72h3.3v3.3h-3.3zM0 99h6.3v3.3h-6.3zM177 99h6.3v3.3h-6.3zM3 102h9.3v3.3h-9.3zM171 102h9.3v3.3h-9.3zM9 105h9.3v3.3h-9.3zM162 105h9.3v3.3h-9.3zM15 108h9.3v3.3h-9.3zM156 108h9.3v3.3h-9.3zM24 111h6.3v3.3h-6.3zM150 111h9.3v3.3h-9.3zM30 114h6.3v3.3h-6.3zM147 114h6.3v3.3h-6.3zM33 117h6.3v3.3h-6.3zM141 117h6.3v3.3h-6.3zM39 120h6.3v3.3h-6.3zM138 120h6.3v3.3h-6.3zM42 123h6.3v3.3h-6.3zM135 123h3.3v3.3h-3.3zM45 126h6.3v3.3h-6.3zM132 126h3.3v3.3h-3.3zM48 129h6.3v3.3h-6.3zM129 129h3.3v3.3h-3.3zM51 132h6.3v3.3h-6.3zM126 132h3.3v3.3h-3.3zM54 135h3.3v3.3h-3.3zM123 135h3.3v3.3h-3.3zM57 138h3.3v3.3h-3.3zM120 138h6.3v3.3h-6.3zM57 141h6.3v3.3h-6.3zM120 141h3.3v3.3h-3.3zM60 144h3.3v3.3h-3.3zM117 144h3.3v3.3h-3.3zM60 147h6.3v3.3h-6.3zM117 147h3.3v3.3h-3.3zM63 150h3.3v3.3h-3.3zM114 150h3.3v3.3h-3.3zM63 153h6.3v3.3h-6.3zM114 153h3.3v3.3h-3.3zM66 156h3.3v3.3h-3.3zM111 156h3.3v3.3h-3.3zM66 159h6.3v3.3h-6.3zM111 159h3.3v3.3h-3.3zM69 162h3.3v3.3h-3.3zM108 162h6.3v3.3h-6.3zM69 165h6.3v3.3h-6.3zM108 165h3.3v3.3h-3.3zM72 168h3.3v3.3h-3.3zM105 168h6.3v3.3h-6.3zM72 171h6.3v3.3h-6.3zM105 171h3.3v3.3h-3.3z" fill="#868ac8"/>
<path d="M75 0h6.3v3.3h-6.3zM99 0h6.3v3.3h-6.3zM75 3h6.3v3.3h-6.3zM102 3h6.3v3.3h-6.3zM72 6h6.3v3.3h-6.3zM102 6h6.3v3.3h-6.3zM72 9h3.3v3.3h-3.3zM105 9h3.3v3.3h-3.3zM69 12h6.3v3.3h-6.3zM108 12h3.3v3.3h-3.3zM69 15h3.3v3.3h-3.3zM108 15h3.3v3.3h-3.3zM66 18h6.3v3.3h-6.3zM111 18h3.3v3.3h-3.3zM66 21h3.3v3.3h-3.3zM111 21h3.3v3.3h-3.3zM63 24h6.3v3.3h-6.3zM114 24h3.3v3.3h-3.3zM63 27h3.3v3.3h-3.3zM114 27h3.3v3.3h-3.3zM60 30h6.3v3.3h-6.3zM117 30h3.3v3.3h-3.3zM60 33h3.3v3.3h-3.3zM117 33h6.3v3.3h-6.3zM57 36h3.3v3.3h-3.3zM120 36h3.3v3.3h-3.3zM54 39h6.3v3.3h-6.3zM123 39h3.3v3.3h-3.3zM51 42h6.3v3.3h-6.3zM126 42h3.3v3.3h-3.3zM48 45h6.3v3.3h-6.3zM129 45h3.3v3.3h-3.3zM45 48h6.3v3.3h-6.3zM132 48h3.3v3.3h-3.3zM42 51h6.3v3.3h-6.3zM135 51h3.3v3.3h-3.3zM39 54h3.3v3.3h-3.3zM138 54h6.3v3.3h-6.3zM33 57h6.3v3.3h-6.3zM141 57h9.3v3.3h-9.3zM27 60h6.3v3.3h-6.3zM147 60h6.3v3.3h-6.3zM21 63h9.3v3.3h-9.3zM153 63h6.3v3.3h-6.3zM15 66h9.3v3.3h-9.3zM159 66h9.3v3.3h-9.3zM9 69h9.3v3.3h-9.3zM165 69h9.3v3.3h-9.3zM3 72h9.3v3.3h-9.3zM171 72h9.3v3.3h-9.3zM0 75h6.3v3.3h-6.3zM174 75h9.3v3.3h-9.3zM0 78h3.3v3.3h-3.3zM180 78h3.3v3.3h-3.3zM180 81h3.3v3.3h-3.3zM180 90h3.3v3.3h-3.3zM0 93h6.3v3.3h-6.3zM177 93h6.3v3.3h-6.3zM0 96h9.3v3.3h-9.3zM171 96h12.3v3.3h-12.3zM6 99h9.3v3.3h-9.3zM168 99h9.3v3.3h-9.3zM12 102h9.3v3.3h-9.3zM162 102h9.3v3.3h-9.3zM18 105h9.3v3.3h-9.3zM156 105h6.3v3.3h-6.3zM24 108h9.3v3.3h-9.3zM150 108h6.3v3.3h-6.3zM30 111h6.3v3.3h-6.3zM144 111h6.3v3.3h-6.3zM36 114h6.3v3.3h-6.3zM141 114h6.3v3.3h-6.3zM39 117h6.3v3.3h-6.3zM135 117h6.3v3.3h-6.3zM45 120h3.3v3.3h-3.3zM132 120h6.3v3.3h-6.3zM48 123h3.3v3.3h-3.3zM129 123h6.3v3.3h-6.3zM51 126h3.3v3.3h-3.3zM126 126h6.3v3.3h-6.3zM54 129h3.3v3.3h-3.3zM123 129h6.3v3.3h-6.3zM57 132h3.3v3.3h-3.3zM120 132h6.3v3.3h-6.3zM57 135h6.3v3.3h-6.3zM120 135h3.3v3.3h-3.3zM60 138h3.3v3.3h-3.3zM117 138h3.3v3.3h-3.3zM63 141h3.3v3.3h-3.3zM114 141h6.3v3.3h-6.3zM63 144h3.3v3.3h-3.3zM114 144h3.3v3.3h-3.3zM66 147h3.3v3.3h-3.3zM111 147h6.3v3.3h-6.3zM66 150h6.3v3.3h-6.3zM111 150h3.3v3.3h-3.3zM69 153h3.3v3.3h-3.3zM108 153h6.3v3.3h-6.3zM69 156h6.3v3.3h-6.3zM108 156h3.3v3.3h-3.3zM72 159h3.3v3.3h-3.3zM105 159h6.3v3.3h-6.3zM72 162h6.3v3.3h-6.3zM105 162h3.3v3.3h-3.3zM75 165h3.3v3.3h-3.3zM102 165h6.3v3.3h-6.3zM75 168h6.3v3.3h-6.3zM102 168h3.3v3.3h-3.3zM78 171h6.3v3.3h-6.3zM99 171h6.3v3.3h-6.3z" fill="#7d80c4"/>
<path d="M81 0h18.3v3.3h-18.3zM81 3h21.3v3.3h-21.3zM78 6h6.3v3.3h-6.3zM96 6h6.3v3.3h-6.3zM75 9h6.3v3.3h-6.3zM99 9h6.3v3.3h-6.3zM75 12h6.3v3.3h-6.3zM102 12h6.3v3.3h-6.3zM72 15h6.3v3.3h-6.3zM105 15h3.3v3.3h-3.3zM72 18h3.3v3.3h-3.3zM105 18h6.3v3.3h-6.3zM69 21h6.3v3.3h-6.3zM108 21h3.3v3.3h-3.3zM69 24h3.3v3.3h-3.3zM108 24h6.3v3.3h-6.3zM66 27h3.3v3.3h-3.3zM111 27h3.3v3.3h-3.3zM66 30h3.3v3.3h-3.3zM114 30h3.3v3.3h-3.3zM63 33h3.3v3.3h-3.3zM114 33h3.3v3.3h-3.3zM60 36h6.3v3.3h-6.3zM117 36h3.3v3.3h-3.3zM60 39h3.3v3.3h-3.3zM120 39h3.3v3.3h-3.3zM57 42h3.3v3.3h-3.3zM120 42h6.3v3.3h-6.3zM54 45h3.3v3.3h-3.3zM123 45h6.3v3.3h-6.3zM51 48h3.3v3.3h-3.3zM126 48h6.3v3.3h-6.3zM48 51h3.3v3.3h-3.3zM129 51h6.3v3.3h-6.3zM42 54h6.3v3.3h-6.3zM132 54h6.3v3.3h-6.3zM39 57h6.3v3.3h-6.3zM138 57h3.3v3.3h-3.3zM33 60h6.3v3.3h-6.3zM141 60h6.3v3.3h-6.3zM30 63h6.3v3.3h-6.3zM147 63h6.3v3.3h-6.3zM24 66h6.3v3.3h-6.3zM150 66h9.3v3.3h-9.3zM18 69h6.3v3.3h-6.3zM156 69h9.3v3.3h-9.3zM12 72h9.3v3.3h-9.3zM162 72h9.3v3.3h-9.3zM6 75h9.3v3.3h-9.3zM165 75h9.3v3.3h-9.3zM3 78h9.3v3.3h-9.3zM168 78h12.3v3.3h-12.3zM0 81h9.3v3.3h-9.3zM171 81h9.3v3.3h-9.3zM0 84h9.3v3.3h-9.3zM171 84h12.3v3.3h-12.3zM0 87h9.3v3.3h-9.3zM171 87h12.3v3.3h-12.3zM0 90h12.3v3.3h-12.3zM171 90h9.3v3.3h-9.3zM6 93h9.3v3.3h-9.3zM168 93h9.3v3.3h-9.3zM9 96h9.3v3.3h-9.3zM162 96h9.3v3.3h-9.3zM15 99h9.3v3.3h-9.3zM159 99h9.3v3.3h-9.3zM21 102h6.3v3.3h-6.3zM153 102h9.3v3.3h-9.3zM27 105h6.3v3.3h-6.3zM147 105h9.3v3.3h-9.3zM33 108h6.3v3.3h-6.3zM144 108h6.3v3.3h-6.3zM36 111h6.3v3.3h-6.3zM138 111h6.3v3.3h-6.3zM42 114h6.3v3.3h-6.3zM135 114h6.3v3.3h-6.3zM45 117h6.3v3.3h-6.3zM132 117h3.3v3.3h-3.3zM48 120h6.3v3.3h-6.3zM126 120h6.3v3.3h-6.3zM51 123h6.3v3.3h-6.3zM126 123h3.3v3.3h-3.3zM54 126h6.3v3.3h-6.3zM123 126h3.3v3.3h-3.3zM57 129h6.3v3.3h-6.3zM120 129h3.3v3.3h-3.3zM60 132h3.3v3.3h-3.3zM117 132h3.3v3.3h-3.3zM63 135h3.3v3.3h-3.3zM114 135h6.3v3.3h-6.3zM63 138h6.3v3.3h-6.3zM114 138h3.3v3.3h-3.3zM66 141h3.3v3.3h-3.3zM111 141h3.3v3.3h-3.3zM66 144h6.3v3.3h-6.3zM111 144h3.3v3.3h-3.3zM69 147h3.3v3.3h-3.3zM108 147h3.3v3.3h-3.3zM72 150h3.3v3.3h-3.3zM105 150h6.3v3.3h-6.3zM72 153h6.3v3.3h-6.3zM105 153h3.3v3.3h-3.3zM75 156h3.3v3.3h-3.3zM102 156h6.3v3.3h-6.3zM75 159h6.3v3.3h-6.3zM102 159h3.3v3.3h-3.3zM78 162h6.3v3.3h-6.3zM99 162h6.3v3.3h-6.3zM78 165h9.3v3.3h-9.3zM96 165h6.3v3.3h-6.3zM81 168h21.3v3.3h-21.3zM84 171h15.3v3.3h-15.3z" fill="#7477c0"/>
<path d="M84 6h12.3v3.3h-12.3zM81 9h18.3v3.3h-18.3zM81 12h3.3v3.3h-3.3zM96 12h6.3v3.3h-6.3zM78 15h3.3v3.3h-3.3zM99 15h6.3v3.3h-6.3zM75 18h3.3v3.3h-3.3zM102 18h3.3v3.3h-3.3zM75 21h3.3v3.3h-3.3zM105 21h3.3v3.3h-3.3zM72 24h3.3v3.3h-3.3zM105 24h3.3v3.3h-3.3zM69 27h3.3v3.3h-3.3zM108 27h3.3v3.3h-3.3zM69 30h3.3v3.3h-3.3zM111 30h3.3v3.3h-3.3zM66 33h3.3v3.3h-3.3zM111 33h3.3v3.3h-3.3zM114 36h3.3v3.3h-3.3zM63 39h3.3v3.3h-3.3zM117 39h3.3v3.3h-3.3zM60 42h3.3v3.3h-3.3zM117 42h3.3v3.3h-3.3zM57 45h3.3v3.3h-3.3zM120 45h3.3v3.3h-3.3zM54 48h3.3v3.3h-3.3zM123 48h3.3v3.3h-3.3zM51 51h3.3v3.3h-3.3zM126 51h3.3v3.3h-3.3zM48 54h3.3v3.3h-3.3zM129 54h3.3v3.3h-3.3zM45 57h3.3v3.3h-3.3zM132 57h6.3v3.3h-6.3zM39 60h6.3v3.3h-6.3zM138 60h3.3v3.3h-3.3zM36 63h3.3v3.3h-3.3zM141 63h6.3v3.3h-6.3zM30 66h6.3v3.3h-6.3zM147 66h3.3v3.3h-3.3zM24 69h6.3v3.3h-6.3zM150 69h6.3v3.3h-6.3zM21 72h6.3v3.3h-6.3zM156 72h6.3v3.3h-6.3zM15 75h6.3v3.3h-6.3zM159 75h6.3v3.3h-6.3zM12 78h6.3v3.3h-6.3zM162 78h6.3v3.3h-6.3zM9 81h6.3v3.3h-6.3zM165 81h6.3v3.3h-6.3zM9 84h6.3v3.3h-6.3zM165 84h6.3v3.3h-6.3zM9 87h6.3v3.3h-6.3zM165 87h6.3v3.3h-6.3zM12 90h6.3v3.3h-6.3zM165 90h6.3v3.3h-6.3zM15 93h6.3v3.3h-6.3zM162 93h6.3v3.3h-6.3zM18 96h6.3v3.3h-6.3zM156 96h6.3v3.3h-6.3zM24 99h3.3v3.3h-3.3zM153 99h6.3v3.3h-6.3zM27 102h6.3v3.3h-6.3zM147 102h6.3v3.3h-6.3zM33 105h3.3v3.3h-3.3zM144 105h3.3v3.3h-3.3zM39 108h3.3v3.3h-3.3zM138 108h6.3v3.3h-6.3zM42 111h3.3v3.3h-3.3zM135 111h3.3v3.3h-3.3zM48 114h3.3v3.3h-3.3zM132 114h3.3v3.3h-3.3zM51 117h3.3v3.3h-3.3zM129 117h3.3v3.3h-3.3zM54 120h3.3v3.3h-3.3zM57 123h3.3v3.3h-3.3zM123 123h3.3v3.3h-3.3zM60 126h3.3v3.3h-3.3zM120 126h3.3v3.3h-3.3zM117 129h3.3v3.3h-3.3zM63 132h3.3v3.3h-3.3zM114 132h3.3v3.3h-3.3zM66 135h3.3v3.3h-3.3zM111 138h3.3v3.3h-3.3zM69 141h3.3v3.3h-3.3zM108 141h3.3v3.3h-3.3zM72 144h3.3v3.3h-3.3zM108 144h3.3v3.3h-3.3zM72 147h3.3v3.3h-3.3zM105 147h3.3v3.3h-3.3zM75 150h3.3v3.3h-3.3zM102 150h3.3v3.3h-3.3zM78 153h3.3v3.3h-3.3zM102 153h3.3v3.3h-3.3zM78 156h6.3v3.3h-6.3zM99 156h3.3v3.3h-3.3zM81 159h6.3v3.3h-6.3zM93 159h9.3v3.3h-9.3zM84 162h15.3v3.3h-15.3zM87 165h9.3v3.3h-9.3z" fill="#6a6ebb"/>
<path d="M84 12h12.3v3.3h-12.3zM81 15h3.3v3.3h-3.3zM96 15h3.3v3.3h-3.3zM78 18h3.3v3.3h-3.3zM99 18h3.3v3.3h-3.3zM102 21h3.3v3.3h-3.3zM75 24h3.3v3.3h-3.3zM72 27h3.3v3.3h-3.3zM105 27h3.3v3.3h-3.3zM108 30h3.3v3.3h-3.3zM69 33h3.3v3.3h-3.3zM66 36h3.3v3.3h-3.3zM111 36h3.3v3.3h-3.3zM114 39h3.3v3.3h-3.3zM60 45h3.3v3.3h-3.3zM57 48h3.3v3.3h-3.3zM54 51h3.3v3.3h-3.3zM51 54h3.3v3.3h-3.3zM48 57h3.3v3.3h-3.3zM135 60h3.3v3.3h-3.3zM39 63h3.3v3.3h-3.3zM138 63h3.3v3.3h-3.3zM144 66h3.3v3.3h-3.3zM30 69h3.3v3.3h-3.3zM147 69h3.3v3.3h-3.3zM153 72h3.3v3.3h-3.3zM21 75h3.3v3.3h-3.3zM156 75h3.3v3.3h-3.3zM18 78h3.3v3.3h-3.3zM159 78h3.3v3.3h-3.3zM15 81h3.3v3.3h-3.3zM162 81h3.3v3.3h-3.3zM15 84h3.3v3.3h-3.3zM162 84h3.3v3.3h-3.3zM15 87h3.3v3.3h-3.3zM162 87h3.3v3.3h-3.3zM18 90h3.3v3.3h-3.3zM162 90h3.3v3.3h-3.3zM21 93h3.3v3.3h-3.3zM159 93h3.3v3.3h-3.3zM24 96h3.3v3.3h-3.3zM27 99h3.3v3.3h-3.3zM150 99h3.3v3.3h-3.3zM33 102h3.3v3.3h-3.3zM36 105h3.3v3.3h-3.3zM141 105h3.3v3.3h-3.3zM42 108h3.3v3.3h-3.3zM45 111h3.3v3.3h-3.3zM132 111h3.3v3.3h-3.3zM129 114h3.3v3.3h-3.3zM126 117h3.3v3.3h-3.3zM123 120h3.3v3.3h-3.3zM120 123h3.3v3.3h-3.3zM117 126h3.3v3.3h-3.3zM63 129h3.3v3.3h-3.3zM66 132h3.3v3.3h-3.3zM111 135h3.3v3.3h-3.3zM69 138h3.3v3.3h-3.3zM108 138h3.3v3.3h-3.3zM72 141h3.3v3.3h-3.3zM105 144h3.3v3.3h-3.3zM75 147h3.3v3.3h-3.3zM102 147h3.3v3.3h-3.3zM78 150h3.3v3.3h-3.3zM81 153h3.3v3.3h-3.3zM99 153h3.3v3.3h-3.3zM84 156h3.3v3.3h-3.3zM93 156h6.3v3.3h-6.3zM87 159h6.3v3.3h-6.3z" fill="#6c6fbb"/>
<path d="M84 15h12.3v3.3h-12.3zM81 18h3.3v3.3h-3.3zM96 18h3.3v3.3h-3.3zM78 21h3.3v3.3h-3.3zM99 21h3.3v3.3h-3.3zM102 24h3.3v3.3h-3.3zM75 27h3.3v3.3h-3.3zM72 30h3.3v3.3h-3.3zM108 33h3.3v3.3h-3.3zM66 39h3.3v3.3h-3.3zM63 42h3.3v3.3h-3.3zM114 42h3.3v3.3h-3.3zM117 45h3.3v3.3h-3.3zM120 48h3.3v3.3h-3.3zM123 51h3.3v3.3h-3.3zM126 54h3.3v3.3h-3.3zM129 57h3.3v3.3h-3.3zM45 60h3.3v3.3h-3.3zM132 60h3.3v3.3h-3.3zM42 63h3.3v3.3h-3.3zM36 66h3.3v3.3h-3.3zM141 66h3.3v3.3h-3.3zM33 69h3.3v3.3h-3.3zM27 72h3.3v3.3h-3.3zM150 72h3.3v3.3h-3.3zM24 75h3.3v3.3h-3.3zM153 75h3.3v3.3h-3.3zM21 78h3.3v3.3h-3.3zM156 78h3.3v3.3h-3.3zM18 81h3.3v3.3h-3.3zM159 81h3.3v3.3h-3.3zM18 84h3.3v3.3h-3.3zM159 84h3.3v3.3h-3.3zM18 87h3.3v3.3h-3.3zM159 87h3.3v3.3h-3.3zM21 90h3.3v3.3h-3.3zM159 90h3.3v3.3h-3.3zM24 93h3.3v3.3h-3.3zM156 93h3.3v3.3h-3.3zM27 96h3.3v3.3h-3.3zM153 96h3.3v3.3h-3.3zM30 99h3.3v3.3h-3.3zM147 99h3.3v3.3h-3.3zM144 102h3.3v3.3h-3.3zM39 105h3.3v3.3h-3.3zM138 105h3.3v3.3h-3.3zM135 108h3.3v3.3h-3.3zM48 111h3.3v3.3h-3.3zM51 114h3.3v3.3h-3.3zM54 117h3.3v3.3h-3.3zM57 120h3.3v3.3h-3.3zM60 123h3.3v3.3h-3.3zM63 126h3.3v3.3h-3.3zM114 129h3.3v3.3h-3.3zM111 132h3.3v3.3h-3.3zM69 135h3.3v3.3h-3.3zM105 141h3.3v3.3h-3.3zM75 144h3.3v3.3h-3.3zM102 144h3.3v3.3h-3.3zM78 147h3.3v3.3h-3.3zM81 150h3.3v3.3h-3.3zM99 150h3.3v3.3h-3.3zM84 153h3.3v3.3h-3.3zM93 153h6.3v3.3h-6.3zM87 156h6.3v3.3h-6.3z" fill="#6e70bb"/>
<path d="M84 18h12.3v3.3h-12.3zM81 21h3.3v3.3h-3.3zM96 21h3.3v3.3h-3.3zM78 24h3.3v3.3h-3.3zM99 24h3.3v3.3h-3.3zM102 27h3.3v3.3h-3.3zM105 30h3.3v3.3h-3.3zM72 33h3.3v3.3h-3.3zM69 36h3.3v3.3h-3.3zM108 36h3.3v3.3h-3.3zM111 39h3.3v3.3h-3.3zM63 45h3.3v3.3h-3.3zM60 48h3.3v3.3h-3.3zM57 51h3.3v3.3h-3.3zM54 54h3.3v3.3h-3.3zM51 57h3.3v3.3h-3.3zM48 60h3.3v3.3h-3.3zM135 63h3.3v3.3h-3.3zM39 66h3.3v3.3h-3.3zM144 69h3.3v3.3h-3.3zM30 72h3.3v3.3h-3.3zM147 72h3.3v3.3h-3.3zM27 75h3.3v3.3h-3.3zM150 75h3.3v3.3h-3.3zM24 78h3.3v3.3h-3.3zM153 78h3.3v3.3h-3.3zM21 81h3.3v3.3h-3.3zM156 81h3.3v3.3h-3.3zM21 84h3.3v3.3h-3.3zM156 84h3.3v3.3h-3.3zM21 87h3.3v3.3h-3.3zM156 87h3.3v3.3h-3.3zM24 90h3.3v3.3h-3.3zM156 90h3.3v3.3h-3.3zM27 93h3.3v3.3h-3.3zM153 93h3.3v3.3h-3.3zM30 96h3.3v3.3h-3.3zM150 96h3.3v3.3h-3.3zM33 99h3.3v3.3h-3.3zM36 102h3.3v3.3h-3.3zM141 102h3.3v3.3h-3.3zM42 105h3.3v3.3h-3.3zM45 108h3.3v3.3h-3.3zM132 108h3.3v3.3h-3.3zM129 111h3.3v3.3h-3.3zM126 114h3.3v3.3h-3.3zM123 117h3.3v3.3h-3.3zM120 120h3.3v3.3h-3.3zM117 123h3.3v3.3h-3.3zM114 126h3.3v3.3h-3.3zM66 129h3.3v3.3h-3.3zM69 132h3.3v3.3h-3.3zM108 135h3.3v3.3h-3.3zM72 138h3.3v3.3h-3.3zM105 138h3.3v3.3h-3.3zM75 141h3.3v3.3h-3.3zM78 144h3.3v3.3h-3.3zM81 147h3.3v3.3h-3.3zM99 147h3.3v3.3h-3.3zM84 150h3.3v3.3h-3.3zM96 150h3.3v3.3h-3.3zM87 153h6.3v3.3h-6.3z" fill="#7071bb"/>
<path d="M84 21h12.3v3.3h-12.3zM81 24h3.3v3.3h-3.3zM96 24h3.3v3.3h-3.3zM78 27h3.3v3.3h-3.3zM75 30h3.3v3.3h-3.3zM102 30h3.3v3.3h-3.3zM105 33h3.3v3.3h-3.3zM69 39h3.3v3.3h-3.3zM66 42h3.3v3.3h-3.3zM114 45h3.3v3.3h-3.3zM117 48h3.3v3.3h-3.3zM120 51h3.3v3.3h-3.3zM123 54h3.3v3.3h-3.3zM126 57h3.3v3.3h-3.3zM129 60h3.3v3.3h-3.3zM45 63h3.3v3.3h-3.3zM42 66h3.3v3.3h-3.3zM138 66h3.3v3.3h-3.3zM36 69h3.3v3.3h-3.3zM141 69h3.3v3.3h-3.3zM33 72h3.3v3.3h-3.3zM144 72h3.3v3.3h-3.3zM30 75h3.3v3.3h-3.3zM27 78h3.3v3.3h-3.3zM150 78h3.3v3.3h-3.3zM24 81h3.3v3.3h-3.3zM153 81h3.3v3.3h-3.3zM24 84h3.3v3.3h-3.3zM153 84h3.3v3.3h-3.3zM24 87h3.3v3.3h-3.3zM153 87h3.3v3.3h-3.3zM27 90h3.3v3.3h-3.3zM153 90h3.3v3.3h-3.3zM150 93h3.3v3.3h-3.3zM147 96h3.3v3.3h-3.3zM36 99h3.3v3.3h-3.3zM144 99h3.3v3.3h-3.3zM39 102h3.3v3.3h-3.3zM138 102h3.3v3.3h-3.3zM135 105h3.3v3.3h-3.3zM48 108h3.3v3.3h-3.3zM51 111h3.3v3.3h-3.3zM54 114h3.3v3.3h-3.3zM57 117h3.3v3.3h-3.3zM60 120h3.3v3.3h-3.3zM63 123h3.3v3.3h-3.3zM66 126h3.3v3.3h-3.3zM111 129h3.3v3.3h-3.3zM108 132h3.3v3.3h-3.3zM72 135h3.3v3.3h-3.3zM75 138h3.3v3.3h-3.3zM102 141h3.3v3.3h-3.3zM99 144h3.3v3.3h-3.3zM84 147h3.3v3.3h-3.3zM96 147h3.3v3.3h-3.3zM87 150h9.3v3.3h-9.3z" fill="#7272bb"/>
<path d="M84 24h6.3v3.3h-6.3zM93 24h3.3v3.3h-3.3zM81 27h3.3v3.3h-3.3zM99 27h3.3v3.3h-3.3zM78 30h3.3v3.3h-3.3zM75 33h3.3v3.3h-3.3zM72 36h3.3v3.3h-3.3zM105 36h3.3v3.3h-3.3zM108 39h3.3v3.3h-3.3zM111 42h3.3v3.3h-3.3zM66 45h3.3v3.3h-3.3zM63 48h3.3v3.3h-3.3zM60 51h3.3v3.3h-3.3zM57 54h3.3v3.3h-3.3zM54 57h3.3v3.3h-3.3zM51 60h3.3v3.3h-3.3zM132 63h3.3v3.3h-3.3zM135 66h3.3v3.3h-3.3zM39 69h3.3v3.3h-3.3zM138 69h3.3v3.3h-3.3zM36 72h3.3v3.3h-3.3zM33 75h3.3v3.3h-3.3zM147 75h3.3v3.3h-3.3zM30 78h3.3v3.3h-3.3zM27 81h3.3v3.3h-3.3zM150 81h3.3v3.3h-3.3zM27 84h3.3v3.3h-3.3zM150 84h3.3v3.3h-3.3zM27 87h3.3v3.3h-3.3zM150 87h3.3v3.3h-3.3zM150 90h3.3v3.3h-3.3zM30 93h3.3v3.3h-3.3zM147 93h3.3v3.3h-3.3zM33 96h3.3v3.3h-3.3zM144 96h3.3v3.3h-3.3zM141 99h3.3v3.3h-3.3zM42 102h3.3v3.3h-3.3zM45 105h3.3v3.3h-3.3zM129 108h3.3v3.3h-3.3zM126 111h3.3v3.3h-3.3zM123 114h3.3v3.3h-3.3zM120 117h3.3v3.3h-3.3zM117 120h3.3v3.3h-3.3zM114 123h3.3v3.3h-3.3zM111 126h3.3v3.3h-3.3zM69 129h3.3v3.3h-3.3zM72 132h3.3v3.3h-3.3zM105 135h3.3v3.3h-3.3zM102 138h3.3v3.3h-3.3zM78 141h3.3v3.3h-3.3zM99 141h3.3v3.3h-3.3zM81 144h3.3v3.3h-3.3zM96 144h3.3v3.3h-3.3zM87 147h9.3v3.3h-9.3z" fill="#7473bb"/>
<path d="M90 24h3.3v3.3h-3.3zM84 27h3.3v3.3h-3.3zM93 27h6.3v3.3h-6.3zM99 30h3.3v3.3h-3.3zM102 33h3.3v3.3h-3.3zM75 36h3.3v3.3h-3.3zM72 39h3.3v3.3h-3.3zM69 42h3.3v3.3h-3.3zM111 45h3.3v3.3h-3.3zM114 48h3.3v3.3h-3.3zM117 51h3.3v3.3h-3.3zM120 54h3.3v3.3h-3.3zM123 57h3.3v3.3h-3.3zM126 60h3.3v3.3h-3.3zM48 63h3.3v3.3h-3.3zM129 63h3.3v3.3h-3.3zM45 66h3.3v3.3h-3.3zM42 69h3.3v3.3h-3.3zM141 72h3.3v3.3h-3.3zM144 75h3.3v3.3h-3.3zM33 78h3.3v3.3h-3.3zM147 78h3.3v3.3h-3.3zM30 81h3.3v3.3h-3.3zM147 81h3.3v3.3h-3.3zM30 84h3.3v3.3h-3.3zM30 87h3.3v3.3h-3.3zM30 90h3.3v3.3h-3.3zM147 90h3.3v3.3h-3.3zM33 93h3.3v3.3h-3.3zM144 93h3.3v3.3h-3.3zM36 96h3.3v3.3h-3.3zM141 96h3.3v3.3h-3.3zM39 99h3.3v3.3h-3.3zM138 99h3.3v3.3h-3.3zM135 102h3.3v3.3h-3.3zM132 105h3.3v3.3h-3.3zM51 108h3.3v3.3h-3.3zM54 111h3.3v3.3h-3.3zM57 114h3.3v3.3h-3.3zM60 117h3.3v3.3h-3.3zM63 120h3.3v3.3h-3.3zM66 123h3.3v3.3h-3.3zM108 129h3.3v3.3h-3.3zM105 132h3.3v3.3h-3.3zM75 135h3.3v3.3h-3.3zM102 135h3.3v3.3h-3.3zM78 138h3.3v3.3h-3.3zM99 138h3.3v3.3h-3.3zM81 141h3.3v3.3h-3.3zM96 141h3.3v3.3h-3.3zM84 144h12.3v3.3h-12.3z" fill="#7674bb"/>
<path d="M87 27h6.3v3.3h-6.3zM81 30h6.3v3.3h-6.3zM96 30h3.3v3.3h-3.3zM78 33h3.3v3.3h-3.3zM99 33h3.3v3.3h-3.3zM102 36h3.3v3.3h-3.3zM105 39h3.3v3.3h-3.3zM108 42h3.3v3.3h-3.3zM69 45h3.3v3.3h-3.3zM66 48h3.3v3.3h-3.3zM63 51h3.3v3.3h-3.3zM60 54h3.3v3.3h-3.3zM57 57h3.3v3.3h-3.3zM54 60h3.3v3.3h-3.3zM51 63h3.3v3.3h-3.3zM132 66h3.3v3.3h-3.3zM135 69h3.3v3.3h-3.3zM39 72h3.3v3.3h-3.3zM138 72h3.3v3.3h-3.3zM36 75h3.3v3.3h-3.3zM141 75h3.3v3.3h-3.3zM144 78h3.3v3.3h-3.3zM33 81h3.3v3.3h-3.3zM33 84h3.3v3.3h-3.3zM147 84h3.3v3.3h-3.3zM33 87h3.3v3.3h-3.3zM147 87h3.3v3.3h-3.3zM33 90h3.3v3.3h-3.3zM144 90h3.3v3.3h-3.3zM36 93h3.3v3.3h-3.3zM39 96h3.3v3.3h-3.3zM42 99h3.3v3.3h-3.3zM45 102h3.3v3.3h-3.3zM48 105h3.3v3.3h-3.3zM129 105h3.3v3.3h-3.3zM126 108h3.3v3.3h-3.3zM123 111h3.3v3.3h-3.3zM120 114h3.3v3.3h-3.3zM117 117h3.3v3.3h-3.3zM114 120h3.3v3.3h-3.3zM111 123h3.3v3.3h-3.3zM69 126h3.3v3.3h-3.3zM108 126h3.3v3.3h-3.3zM72 129h3.3v3.3h-3.3zM75 132h3.3v3.3h-3.3zM78 135h3.3v3.3h-3.3zM81 138h3.3v3.3h-3.3zM84 141h12.3v3.3h-12.3z" fill="#7875bb"/>
<path d="M87 30h9.3v3.3h-9.3zM81 33h3.3v3.3h-3.3zM96 33h3.3v3.3h-3.3zM78 36h3.3v3.3h-3.3zM75 39h3.3v3.3h-3.3zM72 42h3.3v3.3h-3.3zM108 45h3.3v3.3h-3.3zM111 48h3.3v3.3h-3.3zM114 51h3.3v3.3h-3.3zM117 54h3.3v3.3h-3.3zM120 57h3.3v3.3h-3.3zM123 60h3.3v3.3h-3.3zM126 63h3.3v3.3h-3.3zM48 66h3.3v3.3h-3.3zM129 66h3.3v3.3h-3.3zM45 69h3.3v3.3h-3.3zM42 72h3.3v3.3h-3.3zM39 75h3.3v3.3h-3.3zM36 78h3.3v3.3h-3.3zM141 78h3.3v3.3h-3.3zM36 81h3.3v3.3h-3.3zM144 81h3.3v3.3h-3.3zM144 84h3.3v3.3h-3.3zM144 87h3.3v3.3h-3.3zM36 90h3.3v3.3h-3.3zM141 93h3.3v3.3h-3.3zM138 96h3.3v3.3h-3.3zM135 99h3.3v3.3h-3.3zM132 102h3.3v3.3h-3.3zM51 105h3.3v3.3h-3.3zM54 108h3.3v3.3h-3.3zM57 111h3.3v3.3h-3.3zM60 114h3.3v3.3h-3.3zM63 117h3.3v3.3h-3.3zM66 120h3.3v3.3h-3.3zM69 123h3.3v3.3h-3.3zM105 129h3.3v3.3h-3.3zM102 132h3.3v3.3h-3.3zM81 135h3.3v3.3h-3.3zM99 135h3.3v3.3h-3.3zM84 138h3.3v3.3h-3.3zM93 138h6.3v3.3h-6.3z" fill="#7a76bb"/>
<path d="M84 33h12.3v3.3h-12.3zM81 36h3.3v3.3h-3.3zM99 36h3.3v3.3h-3.3zM102 39h3.3v3.3h-3.3zM105 42h3.3v3.3h-3.3zM72 45h3.3v3.3h-3.3zM69 48h3.3v3.3h-3.3zM66 51h3.3v3.3h-3.3zM63 54h3.3v3.3h-3.3zM60 57h3.3v3.3h-3.3zM57 60h3.3v3.3h-3.3zM54 63h3.3v3.3h-3.3zM51 66h3.3v3.3h-3.3zM132 69h3.3v3.3h-3.3zM135 72h3.3v3.3h-3.3zM42 75h3.3v3.3h-3.3zM138 75h3.3v3.3h-3.3zM39 78h3.3v3.3h-3.3zM141 81h3.3v3.3h-3.3zM36 84h3.3v3.3h-3.3zM141 84h3.3v3.3h-3.3zM36 87h3.3v3.3h-3.3zM141 87h3.3v3.3h-3.3zM39 90h3.3v3.3h-3.3zM141 90h3.3v3.3h-3.3zM39 93h3.3v3.3h-3.3zM138 93h3.3v3.3h-3.3zM42 96h3.3v3.3h-3.3zM135 96h3.3v3.3h-3.3zM45 99h3.3v3.3h-3.3zM132 99h3.3v3.3h-3.3zM48 102h3.3v3.3h-3.3zM129 102h3.3v3.3h-3.3zM126 105h3.3v3.3h-3.3zM123 108h3.3v3.3h-3.3zM120 111h3.3v3.3h-3.3zM117 114h3.3v3.3h-3.3zM114 117h3.3v3.3h-3.3zM111 120h3.3v3.3h-3.3zM108 123h3.3v3.3h-3.3zM72 126h3.3v3.3h-3.3zM105 126h3.3v3.3h-3.3zM75 129h3.3v3.3h-3.3zM102 129h3.3v3.3h-3.3zM78 132h3.3v3.3h-3.3zM99 132h3.3v3.3h-3.3zM84 135h3.3v3.3h-3.3zM96 135h3.3v3.3h-3.3zM87 138h6.3v3.3h-6.3z" fill="#7c77bb"/>
<path d="M84 36h3.3v3.3h-3.3zM93 36h6.3v3.3h-6.3zM78 39h3.3v3.3h-3.3zM99 39h3.3v3.3h-3.3zM75 42h3.3v3.3h-3.3zM102 42h3.3v3.3h-3.3zM105 45h3.3v3.3h-3.3zM108 48h3.3v3.3h-3.3zM111 51h3.3v3.3h-3.3zM114 54h3.3v3.3h-3.3zM117 57h3.3v3.3h-3.3zM120 60h3.3v3.3h-3.3zM123 63h3.3v3.3h-3.3zM126 66h3.3v3.3h-3.3zM48 69h3.3v3.3h-3.3zM129 69h3.3v3.3h-3.3zM45 72h3.3v3.3h-3.3zM132 72h3.3v3.3h-3.3zM135 75h3.3v3.3h-3.3zM138 78h3.3v3.3h-3.3zM39 81h3.3v3.3h-3.3zM138 81h3.3v3.3h-3.3zM39 84h3.3v3.3h-3.3zM39 87h3.3v3.3h-3.3zM138 90h3.3v3.3h-3.3zM42 93h3.3v3.3h-3.3zM45 96h3.3v3.3h-3.3zM48 99h3.3v3.3h-3.3zM51 102h3.3v3.3h-3.3zM54 105h3.3v3.3h-3.3zM57 108h3.3v3.3h-3.3zM60 111h3.3v3.3h-3.3zM63 114h3.3v3.3h-3.3zM66 117h3.3v3.3h-3.3zM69 120h3.3v3.3h-3.3zM72 123h3.3v3.3h-3.3zM75 126h3.3v3.3h-3.3zM78 129h3.3v3.3h-3.3zM81 132h3.3v3.3h-3.3zM96 132h3.3v3.3h-3.3zM87 135h9.3v3.3h-9.3z" fill="#7f78ba"/>
<path d="M87 36h6.3v3.3h-6.3zM81 39h3.3v3.3h-3.3zM96 39h3.3v3.3h-3.3zM78 42h3.3v3.3h-3.3zM75 45h3.3v3.3h-3.3zM72 48h3.3v3.3h-3.3zM69 51h3.3v3.3h-3.3zM66 54h3.3v3.3h-3.3zM63 57h3.3v3.3h-3.3zM60 60h3.3v3.3h-3.3zM57 63h3.3v3.3h-3.3zM54 66h3.3v3.3h-3.3zM51 69h3.3v3.3h-3.3zM48 72h3.3v3.3h-3.3zM45 75h3.3v3.3h-3.3zM42 78h3.3v3.3h-3.3zM135 78h3.3v3.3h-3.3zM42 81h3.3v3.3h-3.3zM138 84h3.3v3.3h-3.3zM42 87h3.3v3.3h-3.3zM138 87h3.3v3.3h-3.3zM42 90h3.3v3.3h-3.3zM135 90h3.3v3.3h-3.3zM135 93h3.3v3.3h-3.3zM132 96h3.3v3.3h-3.3zM129 99h3.3v3.3h-3.3zM126 102h3.3v3.3h-3.3zM123 105h3.3v3.3h-3.3zM120 108h3.3v3.3h-3.3zM117 111h3.3v3.3h-3.3zM114 114h3.3v3.3h-3.3zM111 117h3.3v3.3h-3.3zM108 120h3.3v3.3h-3.3zM105 123h3.3v3.3h-3.3zM102 126h3.3v3.3h-3.3zM81 129h3.3v3.3h-3.3zM99 129h3.3v3.3h-3.3zM84 132h12.3v3.3h-12.3z" fill="#8279ba"/>
<path d="M84 39h12.3v3.3h-12.3zM81 42h3.3v3.3h-3.3zM99 42h3.3v3.3h-3.3zM102 45h3.3v3.3h-3.3zM105 48h3.3v3.3h-3.3zM108 51h3.3v3.3h-3.3zM111 54h3.3v3.3h-3.3zM114 57h3.3v3.3h-3.3zM117 60h3.3v3.3h-3.3zM120 63h3.3v3.3h-3.3zM123 66h3.3v3.3h-3.3zM126 69h3.3v3.3h-3.3zM129 72h3.3v3.3h-3.3zM132 75h3.3v3.3h-3.3zM45 78h3.3v3.3h-3.3zM135 81h3.3v3.3h-3.3zM42 84h3.3v3.3h-3.3zM135 84h3.3v3.3h-3.3zM135 87h3.3v3.3h-3.3zM45 90h3.3v3.3h-3.3zM45 93h3.3v3.3h-3.3zM132 93h3.3v3.3h-3.3zM48 96h3.3v3.3h-3.3zM51 99h3.3v3.3h-3.3zM54 102h3.3v3.3h-3.3zM57 105h3.3v3.3h-3.3zM60 108h3.3v3.3h-3.3zM63 111h3.3v3.3h-3.3zM66 114h3.3v3.3h-3.3zM69 117h3.3v3.3h-3.3zM72 120h3.3v3.3h-3.3zM75 123h3.3v3.3h-3.3zM78 126h3.3v3.3h-3.3zM99 126h3.3v3.3h-3.3zM84 129h3.3v3.3h-3.3zM96 129h3.3v3.3h-3.3z" fill="#847aba"/>
<path d="M84 42h3.3v3.3h-3.3zM93 42h6.3v3.3h-6.3zM78 45h3.3v3.3h-3.3zM99 45h3.3v3.3h-3.3zM75 48h3.3v3.3h-3.3zM72 51h3.3v3.3h-3.3zM69 54h3.3v3.3h-3.3zM66 57h3.3v3.3h-3.3zM63 60h3.3v3.3h-3.3zM60 63h3.3v3.3h-3.3zM57 66h3.3v3.3h-3.3zM54 69h3.3v3.3h-3.3zM51 72h3.3v3.3h-3.3zM48 75h3.3v3.3h-3.3zM129 75h3.3v3.3h-3.3zM132 78h3.3v3.3h-3.3zM45 81h3.3v3.3h-3.3zM132 81h3.3v3.3h-3.3zM45 84h3.3v3.3h-3.3zM45 87h3.3v3.3h-3.3zM132 90h3.3v3.3h-3.3zM48 93h3.3v3.3h-3.3zM129 96h3.3v3.3h-3.3zM126 99h3.3v3.3h-3.3zM123 102h3.3v3.3h-3.3zM120 105h3.3v3.3h-3.3zM117 108h3.3v3.3h-3.3zM114 111h3.3v3.3h-3.3zM111 114h3.3v3.3h-3.3zM108 117h3.3v3.3h-3.3zM105 120h3.3v3.3h-3.3zM102 123h3.3v3.3h-3.3zM81 126h3.3v3.3h-3.3zM87 129h9.3v3.3h-9.3z" fill="#867ab9"/>
<path d="M87 42h6.3v3.3h-6.3zM81 45h3.3v3.3h-3.3zM96 45h3.3v3.3h-3.3zM102 48h3.3v3.3h-3.3zM105 51h3.3v3.3h-3.3zM108 54h3.3v3.3h-3.3zM111 57h3.3v3.3h-3.3zM114 60h3.3v3.3h-3.3zM117 63h3.3v3.3h-3.3zM120 66h3.3v3.3h-3.3zM123 69h3.3v3.3h-3.3zM126 72h3.3v3.3h-3.3zM51 75h3.3v3.3h-3.3zM48 78h3.3v3.3h-3.3zM129 78h3.3v3.3h-3.3zM48 81h3.3v3.3h-3.3zM132 84h3.3v3.3h-3.3zM132 87h3.3v3.3h-3.3zM48 90h3.3v3.3h-3.3zM129 93h3.3v3.3h-3.3zM51 96h3.3v3.3h-3.3zM126 96h3.3v3.3h-3.3zM54 99h3.3v3.3h-3.3zM57 102h3.3v3.3h-3.3zM60 105h3.3v3.3h-3.3zM63 108h3.3v3.3h-3.3zM66 111h3.3v3.3h-3.3zM69 114h3.3v3.3h-3.3zM72 117h3.3v3.3h-3.3zM75 120h3.3v3.3h-3.3zM78 123h3.3v3.3h-3.3zM99 123h3.3v3.3h-3.3zM84 126h3.3v3.3h-3.3zM93 126h6.3v3.3h-6.3z" fill="#897bb9"/>
<path d="M84 45h6.3v3.3h-6.3zM93 45h3.3v3.3h-3.3zM78 48h3.3v3.3h-3.3zM99 48h3.3v3.3h-3.3zM75 51h3.3v3.3h-3.3zM72 54h3.3v3.3h-3.3zM69 57h3.3v3.3h-3.3zM66 60h3.3v3.3h-3.3zM63 63h3.3v3.3h-3.3zM60 66h3.3v3.3h-3.3zM57 69h3.3v3.3h-3.3zM54 72h3.3v3.3h-3.3zM126 75h3.3v3.3h-3.3zM51 78h3.3v3.3h-3.3zM129 81h3.3v3.3h-3.3zM48 84h3.3v3.3h-3.3zM129 84h3.3v3.3h-3.3zM48 87h3.3v3.3h-3.3zM129 87h3.3v3.3h-3.3zM129 90h3.3v3.3h-3.3zM51 93h3.3v3.3h-3.3zM123 99h3.3v3.3h-3.3zM120 102h3.3v3.3h-3.3zM117 105h3.3v3.3h-3.3zM114 108h3.3v3.3h-3.3zM111 111h3.3v3.3h-3.3zM108 114h3.3v3.3h-3.3zM105 117h3.3v3.3h-3.3zM78 120h3.3v3.3h-3.3zM102 120h3.3v3.3h-3.3zM81 123h3.3v3.3h-3.3zM96 123h3.3v3.3h-3.3zM87 126h6.3v3.3h-6.3z" fill="#8c7cb8"/>
<path d="M90 45h3.3v3.3h-3.3zM81 48h3.3v3.3h-3.3zM96 48h3.3v3.3h-3.3zM102 51h3.3v3.3h-3.3zM105 54h3.3v3.3h-3.3zM108 57h3.3v3.3h-3.3zM111 60h3.3v3.3h-3.3zM114 63h3.3v3.3h-3.3zM117 66h3.3v3.3h-3.3zM120 69h3.3v3.3h-3.3zM123 72h3.3v3.3h-3.3zM54 75h3.3v3.3h-3.3zM126 78h3.3v3.3h-3.3zM51 81h3.3v3.3h-3.3zM51 90h3.3v3.3h-3.3zM126 93h3.3v3.3h-3.3zM54 96h3.3v3.3h-3.3zM57 99h3.3v3.3h-3.3zM60 102h3.3v3.3h-3.3zM72 114h3.3v3.3h-3.3zM75 117h3.3v3.3h-3.3zM99 120h3.3v3.3h-3.3zM84 123h6.3v3.3h-6.3zM93 123h3.3v3.3h-3.3z" fill="#8e7db8"/>
<path d="M84 48h3.3v3.3h-3.3zM78 51h3.3v3.3h-3.3zM57 72h3.3v3.3h-3.3zM126 81h3.3v3.3h-3.3zM51 84h3.3v3.3h-3.3zM51 87h3.3v3.3h-3.3zM126 90h3.3v3.3h-3.3zM54 93h3.3v3.3h-3.3zM123 96h3.3v3.3h-3.3zM120 99h3.3v3.3h-3.3zM63 105h3.3v3.3h-3.3zM66 108h3.3v3.3h-3.3zM69 111h3.3v3.3h-3.3zM102 117h3.3v3.3h-3.3zM81 120h3.3v3.3h-3.3zM90 123h3.3v3.3h-3.3z" fill="#927eb7"/>
<path d="M87 48h9.3v3.3h-9.3zM99 51h3.3v3.3h-3.3zM75 54h3.3v3.3h-3.3zM72 57h3.3v3.3h-3.3zM69 60h3.3v3.3h-3.3zM66 63h3.3v3.3h-3.3zM63 66h3.3v3.3h-3.3zM60 69h3.3v3.3h-3.3zM123 75h3.3v3.3h-3.3zM54 78h3.3v3.3h-3.3zM126 84h3.3v3.3h-3.3zM126 87h3.3v3.3h-3.3zM57 96h3.3v3.3h-3.3zM117 102h3.3v3.3h-3.3zM114 105h3.3v3.3h-3.3zM111 108h3.3v3.3h-3.3zM108 111h3.3v3.3h-3.3zM105 114h3.3v3.3h-3.3zM78 117h3.3v3.3h-3.3zM96 120h3.3v3.3h-3.3z" fill="#967fb6"/>
<path d="M81 51h3.3v3.3h-3.3zM102 54h3.3v3.3h-3.3zM105 57h3.3v3.3h-3.3zM117 69h3.3v3.3h-3.3zM120 72h3.3v3.3h-3.3zM123 78h3.3v3.3h-3.3zM54 81h3.3v3.3h-3.3zM54 90h3.3v3.3h-3.3zM123 93h3.3v3.3h-3.3zM60 99h3.3v3.3h-3.3zM75 114h3.3v3.3h-3.3zM99 117h3.3v3.3h-3.3zM84 120h6.3v3.3h-6.3zM93 120h3.3v3.3h-3.3z" fill="#9a80b5"/>
<path d="M84 51h3.3v3.3h-3.3zM96 51h3.3v3.3h-3.3zM78 54h3.3v3.3h-3.3zM108 60h3.3v3.3h-3.3zM111 63h3.3v3.3h-3.3zM114 66h3.3v3.3h-3.3zM57 75h3.3v3.3h-3.3zM54 84h3.3v3.3h-3.3zM54 87h3.3v3.3h-3.3zM123 90h3.3v3.3h-3.3zM120 96h3.3v3.3h-3.3zM63 102h3.3v3.3h-3.3zM66 105h3.3v3.3h-3.3zM69 108h3.3v3.3h-3.3zM72 111h3.3v3.3h-3.3zM102 114h3.3v3.3h-3.3zM81 117h3.3v3.3h-3.3zM90 120h3.3v3.3h-3.3z" fill="#9e80b4"/>
<path d="M87 51h9.3v3.3h-9.3zM99 54h3.3v3.3h-3.3zM75 57h3.3v3.3h-3.3zM63 69h3.3v3.3h-3.3zM60 72h3.3v3.3h-3.3zM120 75h3.3v3.3h-3.3zM57 78h3.3v3.3h-3.3zM123 81h3.3v3.3h-3.3zM123 84h3.3v3.3h-3.3zM123 87h3.3v3.3h-3.3zM57 93h3.3v3.3h-3.3zM117 99h3.3v3.3h-3.3zM114 102h3.3v3.3h-3.3zM111 105h3.3v3.3h-3.3zM108 108h3.3v3.3h-3.3zM105 111h3.3v3.3h-3.3zM96 117h3.3v3.3h-3.3z" fill="#a281b4"/>
<path d="M81 54h3.3v3.3h-3.3zM102 57h3.3v3.3h-3.3zM72 60h3.3v3.3h-3.3zM69 63h3.3v3.3h-3.3zM66 66h3.3v3.3h-3.3zM117 72h3.3v3.3h-3.3zM57 90h3.3v3.3h-3.3zM120 93h3.3v3.3h-3.3zM60 96h3.3v3.3h-3.3zM78 114h3.3v3.3h-3.3zM84 117h3.3v3.3h-3.3zM93 117h3.3v3.3h-3.3z" fill="#a682b3"/>
<path d="M84 54h3.3v3.3h-3.3zM93 54h3.3v3.3h-3.3zM78 57h3.3v3.3h-3.3zM63 72h3.3v3.3h-3.3zM117 75h3.3v3.3h-3.3zM120 81h3.3v3.3h-3.3zM120 84h3.3v3.3h-3.3zM120 87h3.3v3.3h-3.3zM60 93h3.3v3.3h-3.3zM114 99h3.3v3.3h-3.3zM69 105h3.3v3.3h-3.3zM102 111h3.3v3.3h-3.3zM81 114h3.3v3.3h-3.3z" fill="#ae84b1"/>
<path d="M87 54h6.3v3.3h-6.3zM99 57h3.3v3.3h-3.3zM75 60h3.3v3.3h-3.3zM72 63h3.3v3.3h-3.3zM69 66h3.3v3.3h-3.3zM66 69h3.3v3.3h-3.3zM60 78h3.3v3.3h-3.3zM60 90h3.3v3.3h-3.3zM117 93h3.3v3.3h-3.3zM63 96h3.3v3.3h-3.3zM111 102h3.3v3.3h-3.3zM108 105h3.3v3.3h-3.3zM105 108h3.3v3.3h-3.3zM78 111h3.3v3.3h-3.3zM84 114h3.3v3.3h-3.3zM96 114h3.3v3.3h-3.3z" fill="#b386b0"/>
<path d="M96 54h3.3v3.3h-3.3zM105 60h3.3v3.3h-3.3zM108 63h3.3v3.3h-3.3zM111 66h3.3v3.3h-3.3zM114 69h3.3v3.3h-3.3zM60 75h3.3v3.3h-3.3zM120 78h3.3v3.3h-3.3zM57 81h3.3v3.3h-3.3zM57 84h3.3v3.3h-3.3zM57 87h3.3v3.3h-3.3zM120 90h3.3v3.3h-3.3zM117 96h3.3v3.3h-3.3zM63 99h3.3v3.3h-3.3zM66 102h3.3v3.3h-3.3zM72 108h3.3v3.3h-3.3zM75 111h3.3v3.3h-3.3zM99 114h3.3v3.3h-3.3zM87 117h6.3v3.3h-6.3z" fill="#aa83b2"/>
<path d="M81 57h3.3v3.3h-3.3zM96 57h3.3v3.3h-3.3zM102 60h3.3v3.3h-3.3zM105 63h3.3v3.3h-3.3zM111 69h3.3v3.3h-3.3zM114 72h3.3v3.3h-3.3zM117 78h3.3v3.3h-3.3zM60 81h3.3v3.3h-3.3zM60 87h3.3v3.3h-3.3zM66 99h3.3v3.3h-3.3zM75 108h3.3v3.3h-3.3zM99 111h3.3v3.3h-3.3zM87 114h9.3v3.3h-9.3z" fill="#b887af"/>
<path d="M84 57h3.3v3.3h-3.3zM78 60h3.3v3.3h-3.3zM108 66h3.3v3.3h-3.3zM63 75h3.3v3.3h-3.3zM117 81h3.3v3.3h-3.3zM60 84h3.3v3.3h-3.3zM117 90h3.3v3.3h-3.3zM114 96h3.3v3.3h-3.3zM69 102h3.3v3.3h-3.3zM72 105h3.3v3.3h-3.3zM102 108h3.3v3.3h-3.3zM81 111h3.3v3.3h-3.3z" fill="#bd88ae"/>
<path d="M87 57h9.3v3.3h-9.3zM99 60h3.3v3.3h-3.3zM75 63h3.3v3.3h-3.3zM69 69h3.3v3.3h-3.3zM66 72h3.3v3.3h-3.3zM114 75h3.3v3.3h-3.3zM63 78h3.3v3.3h-3.3zM117 84h3.3v3.3h-3.3zM117 87h3.3v3.3h-3.3zM63 93h3.3v3.3h-3.3zM111 99h3.3v3.3h-3.3zM108 102h3.3v3.3h-3.3zM105 105h3.3v3.3h-3.3zM96 111h3.3v3.3h-3.3z" fill="#c28aae"/>
<path d="M81 60h3.3v3.3h-3.3zM102 63h3.3v3.3h-3.3zM72 66h3.3v3.3h-3.3zM111 72h3.3v3.3h-3.3zM63 90h3.3v3.3h-3.3zM114 93h3.3v3.3h-3.3zM66 96h3.3v3.3h-3.3zM78 108h3.3v3.3h-3.3zM84 111h3.3v3.3h-3.3zM93 111h3.3v3.3h-3.3z" fill="#c78cad"/>
<path d="M84 60h3.3v3.3h-3.3zM93 60h3.3v3.3h-3.3zM78 63h3.3v3.3h-3.3zM69 72h3.3v3.3h-3.3zM114 81h3.3v3.3h-3.3zM114 84h3.3v3.3h-3.3zM114 87h3.3v3.3h-3.3zM66 93h3.3v3.3h-3.3zM108 99h3.3v3.3h-3.3zM105 102h3.3v3.3h-3.3zM102 105h3.3v3.3h-3.3zM81 108h3.3v3.3h-3.3z" fill="#d18eab"/>
<path d="M87 60h6.3v3.3h-6.3zM99 63h3.3v3.3h-3.3zM75 66h3.3v3.3h-3.3zM72 69h3.3v3.3h-3.3zM111 75h3.3v3.3h-3.3zM66 78h3.3v3.3h-3.3zM78 105h3.3v3.3h-3.3zM84 108h3.3v3.3h-3.3zM96 108h3.3v3.3h-3.3z" fill="#d690aa"/>
<path d="M96 60h3.3v3.3h-3.3zM105 66h3.3v3.3h-3.3zM108 69h3.3v3.3h-3.3zM66 75h3.3v3.3h-3.3zM114 78h3.3v3.3h-3.3zM63 81h3.3v3.3h-3.3zM63 84h3.3v3.3h-3.3zM63 87h3.3v3.3h-3.3zM114 90h3.3v3.3h-3.3zM111 96h3.3v3.3h-3.3zM69 99h3.3v3.3h-3.3zM72 102h3.3v3.3h-3.3zM75 105h3.3v3.3h-3.3zM99 108h3.3v3.3h-3.3zM87 111h6.3v3.3h-6.3z" fill="#cc8dac"/>
<path d="M81 63h3.3v3.3h-3.3zM102 66h3.3v3.3h-3.3zM105 69h3.3v3.3h-3.3zM108 72h3.3v3.3h-3.3zM66 81h3.3v3.3h-3.3zM66 90h3.3v3.3h-3.3zM111 93h3.3v3.3h-3.3zM69 96h3.3v3.3h-3.3zM72 99h3.3v3.3h-3.3zM75 102h3.3v3.3h-3.3zM93 108h3.3v3.3h-3.3z" fill="#d992a9"/>
<path d="M84 63h3.3v3.3h-3.3zM93 63h3.3v3.3h-3.3zM78 66h3.3v3.3h-3.3zM75 69h3.3v3.3h-3.3zM72 72h3.3v3.3h-3.3zM111 81h3.3v3.3h-3.3zM69 93h3.3v3.3h-3.3zM105 99h3.3v3.3h-3.3zM102 102h3.3v3.3h-3.3zM81 105h3.3v3.3h-3.3z" fill="#df95a6"/>
<path d="M87 63h6.3v3.3h-6.3zM99 66h3.3v3.3h-3.3zM108 75h3.3v3.3h-3.3zM69 78h3.3v3.3h-3.3zM111 84h3.3v3.3h-3.3zM111 87h3.3v3.3h-3.3zM96 105h3.3v3.3h-3.3z" fill="#e297a5"/>
<path d="M96 63h3.3v3.3h-3.3zM69 75h3.3v3.3h-3.3zM111 78h3.3v3.3h-3.3zM66 84h3.3v3.3h-3.3zM66 87h3.3v3.3h-3.3zM111 90h3.3v3.3h-3.3zM108 96h3.3v3.3h-3.3zM99 105h3.3v3.3h-3.3zM87 108h6.3v3.3h-6.3z" fill="#dc94a8"/>
<path d="M81 66h3.3v3.3h-3.3zM102 69h3.3v3.3h-3.3zM105 72h3.3v3.3h-3.3zM69 90h3.3v3.3h-3.3zM108 93h3.3v3.3h-3.3zM72 96h3.3v3.3h-3.3zM75 99h3.3v3.3h-3.3zM78 102h3.3v3.3h-3.3zM84 105h3.3v3.3h-3.3zM93 105h3.3v3.3h-3.3z" fill="#e599a4"/>
<path d="M84 66h3.3v3.3h-3.3zM78 69h3.3v3.3h-3.3zM75 72h3.3v3.3h-3.3zM108 81h3.3v3.3h-3.3zM108 90h3.3v3.3h-3.3zM72 93h3.3v3.3h-3.3zM102 99h3.3v3.3h-3.3zM81 102h3.3v3.3h-3.3z" fill="#eb9ca1"/>
<path d="M87 66h9.3v3.3h-9.3zM99 69h3.3v3.3h-3.3zM102 72h3.3v3.3h-3.3zM105 75h3.3v3.3h-3.3zM72 78h3.3v3.3h-3.3zM108 84h3.3v3.3h-3.3zM108 87h3.3v3.3h-3.3zM75 96h3.3v3.3h-3.3zM78 99h3.3v3.3h-3.3zM96 102h3.3v3.3h-3.3z" fill="#ee9ea0"/>
<path d="M96 66h3.3v3.3h-3.3zM72 75h3.3v3.3h-3.3zM108 78h3.3v3.3h-3.3zM69 81h3.3v3.3h-3.3zM69 84h3.3v3.3h-3.3zM69 87h3.3v3.3h-3.3zM105 96h3.3v3.3h-3.3zM99 102h3.3v3.3h-3.3zM87 105h6.3v3.3h-6.3z" fill="#e89aa2"/>
<path d="M81 69h3.3v3.3h-3.3zM72 90h3.3v3.3h-3.3zM105 93h3.3v3.3h-3.3zM99 99h3.3v3.3h-3.3zM84 102h3.3v3.3h-3.3z" fill="#ef9f9c"/>
<path d="M84 69h3.3v3.3h-3.3zM99 72h3.3v3.3h-3.3zM102 75h3.3v3.3h-3.3zM105 81h3.3v3.3h-3.3zM105 90h3.3v3.3h-3.3zM75 93h3.3v3.3h-3.3zM81 99h3.3v3.3h-3.3z" fill="#f1a194"/>
<path d="M87 69h9.3v3.3h-9.3zM75 78h3.3v3.3h-3.3zM105 84h3.3v3.3h-3.3zM105 87h3.3v3.3h-3.3zM102 93h3.3v3.3h-3.3zM78 96h3.3v3.3h-3.3zM96 99h3.3v3.3h-3.3z" fill="#f2a290"/>
<path d="M96 69h3.3v3.3h-3.3zM78 72h3.3v3.3h-3.3zM75 75h3.3v3.3h-3.3zM105 78h3.3v3.3h-3.3zM72 81h3.3v3.3h-3.3zM72 84h3.3v3.3h-3.3zM72 87h3.3v3.3h-3.3zM102 96h3.3v3.3h-3.3zM87 102h9.3v3.3h-9.3z" fill="#f0a098"/>
<path d="M81 72h3.3v3.3h-3.3zM78 75h3.3v3.3h-3.3zM75 90h3.3v3.3h-3.3zM99 96h3.3v3.3h-3.3zM84 99h3.3v3.3h-3.3zM93 99h3.3v3.3h-3.3z" fill="#f2a38c"/>
<path d="M84 72h3.3v3.3h-3.3zM93 72h3.3v3.3h-3.3zM78 78h3.3v3.3h-3.3zM102 81h3.3v3.3h-3.3zM102 87h3.3v3.3h-3.3zM99 93h3.3v3.3h-3.3zM96 96h3.3v3.3h-3.3z" fill="#f4a584"/>
<path d="M87 72h6.3v3.3h-6.3zM81 75h3.3v3.3h-3.3zM102 84h3.3v3.3h-3.3zM78 90h3.3v3.3h-3.3zM84 96h3.3v3.3h-3.3z" fill="#f5a680"/>
<path d="M96 72h3.3v3.3h-3.3zM99 75h3.3v3.3h-3.3zM102 78h3.3v3.3h-3.3zM75 81h3.3v3.3h-3.3zM75 84h3.3v3.3h-3.3zM75 87h3.3v3.3h-3.3zM102 90h3.3v3.3h-3.3zM78 93h3.3v3.3h-3.3zM81 96h3.3v3.3h-3.3zM87 99h6.3v3.3h-6.3z" fill="#f3a488"/>
<path d="M84 75h3.3v3.3h-3.3zM78 84h3.3v3.3h-3.3zM78 87h3.3v3.3h-3.3zM99 90h3.3v3.3h-3.3zM90 96h3.3v3.3h-3.3z" fill="#f6aa7a"/>
<path d="M87 75h6.3v3.3h-6.3zM96 78h3.3v3.3h-3.3zM99 84h3.3v3.3h-3.3zM81 90h3.3v3.3h-3.3zM84 93h3.3v3.3h-3.3z" fill="#f6ae74"/>
<path d="M93 75h3.3v3.3h-3.3zM99 87h3.3v3.3h-3.3z" fill="#f6ac76"/>
<path d="M96 75h3.3v3.3h-3.3zM99 78h3.3v3.3h-3.3zM93 96h3.3v3.3h-3.3z" fill="#f5a77e"/>
<path d="M81 78h3.3v3.3h-3.3zM99 81h3.3v3.3h-3.3zM96 93h3.3v3.3h-3.3z" fill="#f6ab78"/>
<path d="M84 78h3.3v3.3h-3.3zM81 84h3.3v3.3h-3.3zM81 87h3.3v3.3h-3.3zM90 93h3.3v3.3h-3.3z" fill="#f7b16f"/>
<path d="M87 78h6.3v3.3h-6.3zM96 84h3.3v3.3h-3.3zM93 90h3.3v3.3h-3.3z" fill="#f8b46e"/>
<path d="M93 78h3.3v3.3h-3.3zM96 81h3.3v3.3h-3.3zM96 87h3.3v3.3h-3.3zM84 90h3.3v3.3h-3.3z" fill="#f8b26e"/>
<path d="M78 81h3.3v3.3h-3.3zM81 93h3.3v3.3h-3.3zM87 96h3.3v3.3h-3.3z" fill="#f6a87c"/>
<path d="M81 81h3.3v3.3h-3.3zM96 90h3.3v3.3h-3.3zM87 93h3.3v3.3h-3.3z" fill="#f7b070"/>
<path d="M84 81h3.3v3.3h-3.3z" fill="#f8b56d"/>
<path d="M87 81h6.3v3.3h-6.3zM93 84h3.3v3.3h-3.3zM93 87h3.3v3.3h-3.3z" fill="#f8b86c"/>
<path d="M93 81h3.3v3.3h-3.3zM84 84h3.3v3.3h-3.3zM84 87h3.3v3.3h-3.3zM87 90h6.3v3.3h-6.3z" fill="#f8b66c"/>
<path d="M87 84h3.3v3.3h-3.3zM87 87h6.3v3.3h-6.3z" fill="#f9b96b"/>
<path d="M90 84h3.3v3.3h-3.3z" fill="#f9ba6a"/>
<path d="M93 93h3.3v3.3h-3.3z" fill="#f7af72"/>
</g>
<path d="M587.4 857.2L586.4 857.3L585.4 857.3L584.4 857.2L583.9 857.0L582.9 856.6L582.4 856.4L581.9 856.1L581.2 855.6L580.5 855.1L579.9 854.6L579.4 854.1L578.9 853.7L578.4 853.2L577.9 852.6L577.4 852.1L577.0 851.6L576.6 851.1L576.2 850.6L575.8 850.1L575.4 849.5L574.9 848.9L574.4 848.2L574.0 847.6L573.7 847.1L573.3 846.6L572.9 846.0L572.4 845.2L572.0 844.6L571.7 844.1L571.3 843.6L570.9 842.9L570.4 842.1L570.1 841.6L569.8 841.1L569.4 840.5L568.9 839.7L568.5 839.1L568.2 838.6L567.9 838.1L567.4 837.3L567.0 836.6L566.7 836.1L566.3 835.6L565.9 834.9L565.4 834.1L565.1 833.6L564.8 833.1L564.4 832.5L563.9 831.8L563.5 831.1L563.1 830.6L562.8 830.1L562.4 829.5L561.9 828.7L561.5 828.1L561.1 827.6L560.8 827.1L560.4 826.6L559.9 825.9L559.4 825.2L559.0 824.6L558.6 824.1L558.2 823.6L557.8 823.1L557.4 822.6L556.9 821.9L556.4 821.3L555.9 820.7L555.4 820.1L555.0 819.6L554.5 819.1L554.1 818.6L553.6 818.1L553.2 817.6L552.7 817.1L552.2 816.6L551.8 816.1L551.3 815.6L550.8 815.1L550.3 814.6L549.8 814.1L549.2 813.6L548.7 813.1L548.1 812.6L547.6 812.1L547.0 811.6L546.4 811.1L545.9 810.7L545.4 810.2L544.9 809.8L544.4 809.4L543.9 809.0L543.4 808.6L542.7 808.1L542.0 807.6L541.4 807.1L540.9 806.8L540.4 806.4L539.9 806.0L539.3 805.6L538.6 805.1L537.9 804.6L537.4 804.3L536.9 804.0L536.4 803.6L535.6 803.1L534.9 802.6L534.4 802.3L533.9 802.0L533.3 801.6L532.5 801.1L531.9 800.7L531.4 800.4L530.9 800.1L530.1 799.6L529.4 799.1L528.9 798.8L528.4 798.5L527.7 798.1L526.9 797.6L526.4 797.3L525.9 797.0L525.3 796.6L524.5 796.1L523.9 795.7L523.4 795.4L522.9 795.1L522.1 794.6L521.4 794.1L520.9 793.8L520.4 793.5L519.9 793.1L519.1 792.6L518.4 792.1L517.9 791.7L517.4 791.4L516.9 791.0L516.4 790.6L515.7 790.1L515.1 789.6L514.5 789.1L513.9 788.6L513.4 788.1L512.9 787.7L512.4 787.2L511.9 786.6L511.4 786.1L511.0 785.6L510.7 785.1L510.3 784.6L509.9 783.8L509.5 783.1L509.4 782.6L509.1 781.6L509.0 780.6L509.0 779.6L509.2 778.6L509.4 777.9L509.7 777.1L510.0 776.6L510.4 775.9L510.9 775.2L511.4 774.6L511.8 774.1L512.2 773.6L512.7 773.1L513.3 772.6L513.8 772.1L514.4 771.6L514.9 771.2L515.4 770.7L515.9 770.4L516.4 770.0L516.9 769.6L517.6 769.1L518.3 768.6L518.9 768.2L519.4 767.8L519.9 767.5L520.5 767.1L521.2 766.6L521.9 766.2L522.4 765.8L522.9 765.5L523.6 765.1L524.4 764.6L524.9 764.3L525.4 763.9L526.0 763.6L526.8 763.1L527.4 762.7L527.9 762.4L528.4 762.1L529.2 761.6L529.9 761.1L530.4 760.8L530.9 760.5L531.6 760.1L532.4 759.6L532.9 759.3L533.4 758.9L533.9 758.6L534.7 758.1L535.4 757.6L535.9 757.3L536.4 757.0L537.0 756.6L537.7 756.1L538.4 755.6L538.9 755.3L539.4 754.9L539.9 754.6L540.6 754.1L541.2 753.6L541.9 753.1L542.4 752.7L542.9 752.3L543.4 752.0L543.9 751.6L544.5 751.1L545.1 750.6L545.7 750.1L546.3 749.6L546.9 749.1L547.4 748.7L547.9 748.2L548.4 747.8L548.9 747.3L549.4 746.8L549.9 746.4L550.4 745.9L550.9 745.4L551.4 744.9L551.9 744.4L552.4 743.8L552.9 743.3L553.4 742.8L553.9 742.2L554.4 741.7L554.9 741.1L555.3 740.6L555.7 740.1L556.1 739.6L556.6 739.1L557.0 738.6L557.4 738.0L557.9 737.4L558.4 736.7L558.9 736.1L559.3 735.6L559.6 735.1L560.0 734.6L560.4 734.0L560.9 733.3L561.4 732.6L561.7 732.1L562.1 731.6L562.4 731.1L562.9 730.4L563.4 729.6L563.7 729.1L564.1 728.6L564.4 728.1L564.9 727.3L565.3 726.6L565.7 726.1L566.0 725.6L566.4 724.9L566.9 724.1L567.2 723.6L567.5 723.1L567.9 722.5L568.4 721.7L568.8 721.1L569.1 720.6L569.4 720.1L569.9 719.3L570.3 718.6L570.6 718.1L571.0 717.6L571.4 716.9L571.9 716.1L572.3 715.6L572.6 715.1L572.9 714.6L573.4 713.9L573.9 713.1L574.3 712.6L574.6 712.1L575.0 711.6L575.4 711.1L575.9 710.4L576.4 709.8L576.9 709.1L577.4 708.6L577.8 708.1L578.3 707.6L578.7 707.1L579.2 706.6L579.8 706.1L580.4 705.6L580.9 705.2L581.4 704.8L581.9 704.5L582.7 704.1L583.4 703.8L583.9 703.6L584.9 703.3L585.9 703.2L586.9 703.3L587.9 703.5L588.4 703.7L589.4 704.1L589.9 704.4L590.4 704.7L591.0 705.1L591.6 705.6L592.2 706.1L592.8 706.6L593.3 707.1L593.7 707.6L594.2 708.1L594.6 708.6L595.1 709.1L595.5 709.6L595.9 710.1L596.4 710.8L596.9 711.5L597.4 712.1L597.7 712.6L598.1 713.1L598.4 713.6L598.9 714.3L599.4 715.1L599.7 715.6L600.1 716.1L600.4 716.6L600.9 717.4L601.4 718.1L601.7 718.6L602.0 719.1L602.4 719.8L602.9 720.6L603.2 721.1L603.5 721.6L603.9 722.2L604.4 723.0L604.8 723.6L605.1 724.1L605.4 724.6L605.9 725.4L606.3 726.1L606.7 726.6L607.0 727.1L607.4 727.8L607.9 728.5L608.3 729.1L608.6 729.6L608.9 730.1L609.4 730.8L609.9 731.6L610.3 732.1L610.6 732.6L611.0 733.1L611.4 733.7L611.9 734.4L612.4 735.1L612.7 735.6L613.1 736.1L613.5 736.6L613.9 737.1L614.4 737.8L614.9 738.4L615.4 739.0L615.9 739.6L616.3 740.1L616.7 740.6L617.1 741.1L617.6 741.6L618.0 742.1L618.4 742.6L618.9 743.1L619.4 743.6L619.9 744.2L620.4 744.7L620.9 745.2L621.4 745.7L621.9 746.2L622.4 746.6L622.9 747.1L623.4 747.6L624.0 748.1L624.5 748.6L625.1 749.1L625.7 749.6L626.3 750.1L626.9 750.6L627.4 751.0L627.9 751.4L628.4 751.8L628.9 752.2L629.4 752.6L630.1 753.1L630.8 753.6L631.4 754.1L631.9 754.4L632.4 754.8L632.9 755.1L633.6 755.6L634.3 756.1L634.9 756.5L635.4 756.8L635.9 757.2L636.5 757.6L637.3 758.1L637.9 758.5L638.4 758.8L638.9 759.1L639.6 759.6L640.4 760.1L640.9 760.4L641.4 760.7L642.0 761.1L642.8 761.6L643.4 762.0L643.9 762.3L644.4 762.6L645.2 763.1L645.9 763.5L646.4 763.8L646.9 764.1L647.6 764.6L648.4 765.1L648.9 765.4L649.4 765.7L650.0 766.1L650.8 766.6L651.4 767.0L651.9 767.3L652.4 767.7L653.0 768.1L653.7 768.6L654.4 769.1L654.9 769.4L655.4 769.8L655.9 770.2L656.4 770.6L657.0 771.1L657.6 771.6L658.2 772.1L658.7 772.6L659.3 773.1L659.8 773.6L660.2 774.1L660.6 774.6L661.0 775.1L661.4 775.6L661.9 776.4L662.3 777.1L662.5 777.6L662.8 778.6L662.9 779.1L663.0 780.1L663.0 781.1L662.9 781.7L662.7 782.6L662.4 783.2L662.0 784.1L661.7 784.6L661.3 785.1L660.9 785.7L660.4 786.3L659.9 786.8L659.4 787.4L658.9 787.9L658.4 788.3L657.9 788.8L657.4 789.2L656.9 789.6L656.3 790.1L655.6 790.6L655.0 791.1L654.4 791.5L653.9 791.9L653.4 792.2L652.9 792.6L652.1 793.1L651.4 793.6L650.9 793.9L650.4 794.2L649.8 794.6L649.1 795.1L648.4 795.5L647.9 795.8L647.4 796.2L646.7 796.6L645.9 797.1L645.4 797.4L644.9 797.7L644.3 798.1L643.5 798.6L642.9 799.0L642.4 799.3L641.9 799.6L641.1 800.1L640.4 800.5L639.9 800.8L639.4 801.2L638.7 801.6L637.9 802.1L637.4 802.4L636.9 802.8L636.4 803.1L635.6 803.6L634.9 804.1L634.4 804.4L633.9 804.8L633.4 805.1L632.7 805.6L632.0 806.1L631.4 806.5L630.9 806.9L630.4 807.3L629.9 807.6L629.3 808.1L628.6 808.6L628.0 809.1L627.4 809.6L626.9 810.0L626.4 810.4L625.9 810.8L625.4 811.2L624.9 811.7L624.4 812.1L623.9 812.6L623.3 813.1L622.8 813.6L622.2 814.1L621.7 814.6L621.2 815.1L620.7 815.6L620.2 816.1L619.8 816.6L619.3 817.1L618.8 817.6L618.4 818.1L617.9 818.6L617.4 819.2L616.9 819.8L616.4 820.3L615.9 820.9L615.4 821.6L615.0 822.1L614.6 822.6L614.2 823.1L613.8 823.6L613.4 824.1L612.9 824.8L612.4 825.5L611.9 826.1L611.6 826.6L611.2 827.1L610.9 827.6L610.4 828.3L609.9 829.0L609.5 829.6L609.2 830.1L608.9 830.6L608.4 831.3L607.9 832.1L607.6 832.6L607.2 833.1L606.9 833.6L606.4 834.4L606.0 835.1L605.7 835.6L605.3 836.1L604.9 836.8L604.4 837.6L604.1 838.1L603.8 838.6L603.4 839.2L602.9 840.0L602.5 840.6L602.2 841.1L601.9 841.6L601.4 842.4L601.0 843.1L600.7 843.6L600.3 844.1L599.9 844.8L599.4 845.5L599.0 846.1L598.7 846.6L598.3 847.1L597.9 847.7L597.4 848.4L596.9 849.1L596.6 849.6L596.2 850.1L595.8 850.6L595.4 851.1L594.9 851.7L594.4 852.3L593.9 852.8L593.4 853.4L592.9 853.9L592.4 854.3L591.9 854.8L591.4 855.2L590.8 855.6L590.1 856.1L589.4 856.5L588.9 856.7L587.9 857.1L587.4 857.2Z" fill="none" stroke="#1c2690" stroke-width="3.3" stroke-linejoin="round"/>
<path d="M587.4 819.1L586.4 819.2L585.4 819.2L584.5 819.1L583.9 819.0L582.9 818.8L582.1 818.6L581.4 818.4L580.6 818.1L579.9 817.8L579.4 817.6L578.5 817.1L577.9 816.8L577.4 816.5L576.8 816.1L576.0 815.6L575.4 815.2L574.9 814.8L574.4 814.5L573.9 814.1L573.3 813.6L572.7 813.1L572.0 812.6L571.5 812.1L570.9 811.6L570.4 811.2L569.9 810.8L569.4 810.3L568.9 809.9L568.4 809.4L567.9 808.9L567.4 808.5L566.9 808.0L566.4 807.5L565.9 807.0L565.4 806.6L564.9 806.1L564.4 805.6L563.9 805.1L563.4 804.6L562.9 804.1L562.4 803.6L561.9 803.1L561.4 802.6L560.9 802.1L560.4 801.6L559.9 801.1L559.4 800.5L558.9 800.0L558.4 799.5L557.9 799.0L557.4 798.4L556.9 797.9L556.4 797.3L555.9 796.8L555.4 796.2L554.9 795.7L554.4 795.1L554.0 794.6L553.6 794.1L553.2 793.6L552.8 793.1L552.4 792.6L551.9 792.0L551.4 791.3L550.9 790.6L550.6 790.1L550.3 789.6L549.9 789.0L549.4 788.2L549.1 787.6L548.8 787.1L548.4 786.1L548.2 785.6L547.9 784.8L547.7 784.1L547.4 783.1L547.3 782.6L547.2 781.6L547.1 780.6L547.1 779.6L547.2 778.6L547.4 777.6L547.5 777.1L547.8 776.1L547.9 775.6L548.3 774.6L548.6 774.1L548.9 773.4L549.3 772.6L549.6 772.1L549.9 771.6L550.4 770.8L550.8 770.1L551.2 769.6L551.6 769.1L551.9 768.6L552.4 768.0L552.9 767.3L553.4 766.7L553.9 766.1L554.3 765.6L554.8 765.1L555.2 764.6L555.6 764.1L556.1 763.6L556.5 763.1L557.0 762.6L557.5 762.1L557.9 761.6L558.4 761.1L558.9 760.6L559.4 760.1L559.9 759.5L560.4 759.0L560.9 758.5L561.4 758.0L561.9 757.5L562.4 757.0L562.9 756.5L563.4 756.0L563.9 755.5L564.4 755.0L564.9 754.5L565.4 754.0L565.9 753.6L566.4 753.1L566.9 752.6L567.4 752.1L568.0 751.6L568.5 751.1L569.1 750.6L569.6 750.1L570.2 749.6L570.8 749.1L571.3 748.6L571.9 748.1L572.4 747.7L572.9 747.3L573.4 746.9L573.9 746.5L574.5 746.1L575.2 745.6L575.9 745.1L576.4 744.7L576.9 744.4L577.4 744.1L578.3 743.6L578.9 743.3L579.4 743.0L580.4 742.6L580.9 742.4L581.8 742.1L582.4 741.9L583.4 741.7L583.9 741.6L584.9 741.5L585.9 741.4L586.9 741.4L587.9 741.5L588.4 741.6L589.4 741.9L590.2 742.1L590.9 742.3L591.6 742.6L592.4 742.9L592.9 743.2L593.7 743.6L594.4 744.0L594.9 744.3L595.4 744.6L596.1 745.1L596.8 745.6L597.4 746.0L597.9 746.4L598.4 746.8L598.9 747.1L599.5 747.6L600.1 748.1L600.7 748.6L601.2 749.1L601.8 749.6L602.4 750.1L602.9 750.6L603.4 751.0L603.9 751.5L604.4 751.9L604.9 752.4L605.4 752.9L605.9 753.4L606.4 753.8L606.9 754.3L607.4 754.8L607.9 755.3L608.4 755.8L608.9 756.3L609.4 756.8L609.9 757.3L610.4 757.8L610.9 758.3L611.4 758.8L611.9 759.3L612.4 759.8L612.9 760.4L613.4 760.9L613.9 761.4L614.4 761.9L614.9 762.5L615.4 763.0L615.9 763.6L616.4 764.1L616.8 764.6L617.2 765.1L617.7 765.6L618.1 766.1L618.5 766.6L618.9 767.1L619.4 767.7L619.9 768.4L620.4 769.0L620.8 769.6L621.2 770.1L621.5 770.6L621.9 771.2L622.4 772.1L622.7 772.6L623.0 773.1L623.4 774.0L623.7 774.6L623.9 775.2L624.2 776.1L624.4 776.7L624.6 777.6L624.8 778.6L624.9 779.6L624.9 780.6L624.8 781.6L624.7 782.6L624.5 783.6L624.3 784.1L624.0 785.1L623.8 785.6L623.4 786.6L623.2 787.1L622.9 787.6L622.4 788.5L622.1 789.1L621.7 789.6L621.4 790.1L620.9 790.9L620.4 791.6L620.0 792.1L619.6 792.6L619.2 793.1L618.8 793.6L618.4 794.1L617.9 794.7L617.4 795.3L616.9 795.9L616.4 796.5L615.9 797.0L615.4 797.6L614.9 798.1L614.4 798.6L614.0 799.1L613.5 799.6L613.0 800.1L612.6 800.6L612.1 801.1L611.6 801.6L611.1 802.1L610.6 802.6L610.1 803.1L609.6 803.6L609.1 804.1L608.6 804.6L608.1 805.1L607.6 805.6L607.1 806.1L606.6 806.6L606.0 807.1L605.5 807.6L605.0 808.1L604.5 808.6L603.9 809.1L603.4 809.6L602.9 810.0L602.4 810.5L601.9 810.9L601.4 811.4L600.9 811.8L600.4 812.2L599.9 812.6L599.3 813.1L598.7 813.6L598.1 814.1L597.4 814.6L596.9 815.0L596.4 815.3L595.9 815.7L595.2 816.1L594.4 816.6L593.9 816.9L593.4 817.2L592.5 817.6L591.9 817.9L591.4 818.1L590.4 818.5L589.9 818.6L588.9 818.9L587.9 819.1L587.4 819.1Z" fill="none" stroke="#582a82" stroke-width="3.1" stroke-linejoin="round"/>
<path d="M587.9 804.6L586.9 804.7L585.9 804.8L584.9 804.7L583.9 804.6L583.4 804.5L582.4 804.3L581.4 804.1L580.9 803.9L580.0 803.6L579.4 803.4L578.8 803.1L577.9 802.7L577.4 802.4L576.8 802.1L576.0 801.6L575.4 801.2L574.9 800.9L574.4 800.6L573.8 800.1L573.1 799.6L572.5 799.1L571.9 798.6L571.4 798.2L570.9 797.7L570.4 797.3L569.9 796.8L569.4 796.3L568.9 795.8L568.4 795.2L567.9 794.6L567.4 794.1L567.0 793.6L566.6 793.1L566.2 792.6L565.9 792.1L565.4 791.4L564.9 790.7L564.6 790.1L564.3 789.6L563.9 788.9L563.5 788.1L563.2 787.6L562.9 786.8L562.6 786.1L562.4 785.5L562.1 784.6L561.9 783.7L561.8 783.1L561.6 782.1L561.6 781.1L561.5 780.1L561.6 779.1L561.7 778.1L561.9 777.1L562.0 776.6L562.2 775.6L562.4 775.1L562.8 774.1L563.0 773.6L563.4 772.6L563.7 772.1L563.9 771.6L564.4 770.8L564.8 770.1L565.1 769.6L565.5 769.1L565.9 768.5L566.4 767.8L566.9 767.2L567.3 766.6L567.8 766.1L568.2 765.6L568.7 765.1L569.1 764.6L569.6 764.1L570.1 763.6L570.7 763.1L571.2 762.6L571.8 762.1L572.4 761.6L572.9 761.2L573.4 760.8L573.9 760.4L574.4 760.0L575.0 759.6L575.8 759.1L576.4 758.7L576.9 758.4L577.5 758.1L578.4 757.7L578.9 757.4L579.7 757.1L580.4 756.8L581.1 756.6L581.9 756.4L582.9 756.1L583.4 756.1L584.4 755.9L585.4 755.8L586.4 755.8L587.4 755.9L588.4 756.0L588.9 756.1L589.9 756.3L590.9 756.6L591.4 756.8L592.3 757.1L592.9 757.3L593.5 757.6L594.4 758.1L594.9 758.3L595.4 758.6L596.2 759.1L596.9 759.6L597.4 759.9L597.9 760.2L598.4 760.6L599.0 761.1L599.6 761.6L600.2 762.1L600.8 762.6L601.3 763.1L601.9 763.6L602.4 764.1L602.9 764.6L603.3 765.1L603.8 765.6L604.2 766.1L604.7 766.6L605.1 767.1L605.5 767.6L605.9 768.2L606.4 768.9L606.9 769.6L607.2 770.1L607.5 770.6L607.9 771.3L608.3 772.1L608.6 772.6L608.9 773.3L609.2 774.1L609.4 774.6L609.8 775.6L609.9 776.1L610.1 777.1L610.3 778.1L610.4 778.9L610.4 779.6L610.5 780.6L610.4 781.6L610.4 782.1L610.2 783.1L610.0 784.1L609.9 784.6L609.6 785.6L609.4 786.1L609.0 787.1L608.8 787.6L608.4 788.4L608.0 789.1L607.7 789.6L607.4 790.2L606.9 791.0L606.5 791.6L606.1 792.1L605.8 792.6L605.4 793.1L604.9 793.7L604.4 794.3L603.9 794.9L603.4 795.4L602.9 796.0L602.4 796.5L601.9 797.0L601.4 797.5L600.9 797.9L600.4 798.4L599.9 798.8L599.4 799.2L598.9 799.6L598.2 800.1L597.5 800.6L596.9 801.0L596.4 801.4L595.9 801.7L595.2 802.1L594.4 802.5L593.9 802.8L593.2 803.1L592.4 803.5L591.9 803.7L590.9 804.0L590.4 804.1L589.4 804.4L588.4 804.6L587.9 804.6Z" fill="none" stroke="#b3437b" stroke-width="3.0" stroke-linejoin="round"/>
<path d="M588.4 792.6L587.4 792.8L586.4 792.9L585.4 792.8L584.4 792.7L583.6 792.6L582.9 792.4L581.9 792.1L581.4 791.9L580.8 791.6L579.9 791.1L579.4 790.8L578.9 790.5L578.4 790.1L577.8 789.6L577.3 789.1L576.8 788.6L576.4 788.1L575.9 787.5L575.4 786.8L575.0 786.1L574.7 785.6L574.4 784.9L574.1 784.1L573.9 783.5L573.7 782.6L573.5 781.6L573.4 780.6L573.5 779.6L573.6 778.6L573.8 777.6L573.9 777.1L574.2 776.1L574.4 775.6L574.9 774.7L575.2 774.1L575.5 773.6L575.9 773.1L576.4 772.5L576.9 771.9L577.4 771.4L577.9 770.9L578.4 770.5L578.9 770.1L579.7 769.6L580.4 769.2L580.9 768.9L581.6 768.6L582.4 768.3L583.2 768.1L583.9 767.9L584.9 767.8L585.9 767.7L586.9 767.8L587.9 767.9L588.8 768.1L589.4 768.3L590.4 768.6L590.9 768.8L591.4 769.1L592.3 769.6L592.9 770.0L593.4 770.4L593.9 770.8L594.4 771.2L594.9 771.7L595.4 772.2L595.9 772.8L596.4 773.5L596.8 774.1L597.1 774.6L597.4 775.3L597.8 776.1L597.9 776.6L598.2 777.6L598.4 778.4L598.5 779.1L598.6 780.1L598.5 781.1L598.4 782.1L598.3 782.6L598.1 783.6L597.9 784.1L597.5 785.1L597.3 785.6L596.9 786.3L596.4 787.1L596.0 787.6L595.6 788.1L595.2 788.6L594.7 789.1L594.2 789.6L593.6 790.1L592.9 790.6L592.4 790.9L591.9 791.2L591.2 791.6L590.4 792.0L589.9 792.2L588.9 792.5L588.4 792.6Z" fill="none" stroke="#f0623e" stroke-width="3.0" stroke-linejoin="round"/>
</g>
<rect x="501.4" y="700.1" width="168.5" height="160.0" fill="none" stroke="#111" stroke-width="1.8"/>
<path d="M100.8 886.8 H669.5 V1288.3 H100.8 Z M100.8 1181.2 H669.5" fill="none" stroke="#2a2a2a" stroke-width="1.3"/>
<line x1="126.7" y1="1181.2" x2="126.7" y2="1172.2" stroke="#2a2a2a" stroke-width="1.3"/>
<line x1="126.7" y1="1288.3" x2="126.7" y2="1279.3" stroke="#2a2a2a" stroke-width="1.3"/>
<text x="125.5" y="1317.1" font-size="20" text-anchor="middle" fill="#111" >5</text>
<line x1="255.9" y1="1181.2" x2="255.9" y2="1172.2" stroke="#2a2a2a" stroke-width="1.3"/>
<line x1="255.9" y1="1288.3" x2="255.9" y2="1279.3" stroke="#2a2a2a" stroke-width="1.3"/>
<text x="254.7" y="1317.1" font-size="20" text-anchor="middle" fill="#111" >10</text>
<line x1="385.2" y1="1181.2" x2="385.2" y2="1172.2" stroke="#2a2a2a" stroke-width="1.3"/>
<line x1="385.2" y1="1288.3" x2="385.2" y2="1279.3" stroke="#2a2a2a" stroke-width="1.3"/>
<text x="384" y="1317.1" font-size="20" text-anchor="middle" fill="#111" >15</text>
<line x1="514.4" y1="1181.2" x2="514.4" y2="1172.2" stroke="#2a2a2a" stroke-width="1.3"/>
<line x1="514.4" y1="1288.3" x2="514.4" y2="1279.3" stroke="#2a2a2a" stroke-width="1.3"/>
<text x="513.2" y="1317.1" font-size="20" text-anchor="middle" fill="#111" >20</text>
<line x1="643.6" y1="1181.2" x2="643.6" y2="1172.2" stroke="#2a2a2a" stroke-width="1.3"/>
<line x1="643.6" y1="1288.3" x2="643.6" y2="1279.3" stroke="#2a2a2a" stroke-width="1.3"/>
<text x="642.4" y="1317.1" font-size="20" text-anchor="middle" fill="#111" >25</text>
<text x="87.6" y="893.8" font-size="20" text-anchor="end" fill="#111" textLength="27" lengthAdjust="spacingAndGlyphs" >1.5</text>
<line x1="100.8" y1="999.8" x2="106.8" y2="999.8" stroke="#2a2a2a" stroke-width="1.3"/>
<text x="87.6" y="1006.8" font-size="20" text-anchor="end" fill="#111" textLength="29.6" lengthAdjust="spacingAndGlyphs" >1.0</text>
<line x1="100.8" y1="1112.8" x2="106.8" y2="1112.8" stroke="#2a2a2a" stroke-width="1.3"/>
<text x="87.6" y="1119.8" font-size="20" text-anchor="end" fill="#111" textLength="31.6" lengthAdjust="spacingAndGlyphs" >0.5</text>
<line x1="100.8" y1="1211.8" x2="110.8" y2="1211.8" stroke="#2a2a2a" stroke-width="1.3"/>
<text x="87.2" y="1218.8" font-size="20" text-anchor="end" fill="#111" textLength="26.5" lengthAdjust="spacingAndGlyphs" >0.1</text>
<line x1="100.8" y1="1250" x2="110.8" y2="1250" stroke="#2a2a2a" stroke-width="1.3"/>
<text x="87.2" y="1257" font-size="20" text-anchor="end" fill="#111" textLength="44.6" lengthAdjust="spacingAndGlyphs" >0.05</text>
<text x="87.2" y="1295.3" font-size="20" text-anchor="end" fill="#111" textLength="13.5" lengthAdjust="spacingAndGlyphs" >0</text>
<clipPath id="cu"><rect x="100.8" y="886.8" width="568.7" height="294.4000000000001"/></clipPath>
<path d="M100.8 1165.3 L107.3 1164.5 L113.7 1163.7 L120.2 1162.8 L126.7 1161.8 L133.1 1160.8 L139.6 1159.8 L146 1158.7 L152.5 1157.6 L159 1156.4 L165.4 1155.1 L171.9 1153.8 L178.4 1152.5 L184.8 1151.1 L191.3 1149.7 L197.7 1148.2 L204.2 1146.7 L210.7 1145.1 L217.1 1143.5 L223.6 1141.8 L230.1 1140.1 L236.5 1138.3 L243 1136.5 L249.4 1134.6 L255.9 1132.7 L262.4 1130.7 L268.8 1128.7 L275.3 1126.6 L281.8 1124.5 L288.2 1122.4 L294.7 1120.2 L301.1 1117.9 L307.6 1115.6 L314.1 1113.2 L320.5 1110.8 L327 1108.4 L333.4 1105.9 L339.9 1103.3 L346.4 1100.7 L352.8 1098.1 L359.3 1095.4 L365.8 1092.6 L372.2 1089.8 L378.7 1087 L385.2 1084.1 L391.6 1081.2 L398.1 1078.2 L404.5 1075.1 L411 1072 L417.5 1068.9 L423.9 1065.7 L430.4 1062.5 L436.9 1059.2 L443.3 1055.9 L449.8 1052.5 L456.2 1049.1 L462.7 1045.6 L469.2 1042.1 L475.6 1038.5 L482.1 1034.9 L488.6 1031.2 L495 1027.5 L501.5 1023.7 L507.9 1019.9 L514.4 1016.1 L520.9 1012.2 L527.3 1008.2 L533.8 1004.2 L540.2 1000.1 L546.7 996 L553.2 991.9 L559.6 987.7 L566.1 983.4 L572.6 979.1 L579 974.8 L585.5 970.4 L592 965.9 L598.4 961.4 L604.9 956.9 L611.3 952.3 L617.8 947.7 L624.3 943 L630.7 938.2 L637.2 933.4 L643.6 928.6 L650.1 923.7 L656.6 918.8 L663 913.8 L669.5 908.8" fill="none" stroke="#9DB6E0" stroke-width="5.5" stroke-linejoin="round" stroke-linecap="butt" clip-path="url(#cu)"/>
<circle cx="152.5" cy="1149" r="7.2" fill="#4876C0"/>
<circle cx="255.9" cy="1133.5" r="7.2" fill="#4876C0"/>
<circle cx="385.2" cy="1079" r="7.2" fill="#4876C0"/>
<circle cx="514.4" cy="1040.3" r="7.2" fill="#4876C0"/>
<circle cx="643.6" cy="911.6" r="7.2" fill="#4876C0"/>
<line x1="100.8" y1="1234.0" x2="669.5" y2="1234.0" stroke="#8a8a8a" stroke-width="3.5"/>
<circle cx="152.5" cy="1228.6" r="7.1" fill="#000"/>
<circle cx="255.9" cy="1227.0" r="7.1" fill="#000"/>
<circle cx="385.2" cy="1246.0" r="7.1" fill="#000"/>
<circle cx="514.4" cy="1218.5" r="7.1" fill="#000"/>
<circle cx="643.6" cy="1249.0" r="7.1" fill="#000"/>
<circle cx="161.9" cy="945.2" r="7" fill="#4876C0"/>
<circle cx="161.9" cy="979.6" r="7" fill="#000"/>
<text x="180.6" y="949.4" font-size="25" fill="#4876C0" font-style="italic">γ</text>
<text x="195.8" y="955.5" font-size="16.5" text-anchor="start" fill="#4876C0" textLength="60" lengthAdjust="spacingAndGlyphs" >intrinsic</text>
<text x="180.6" y="985" font-size="25" fill="#000" font-style="italic">γ</text>
<text x="195.8" y="991.6" font-size="17" text-anchor="start" fill="#000" textLength="63.5" lengthAdjust="spacingAndGlyphs" >disorder</text>
<text x="385" y="1354.8" font-size="25" text-anchor="middle" fill="#111" textLength="182.4" lengthAdjust="spacingAndGlyphs" >Temperature (K)</text>
<text transform="translate(20.6 1086.8) rotate(-90)" font-size="24.5" text-anchor="middle" fill="#111" textLength="327" lengthAdjust="spacingAndGlyphs">Deconvolved linewidth (THz)</text>
</svg>
</body></html>
